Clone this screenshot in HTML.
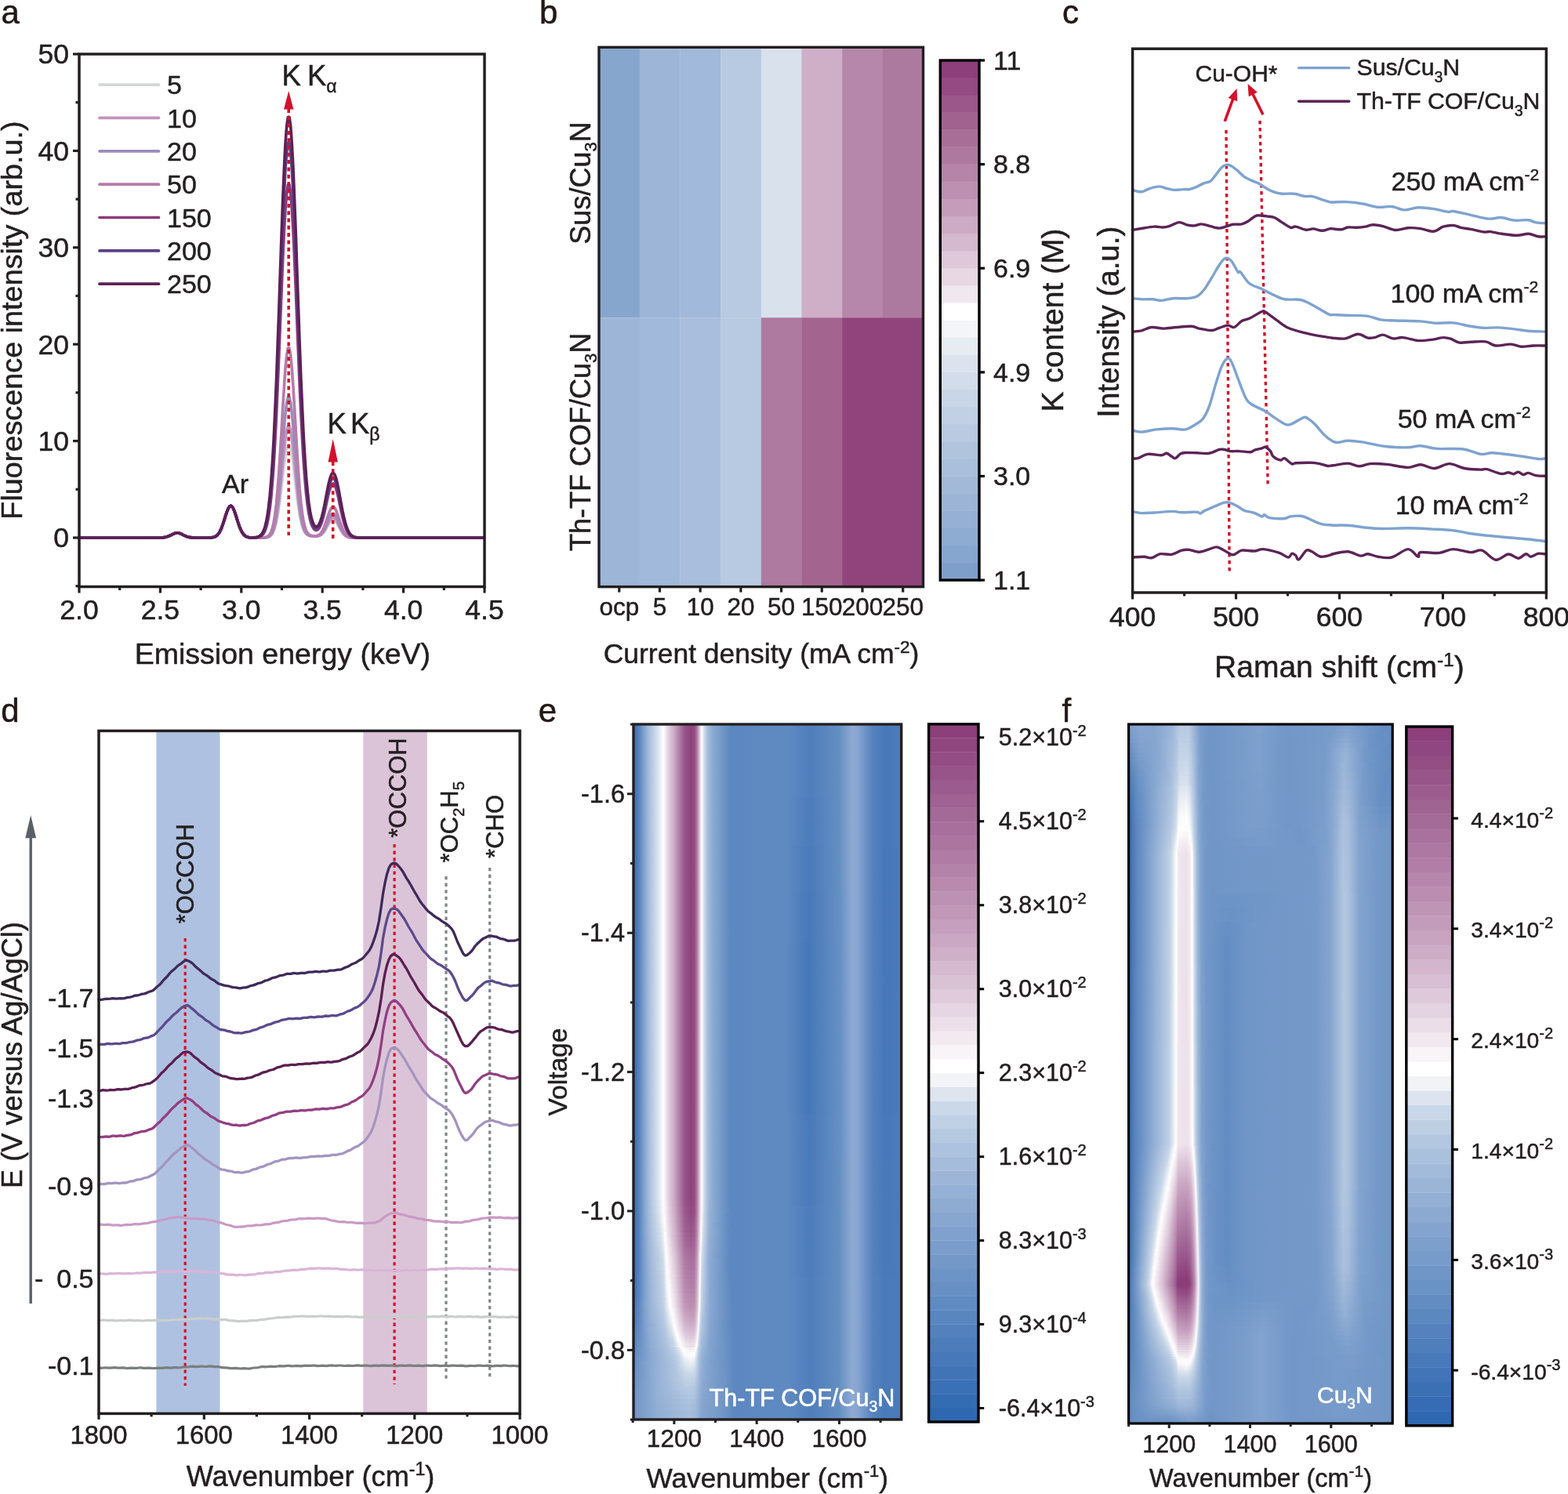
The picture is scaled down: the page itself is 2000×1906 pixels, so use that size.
<!DOCTYPE html>
<html><head><meta charset="utf-8"><title>Figure</title>
<style>html,body{margin:0;padding:0;background:#fff;}svg{display:block;}</style>
</head><body>
<svg width="2000" height="1906" viewBox="0 0 2000 1906" font-family="&apos;Liberation Sans&apos;, Arial, Helvetica, sans-serif">
<rect width="2000" height="1906" fill="#fff"/>
<text x="1.4" y="30.3" font-size="42" fill="#231815" stroke="#231815" stroke-width="0.5">a</text>
<path d="M101 686 102.7 686 104.3 686 106 686 107.6 686 109.3 686 110.9 686 112.6 686 114.2 686 115.9 686 117.5 686 119.2 686 120.9 686 122.5 686 124.2 686 125.8 686 127.5 686 129.1 686 130.8 686 132.4 686 134.1 686 135.7 686 137.4 686 139.1 686 140.7 686 142.4 686 144 686 145.7 686 147.3 686 149 686 150.6 686 152.3 686 153.9 686 155.6 686 157.2 686 158.9 686 160.6 686 162.2 686 163.9 686 165.5 686 167.2 686 168.8 686 170.5 686 172.1 686 173.8 686 175.4 686 177.1 686 178.8 686 180.4 686 182.1 686 183.7 686 185.4 686 187 686 188.7 686 190.3 686 192 686 193.6 686 195.3 686 197 686 198.6 686 200.3 686 201.9 686 203.6 686 205.2 685.9 206.9 685.8 208.5 685.7 210.2 685.5 211.8 685.1 213.5 684.6 215.2 684 216.8 683.3 218.5 682.5 220.1 681.6 221.8 680.8 223.4 680.2 225.1 679.9 226.7 679.9 228.4 680.1 230 680.7 231.7 681.4 233.4 682.3 235 683.1 236.7 683.9 238.3 684.5 240 685 241.6 685.4 243.3 685.6 244.9 685.8 246.6 685.9 248.2 685.9 249.9 686 251.6 686 253.2 686 254.9 686 256.5 686 258.2 686 259.8 686 261.5 686 263.1 686 264.8 686 266.4 685.9 268.1 685.9 269.7 685.8 271.4 685.5 273.1 685.2 274.7 684.5 276.4 683.4 278 681.8 279.7 679.5 281.3 676.4 283 672.5 284.6 667.8 286.3 662.6 287.9 657.3 289.6 652.4 291.3 648.5 292.9 646 294.6 645.3 296.2 646.5 297.9 649.4 299.5 653.6 301.2 658.6 302.8 664 304.5 669.1 306.1 673.6 307.8 677.3 309.5 680.2 311.1 682.3 312.8 683.7 314.4 684.7 316.1 685.3 317.7 685.6 319.4 685.8 321 685.9 322.7 686 324.3 686 326 686 327.7 686 329.3 686 331 686 332.6 686 334.3 686 335.9 685.9 337.6 685.9 339.2 685.7 340.9 685.5 342.5 685 344.2 684.2 345.9 682.9 347.5 680.8 349.2 677.6 350.8 672.9 352.5 666.5 354.1 658.1 355.8 647.5 357.4 635.1 359.1 621.3 360.7 607 362.4 593.3 364 581.4 365.7 572.7 367.4 568.1 369 568.1 370.7 572.7 372.3 581.3 374 593.1 375.6 606.8 377.3 621 378.9 634.7 380.6 647 382.2 657.4 383.9 665.7 385.6 671.9 387.2 676.4 388.9 679.4 390.5 681.4 392.2 682.6 393.8 683.2 395.5 683.6 397.1 683.9 398.8 684 400.4 684.1 402.1 684.1 403.8 684.1 405.4 684 407.1 683.6 408.7 682.9 410.4 681.9 412 680.3 413.7 678.3 415.3 675.8 417 673 418.6 670.1 420.3 667.4 422 665.3 423.6 664 425.3 663.8 426.9 664.6 428.6 666.4 430.2 668.9 431.9 671.8 433.5 674.7 435.2 677.5 436.8 679.9 438.5 681.9 440.2 683.3 441.8 684.3 443.5 685 445.1 685.5 446.8 685.7 448.4 685.9 450.1 685.9 451.7 686 453.4 686 455 686 456.7 686 458.4 686 460 686 461.7 686 463.3 686 465 686 466.6 686 468.3 686 469.9 686 471.6 686 473.2 686 474.9 686 476.5 686 478.2 686 479.9 686 481.5 686 483.2 686 484.8 686 486.5 686 488.1 686 489.8 686 491.4 686 493.1 686 494.7 686 496.4 686 498.1 686 499.7 686 501.4 686 503 686 504.7 686 506.3 686 508 686 509.6 686 511.3 686 512.9 686 514.6 686 516.3 686 517.9 686 519.6 686 521.2 686 522.9 686 524.5 686 526.2 686 527.8 686 529.5 686 531.1 686 532.8 686 534.5 686 536.1 686 537.8 686 539.4 686 541.1 686 542.7 686 544.4 686 546 686 547.7 686 549.3 686 551 686 552.7 686 554.3 686 556 686 557.6 686 559.3 686 560.9 686 562.6 686 564.2 686 565.9 686 567.5 686 569.2 686 570.8 686 572.5 686 574.2 686 575.8 686 577.5 686 579.1 686 580.8 686 582.4 686 584.1 686 585.7 686 587.4 686 589 686 590.7 686 592.4 686 594 686 595.7 686 597.3 686 599 686 600.6 686 602.3 686 603.9 686 605.6 686 607.2 686 608.9 686 610.6 686 612.2 686 613.9 686 615.5 686 617.2 686" fill="none" stroke="#d4d7d6" stroke-width="3.7" stroke-linejoin="round" stroke-linecap="round"/>
<path d="M101 686 102.7 686 104.3 686 106 686 107.6 686 109.3 686 110.9 686 112.6 686 114.2 686 115.9 686 117.5 686 119.2 686 120.9 686 122.5 686 124.2 686 125.8 686 127.5 686 129.1 686 130.8 686 132.4 686 134.1 686 135.7 686 137.4 686 139.1 686 140.7 686 142.4 686 144 686 145.7 686 147.3 686 149 686 150.6 686 152.3 686 153.9 686 155.6 686 157.2 686 158.9 686 160.6 686 162.2 686 163.9 686 165.5 686 167.2 686 168.8 686 170.5 686 172.1 686 173.8 686 175.4 686 177.1 686 178.8 686 180.4 686 182.1 686 183.7 686 185.4 686 187 686 188.7 686 190.3 686 192 686 193.6 686 195.3 686 197 686 198.6 686 200.3 686 201.9 686 203.6 686 205.2 685.9 206.9 685.8 208.5 685.7 210.2 685.5 211.8 685.1 213.5 684.6 215.2 684 216.8 683.3 218.5 682.5 220.1 681.6 221.8 680.8 223.4 680.2 225.1 679.9 226.7 679.9 228.4 680.1 230 680.7 231.7 681.4 233.4 682.3 235 683.1 236.7 683.9 238.3 684.5 240 685 241.6 685.4 243.3 685.6 244.9 685.8 246.6 685.9 248.2 685.9 249.9 686 251.6 686 253.2 686 254.9 686 256.5 686 258.2 686 259.8 686 261.5 686 263.1 686 264.8 686 266.4 685.9 268.1 685.9 269.7 685.8 271.4 685.5 273.1 685.2 274.7 684.5 276.4 683.4 278 681.8 279.7 679.5 281.3 676.4 283 672.5 284.6 667.8 286.3 662.6 287.9 657.3 289.6 652.4 291.3 648.5 292.9 646 294.6 645.3 296.2 646.5 297.9 649.4 299.5 653.6 301.2 658.6 302.8 664 304.5 669.1 306.1 673.6 307.8 677.3 309.5 680.2 311.1 682.3 312.8 683.7 314.4 684.7 316.1 685.3 317.7 685.6 319.4 685.8 321 685.9 322.7 686 324.3 686 326 686 327.7 686 329.3 686 331 686 332.6 686 334.3 686 335.9 685.9 337.6 685.8 339.2 685.7 340.9 685.4 342.5 684.8 344.2 683.9 345.9 682.3 347.5 679.7 349.2 675.8 350.8 670.2 352.5 662.5 354.1 652.3 355.8 639.5 357.4 624.5 359.1 607.8 360.7 590.5 362.4 574 364 559.7 365.7 549.1 367.4 543.5 369 543.5 370.7 549.1 372.3 559.6 374 573.8 375.6 590.3 377.3 607.5 378.9 624.1 380.6 639 382.2 651.6 383.9 661.6 385.6 669.2 387.2 674.6 388.9 678.3 390.5 680.7 392.2 682.2 393.8 683 395.5 683.5 397.1 683.8 398.8 684 400.4 684.1 402.1 684.1 403.8 684 405.4 683.8 407.1 683.4 408.7 682.6 410.4 681.3 412 679.5 413.7 677.1 415.3 674.2 417 670.9 418.6 667.5 420.3 664.4 422 661.9 423.6 660.4 425.3 660.1 426.9 661 428.6 663.1 430.2 666 431.9 669.4 433.5 672.9 435.2 676.1 436.8 678.9 438.5 681.2 440.2 682.9 441.8 684.1 443.5 684.9 445.1 685.4 446.8 685.7 448.4 685.8 450.1 685.9 451.7 686 453.4 686 455 686 456.7 686 458.4 686 460 686 461.7 686 463.3 686 465 686 466.6 686 468.3 686 469.9 686 471.6 686 473.2 686 474.9 686 476.5 686 478.2 686 479.9 686 481.5 686 483.2 686 484.8 686 486.5 686 488.1 686 489.8 686 491.4 686 493.1 686 494.7 686 496.4 686 498.1 686 499.7 686 501.4 686 503 686 504.7 686 506.3 686 508 686 509.6 686 511.3 686 512.9 686 514.6 686 516.3 686 517.9 686 519.6 686 521.2 686 522.9 686 524.5 686 526.2 686 527.8 686 529.5 686 531.1 686 532.8 686 534.5 686 536.1 686 537.8 686 539.4 686 541.1 686 542.7 686 544.4 686 546 686 547.7 686 549.3 686 551 686 552.7 686 554.3 686 556 686 557.6 686 559.3 686 560.9 686 562.6 686 564.2 686 565.9 686 567.5 686 569.2 686 570.8 686 572.5 686 574.2 686 575.8 686 577.5 686 579.1 686 580.8 686 582.4 686 584.1 686 585.7 686 587.4 686 589 686 590.7 686 592.4 686 594 686 595.7 686 597.3 686 599 686 600.6 686 602.3 686 603.9 686 605.6 686 607.2 686 608.9 686 610.6 686 612.2 686 613.9 686 615.5 686 617.2 686" fill="none" stroke="#c393bf" stroke-width="3.7" stroke-linejoin="round" stroke-linecap="round"/>
<path d="M101 686 102.7 686 104.3 686 106 686 107.6 686 109.3 686 110.9 686 112.6 686 114.2 686 115.9 686 117.5 686 119.2 686 120.9 686 122.5 686 124.2 686 125.8 686 127.5 686 129.1 686 130.8 686 132.4 686 134.1 686 135.7 686 137.4 686 139.1 686 140.7 686 142.4 686 144 686 145.7 686 147.3 686 149 686 150.6 686 152.3 686 153.9 686 155.6 686 157.2 686 158.9 686 160.6 686 162.2 686 163.9 686 165.5 686 167.2 686 168.8 686 170.5 686 172.1 686 173.8 686 175.4 686 177.1 686 178.8 686 180.4 686 182.1 686 183.7 686 185.4 686 187 686 188.7 686 190.3 686 192 686 193.6 686 195.3 686 197 686 198.6 686 200.3 686 201.9 686 203.6 686 205.2 685.9 206.9 685.8 208.5 685.7 210.2 685.5 211.8 685.1 213.5 684.6 215.2 684 216.8 683.3 218.5 682.5 220.1 681.6 221.8 680.8 223.4 680.2 225.1 679.9 226.7 679.9 228.4 680.1 230 680.7 231.7 681.4 233.4 682.3 235 683.1 236.7 683.9 238.3 684.5 240 685 241.6 685.4 243.3 685.6 244.9 685.8 246.6 685.9 248.2 685.9 249.9 686 251.6 686 253.2 686 254.9 686 256.5 686 258.2 686 259.8 686 261.5 686 263.1 686 264.8 686 266.4 685.9 268.1 685.9 269.7 685.8 271.4 685.5 273.1 685.2 274.7 684.5 276.4 683.4 278 681.8 279.7 679.5 281.3 676.4 283 672.5 284.6 667.8 286.3 662.6 287.9 657.3 289.6 652.4 291.3 648.5 292.9 646 294.6 645.3 296.2 646.5 297.9 649.4 299.5 653.6 301.2 658.6 302.8 664 304.5 669.1 306.1 673.6 307.8 677.3 309.5 680.2 311.1 682.3 312.8 683.7 314.4 684.7 316.1 685.3 317.7 685.6 319.4 685.8 321 685.9 322.7 686 324.3 686 326 686 327.7 686 329.3 686 331 686 332.6 686 334.3 686 335.9 685.9 337.6 685.8 339.2 685.6 340.9 685.2 342.5 684.5 344.2 683.3 345.9 681.3 347.5 678.1 349.2 673.2 350.8 666.1 352.5 656.4 354.1 643.5 355.8 627.5 357.4 608.6 359.1 587.6 360.7 565.8 362.4 545 364 527 365.7 513.7 367.4 506.7 369 506.7 370.7 513.7 372.3 526.9 374 544.8 375.6 565.6 377.3 587.3 378.9 608.2 380.6 627 382.2 642.8 383.9 655.5 385.6 665.1 387.2 672 388.9 676.7 390.5 679.7 392.2 681.6 393.8 682.7 395.5 683.4 397.1 683.7 398.8 683.9 400.4 684 402.1 684.1 403.8 684 405.4 683.7 407.1 683.1 408.7 682.1 410.4 680.6 412 678.4 413.7 675.5 415.3 672 417 668.1 418.6 664 420.3 660.3 422 657.3 423.6 655.5 425.3 655.2 426.9 656.3 428.6 658.8 430.2 662.2 431.9 666.2 433.5 670.4 435.2 674.2 436.8 677.6 438.5 680.3 440.2 682.3 441.8 683.7 443.5 684.6 445.1 685.2 446.8 685.6 448.4 685.8 450.1 685.9 451.7 686 453.4 686 455 686 456.7 686 458.4 686 460 686 461.7 686 463.3 686 465 686 466.6 686 468.3 686 469.9 686 471.6 686 473.2 686 474.9 686 476.5 686 478.2 686 479.9 686 481.5 686 483.2 686 484.8 686 486.5 686 488.1 686 489.8 686 491.4 686 493.1 686 494.7 686 496.4 686 498.1 686 499.7 686 501.4 686 503 686 504.7 686 506.3 686 508 686 509.6 686 511.3 686 512.9 686 514.6 686 516.3 686 517.9 686 519.6 686 521.2 686 522.9 686 524.5 686 526.2 686 527.8 686 529.5 686 531.1 686 532.8 686 534.5 686 536.1 686 537.8 686 539.4 686 541.1 686 542.7 686 544.4 686 546 686 547.7 686 549.3 686 551 686 552.7 686 554.3 686 556 686 557.6 686 559.3 686 560.9 686 562.6 686 564.2 686 565.9 686 567.5 686 569.2 686 570.8 686 572.5 686 574.2 686 575.8 686 577.5 686 579.1 686 580.8 686 582.4 686 584.1 686 585.7 686 587.4 686 589 686 590.7 686 592.4 686 594 686 595.7 686 597.3 686 599 686 600.6 686 602.3 686 603.9 686 605.6 686 607.2 686 608.9 686 610.6 686 612.2 686 613.9 686 615.5 686 617.2 686" fill="none" stroke="#9c8bba" stroke-width="3.7" stroke-linejoin="round" stroke-linecap="round"/>
<path d="M101 686 102.7 686 104.3 686 106 686 107.6 686 109.3 686 110.9 686 112.6 686 114.2 686 115.9 686 117.5 686 119.2 686 120.9 686 122.5 686 124.2 686 125.8 686 127.5 686 129.1 686 130.8 686 132.4 686 134.1 686 135.7 686 137.4 686 139.1 686 140.7 686 142.4 686 144 686 145.7 686 147.3 686 149 686 150.6 686 152.3 686 153.9 686 155.6 686 157.2 686 158.9 686 160.6 686 162.2 686 163.9 686 165.5 686 167.2 686 168.8 686 170.5 686 172.1 686 173.8 686 175.4 686 177.1 686 178.8 686 180.4 686 182.1 686 183.7 686 185.4 686 187 686 188.7 686 190.3 686 192 686 193.6 686 195.3 686 197 686 198.6 686 200.3 686 201.9 686 203.6 686 205.2 685.9 206.9 685.8 208.5 685.7 210.2 685.5 211.8 685.1 213.5 684.6 215.2 684 216.8 683.3 218.5 682.5 220.1 681.6 221.8 680.8 223.4 680.2 225.1 679.9 226.7 679.9 228.4 680.1 230 680.7 231.7 681.4 233.4 682.3 235 683.1 236.7 683.9 238.3 684.5 240 685 241.6 685.4 243.3 685.6 244.9 685.8 246.6 685.9 248.2 685.9 249.9 686 251.6 686 253.2 686 254.9 686 256.5 686 258.2 686 259.8 686 261.5 686 263.1 686 264.8 686 266.4 685.9 268.1 685.9 269.7 685.8 271.4 685.5 273.1 685.2 274.7 684.5 276.4 683.4 278 681.8 279.7 679.5 281.3 676.4 283 672.5 284.6 667.8 286.3 662.6 287.9 657.3 289.6 652.4 291.3 648.5 292.9 646 294.6 645.3 296.2 646.5 297.9 649.4 299.5 653.6 301.2 658.6 302.8 664 304.5 669.1 306.1 673.6 307.8 677.3 309.5 680.2 311.1 682.3 312.8 683.7 314.4 684.7 316.1 685.3 317.7 685.6 319.4 685.8 321 685.9 322.7 686 324.3 686 326 686 327.7 686 329.3 686 331 686 332.6 686 334.3 685.9 335.9 685.8 337.6 685.6 339.2 685.3 340.9 684.6 342.5 683.5 344.2 681.6 345.9 678.4 347.5 673.6 349.2 666.4 350.8 656.2 352.5 642.4 354.1 624.6 355.8 602.7 357.4 577.2 359.1 549.3 360.7 520.7 362.4 493.5 364 470.2 365.7 453.1 367.4 444 369 444 370.7 453 372.3 470.1 374 493.3 375.6 520.4 377.3 549 378.9 576.8 380.6 602.1 382.2 623.9 383.9 641.5 385.6 655.2 387.2 665.2 388.9 672.2 390.5 676.9 392.2 679.9 393.8 681.7 395.5 682.8 397.1 683.4 398.8 683.7 400.4 683.8 402.1 683.8 403.8 683.6 405.4 683.1 407.1 682.2 408.7 680.8 410.4 678.6 412 675.7 413.7 671.9 415.3 667.4 417 662.4 418.6 657.4 420.3 652.8 422 649.1 423.6 647 425.3 646.5 426.9 647.9 428.6 650.9 430.2 655.1 431.9 660.1 433.5 665.3 435.2 670.2 436.8 674.4 438.5 678 440.2 680.7 441.8 682.6 443.5 684 445.1 684.8 446.8 685.3 448.4 685.7 450.1 685.8 451.7 685.9 453.4 686 455 686 456.7 686 458.4 686 460 686 461.7 686 463.3 686 465 686 466.6 686 468.3 686 469.9 686 471.6 686 473.2 686 474.9 686 476.5 686 478.2 686 479.9 686 481.5 686 483.2 686 484.8 686 486.5 686 488.1 686 489.8 686 491.4 686 493.1 686 494.7 686 496.4 686 498.1 686 499.7 686 501.4 686 503 686 504.7 686 506.3 686 508 686 509.6 686 511.3 686 512.9 686 514.6 686 516.3 686 517.9 686 519.6 686 521.2 686 522.9 686 524.5 686 526.2 686 527.8 686 529.5 686 531.1 686 532.8 686 534.5 686 536.1 686 537.8 686 539.4 686 541.1 686 542.7 686 544.4 686 546 686 547.7 686 549.3 686 551 686 552.7 686 554.3 686 556 686 557.6 686 559.3 686 560.9 686 562.6 686 564.2 686 565.9 686 567.5 686 569.2 686 570.8 686 572.5 686 574.2 686 575.8 686 577.5 686 579.1 686 580.8 686 582.4 686 584.1 686 585.7 686 587.4 686 589 686 590.7 686 592.4 686 594 686 595.7 686 597.3 686 599 686 600.6 686 602.3 686 603.9 686 605.6 686 607.2 686 608.9 686 610.6 686 612.2 686 613.9 686 615.5 686 617.2 686" fill="none" stroke="#b77cab" stroke-width="3.7" stroke-linejoin="round" stroke-linecap="round"/>
<path d="M101 686 102.7 686 104.3 686 106 686 107.6 686 109.3 686 110.9 686 112.6 686 114.2 686 115.9 686 117.5 686 119.2 686 120.9 686 122.5 686 124.2 686 125.8 686 127.5 686 129.1 686 130.8 686 132.4 686 134.1 686 135.7 686 137.4 686 139.1 686 140.7 686 142.4 686 144 686 145.7 686 147.3 686 149 686 150.6 686 152.3 686 153.9 686 155.6 686 157.2 686 158.9 686 160.6 686 162.2 686 163.9 686 165.5 686 167.2 686 168.8 686 170.5 686 172.1 686 173.8 686 175.4 686 177.1 686 178.8 686 180.4 686 182.1 686 183.7 686 185.4 686 187 686 188.7 686 190.3 686 192 686 193.6 686 195.3 686 197 686 198.6 686 200.3 686 201.9 686 203.6 686 205.2 685.9 206.9 685.8 208.5 685.7 210.2 685.5 211.8 685.1 213.5 684.6 215.2 684 216.8 683.3 218.5 682.5 220.1 681.6 221.8 680.8 223.4 680.2 225.1 679.9 226.7 679.9 228.4 680.1 230 680.7 231.7 681.4 233.4 682.3 235 683.1 236.7 683.9 238.3 684.5 240 685 241.6 685.4 243.3 685.6 244.9 685.8 246.6 685.9 248.2 685.9 249.9 686 251.6 686 253.2 686 254.9 686 256.5 686 258.2 686 259.8 686 261.5 686 263.1 686 264.8 686 266.4 685.9 268.1 685.9 269.7 685.8 271.4 685.5 273.1 685.2 274.7 684.5 276.4 683.4 278 681.8 279.7 679.5 281.3 676.4 283 672.5 284.6 667.8 286.3 662.6 287.9 657.3 289.6 652.4 291.3 648.5 292.9 646 294.6 645.3 296.2 646.5 297.9 649.4 299.5 653.6 301.2 658.6 302.8 664 304.5 669.1 306.1 673.6 307.8 677.3 309.5 680.2 311.1 682.3 312.8 683.7 314.4 684.7 316.1 685.3 317.7 685.6 319.4 685.8 321 685.9 322.7 685.9 324.3 685.9 326 685.8 327.7 685.6 329.3 685.3 331 684.9 332.6 684.1 334.3 682.9 335.9 681 337.6 678.1 339.2 674 340.9 668 342.5 659.7 344.2 648.5 345.9 633.7 347.5 614.9 349.2 591.6 350.8 563.5 352.5 530.8 354.1 493.9 355.8 453.9 357.4 412.1 359.1 370.3 360.7 330.6 362.4 295.3 364 266.5 365.7 246.2 367.4 235.6 369 235.5 370.7 246 372.3 266.2 374 294.8 375.6 330 377.3 369.4 378.9 410.9 380.6 452.4 382.2 492 383.9 528.4 385.6 560.6 387.2 588.2 388.9 611 390.5 629.4 392.2 643.7 393.8 654.6 395.5 662.6 397.1 668.4 398.8 672.3 400.4 674.8 402.1 676.1 403.8 676.4 405.4 675.6 407.1 673.7 408.7 670.7 410.4 666.4 412 660.9 413.7 654.4 415.3 647 417 639.3 418.6 631.9 420.3 625.4 422 620.4 423.6 617.4 425.3 616.9 426.9 618.8 428.6 622.9 430.2 628.9 431.9 636.2 433.5 644.1 435.2 652 436.8 659.4 438.5 665.9 440.2 671.4 441.8 675.7 443.5 679 445.1 681.5 446.8 683.1 448.4 684.3 450.1 685 451.7 685.4 453.4 685.7 455 685.8 456.7 685.9 458.4 686 460 686 461.7 686 463.3 686 465 686 466.6 686 468.3 686 469.9 686 471.6 686 473.2 686 474.9 686 476.5 686 478.2 686 479.9 686 481.5 686 483.2 686 484.8 686 486.5 686 488.1 686 489.8 686 491.4 686 493.1 686 494.7 686 496.4 686 498.1 686 499.7 686 501.4 686 503 686 504.7 686 506.3 686 508 686 509.6 686 511.3 686 512.9 686 514.6 686 516.3 686 517.9 686 519.6 686 521.2 686 522.9 686 524.5 686 526.2 686 527.8 686 529.5 686 531.1 686 532.8 686 534.5 686 536.1 686 537.8 686 539.4 686 541.1 686 542.7 686 544.4 686 546 686 547.7 686 549.3 686 551 686 552.7 686 554.3 686 556 686 557.6 686 559.3 686 560.9 686 562.6 686 564.2 686 565.9 686 567.5 686 569.2 686 570.8 686 572.5 686 574.2 686 575.8 686 577.5 686 579.1 686 580.8 686 582.4 686 584.1 686 585.7 686 587.4 686 589 686 590.7 686 592.4 686 594 686 595.7 686 597.3 686 599 686 600.6 686 602.3 686 603.9 686 605.6 686 607.2 686 608.9 686 610.6 686 612.2 686 613.9 686 615.5 686 617.2 686" fill="none" stroke="#8c3a7c" stroke-width="3.7" stroke-linejoin="round" stroke-linecap="round"/>
<path d="M101 686 102.7 686 104.3 686 106 686 107.6 686 109.3 686 110.9 686 112.6 686 114.2 686 115.9 686 117.5 686 119.2 686 120.9 686 122.5 686 124.2 686 125.8 686 127.5 686 129.1 686 130.8 686 132.4 686 134.1 686 135.7 686 137.4 686 139.1 686 140.7 686 142.4 686 144 686 145.7 686 147.3 686 149 686 150.6 686 152.3 686 153.9 686 155.6 686 157.2 686 158.9 686 160.6 686 162.2 686 163.9 686 165.5 686 167.2 686 168.8 686 170.5 686 172.1 686 173.8 686 175.4 686 177.1 686 178.8 686 180.4 686 182.1 686 183.7 686 185.4 686 187 686 188.7 686 190.3 686 192 686 193.6 686 195.3 686 197 686 198.6 686 200.3 686 201.9 686 203.6 686 205.2 685.9 206.9 685.8 208.5 685.7 210.2 685.5 211.8 685.1 213.5 684.6 215.2 684 216.8 683.3 218.5 682.5 220.1 681.6 221.8 680.8 223.4 680.2 225.1 679.9 226.7 679.9 228.4 680.1 230 680.7 231.7 681.4 233.4 682.3 235 683.1 236.7 683.9 238.3 684.5 240 685 241.6 685.4 243.3 685.6 244.9 685.8 246.6 685.9 248.2 685.9 249.9 686 251.6 686 253.2 686 254.9 686 256.5 686 258.2 686 259.8 686 261.5 686 263.1 686 264.8 686 266.4 685.9 268.1 685.9 269.7 685.8 271.4 685.5 273.1 685.2 274.7 684.5 276.4 683.4 278 681.8 279.7 679.5 281.3 676.4 283 672.5 284.6 667.8 286.3 662.6 287.9 657.3 289.6 652.4 291.3 648.5 292.9 646 294.6 645.3 296.2 646.5 297.9 649.4 299.5 653.6 301.2 658.6 302.8 664 304.5 669.1 306.1 673.6 307.8 677.3 309.5 680.2 311.1 682.3 312.8 683.7 314.4 684.7 316.1 685.3 317.7 685.6 319.4 685.8 321 685.9 322.7 685.9 324.3 685.8 326 685.7 327.7 685.5 329.3 685.1 331 684.4 332.6 683.4 334.3 681.8 335.9 679.4 337.6 675.8 339.2 670.6 340.9 663.3 342.5 653.3 344.2 640 345.9 622.7 347.5 600.9 349.2 574.1 350.8 542.3 352.5 505.5 354.1 464.4 355.8 420.1 357.4 374.1 359.1 328.4 360.7 285.3 362.4 247 364 215.9 365.7 194 367.4 182.6 369 182.6 370.7 193.8 372.3 215.6 374 246.5 375.6 284.5 377.3 327.4 378.9 372.8 380.6 418.4 382.2 462.2 383.9 502.8 385.6 539 387.2 570.3 388.9 596.5 390.5 617.8 392.2 634.6 393.8 647.6 395.5 657.2 397.1 664.2 398.8 669.1 400.4 672.2 402.1 673.8 403.8 674.2 405.4 673.3 407.1 671.2 408.7 667.7 410.4 662.9 412 656.8 413.7 649.6 415.3 641.6 417 633.4 418.6 625.4 420.3 618.4 422 613.1 423.6 610 425.3 609.4 426.9 611.5 428.6 615.9 430.2 622.2 431.9 630 433.5 638.5 435.2 647.1 436.8 655.2 438.5 662.4 440.2 668.6 441.8 673.6 443.5 677.4 445.1 680.3 446.8 682.3 448.4 683.7 450.1 684.6 451.7 685.2 453.4 685.6 455 685.8 456.7 685.9 458.4 685.9 460 686 461.7 686 463.3 686 465 686 466.6 686 468.3 686 469.9 686 471.6 686 473.2 686 474.9 686 476.5 686 478.2 686 479.9 686 481.5 686 483.2 686 484.8 686 486.5 686 488.1 686 489.8 686 491.4 686 493.1 686 494.7 686 496.4 686 498.1 686 499.7 686 501.4 686 503 686 504.7 686 506.3 686 508 686 509.6 686 511.3 686 512.9 686 514.6 686 516.3 686 517.9 686 519.6 686 521.2 686 522.9 686 524.5 686 526.2 686 527.8 686 529.5 686 531.1 686 532.8 686 534.5 686 536.1 686 537.8 686 539.4 686 541.1 686 542.7 686 544.4 686 546 686 547.7 686 549.3 686 551 686 552.7 686 554.3 686 556 686 557.6 686 559.3 686 560.9 686 562.6 686 564.2 686 565.9 686 567.5 686 569.2 686 570.8 686 572.5 686 574.2 686 575.8 686 577.5 686 579.1 686 580.8 686 582.4 686 584.1 686 585.7 686 587.4 686 589 686 590.7 686 592.4 686 594 686 595.7 686 597.3 686 599 686 600.6 686 602.3 686 603.9 686 605.6 686 607.2 686 608.9 686 610.6 686 612.2 686 613.9 686 615.5 686 617.2 686" fill="none" stroke="#5a4185" stroke-width="3.7" stroke-linejoin="round" stroke-linecap="round"/>
<path d="M101 686 102.7 686 104.3 686 106 686 107.6 686 109.3 686 110.9 686 112.6 686 114.2 686 115.9 686 117.5 686 119.2 686 120.9 686 122.5 686 124.2 686 125.8 686 127.5 686 129.1 686 130.8 686 132.4 686 134.1 686 135.7 686 137.4 686 139.1 686 140.7 686 142.4 686 144 686 145.7 686 147.3 686 149 686 150.6 686 152.3 686 153.9 686 155.6 686 157.2 686 158.9 686 160.6 686 162.2 686 163.9 686 165.5 686 167.2 686 168.8 686 170.5 686 172.1 686 173.8 686 175.4 686 177.1 686 178.8 686 180.4 686 182.1 686 183.7 686 185.4 686 187 686 188.7 686 190.3 686 192 686 193.6 686 195.3 686 197 686 198.6 686 200.3 686 201.9 686 203.6 686 205.2 685.9 206.9 685.8 208.5 685.7 210.2 685.5 211.8 685.1 213.5 684.6 215.2 684 216.8 683.3 218.5 682.5 220.1 681.6 221.8 680.8 223.4 680.2 225.1 679.9 226.7 679.9 228.4 680.1 230 680.7 231.7 681.4 233.4 682.3 235 683.1 236.7 683.9 238.3 684.5 240 685 241.6 685.4 243.3 685.6 244.9 685.8 246.6 685.9 248.2 685.9 249.9 686 251.6 686 253.2 686 254.9 686 256.5 686 258.2 686 259.8 686 261.5 686 263.1 686 264.8 686 266.4 685.9 268.1 685.9 269.7 685.8 271.4 685.5 273.1 685.2 274.7 684.5 276.4 683.4 278 681.8 279.7 679.5 281.3 676.4 283 672.5 284.6 667.8 286.3 662.6 287.9 657.3 289.6 652.4 291.3 648.5 292.9 646 294.6 645.3 296.2 646.5 297.9 649.4 299.5 653.6 301.2 658.6 302.8 664 304.5 669.1 306.1 673.6 307.8 677.3 309.5 680.2 311.1 682.3 312.8 683.7 314.4 684.7 316.1 685.3 317.7 685.6 319.4 685.8 321 685.8 322.7 685.8 324.3 685.7 326 685.6 327.7 685.3 329.3 684.7 331 683.9 332.6 682.6 334.3 680.7 335.9 677.7 337.6 673.4 339.2 667.3 340.9 658.9 342.5 647.5 344.2 632.4 345.9 613.2 347.5 589.1 349.2 560 350.8 525.5 352.5 486.2 354.1 442.5 355.8 395.8 357.4 347.6 359.1 300 360.7 255.2 362.4 215.6 364 183.6 365.7 161 367.4 149.3 369 149.3 370.7 160.8 372.3 183.3 374 215.1 375.6 254.4 377.3 298.9 378.9 346.2 380.6 394 382.2 440.2 383.9 483.3 385.6 522.1 387.2 555.9 388.9 584.5 390.5 608 392.2 626.7 393.8 641.3 395.5 652.3 397.1 660.4 398.8 666 400.4 669.7 402.1 671.6 403.8 672.1 405.4 671.1 407.1 668.8 408.7 664.9 410.4 659.7 412 653.1 413.7 645.3 415.3 636.8 417 628.1 418.6 619.8 420.3 612.6 422 607.1 423.6 603.9 425.3 603.3 426.9 605.3 428.6 609.9 430.2 616.5 431.9 624.6 433.5 633.6 435.2 642.6 436.8 651.3 438.5 659.2 440.2 665.9 441.8 671.4 443.5 675.8 445.1 679.1 446.8 681.5 448.4 683.1 450.1 684.2 451.7 684.9 453.4 685.4 455 685.7 456.7 685.8 458.4 685.9 460 686 461.7 686 463.3 686 465 686 466.6 686 468.3 686 469.9 686 471.6 686 473.2 686 474.9 686 476.5 686 478.2 686 479.9 686 481.5 686 483.2 686 484.8 686 486.5 686 488.1 686 489.8 686 491.4 686 493.1 686 494.7 686 496.4 686 498.1 686 499.7 686 501.4 686 503 686 504.7 686 506.3 686 508 686 509.6 686 511.3 686 512.9 686 514.6 686 516.3 686 517.9 686 519.6 686 521.2 686 522.9 686 524.5 686 526.2 686 527.8 686 529.5 686 531.1 686 532.8 686 534.5 686 536.1 686 537.8 686 539.4 686 541.1 686 542.7 686 544.4 686 546 686 547.7 686 549.3 686 551 686 552.7 686 554.3 686 556 686 557.6 686 559.3 686 560.9 686 562.6 686 564.2 686 565.9 686 567.5 686 569.2 686 570.8 686 572.5 686 574.2 686 575.8 686 577.5 686 579.1 686 580.8 686 582.4 686 584.1 686 585.7 686 587.4 686 589 686 590.7 686 592.4 686 594 686 595.7 686 597.3 686 599 686 600.6 686 602.3 686 603.9 686 605.6 686 607.2 686 608.9 686 610.6 686 612.2 686 613.9 686 615.5 686 617.2 686" fill="none" stroke="#5d2157" stroke-width="3.7" stroke-linejoin="round" stroke-linecap="round"/>
<line x1="368.2" y1="139" x2="368.2" y2="683" stroke="#d2112a" stroke-width="3.6" stroke-dasharray="5 4.3"/>
<polygon points="368.2,116 362,139.5 374.4,139.5" fill="#d2112a"/>
<line x1="424.7" y1="589" x2="424.7" y2="690" stroke="#d2112a" stroke-width="3.6" stroke-dasharray="5 4.3"/>
<polygon points="424.7,560 418.5,589.5 430.9,589.5" fill="#d2112a"/>
<rect x="101" y="69" width="517" height="679.5" fill="none" stroke="#231f20" stroke-width="3.5"/>
<line x1="96.5" y1="747.7" x2="101" y2="747.7" stroke="#231f20" stroke-width="3.2"/>
<line x1="93" y1="686" x2="101" y2="686" stroke="#231f20" stroke-width="3.2"/>
<text x="88" y="698.3" font-size="35.5" text-anchor="end" fill="#231f20" stroke="#231f20" stroke-width="0.5">0</text>
<line x1="96.5" y1="624.3" x2="101" y2="624.3" stroke="#231f20" stroke-width="3.2"/>
<line x1="93" y1="562.6" x2="101" y2="562.6" stroke="#231f20" stroke-width="3.2"/>
<text x="88" y="574.9" font-size="35.5" text-anchor="end" fill="#231f20" stroke="#231f20" stroke-width="0.5">10</text>
<line x1="96.5" y1="500.9" x2="101" y2="500.9" stroke="#231f20" stroke-width="3.2"/>
<line x1="93" y1="439.2" x2="101" y2="439.2" stroke="#231f20" stroke-width="3.2"/>
<text x="88" y="451.5" font-size="35.5" text-anchor="end" fill="#231f20" stroke="#231f20" stroke-width="0.5">20</text>
<line x1="96.5" y1="377.5" x2="101" y2="377.5" stroke="#231f20" stroke-width="3.2"/>
<line x1="93" y1="315.8" x2="101" y2="315.8" stroke="#231f20" stroke-width="3.2"/>
<text x="88" y="328.1" font-size="35.5" text-anchor="end" fill="#231f20" stroke="#231f20" stroke-width="0.5">30</text>
<line x1="96.5" y1="254.1" x2="101" y2="254.1" stroke="#231f20" stroke-width="3.2"/>
<line x1="93" y1="192.4" x2="101" y2="192.4" stroke="#231f20" stroke-width="3.2"/>
<text x="88" y="204.7" font-size="35.5" text-anchor="end" fill="#231f20" stroke="#231f20" stroke-width="0.5">40</text>
<line x1="96.5" y1="130.7" x2="101" y2="130.7" stroke="#231f20" stroke-width="3.2"/>
<line x1="93" y1="69" x2="101" y2="69" stroke="#231f20" stroke-width="3.2"/>
<text x="88" y="81.3" font-size="35.5" text-anchor="end" fill="#231f20" stroke="#231f20" stroke-width="0.5">50</text>
<line x1="101" y1="748.5" x2="101" y2="756.5" stroke="#231f20" stroke-width="3.2"/>
<text x="101" y="790.4" font-size="35.5" text-anchor="middle" fill="#231f20" stroke="#231f20" stroke-width="0.5">2.0</text>
<line x1="152.7" y1="748.5" x2="152.7" y2="753" stroke="#231f20" stroke-width="3.2"/>
<line x1="204.4" y1="748.5" x2="204.4" y2="756.5" stroke="#231f20" stroke-width="3.2"/>
<text x="204.4" y="790.4" font-size="35.5" text-anchor="middle" fill="#231f20" stroke="#231f20" stroke-width="0.5">2.5</text>
<line x1="256.1" y1="748.5" x2="256.1" y2="753" stroke="#231f20" stroke-width="3.2"/>
<line x1="307.8" y1="748.5" x2="307.8" y2="756.5" stroke="#231f20" stroke-width="3.2"/>
<text x="307.8" y="790.4" font-size="35.5" text-anchor="middle" fill="#231f20" stroke="#231f20" stroke-width="0.5">3.0</text>
<line x1="359.5" y1="748.5" x2="359.5" y2="753" stroke="#231f20" stroke-width="3.2"/>
<line x1="411.2" y1="748.5" x2="411.2" y2="756.5" stroke="#231f20" stroke-width="3.2"/>
<text x="411.2" y="790.4" font-size="35.5" text-anchor="middle" fill="#231f20" stroke="#231f20" stroke-width="0.5">3.5</text>
<line x1="462.9" y1="748.5" x2="462.9" y2="753" stroke="#231f20" stroke-width="3.2"/>
<line x1="514.6" y1="748.5" x2="514.6" y2="756.5" stroke="#231f20" stroke-width="3.2"/>
<text x="514.6" y="790.4" font-size="35.5" text-anchor="middle" fill="#231f20" stroke="#231f20" stroke-width="0.5">4.0</text>
<line x1="566.3" y1="748.5" x2="566.3" y2="753" stroke="#231f20" stroke-width="3.2"/>
<line x1="618" y1="748.5" x2="618" y2="756.5" stroke="#231f20" stroke-width="3.2"/>
<text x="618" y="790.4" font-size="35.5" text-anchor="middle" fill="#231f20" stroke="#231f20" stroke-width="0.5">4.5</text>
<text x="360.4" y="847" font-size="37.5" text-anchor="middle" fill="#231f20" stroke="#231f20" stroke-width="0.5">Emission energy (keV)</text>
<text x="28" y="408.5" font-size="37.8" text-anchor="middle" fill="#231f20" stroke="#231f20" stroke-width="0.5" transform="rotate(-90 28 408.5)">Fluorescence intensity (arb.u.)</text>
<line x1="127" y1="108.1" x2="202.5" y2="108.1" stroke="#d4d7d6" stroke-width="3.7" stroke-linecap="round"/>
<text x="213" y="120.3" font-size="34" fill="#231f20" stroke="#231f20" stroke-width="0.5">5</text>
<line x1="127" y1="150.4" x2="202.5" y2="150.4" stroke="#c393bf" stroke-width="3.7" stroke-linecap="round"/>
<text x="213" y="162.6" font-size="34" fill="#231f20" stroke="#231f20" stroke-width="0.5">10</text>
<line x1="127" y1="192.8" x2="202.5" y2="192.8" stroke="#9c8bba" stroke-width="3.7" stroke-linecap="round"/>
<text x="213" y="205" font-size="34" fill="#231f20" stroke="#231f20" stroke-width="0.5">20</text>
<line x1="127" y1="235.2" x2="202.5" y2="235.2" stroke="#b77cab" stroke-width="3.7" stroke-linecap="round"/>
<text x="213" y="247.3" font-size="34" fill="#231f20" stroke="#231f20" stroke-width="0.5">50</text>
<line x1="127" y1="277.5" x2="202.5" y2="277.5" stroke="#8c3a7c" stroke-width="3.7" stroke-linecap="round"/>
<text x="213" y="289.7" font-size="34" fill="#231f20" stroke="#231f20" stroke-width="0.5">150</text>
<line x1="127" y1="319.9" x2="202.5" y2="319.9" stroke="#5a4185" stroke-width="3.7" stroke-linecap="round"/>
<text x="213" y="332.1" font-size="34" fill="#231f20" stroke="#231f20" stroke-width="0.5">200</text>
<line x1="127" y1="362.2" x2="202.5" y2="362.2" stroke="#5d2157" stroke-width="3.7" stroke-linecap="round"/>
<text x="213" y="374.4" font-size="34" fill="#231f20" stroke="#231f20" stroke-width="0.5">250</text>
<text x="283" y="628.7" font-size="34" fill="#231f20" stroke="#231f20" stroke-width="0.5">Ar</text>
<text x="359.5" y="108.8" font-size="36.5" fill="#231f20" stroke="#231f20" stroke-width="0.5">K</text>
<text x="392" y="108.8" font-size="36.5" fill="#231f20" stroke="#231f20" stroke-width="0.5">K<tspan dy="9" font-size="23">&#945;</tspan></text>
<text x="417.6" y="552.8" font-size="36.5" fill="#231f20" stroke="#231f20" stroke-width="0.5">K</text>
<text x="447" y="552.8" font-size="36.5" fill="#231f20" stroke="#231f20" stroke-width="0.5">K<tspan dy="9" font-size="23">&#946;</tspan></text>
<text x="688" y="30" font-size="42" fill="#231815" stroke="#231815" stroke-width="0.5">b</text>
<rect x="764" y="60.3" width="52" height="344.9" fill="#86a6cd"/>
<rect x="764" y="405.2" width="52" height="343.4" fill="#9db6d8"/>
<rect x="815.7" y="60.3" width="52" height="344.9" fill="#9db6d8"/>
<rect x="815.7" y="405.2" width="52" height="343.4" fill="#a1b9da"/>
<rect x="867.4" y="60.3" width="52" height="344.9" fill="#a1b9da"/>
<rect x="867.4" y="405.2" width="52" height="343.4" fill="#a9bedc"/>
<rect x="919.1" y="60.3" width="52" height="344.9" fill="#b8cae1"/>
<rect x="919.1" y="405.2" width="52" height="343.4" fill="#b8cae1"/>
<rect x="970.8" y="60.3" width="52" height="344.9" fill="#d8e1ec"/>
<rect x="970.8" y="405.2" width="52" height="343.4" fill="#ae7aa0"/>
<rect x="1022.4" y="60.3" width="52" height="344.9" fill="#cfaec8"/>
<rect x="1022.4" y="405.2" width="52" height="343.4" fill="#a3658f"/>
<rect x="1074.1" y="60.3" width="52" height="344.9" fill="#b687ab"/>
<rect x="1074.1" y="405.2" width="52" height="343.4" fill="#91437c"/>
<rect x="1125.8" y="60.3" width="52" height="344.9" fill="#ad7a9f"/>
<rect x="1125.8" y="405.2" width="52" height="343.4" fill="#91437c"/>
<rect x="764" y="60.3" width="413.5" height="688.3" fill="none" stroke="#231f20" stroke-width="3.4"/>
<line x1="789.8" y1="748.6" x2="789.8" y2="755.6" stroke="#231f20" stroke-width="3.2"/>
<text x="789.8" y="785.4" font-size="31.5" text-anchor="middle" fill="#231f20" stroke="#231f20" stroke-width="0.5">ocp</text>
<line x1="841.5" y1="748.6" x2="841.5" y2="755.6" stroke="#231f20" stroke-width="3.2"/>
<text x="841.5" y="785.4" font-size="31.5" text-anchor="middle" fill="#231f20" stroke="#231f20" stroke-width="0.5">5</text>
<line x1="893.2" y1="748.6" x2="893.2" y2="755.6" stroke="#231f20" stroke-width="3.2"/>
<text x="893.2" y="785.4" font-size="31.5" text-anchor="middle" fill="#231f20" stroke="#231f20" stroke-width="0.5">10</text>
<line x1="944.9" y1="748.6" x2="944.9" y2="755.6" stroke="#231f20" stroke-width="3.2"/>
<text x="944.9" y="785.4" font-size="31.5" text-anchor="middle" fill="#231f20" stroke="#231f20" stroke-width="0.5">20</text>
<line x1="996.6" y1="748.6" x2="996.6" y2="755.6" stroke="#231f20" stroke-width="3.2"/>
<text x="996.6" y="785.4" font-size="31.5" text-anchor="middle" fill="#231f20" stroke="#231f20" stroke-width="0.5">50</text>
<line x1="1048.3" y1="748.6" x2="1048.3" y2="755.6" stroke="#231f20" stroke-width="3.2"/>
<text x="1048.3" y="785.4" font-size="31.5" text-anchor="middle" fill="#231f20" stroke="#231f20" stroke-width="0.5">150</text>
<line x1="1100" y1="748.6" x2="1100" y2="755.6" stroke="#231f20" stroke-width="3.2"/>
<text x="1100" y="785.4" font-size="31.5" text-anchor="middle" fill="#231f20" stroke="#231f20" stroke-width="0.5">200</text>
<line x1="1151.7" y1="748.6" x2="1151.7" y2="755.6" stroke="#231f20" stroke-width="3.2"/>
<text x="1151.7" y="785.4" font-size="31.5" text-anchor="middle" fill="#231f20" stroke="#231f20" stroke-width="0.5">250</text>
<text x="971" y="845.6" font-size="35.5" text-anchor="middle" fill="#231f20" stroke="#231f20" stroke-width="0.5">Current density (mA cm<tspan dy="-13" font-size="22.5">-2</tspan><tspan dy="13">)</tspan></text>
<text x="753" y="233.5" font-size="36" text-anchor="middle" fill="#231f20" stroke="#231f20" stroke-width="0.5" transform="rotate(-90 753 233.5)">Sus/Cu<tspan dy="8" font-size="22">3</tspan><tspan dy="-8">N</tspan></text>
<text x="753" y="563.8" font-size="36" text-anchor="middle" fill="#231f20" stroke="#231f20" stroke-width="0.5" transform="rotate(-90 753 563.8)">Th-TF COF/Cu<tspan dy="8" font-size="22">3</tspan><tspan dy="-8">N</tspan></text>
<rect x="1199.3" y="717.8" width="49.7" height="22.5" fill="#7f9fcb"/>
<rect x="1199.3" y="695.7" width="49.7" height="22.5" fill="#87a6cf"/>
<rect x="1199.3" y="673.6" width="49.7" height="22.5" fill="#8eabd2"/>
<rect x="1199.3" y="651.5" width="49.7" height="22.5" fill="#95b0d4"/>
<rect x="1199.3" y="629.4" width="49.7" height="22.5" fill="#9cb5d6"/>
<rect x="1199.3" y="607.3" width="49.7" height="22.5" fill="#a3b9d8"/>
<rect x="1199.3" y="585.2" width="49.7" height="22.5" fill="#aabfdb"/>
<rect x="1199.3" y="563.1" width="49.7" height="22.5" fill="#b1c4dd"/>
<rect x="1199.3" y="541" width="49.7" height="22.5" fill="#b9cae1"/>
<rect x="1199.3" y="518.9" width="49.7" height="22.5" fill="#c1d0e4"/>
<rect x="1199.3" y="496.8" width="49.7" height="22.5" fill="#c9d6e7"/>
<rect x="1199.3" y="474.7" width="49.7" height="22.5" fill="#d2dcea"/>
<rect x="1199.3" y="452.6" width="49.7" height="22.5" fill="#dce3ee"/>
<rect x="1199.3" y="430.5" width="49.7" height="22.5" fill="#e7ebf2"/>
<rect x="1199.3" y="408.4" width="49.7" height="22.5" fill="#f4f5f8"/>
<rect x="1199.3" y="386.2" width="49.7" height="22.5" fill="#ffffff"/>
<rect x="1199.3" y="364.1" width="49.7" height="22.5" fill="#f0e8ee"/>
<rect x="1199.3" y="342" width="49.7" height="22.5" fill="#e7d8e3"/>
<rect x="1199.3" y="319.9" width="49.7" height="22.5" fill="#dec8da"/>
<rect x="1199.3" y="297.8" width="49.7" height="22.5" fill="#d5b9cf"/>
<rect x="1199.3" y="275.7" width="49.7" height="22.5" fill="#cdaac5"/>
<rect x="1199.3" y="253.6" width="49.7" height="22.5" fill="#c59dbb"/>
<rect x="1199.3" y="231.5" width="49.7" height="22.5" fill="#bd90b1"/>
<rect x="1199.3" y="209.4" width="49.7" height="22.5" fill="#b584a8"/>
<rect x="1199.3" y="187.3" width="49.7" height="22.5" fill="#ae799f"/>
<rect x="1199.3" y="165.2" width="49.7" height="22.5" fill="#a96e98"/>
<rect x="1199.3" y="143.1" width="49.7" height="22.5" fill="#a26290"/>
<rect x="1199.3" y="121" width="49.7" height="22.5" fill="#9b568a"/>
<rect x="1199.3" y="98.9" width="49.7" height="22.5" fill="#944a83"/>
<rect x="1199.3" y="76.8" width="49.7" height="22.5" fill="#8c3f7b"/>
<rect x="1199.3" y="77" width="49.7" height="663.1" fill="none" stroke="#000" stroke-width="3.4"/>
<line x1="1249" y1="77" x2="1256" y2="77" stroke="#000" stroke-width="3.2"/>
<text x="1267" y="88.8" font-size="34" fill="#231f20" stroke="#231f20" stroke-width="0.5">11</text>
<line x1="1249" y1="209.6" x2="1256" y2="209.6" stroke="#000" stroke-width="3.2"/>
<text x="1267" y="221.4" font-size="34" fill="#231f20" stroke="#231f20" stroke-width="0.5">8.8</text>
<line x1="1249" y1="342.2" x2="1256" y2="342.2" stroke="#000" stroke-width="3.2"/>
<text x="1267" y="354" font-size="34" fill="#231f20" stroke="#231f20" stroke-width="0.5">6.9</text>
<line x1="1249" y1="474.9" x2="1256" y2="474.9" stroke="#000" stroke-width="3.2"/>
<text x="1267" y="486.7" font-size="34" fill="#231f20" stroke="#231f20" stroke-width="0.5">4.9</text>
<line x1="1249" y1="607.5" x2="1256" y2="607.5" stroke="#000" stroke-width="3.2"/>
<text x="1267" y="619.3" font-size="34" fill="#231f20" stroke="#231f20" stroke-width="0.5">3.0</text>
<line x1="1249" y1="740.1" x2="1256" y2="740.1" stroke="#000" stroke-width="3.2"/>
<text x="1267" y="751.9" font-size="34" fill="#231f20" stroke="#231f20" stroke-width="0.5">1.1</text>
<text x="1355.7" y="408.5" font-size="39" text-anchor="middle" fill="#231f20" stroke="#231f20" stroke-width="0.5" transform="rotate(-90 1355.7 408.5)">K content (M)</text>
<text x="1355" y="30.3" font-size="42" fill="#231815" stroke="#231815" stroke-width="0.5">c</text>
<line x1="1564" y1="166" x2="1568.2" y2="730" stroke="#d2112a" stroke-width="3.4" stroke-dasharray="4.5 4.5"/>
<line x1="1607" y1="154" x2="1617.2" y2="621" stroke="#d2112a" stroke-width="3.4" stroke-dasharray="4.5 4.5"/>
<line x1="1562.2" y1="154.9" x2="1573.5" y2="124" stroke="#d2112a" stroke-width="3.6"/>
<polygon points="1577.6,113 1578.2,129.2 1566.6,124.9" fill="#d2112a"/>
<line x1="1611" y1="146.3" x2="1596.5" y2="117" stroke="#d2112a" stroke-width="3.6"/>
<polygon points="1591.6,107 1603.8,117.7 1592.7,123.2" fill="#d2112a"/>
<path d="M1444.6 242.4C1446.5 242.8 1452.5 245 1456 244.8C1459.5 244.5 1461.9 241.9 1465.6 240.8C1469.3 239.6 1474.6 237.9 1478.4 237.9C1482.1 237.8 1484.8 239.7 1488 240.4C1491.2 241.2 1494.1 242.2 1497.6 242.4C1501 242.6 1505.6 241.7 1508.8 241.6C1512 241.4 1513.8 242.1 1516.8 241.6C1519.7 241 1523.2 239.7 1526.4 238.4C1529.5 237 1533 234.8 1535.9 233.6C1538.9 232.4 1541.3 233.2 1543.9 231.2C1546.6 229.2 1549.5 224.5 1551.9 221.6C1554.3 218.6 1556.3 215.4 1558.3 213.6C1560.3 211.7 1562.1 210.8 1563.9 210.4C1565.8 210 1567.3 210.1 1569.5 211.2C1571.8 212.2 1574.6 214.4 1577.5 216.8C1580.5 219.2 1583.9 223.3 1587.1 225.6C1590.3 227.8 1593.5 228.9 1596.7 230.4C1599.9 231.8 1603.1 232.6 1606.3 234.4C1609.5 236.1 1612.7 239 1615.9 240.8C1619.1 242.6 1622.3 244.2 1625.5 245.2C1628.7 246.3 1630.8 246.8 1635.1 247.2C1639.4 247.5 1646.3 246.6 1651.1 247.2C1655.9 247.7 1660.1 249.8 1663.9 250.4C1667.6 250.9 1670.3 249.8 1673.5 250.4C1676.7 250.9 1679.3 252.4 1683.1 253.6C1686.8 254.8 1693 256.8 1695.9 257.6C1698.7 258.3 1696.4 258 1700 258C1703.6 258 1711.2 257.2 1717.6 257.6C1724 257.9 1731.7 258.8 1738.4 260C1745 261.1 1751.4 263.7 1757.6 264.3C1763.7 264.9 1769.6 262.9 1775.2 263.5C1780.8 264.1 1785.6 267.7 1791.1 267.9C1796.7 268.2 1802.6 265 1808.7 264.8C1814.9 264.5 1821.5 265.4 1827.9 266.4C1834.3 267.3 1842.9 269.8 1847.1 270.3C1851.4 270.9 1848.7 268.9 1853.5 269.5C1858.3 270.2 1868.4 272.7 1875.9 274.3C1883.4 275.9 1891.9 278.6 1898.3 279.1C1904.7 279.7 1908.7 277.2 1914.3 277.5C1919.9 277.9 1926 280.5 1931.9 281.1C1937.7 281.6 1944.9 280.3 1949.5 280.7C1954 281.2 1955.2 283.3 1959.1 283.9C1962.9 284.6 1970.1 284.6 1972.3 284.7" fill="none" stroke="#7ea3d0" stroke-width="3.4" stroke-linejoin="round" stroke-linecap="round"/>
<path d="M1444.6 293.5C1446.5 293.2 1451.4 292.2 1456 291.5C1460.6 290.7 1467.5 289.3 1472 289.1C1476.5 288.8 1480 290.1 1483.2 290C1486.4 290 1487.7 289.8 1491.2 288.7C1494.6 287.7 1500.2 283.9 1504 283.6C1507.7 283.3 1510.4 286.1 1513.6 286.8C1516.8 287.5 1520 288.1 1523.2 287.9C1526.4 287.8 1529.3 285.7 1532.7 285.9C1536.2 286 1540.2 287.9 1543.9 288.7C1547.7 289.6 1551.7 291.1 1555.1 291.1C1558.6 291.1 1561.8 289.5 1564.7 288.7C1567.7 287.9 1569.5 286.8 1572.7 286.3C1575.9 285.9 1580.7 286.5 1583.9 285.9C1587.1 285.2 1589 284.1 1591.9 282.3C1594.8 280.6 1598.8 276.7 1601.5 275.5C1604.2 274.2 1605.5 274.9 1607.9 275C1610.3 275.1 1613 275.5 1615.9 275.9C1618.8 276.4 1622.3 276.3 1625.5 277.5C1628.7 278.8 1631.6 281.5 1635.1 283.6C1638.6 285.8 1643.3 289.4 1646.3 290.3C1649.2 291.2 1649.5 288.6 1652.7 289.1C1655.9 289.5 1661.7 292.7 1665.5 293.2C1669.2 293.7 1671.6 291.7 1675.1 291.9C1678.5 292.1 1682.8 294.3 1686.3 294.3C1689.7 294.3 1693.6 292.3 1695.9 291.9C1698.1 291.5 1697.4 291.8 1700 291.9C1702.6 292.1 1708 293.1 1711.2 292.7C1714.4 292.4 1715.7 290.4 1719.2 290C1722.7 289.6 1728.3 290.5 1732 290.3C1735.7 290.2 1738.4 289.8 1741.6 289.2C1744.8 288.6 1747.4 286.9 1751.2 286.8C1754.9 286.7 1759.2 287.6 1764 288.7C1768.8 289.9 1774.6 293.2 1780 293.5C1785.3 293.9 1790.6 291 1795.9 290.7C1801.3 290.3 1806.9 290.9 1811.9 291.6C1817 292.4 1822.9 294.8 1826.3 295.1C1829.8 295.5 1830.3 294.8 1832.7 293.9C1835.1 292.9 1837.3 290.3 1840.7 289.2C1844.2 288.2 1849.8 287.3 1853.5 287.5C1857.2 287.6 1859.4 289.5 1863.1 290.3C1866.8 291.2 1871.1 291.5 1875.9 292.4C1880.7 293.3 1887.6 295.4 1891.9 295.9C1896.2 296.5 1897.5 295.2 1901.5 295.6C1905.5 296 1910.3 297.6 1915.9 298.3C1921.5 299.1 1929.5 300.3 1935.1 300.3C1940.7 300.3 1944.9 298.1 1949.5 298.3C1954 298.6 1958.4 301.3 1962.2 301.8C1966.1 302.4 1970.6 301.8 1972.3 301.8" fill="none" stroke="#5c2457" stroke-width="3.4" stroke-linejoin="round" stroke-linecap="round"/>
<path d="M1444.6 380.7C1446.5 380.9 1451.7 381.6 1456 381.8C1460.3 382 1466.1 381.5 1470.4 381.8C1474.6 382.1 1477.3 383.6 1481.6 383.4C1485.8 383.2 1490.6 381.1 1496 380.7C1501.3 380.2 1508.5 381.1 1513.6 380.7C1518.6 380.3 1522.6 380.2 1526.4 378.3C1530.1 376.4 1532.7 373.5 1535.9 369.5C1539.1 365.5 1542.3 359.5 1545.5 354.3C1548.7 349.1 1552.5 342.3 1555.1 338.3C1557.8 334.3 1559.7 331.8 1561.5 330.3C1563.4 328.8 1564.7 329 1566.3 329.5C1567.9 330 1569 330.6 1571.1 333.5C1573.3 336.4 1577.3 344.8 1579.1 347.1C1581 349.4 1579.9 344.7 1582.3 347.1C1584.7 349.5 1589 357.9 1593.5 361.5C1598 365.1 1604.2 366.2 1609.5 368.7C1614.8 371.2 1620.7 374.5 1625.5 376.7C1630.3 378.9 1633 380.9 1638.3 381.8C1643.6 382.7 1652.4 381.5 1657.5 382.3C1662.5 383 1664.4 384.3 1668.7 386.3C1672.9 388.3 1678.5 391.7 1683.1 394.3C1687.6 396.8 1693 400.3 1695.9 401.5C1698.7 402.7 1696.6 401.3 1700 401.5C1703.4 401.6 1708.8 402 1716 402.3C1723.2 402.5 1735.7 402.1 1743.2 403.1C1750.6 404 1754.6 406.9 1760.8 407.9C1766.9 408.9 1771.4 408.6 1780 409C1788.5 409.3 1803.4 409.4 1811.9 409.9C1820.5 410.5 1824.2 411.9 1831.1 412.2C1838.1 412.5 1846 411.2 1853.5 411.9C1861 412.6 1869.5 415.3 1875.9 416.3C1882.3 417.4 1886 418 1891.9 418.3C1897.8 418.5 1904.4 417.7 1911.1 417.9C1917.7 418.2 1925.5 419.1 1931.9 419.9C1938.3 420.6 1942.7 421.7 1949.5 422.3C1956.2 422.8 1968.5 422.9 1972.3 423.1" fill="none" stroke="#7ea3d0" stroke-width="3.4" stroke-linejoin="round" stroke-linecap="round"/>
<path d="M1444.6 423.1C1446.5 422.8 1452 422.7 1456 421.8C1460 420.8 1464 417.9 1468.8 417.5C1473.6 417 1479.4 419.1 1484.8 419.1C1490.1 419.1 1494.9 417.9 1500.8 417.5C1506.6 417 1515.2 416.1 1520 416.3C1524.8 416.6 1525.3 418.2 1529.5 419.1C1533.8 419.9 1541.3 421.6 1545.5 421.5C1549.8 421.3 1551.7 419.3 1555.1 418.3C1558.6 417.2 1563.1 415.2 1566.3 415.1C1569.5 414.9 1571.4 418.4 1574.3 417.5C1577.3 416.5 1580.7 411.3 1583.9 409.5C1587.1 407.6 1589.2 408.3 1593.5 406.3C1597.8 404.3 1606 398.8 1609.5 397.5C1613 396.1 1611.1 396.4 1614.3 398.3C1617.5 400.1 1623.9 405.3 1628.7 408.7C1633.5 412 1637.2 415.6 1643.1 418.3C1648.9 420.9 1657.2 422.9 1663.9 424.7C1670.5 426.4 1677.2 427.6 1683.1 428.7C1688.9 429.7 1696.2 430.7 1699.1 431.1C1701.9 431.5 1697.2 430.9 1700 431.1C1702.8 431.2 1710.7 432.7 1716 431.9C1721.3 431.1 1727.2 426.4 1732 426.3C1736.8 426.1 1741 430.4 1744.8 431.1C1748.5 431.7 1751.2 430.9 1754.4 430.3C1757.6 429.6 1760.2 426.8 1764 427.1C1767.7 427.3 1772.5 431.3 1776.8 431.9C1781 432.4 1784.2 430.1 1789.5 430.6C1794.9 431 1802.3 434.1 1808.7 434.6C1815.1 435 1822.6 433.8 1827.9 433.1C1833.3 432.5 1837 430.7 1840.7 430.6C1844.5 430.4 1846.8 431.1 1850.3 432.2C1853.8 433.3 1857.2 436.5 1861.5 437.1C1865.8 437.8 1870.3 436.4 1875.9 436.2C1881.5 436 1889.8 435.1 1895.1 435.9C1900.4 436.7 1902.5 440.4 1907.9 441C1913.2 441.5 1921.7 438.8 1927.1 439.1C1932.4 439.3 1935.1 441.9 1939.9 442.2C1944.7 442.6 1950.4 441.2 1955.9 441C1961.3 440.8 1969.6 441 1972.3 441" fill="none" stroke="#5c2457" stroke-width="3.4" stroke-linejoin="round" stroke-linecap="round"/>
<path d="M1444.6 549.1C1446.5 549.4 1450.9 551.3 1456 551.1C1461.1 550.9 1468.5 548.7 1475.2 547.9C1481.8 547.2 1489.8 546.8 1496 546.8C1502.1 546.8 1507.2 548.8 1512 547.9C1516.8 547.1 1521 543.8 1524.8 541.5C1528.5 539.3 1531.4 538.2 1534.3 534.3C1537.3 530.5 1539.7 525.6 1542.3 518.4C1545 511.2 1547.7 499.7 1550.3 491.2C1553 482.6 1555.8 472.8 1558.3 467.2C1560.9 461.5 1563.4 458.1 1565.5 457.3C1567.7 456.5 1568.9 458.1 1571.1 462.4C1573.4 466.7 1576.2 475.7 1579.1 483.2C1582.1 490.6 1585.8 501.7 1588.7 507.2C1591.6 512.6 1592.4 513 1596.7 516C1601 518.9 1609.5 522 1614.3 524.8C1619.1 527.5 1621.2 529.9 1625.5 532.7C1629.8 535.5 1636.2 540.2 1639.9 541.5C1643.6 542.9 1644.1 542.2 1647.9 540.7C1651.6 539.3 1659.1 534 1662.3 532.7C1665.5 531.5 1664.7 531.9 1667.1 533.2C1669.5 534.6 1672.9 537.1 1676.7 540.7C1680.4 544.4 1685.6 551.4 1689.5 555.1C1693.3 558.9 1697.2 561.6 1700 563.1C1702.8 564.7 1703.2 564.5 1706.4 564.4C1709.6 564.3 1714.1 562.4 1719.2 562.3C1724.3 562.2 1728.8 562.7 1736.8 563.9C1744.8 565.1 1757.3 568.4 1767.2 569.5C1777 570.7 1788.5 570.9 1795.9 570.8C1803.4 570.7 1805.8 568.5 1811.9 568.7C1818.1 569 1823.7 571.7 1832.7 572.4C1841.8 573.1 1857 571.9 1866.3 573C1875.6 574.2 1882.3 578.6 1888.7 579.4C1895.1 580.2 1896.2 577.4 1904.7 577.8C1913.2 578.3 1930.3 580.7 1939.9 582C1949.5 583.3 1956.8 585.1 1962.2 585.5C1967.7 586 1970.6 584.8 1972.3 584.7" fill="none" stroke="#7ea3d0" stroke-width="3.4" stroke-linejoin="round" stroke-linecap="round"/>
<path d="M1444.6 584.7C1445.7 584.7 1448 585.6 1451.2 584.7C1454.4 583.8 1458.9 580.1 1464 579.4C1469 578.8 1477.6 580.9 1481.6 580.7C1485.6 580.5 1485.8 578.1 1488 578.3C1490.1 578.6 1492.5 581.3 1494.4 582.3C1496.2 583.4 1497.3 585.2 1499.2 584.7C1501 584.2 1503.4 580.3 1505.6 579.1C1507.7 577.9 1508.5 577.7 1512 577.5C1515.4 577.3 1521.3 577.7 1526.4 577.8C1531.4 578 1537.5 579 1542.3 578.3C1547.1 577.6 1551.9 574.3 1555.1 573.5C1558.3 572.7 1559.1 573.2 1561.5 573.5C1563.9 573.9 1566.3 575.3 1569.5 575.6C1572.7 575.9 1576.5 575.4 1580.7 575.6C1585 575.8 1591.9 576.9 1595.1 576.7C1598.3 576.5 1597.5 575.1 1599.9 574.3C1602.3 573.5 1607.1 572.6 1609.5 571.9C1611.9 571.3 1612.4 569.7 1614.3 570.3C1616.2 571 1619.1 573.9 1620.7 575.9C1622.3 577.9 1621.8 580.5 1623.9 582.3C1626 584.2 1631.1 586.7 1633.5 587.1C1635.9 587.5 1635.9 583.9 1638.3 584.7C1640.7 585.5 1645.5 590.9 1647.9 591.9C1650.3 592.9 1648.7 591.1 1652.7 590.8C1656.7 590.5 1666.8 590.2 1671.9 590.3C1676.9 590.4 1679.6 590.9 1683.1 591.6C1686.5 592.3 1689.8 593.9 1692.7 594.3C1695.5 594.7 1695.6 594.4 1700 593.8C1704.4 593.3 1713.6 591 1719.2 591.1C1724.8 591.3 1728.8 594.7 1733.6 594.8C1738.4 594.9 1742.1 592 1748 591.6C1753.8 591.2 1760.8 591.6 1768.8 592.4C1776.8 593.2 1788.7 596.3 1795.9 596.4C1803.1 596.4 1806.3 592.5 1811.9 592.7C1817.5 592.9 1823.4 597.7 1829.5 597.5C1835.7 597.3 1842.3 591.6 1848.7 591.6C1855.1 591.6 1861.2 596.3 1867.9 597.5C1874.6 598.8 1883.9 598.9 1888.7 599.1C1893.5 599.3 1892.4 597.7 1896.7 598.6C1901 599.5 1909.7 603.7 1914.3 604.4C1918.8 605.1 1921.2 602.7 1923.9 602.8C1926.5 602.8 1928.1 604.8 1930.3 604.7C1932.4 604.6 1934.5 602.2 1936.7 602.3C1938.8 602.4 1940.9 605.3 1943.1 605.5C1945.2 605.7 1946.8 603.2 1949.5 603.4C1952.1 603.6 1955.2 606 1959.1 606.6C1962.9 607.3 1970.1 607.2 1972.3 607.3" fill="none" stroke="#5c2457" stroke-width="3.4" stroke-linejoin="round" stroke-linecap="round"/>
<path d="M1444.6 652.7C1446.5 653 1451.4 654.4 1456 654.6C1460.6 654.8 1465.3 654.3 1472 654C1478.6 653.6 1490.1 652.4 1496 652.4C1501.8 652.3 1502.1 653.7 1507.2 653.8C1512.2 653.9 1522.4 652.9 1526.4 653.2C1530.3 653.4 1529.5 655.3 1531.1 655.1C1532.7 654.9 1533 653.3 1535.9 651.9C1538.9 650.4 1544.5 648.1 1548.7 646.3C1553 644.5 1558.3 642 1561.5 641.2C1564.7 640.3 1565 640.3 1567.9 641.2C1570.9 642 1575.9 644.6 1579.1 646.3C1582.3 648 1583.7 650.1 1587.1 651.4C1590.6 652.7 1596.2 653 1599.9 654.3C1603.6 655.6 1607.4 658.7 1609.5 659.1C1611.6 659.5 1611.1 656.4 1612.7 656.7C1614.3 656.9 1614.8 659.9 1619.1 660.7C1623.4 661.5 1633.8 661.8 1638.3 661.5C1642.8 661.2 1642.8 659.3 1646.3 658.8C1649.7 658.2 1655.6 658 1659.1 658.3C1662.5 658.6 1662.8 659 1667.1 660.7C1671.3 662.4 1679.3 666.8 1684.7 668.3C1690 669.9 1696.5 669.6 1699.1 669.9C1701.6 670.3 1696.6 670.2 1700 670.3C1703.4 670.3 1709.9 669.6 1719.2 670.3C1728.5 670.9 1743.2 673.7 1756 674.3C1768.8 674.9 1784 673.7 1795.9 673.8C1807.9 673.9 1818.3 674.6 1827.9 675.1C1837.5 675.5 1845.5 675.7 1853.5 676.7C1861.5 677.6 1866.8 679.4 1875.9 680.7C1885 681.9 1897.2 683.3 1907.9 684.3C1918.5 685.4 1931.9 686.3 1939.9 687.1C1947.9 687.8 1950.4 688 1955.9 688.7C1961.3 689.3 1969.6 690.4 1972.3 690.7" fill="none" stroke="#7ea3d0" stroke-width="3.4" stroke-linejoin="round" stroke-linecap="round"/>
<path d="M1444.6 711C1447 710.9 1455.2 710.1 1459.2 710.2C1463.2 710.4 1465.3 712.4 1468.8 711.8C1472.2 711.3 1475.7 707.5 1480 706.7C1484.2 706 1489.8 708.1 1494.4 707.4C1498.9 706.6 1503.4 703.2 1507.2 702.2C1510.9 701.3 1513 701.1 1516.8 701.4C1520.5 701.8 1525.3 704.3 1529.5 704.2C1533.8 704 1538.6 701.7 1542.3 700.6C1546.1 699.6 1548.7 697.7 1551.9 697.9C1555.1 698.2 1558.1 700.6 1561.5 702.2C1565 703.9 1569 707.8 1572.7 707.8C1576.5 707.8 1579.4 703 1583.9 702.2C1588.4 701.4 1595.4 703.3 1599.9 703C1604.4 702.8 1605.8 700.3 1611.1 700.6C1616.4 701 1626.6 703.7 1631.9 705.4C1637.2 707.2 1640.4 710.9 1643.1 711C1645.7 711.2 1646.3 706.6 1647.9 706.2C1649.5 705.8 1651.2 707.4 1652.7 708.6C1654.1 709.9 1654.4 714.8 1656.7 713.8C1658.9 712.7 1663.5 703.9 1666.3 702.2C1669.1 700.6 1670.4 702.5 1673.5 703.8C1676.5 705.2 1680.4 709.7 1684.7 710.2C1688.9 710.8 1696.5 708 1699.1 707.4C1701.6 706.8 1696.6 707.3 1700 706.7C1703.4 706.1 1713.3 703.4 1719.2 703.8C1725.1 704.2 1730.9 708.6 1735.2 709.1C1739.4 709.6 1741 706.5 1744.8 706.7C1748.5 706.9 1752.5 709.5 1757.6 710.2C1762.6 711 1768.8 712.6 1775.2 711C1781.6 709.4 1790.3 700.8 1795.9 700.6C1801.5 700.5 1806.1 709.6 1808.7 710.2C1811.4 710.9 1807.4 705.4 1811.9 704.6C1816.5 703.8 1829 706.1 1835.9 705.4C1842.9 704.8 1846.8 700.8 1853.5 700.6C1860.2 700.5 1869.8 704.4 1875.9 704.6C1882 704.9 1885 700.6 1890.3 702.2C1895.6 703.8 1902.3 713.4 1907.9 714.2C1913.5 715 1919.1 707.4 1923.9 707C1928.7 706.7 1932.9 712.2 1936.7 712.2C1940.4 712.1 1943.6 707 1946.3 706.7C1948.9 706.4 1950 710.3 1952.7 710.2C1955.3 710.2 1959 706.8 1962.2 706.2C1965.5 705.7 1970.6 706.9 1972.3 707" fill="none" stroke="#5c2457" stroke-width="3.4" stroke-linejoin="round" stroke-linecap="round"/>
<rect x="1444.6" y="62.2" width="527.7" height="693.8" fill="none" stroke="#231f20" stroke-width="3.5"/>
<line x1="1444.6" y1="756" x2="1444.6" y2="764.5" stroke="#231f20" stroke-width="3.2"/>
<text x="1444.6" y="799.1" font-size="35.5" text-anchor="middle" fill="#231f20" stroke="#231f20" stroke-width="0.5">400</text>
<line x1="1510.6" y1="756" x2="1510.6" y2="760.5" stroke="#231f20" stroke-width="3.2"/>
<line x1="1576.5" y1="756" x2="1576.5" y2="764.5" stroke="#231f20" stroke-width="3.2"/>
<text x="1576.5" y="799.1" font-size="35.5" text-anchor="middle" fill="#231f20" stroke="#231f20" stroke-width="0.5">500</text>
<line x1="1642.5" y1="756" x2="1642.5" y2="760.5" stroke="#231f20" stroke-width="3.2"/>
<line x1="1708.4" y1="756" x2="1708.4" y2="764.5" stroke="#231f20" stroke-width="3.2"/>
<text x="1708.4" y="799.1" font-size="35.5" text-anchor="middle" fill="#231f20" stroke="#231f20" stroke-width="0.5">600</text>
<line x1="1774.4" y1="756" x2="1774.4" y2="760.5" stroke="#231f20" stroke-width="3.2"/>
<line x1="1840.4" y1="756" x2="1840.4" y2="764.5" stroke="#231f20" stroke-width="3.2"/>
<text x="1840.4" y="799.1" font-size="35.5" text-anchor="middle" fill="#231f20" stroke="#231f20" stroke-width="0.5">700</text>
<line x1="1906.3" y1="756" x2="1906.3" y2="760.5" stroke="#231f20" stroke-width="3.2"/>
<line x1="1972.3" y1="756" x2="1972.3" y2="764.5" stroke="#231f20" stroke-width="3.2"/>
<text x="1972.3" y="799.1" font-size="35.5" text-anchor="middle" fill="#231f20" stroke="#231f20" stroke-width="0.5">800</text>
<text x="1708.4" y="864" font-size="39" text-anchor="middle" fill="#231f20" stroke="#231f20" stroke-width="0.5">Raman shift (cm<tspan dy="-14.5" font-size="24.5">-1</tspan><tspan dy="14.5">)</tspan></text>
<text x="1427" y="410.7" font-size="38.5" text-anchor="middle" fill="#231f20" stroke="#231f20" stroke-width="0.5" transform="rotate(-90 1427 410.7)">Intensity (a.u.)</text>
<line x1="1656.6" y1="86.6" x2="1720.7" y2="86.6" stroke="#7ea3d0" stroke-width="3.4" stroke-linecap="round"/>
<line x1="1656.6" y1="129.3" x2="1720.7" y2="129.3" stroke="#5c2457" stroke-width="3.4" stroke-linecap="round"/>
<text x="1730.5" y="96.3" font-size="30.2" fill="#231f20" stroke="#231f20" stroke-width="0.5">Sus/Cu<tspan dy="8.5" font-size="19.5">3</tspan><tspan dy="-8.5">N</tspan></text>
<text x="1730.5" y="139" font-size="30.2" fill="#231f20" stroke="#231f20" stroke-width="0.5">Th-TF COF/Cu<tspan dy="8.5" font-size="19.5">3</tspan><tspan dy="-8.5">N</tspan></text>
<text x="1524.5" y="103.6" font-size="30" fill="#231f20" stroke="#231f20" stroke-width="0.5">Cu-OH*</text>
<text x="1963.3" y="242.8" font-size="34" text-anchor="end" fill="#231f20" stroke="#231f20" stroke-width="0.5">250 mA cm<tspan dy="-13" font-size="21">-2</tspan></text>
<text x="1962.3" y="385.5" font-size="34" text-anchor="end" fill="#231f20" stroke="#231f20" stroke-width="0.5">100 mA cm<tspan dy="-13" font-size="21">-2</tspan></text>
<text x="1952.5" y="545.5" font-size="34" text-anchor="end" fill="#231f20" stroke="#231f20" stroke-width="0.5">50 mA cm<tspan dy="-13" font-size="21">-2</tspan></text>
<text x="1949.5" y="655.9" font-size="34" text-anchor="end" fill="#231f20" stroke="#231f20" stroke-width="0.5">10 mA cm<tspan dy="-13" font-size="21">-2</tspan></text>
<text x="1.2" y="921" font-size="42" fill="#231815" stroke="#231815" stroke-width="0.5">d</text>
<rect x="199.4" y="932.4" width="81.1" height="871" fill="#afc1e1"/>
<rect x="463.3" y="932.4" width="81.5" height="871" fill="#dcc4d8"/>
<line x1="236.2" y1="1197" x2="236.2" y2="1768" stroke="#d2112a" stroke-width="3.2" stroke-dasharray="4.3 4.3"/>
<line x1="503.1" y1="1077" x2="503.1" y2="1766" stroke="#d2112a" stroke-width="3.2" stroke-dasharray="4.3 4.3"/>
<line x1="569" y1="1118" x2="569" y2="1763" stroke="#7d878c" stroke-width="3.2" stroke-dasharray="4.3 4.3"/>
<line x1="624.7" y1="1107" x2="624.7" y2="1760" stroke="#7d878c" stroke-width="3.2" stroke-dasharray="4.3 4.3"/>
<path d="M126 1744.9 129 1745.3 132 1745 135 1744.9 138 1745.2 141 1745.2 144 1744.8 147 1744.7 150 1745.1 153 1745.1 156 1744.8 159 1745.2 162 1745.6 165 1745.3 168 1745.1 171 1745.4 174 1745.4 177 1745 180 1744.9 183 1745.4 186 1745.4 189 1745.1 192 1745.4 195 1745.7 198 1745.5 201 1745.1 204 1745.3 207 1745.4 210 1744.9 213 1744.7 216 1745.1 219 1745.1 222 1744.7 225 1744.7 228 1745 231 1744.5 234 1743.9 237 1744 240 1744 243 1743.4 246 1743.2 249 1743.6 252 1743.6 255 1743.2 258 1743.2 261 1743.5 264 1743.3 267 1742.9 270 1743.2 273 1743.6 276 1743.6 279 1743.7 282 1744.4 285 1744.9 288 1744.8 291 1745.1 294 1745.6 297 1745.6 300 1745.3 303 1745.6 306 1746 309 1745.8 312 1745.7 315 1746 318 1746.1 321 1745.5 324 1745 327 1745 330 1744.5 333 1743.7 336 1743.6 339 1743.8 342 1743.5 345 1743.2 348 1743.4 351 1743.5 354 1743 357 1742.7 360 1742.9 363 1742.8 366 1742.3 369 1742.4 372 1742.8 375 1742.7 378 1742.4 381 1742.6 384 1742.9 387 1742.4 390 1742.1 393 1742.4 396 1742.4 399 1742 402 1742.1 405 1742.6 408 1742.5 411 1742.2 414 1742.4 417 1742.6 420 1742.2 423 1741.9 426 1742.2 429 1742.3 432 1742 435 1742 438 1742.5 441 1742.5 444 1742.2 447 1742.3 450 1742.5 453 1742.1 456 1741.8 459 1742.1 462 1742.3 465 1742.1 468 1742.1 471 1742.5 474 1742.6 477 1742.1 480 1742.1 483 1742.4 486 1742.1 489 1741.8 492 1742.1 495 1742.4 498 1742.2 501 1742.1 504 1742.6 507 1742.6 510 1742.1 513 1742.1 516 1742.4 519 1742.2 522 1741.8 525 1742.1 528 1742.5 531 1742.3 534 1742.2 537 1742.5 540 1742.6 543 1742.1 546 1742 549 1742.3 552 1742.2 555 1741.9 558 1742.2 561 1742.7 564 1742.5 567 1742.2 570 1742.5 573 1742.6 576 1742.1 579 1742 582 1742.4 585 1742.4 588 1742.1 591 1742.3 594 1742.8 597 1742.6 600 1742.3 603 1742.5 606 1742.6 609 1742.2 612 1742 615 1742.4 618 1742.5 621 1742.2 624 1742.4 627 1742.8 630 1742.7 633 1742.3 636 1742.4 639 1742.6 642 1742.2 645 1742 648 1742.5 651 1742.7 654 1742.4 657 1742.5 660 1742.9 663 1742.7" fill="none" stroke="#7b7e7e" stroke-width="3.2" stroke-linejoin="round" stroke-linecap="round"/>
<path d="M126 1684.7 129 1684.4 132 1684 135 1684.3 138 1684.6 141 1684.4 144 1684.3 147 1684.8 150 1684.9 153 1684.5 156 1684.5 159 1684.8 162 1684.5 165 1684.2 168 1684.4 171 1684.8 174 1684.6 177 1684.5 180 1684.9 183 1685 186 1684.5 189 1684.4 192 1684.7 195 1684.5 198 1684.1 201 1684.4 204 1684.8 207 1684.5 210 1684.3 213 1684.6 216 1684.5 219 1683.9 222 1683.6 225 1683.8 228 1683.6 231 1683 234 1683.1 237 1683.4 240 1683 243 1682.6 246 1682.7 249 1682.6 252 1682 255 1681.7 258 1682 261 1682.1 264 1681.8 267 1682.1 270 1682.7 273 1682.8 276 1682.7 279 1683.2 282 1683.6 285 1683.5 288 1683.6 291 1684.4 294 1684.8 297 1684.8 300 1685.1 303 1685.7 306 1685.7 309 1685.3 312 1685.4 315 1685.5 318 1684.9 321 1684.5 324 1684.6 327 1684.6 330 1684 333 1683.7 336 1683.7 339 1683.2 342 1682.3 345 1682 348 1681.9 351 1681.3 354 1680.7 357 1680.8 360 1680.8 363 1680.3 366 1680.1 369 1680.3 372 1680 375 1679.3 378 1679.3 381 1679.5 384 1679.2 387 1679 390 1679.3 393 1679.7 396 1679.4 399 1679.2 402 1679.5 405 1679.5 408 1679 411 1679 414 1679.4 417 1679.3 420 1679.1 423 1679.5 426 1679.9 429 1679.7 432 1679.5 435 1679.8 438 1679.8 441 1679.4 444 1679.4 447 1679.9 450 1680 453 1679.8 456 1680.1 459 1680.5 462 1680.2 465 1679.9 468 1680.2 471 1680.3 474 1679.9 477 1679.9 480 1680.4 483 1680.5 486 1680.2 489 1680.4 492 1680.7 495 1680.4 498 1680 501 1680.1 504 1680.3 507 1679.8 510 1679.8 513 1680.2 516 1680.3 519 1679.9 522 1679.9 525 1680.2 528 1679.9 531 1679.4 534 1679.6 537 1679.8 540 1679.5 543 1679.4 546 1679.8 549 1680 552 1679.6 555 1679.6 558 1679.9 561 1679.7 564 1679.2 567 1679.4 570 1679.8 573 1679.6 576 1679.5 579 1679.9 582 1680.1 585 1679.7 588 1679.6 591 1680 594 1679.8 597 1679.4 600 1679.6 603 1680 606 1679.9 609 1679.7 612 1680.2 615 1680.4 618 1679.9 621 1679.8 624 1680.1 627 1680 630 1679.6 633 1679.8 636 1680.3 639 1680.3 642 1680 645 1680.4 648 1680.6 651 1680.2 654 1679.9 657 1680.3 660 1680.3 663 1680" fill="none" stroke="#c9cecd" stroke-width="3.2" stroke-linejoin="round" stroke-linecap="round"/>
<path d="M126 1625.1 129 1624.8 132 1625 135 1625.4 138 1625.1 141 1624.7 144 1624.9 147 1624.9 150 1624.5 153 1624.4 156 1624.8 159 1624.9 162 1624.5 165 1624.6 168 1624.9 171 1624.5 174 1624 177 1624.1 180 1624.1 183 1623.6 186 1623.4 189 1623.7 192 1623.7 195 1623.1 198 1623 201 1623.2 204 1622.8 207 1622.2 210 1622.2 213 1622.4 216 1622.1 219 1621.9 222 1622.3 225 1622.4 228 1622 231 1621.9 234 1622.2 237 1622 240 1621.5 243 1621.6 246 1622 249 1621.8 252 1621.7 255 1622.2 258 1622.5 261 1622.2 264 1622.3 267 1622.8 270 1622.9 273 1622.8 276 1623.4 279 1624.2 282 1624.5 285 1624.8 288 1625.6 291 1626.2 294 1626.1 297 1626.2 300 1626.7 303 1626.8 306 1626.4 309 1626.5 312 1626.8 315 1626.6 318 1626.1 321 1626.1 324 1626 327 1625.2 330 1624.6 333 1624.6 336 1624.3 339 1623.6 342 1623.4 345 1623.6 348 1623.3 351 1622.7 354 1622.6 357 1622.6 360 1621.8 363 1621.2 366 1621.2 369 1621 372 1620.4 375 1620.2 378 1620.4 381 1620.1 384 1619.4 387 1619.3 390 1619.3 393 1618.7 396 1618.1 399 1618.3 402 1618.4 405 1618 408 1617.9 411 1618.4 414 1618.4 417 1618.1 420 1618.2 423 1618.6 426 1618.5 429 1618.4 432 1618.9 435 1619.4 438 1619.4 441 1619.5 444 1620 447 1620.2 450 1619.8 453 1619.8 456 1620.2 459 1620 462 1619.8 465 1620.2 468 1620.6 471 1620.5 474 1620.4 477 1620.8 480 1621 483 1620.5 486 1620.4 489 1620.8 492 1620.8 495 1620.5 498 1620.8 501 1621.3 504 1621.1 507 1620.9 510 1621.2 513 1621.2 516 1620.7 519 1620.5 522 1620.8 525 1620.8 528 1620.4 531 1620.5 534 1620.8 537 1620.5 540 1620 543 1620.1 546 1620 549 1619.4 552 1619.1 555 1619.3 558 1619.3 561 1618.8 564 1618.8 567 1619.1 570 1618.8 573 1618.3 576 1618.4 579 1618.4 582 1618 585 1617.8 588 1618.2 591 1618.4 594 1618.1 597 1618.2 600 1618.6 603 1618.5 606 1618 609 1618.2 612 1618.5 615 1618.3 618 1618.1 621 1618.7 624 1619 627 1618.8 630 1618.8 633 1619.3 636 1619.2 639 1618.8 642 1619 645 1619.4 648 1619.3 651 1619.2 654 1619.7 657 1620.1 660 1619.8 663 1619.8" fill="none" stroke="#dbb4d8" stroke-width="3.2" stroke-linejoin="round" stroke-linecap="round"/>
<path d="M126 1562.1 129 1562.1 132 1562.5 135 1562.5 138 1562.2 141 1562.6 144 1563.2 147 1563 150 1562.9 153 1563.3 156 1563.3 159 1562.7 162 1562.4 165 1562.6 168 1562.3 171 1561.7 174 1561.7 177 1561.9 180 1561.4 183 1560.8 186 1560.7 189 1560.4 192 1559.5 195 1558.8 198 1558.6 201 1557.9 204 1556.8 207 1556.3 210 1555.9 213 1555 216 1553.9 219 1553.6 222 1553.4 225 1552.7 228 1552.5 231 1553.1 234 1553.6 237 1553.6 240 1554.1 243 1554.7 246 1554.8 249 1554.5 252 1554.8 255 1555.2 258 1555 261 1555.1 264 1555.8 267 1556.5 270 1556.7 273 1557.5 276 1558.7 279 1559.4 282 1559.9 285 1561 288 1562.2 291 1562.8 294 1563.5 297 1564.6 300 1565.4 303 1565.3 306 1565 309 1565.1 312 1564.7 315 1564 318 1563.8 321 1563.9 324 1563.4 327 1562.9 330 1563 333 1563 336 1562.4 339 1561.9 342 1561.8 345 1561.4 348 1560.4 351 1559.9 354 1559.7 357 1558.9 360 1558 363 1557.7 366 1557.5 369 1556.6 372 1556 375 1555.9 378 1555.6 381 1554.8 384 1554.6 387 1554.8 390 1554.6 393 1554.2 396 1554.4 399 1554.6 402 1554.3 405 1554 408 1554.3 411 1554.6 414 1554.6 417 1555.1 420 1556.2 423 1557 426 1557.3 429 1558.1 432 1558.8 435 1558.8 438 1558.7 441 1559.1 444 1559.5 447 1559.4 450 1559.5 453 1560.2 456 1560.4 459 1560.2 462 1560.4 465 1560.8 468 1560.5 471 1560.1 474 1560.2 477 1560.1 480 1559.3 483 1558.1 486 1556.5 489 1553.8 492 1551.6 495 1549.5 498 1548.2 501 1547.4 504 1547.1 507 1547.9 510 1548.9 513 1549.5 516 1550.1 519 1551.3 522 1552.1 525 1552.4 528 1553.1 531 1554.1 534 1554.6 537 1554.8 540 1555.6 543 1556.5 546 1556.7 549 1556.9 552 1557.7 555 1558.2 558 1558 561 1558.1 564 1558.7 567 1558.9 570 1558.7 573 1559 576 1559.6 579 1559.6 582 1559.4 585 1559.7 588 1559.8 591 1559.1 594 1558.4 597 1558.2 600 1557.6 603 1556.6 606 1556.1 609 1555.9 612 1555.1 615 1554.3 618 1554 621 1553.9 624 1553.3 627 1553 630 1553.2 633 1553.4 636 1553.1 639 1553.2 642 1553.8 645 1553.9 648 1553.6 651 1553.8 654 1554.2 657 1553.9 660 1553.7 663 1554.2" fill="none" stroke="#c99ac6" stroke-width="3.2" stroke-linejoin="round" stroke-linecap="round"/>
<path d="M126 1510.9 128.5 1510.4 131 1510.6 133.5 1510.6 136 1509.9 138.5 1509.5 141 1509.7 143.5 1509.6 146 1509.1 148.5 1509.2 151 1509.6 153.5 1509.5 156 1509 158.5 1509 161 1509 163.5 1508 166 1507.2 168.5 1507 171 1506.4 173.5 1505.3 176 1504.8 178.5 1504.7 181 1504 183.5 1503 186 1502.5 188.5 1502 191 1500.8 193.5 1499.4 196 1498.4 198.5 1496.5 201 1493.7 203.5 1491.3 206 1489.2 208.5 1486.5 211 1483.3 213.5 1480.7 216 1478.3 218.5 1475.3 221 1472.6 223.5 1470.6 226 1468.8 228.5 1466.4 231 1464.3 233.5 1462.8 236 1461.6 238.5 1460.6 241 1461.4 243.5 1463.4 246 1465.3 248.5 1467.3 251 1469.8 253.5 1472.4 256 1474.2 258.5 1476.2 261 1478.5 263.5 1480.3 266 1481.6 268.5 1483.2 271 1485.3 273.5 1486.8 276 1488.1 278.5 1489.9 281 1491.6 283.5 1492.1 286 1492.3 288.5 1493.2 291 1493.9 293.5 1494 296 1494.5 298.5 1495.4 301 1495.6 303.5 1495.5 306 1495.9 308.5 1496.2 311 1495.7 313.5 1495 316 1494.7 318.5 1494.1 321 1492.8 323.5 1491.8 326 1491.4 328.5 1490.6 331 1489.3 333.5 1488.6 336 1488.1 338.5 1487 341 1485.7 343.5 1485 346 1484.2 348.5 1482.9 351 1481.8 353.5 1481.5 356 1480.8 358.5 1479.7 361 1479.2 363.5 1479.1 366 1478.4 368.5 1477.6 371 1477.5 373.5 1477.6 376 1477.1 378.5 1476.9 381 1477.3 383.5 1477.4 386 1476.8 388.5 1476.6 391 1476.7 393.5 1476.2 396 1475.5 398.5 1475.4 401 1475.5 403.5 1475.1 406 1474.8 408.5 1475.1 411 1475.2 413.5 1474.6 416 1474.4 418.5 1474.5 421 1474.1 423.5 1473.4 426 1473.3 428.5 1473.5 431 1472.9 433.5 1472.1 436 1471.8 438.5 1471.2 441 1469.7 443.5 1468.4 446 1467.6 448.5 1466.3 451 1464.5 453.5 1463.3 456 1462.4 458.5 1460.8 461 1458.8 463.5 1457 466 1454.7 468.5 1451.5 471 1447.8 473.5 1443.7 476 1437.8 478.5 1429.9 481 1420.9 483.5 1410.2 486 1394.1 488.5 1375.4 491 1361.9 493.5 1351.5 496 1343.2 498.5 1338.2 501 1336.9 503.5 1337 506 1337.8 508.5 1340.1 511 1343.6 513.5 1347.3 516 1351.1 518.5 1355.6 521 1360.2 523.5 1364.1 526 1368 528.5 1372.7 531 1377.3 533.5 1381.1 536 1384.9 538.5 1389 541 1392.4 543.5 1395 546 1397.7 548.5 1400.4 551 1402.1 553.5 1403.5 556 1405.5 558.5 1407.4 561 1408.6 563.5 1410.1 566 1412.2 568.5 1414 571 1415.4 573.5 1417.4 576 1420.7 578.5 1424.8 581 1430.2 583.5 1436.7 586 1442.6 588.5 1447.6 591 1451.9 593.5 1454.6 596 1454.4 598.5 1451.7 601 1449.1 603.5 1446.5 606 1442.9 608.5 1439.4 611 1437.1 613.5 1435.4 616 1433.3 618.5 1431.5 621 1430.7 623.5 1430.1 626 1429.3 628.5 1429.5 631 1430.4 633.5 1431.2 636 1431.6 638.5 1432.6 641 1433.8 643.5 1434.3 646 1434.8 648.5 1435.7 651 1436.2 653.5 1435.7 656 1435.2 658.5 1435.1 661 1434.5" fill="none" stroke="#a494c0" stroke-width="3.3" stroke-linejoin="round" stroke-linecap="round"/>
<path d="M126 1450.3 128.5 1450.6 131 1450.7 133.5 1450.1 136 1450 138.5 1450.3 141 1449.9 143.5 1449.2 146 1449.2 148.5 1449.5 151 1449.1 153.5 1448.8 156 1449.2 158.5 1449.3 161 1448.6 163.5 1448.1 166 1448 168.5 1447.1 171 1445.9 173.5 1445.3 176 1445 178.5 1444.2 181 1443.4 183.5 1443.3 186 1442.9 188.5 1441.8 191 1440.8 193.5 1440.1 196 1438.5 198.5 1435.9 201 1433.5 203.5 1431.6 206 1428.8 208.5 1425.9 211 1423.7 213.5 1421.3 216 1418.2 218.5 1415.3 221 1413.1 223.5 1410.8 226 1408.1 228.5 1406.1 231 1404.5 233.5 1402.6 236 1401.1 238.5 1401 241 1402.1 243.5 1403.4 246 1405.2 248.5 1407.7 251 1409.9 253.5 1411.6 256 1413.9 258.5 1416.5 261 1418.5 263.5 1419.9 266 1421.9 268.5 1424 271 1425.3 273.5 1426.5 276 1428.4 278.5 1430 281 1430.9 283.5 1431.7 286 1432.7 288.5 1433.3 291 1433.6 293.5 1434.3 296 1435.2 298.5 1435.3 301 1435.1 303.5 1435.6 306 1436 308.5 1435.6 311 1435.3 313.5 1435.5 316 1435 318.5 1433.8 321 1433 323.5 1432.5 326 1431.3 328.5 1429.9 331 1429.3 333.5 1428.8 336 1427.6 338.5 1426.6 341 1426.2 343.5 1425.4 346 1424 348.5 1423 351 1422.4 353.5 1421.3 356 1420.1 358.5 1419.6 361 1419.4 363.5 1418.7 366 1418.1 368.5 1418.2 371 1418.1 373.5 1417.4 376 1417.1 378.5 1417.3 381 1417.1 383.5 1416.6 386 1416.7 388.5 1416.9 391 1416.5 393.5 1416 396 1416.1 398.5 1416 401 1415.2 403.5 1414.8 406 1415.1 408.5 1415 411 1414.4 413.5 1414.5 416 1414.9 418.5 1414.5 421 1413.9 423.5 1413.9 426 1413.9 428.5 1413.2 431 1412.5 433.5 1412.3 436 1411.7 438.5 1410.4 441 1409.6 443.5 1409 446 1407.7 448.5 1406 451 1404.9 453.5 1403.8 456 1402 458.5 1400.2 461 1398.9 463.5 1397 466 1394.2 468.5 1391.4 471 1388.5 473.5 1384 476 1377.6 478.5 1370.2 481 1361.3 483.5 1349.7 486 1333.5 488.5 1315.5 491 1302 493.5 1291 496 1283.2 498.5 1279 501 1277.2 503.5 1276.6 506 1277.8 508.5 1280.4 511 1283.2 513.5 1286.6 516 1291.2 518.5 1295.9 521 1300 523.5 1304.1 526 1308.7 528.5 1313 531 1316.8 533.5 1321 536 1325.2 538.5 1328.7 541 1331.7 543.5 1335.1 546 1338.2 548.5 1340.2 551 1342 553.5 1344.1 556 1345.8 558.5 1346.8 561 1348.3 563.5 1350.3 566 1351.9 568.5 1353.4 571 1355.6 573.5 1358 576 1360.7 578.5 1364.7 581 1370.7 583.5 1376.9 586 1382 588.5 1387.1 591 1392.1 593.5 1394.5 596 1393.8 598.5 1392 601 1389.9 603.5 1386.5 606 1382.7 608.5 1379.7 611 1377.3 613.5 1374.8 616 1372.8 618.5 1371.8 621 1370.7 623.5 1369.6 626 1369.6 628.5 1370.2 631 1370.5 633.5 1370.8 636 1371.8 638.5 1372.8 641 1373.1 643.5 1373.8 646 1375.1 648.5 1375.9 651 1375.9 653.5 1375.9 656 1375.9 658.5 1375.1 661 1374" fill="none" stroke="#923f84" stroke-width="3.3" stroke-linejoin="round" stroke-linecap="round"/>
<path d="M126 1391.6 128.5 1391.3 131 1390.7 133.5 1390.8 136 1391.1 138.5 1390.8 141 1390.4 143.5 1390.6 146 1390.6 148.5 1390 151 1389.7 153.5 1390 156 1389.9 158.5 1389.3 161 1389.3 163.5 1389.4 166 1388.7 168.5 1387.7 171 1387.3 173.5 1386.7 176 1385.5 178.5 1384.6 181 1384.5 183.5 1384 186 1383 188.5 1382.5 191 1382.2 193.5 1380.9 196 1379.1 198.5 1377.2 201 1374.9 203.5 1372 206 1369.1 208.5 1366.9 211 1364.4 213.5 1361.4 216 1358.8 218.5 1356.8 221 1354.2 223.5 1351.3 226 1349.2 228.5 1347.4 231 1344.9 233.5 1342.8 236 1342 238.5 1341.9 241 1342.4 243.5 1344.1 246 1346.7 248.5 1348.8 251 1350.4 253.5 1352.6 256 1355.1 258.5 1356.9 261 1358.6 263.5 1360.9 266 1363 268.5 1364.4 271 1366 273.5 1368.1 276 1369.5 278.5 1370.4 281 1371.6 283.5 1372.8 286 1373.1 288.5 1373.4 291 1374.5 293.5 1375.5 296 1375.8 298.5 1376 301 1376.6 303.5 1376.7 306 1376.3 308.5 1376.2 311 1376.4 313.5 1375.9 316 1375.1 318.5 1374.8 321 1374.4 323.5 1373.2 326 1372 328.5 1371.4 331 1370.5 333.5 1369 336 1368 338.5 1367.7 341 1366.8 343.5 1365.6 346 1365 348.5 1364.5 351 1363.2 353.5 1361.9 356 1361.3 358.5 1360.7 361 1359.6 363.5 1359 366 1359.2 368.5 1359 371 1358.4 373.5 1358.4 376 1358.6 378.5 1358.2 381 1357.6 383.5 1357.7 386 1357.7 388.5 1357.1 391 1356.8 393.5 1357.1 396 1357 398.5 1356.4 401 1356.2 403.5 1356.4 406 1356 408.5 1355.3 411 1355.4 413.5 1355.5 416 1355.1 418.5 1354.7 421 1355.1 423.5 1355.1 426 1354.4 428.5 1354.1 431 1354 433.5 1353.2 436 1351.9 438.5 1351.2 441 1350.6 443.5 1349.3 446 1348 448.5 1347.2 451 1346.2 453.5 1344.4 456 1342.8 458.5 1341.7 461 1339.8 463.5 1337.1 466 1334.8 468.5 1332.5 471 1328.9 473.5 1324.3 476 1318.8 478.5 1311.6 481 1302 483.5 1290.4 486 1274.8 488.5 1256.3 491 1242.1 493.5 1231.6 496 1224.3 498.5 1219.6 501 1217.6 503.5 1217.9 506 1219.3 508.5 1221.1 511 1223.8 513.5 1227.8 516 1232 518.5 1235.9 521 1240.5 523.5 1245.3 526 1249.5 528.5 1253.5 531 1258.1 533.5 1262.5 536 1265.9 538.5 1269 541 1272.7 543.5 1275.9 546 1278.3 548.5 1280.7 551 1283.4 553.5 1285.1 556 1286.3 558.5 1288 561 1289.8 563.5 1290.9 566 1292.2 568.5 1294.3 571 1296.5 573.5 1298.2 576 1301.2 578.5 1306.1 581 1311.8 583.5 1317.5 586 1323 588.5 1328.5 591 1332.7 593.5 1334.6 596 1334.7 598.5 1332.9 601 1330.2 603.5 1327.1 606 1324.2 608.5 1321 611 1317.8 613.5 1315.6 616 1314.1 618.5 1312.3 621 1310.8 623.5 1310.4 626 1310.7 628.5 1310.7 631 1311.1 633.5 1312.3 636 1313.1 638.5 1313.3 641 1313.8 643.5 1314.9 646 1315.6 648.5 1316 651 1316.7 653.5 1317.2 656 1316.6 658.5 1315.8 661 1315.4" fill="none" stroke="#5a1f52" stroke-width="3.3" stroke-linejoin="round" stroke-linecap="round"/>
<path d="M126 1332.9 128.5 1332.2 131 1332.3 133.5 1332.3 136 1331.7 138.5 1331.5 141 1331.9 143.5 1331.9 146 1331.4 148.5 1331.4 151 1331.7 153.5 1331.3 156 1330.7 158.5 1330.7 161 1330.7 163.5 1330 166 1329.3 168.5 1329.2 171 1328.7 173.5 1327.6 176 1326.9 178.5 1326.6 181 1325.8 183.5 1324.6 186 1324.2 188.5 1323.9 191 1322.8 193.5 1321.6 196 1320.7 198.5 1318.8 201 1315.9 203.5 1313.3 206 1311 208.5 1308.2 211 1305 213.5 1302.5 216 1300.3 218.5 1297.5 221 1294.9 223.5 1293 226 1291 228.5 1288.4 231 1286.1 233.5 1284.5 236 1283.2 238.5 1282.4 241 1283.4 243.5 1285.6 246 1287.6 248.5 1289.6 251 1292.1 253.5 1294.5 256 1296.1 258.5 1297.9 261 1300.2 263.5 1302.1 266 1303.4 268.5 1305.3 271 1307.6 273.5 1309.2 276 1310.4 278.5 1312.1 281 1313.5 283.5 1313.9 286 1314 288.5 1314.9 291 1315.7 293.5 1316 296 1316.7 298.5 1317.7 301 1317.9 303.5 1317.7 306 1317.9 308.5 1318.1 311 1317.4 313.5 1316.6 316 1316.5 318.5 1316 321 1314.9 323.5 1314.1 326 1313.7 328.5 1312.8 331 1311.4 333.5 1310.5 336 1309.9 338.5 1308.6 341 1307.4 343.5 1306.9 346 1306.3 348.5 1305.1 351 1304.1 353.5 1303.7 356 1302.9 358.5 1301.6 361 1301 363.5 1300.7 366 1300.1 368.5 1299.4 371 1299.6 373.5 1299.8 376 1299.4 378.5 1299.2 381 1299.5 383.5 1299.4 386 1298.6 388.5 1298.3 391 1298.4 393.5 1298 396 1297.4 398.5 1297.6 401 1297.8 403.5 1297.4 406 1297 408.5 1297.2 411 1297.1 413.5 1296.4 416 1296 418.5 1296.3 421 1296 423.5 1295.5 426 1295.6 428.5 1295.8 431 1295.2 433.5 1294.2 436 1293.7 438.5 1292.9 441 1291.4 443.5 1290.1 446 1289.4 448.5 1288.3 451 1286.7 453.5 1285.6 456 1284.7 458.5 1283 461 1280.7 463.5 1278.8 466 1276.4 468.5 1273.2 471 1269.6 473.5 1265.7 476 1260 478.5 1252.3 481 1243.2 483.5 1232.4 486 1216.2 488.5 1197.2 491 1183.6 493.5 1173.1 496 1165 498.5 1160.2 501 1159 503.5 1159.3 506 1160.1 508.5 1162.3 511 1165.7 513.5 1169.2 516 1172.8 518.5 1177.2 521 1182 523.5 1186 526 1190.1 528.5 1194.9 531 1199.6 533.5 1203.4 536 1207.1 538.5 1211 541 1214.2 543.5 1216.7 546 1219.4 548.5 1222.2 551 1224.1 553.5 1225.7 556 1227.8 558.5 1229.7 561 1230.8 563.5 1232.1 566 1234 568.5 1235.7 571 1237.1 573.5 1239.2 576 1242.7 578.5 1247 581 1252.5 583.5 1259 586 1264.8 588.5 1269.6 591 1273.8 593.5 1276.4 596 1276 598.5 1273.5 601 1271 603.5 1268.6 606 1265.2 608.5 1261.7 611 1259.3 613.5 1257.5 616 1255.2 618.5 1253.3 621 1252.4 623.5 1251.8 626 1251.2 628.5 1251.5 631 1252.7 633.5 1253.5 636 1253.9 638.5 1254.8 641 1255.8 643.5 1256.1 646 1256.5 648.5 1257.4 651 1258 653.5 1257.7 656 1257.3 658.5 1257.4 661 1256.8" fill="none" stroke="#5c4a8c" stroke-width="3.3" stroke-linejoin="round" stroke-linecap="round"/>
<path d="M126 1275.1 128.5 1275.4 131 1275.2 133.5 1274.5 136 1274.3 138.5 1274.4 141 1274.1 143.5 1273.6 146 1273.8 148.5 1274.2 151 1273.9 153.5 1273.6 156 1273.9 158.5 1273.7 161 1272.9 163.5 1272.3 166 1272.2 168.5 1271.5 171 1270.4 173.5 1270 176 1269.8 178.5 1269 181 1268.1 183.5 1267.8 186 1267.2 188.5 1266 191 1265 193.5 1264.4 196 1263 198.5 1260.6 201 1258.3 203.5 1256.4 206 1253.6 208.5 1250.5 211 1248 213.5 1245.5 216 1242.3 218.5 1239.5 221 1237.6 223.5 1235.4 226 1232.8 228.5 1230.9 231 1229.3 233.5 1227.2 236 1225.5 238.5 1225.2 241 1226.3 243.5 1227.6 246 1229.5 248.5 1232.3 251 1234.6 253.5 1236.5 256 1238.7 258.5 1241.2 261 1242.9 263.5 1244.2 266 1246.1 268.5 1248.2 271 1249.6 273.5 1251 276 1253.1 278.5 1254.8 281 1255.7 283.5 1256.4 286 1257.2 288.5 1257.7 291 1257.8 293.5 1258.5 296 1259.5 298.5 1259.7 301 1259.8 303.5 1260.4 306 1260.8 308.5 1260.3 311 1259.9 313.5 1259.9 316 1259.2 318.5 1258 321 1257.3 323.5 1256.9 326 1255.9 328.5 1254.7 331 1254.2 333.5 1253.6 336 1252.3 338.5 1251.1 341 1250.5 343.5 1249.6 346 1248.2 348.5 1247.3 351 1246.9 353.5 1246 356 1244.9 358.5 1244.4 361 1244.1 363.5 1243.2 366 1242.4 368.5 1242.4 371 1242.3 373.5 1241.6 376 1241.5 378.5 1242 381 1241.9 383.5 1241.4 386 1241.4 388.5 1241.5 391 1240.9 393.5 1240.2 396 1240.2 398.5 1240.2 401 1239.6 403.5 1239.4 406 1239.8 408.5 1239.8 411 1239.2 413.5 1239.1 416 1239.3 418.5 1238.8 421 1238.1 423.5 1238.1 426 1238.2 428.5 1237.7 431 1237.2 433.5 1237.2 436 1236.5 438.5 1235.1 441 1234.1 443.5 1233.3 446 1231.9 448.5 1230.2 451 1229.2 453.5 1228.3 456 1226.6 458.5 1225 461 1223.7 463.5 1221.7 466 1218.7 468.5 1215.8 471 1212.7 473.5 1208.1 476 1201.8 478.5 1194.6 481 1186 483.5 1174.5 486 1158.3 488.5 1140.3 491 1126.6 493.5 1115.4 496 1107.4 498.5 1103.2 501 1101.4 503.5 1101 506 1102.4 508.5 1105.2 511 1108 513.5 1111.4 516 1115.9 518.5 1120.4 521 1124.2 523.5 1128.3 526 1132.9 528.5 1137.3 531 1141.3 533.5 1145.7 536 1150.1 538.5 1153.5 541 1156.4 543.5 1159.7 546 1162.5 548.5 1164.4 551 1166.2 553.5 1168.4 556 1170.2 558.5 1171.4 561 1173.1 563.5 1175.2 566 1176.7 568.5 1178 571 1180 573.5 1182.3 576 1184.9 578.5 1188.9 581 1195.1 583.5 1201.5 586 1206.7 588.5 1212 591 1216.9 593.5 1219.1 596 1218.3 598.5 1216.2 601 1214 603.5 1210.7 606 1207 608.5 1204.3 611 1202 613.5 1199.6 616 1197.6 618.5 1196.5 621 1195.2 623.5 1193.9 626 1193.8 628.5 1194.4 631 1194.8 633.5 1195.2 636 1196.5 638.5 1197.6 641 1197.9 643.5 1198.5 646 1199.7 648.5 1200.3 651 1200.1 653.5 1200.1 656 1200.2 658.5 1199.5 661 1198.6" fill="none" stroke="#3f2a5b" stroke-width="3.3" stroke-linejoin="round" stroke-linecap="round"/>
<rect x="126" y="932.4" width="537.1" height="871" fill="none" stroke="#231f20" stroke-width="3.5"/>
<line x1="126" y1="1803.4" x2="126" y2="1810.9" stroke="#231f20" stroke-width="3.2"/>
<text x="126" y="1842.1" font-size="32.8" text-anchor="middle" fill="#231f20" stroke="#231f20" stroke-width="0.5">1800</text>
<line x1="193.1" y1="1803.4" x2="193.1" y2="1807.4" stroke="#231f20" stroke-width="3.2"/>
<line x1="260.3" y1="1803.4" x2="260.3" y2="1810.9" stroke="#231f20" stroke-width="3.2"/>
<text x="260.3" y="1842.1" font-size="32.8" text-anchor="middle" fill="#231f20" stroke="#231f20" stroke-width="0.5">1600</text>
<line x1="327.4" y1="1803.4" x2="327.4" y2="1807.4" stroke="#231f20" stroke-width="3.2"/>
<line x1="394.6" y1="1803.4" x2="394.6" y2="1810.9" stroke="#231f20" stroke-width="3.2"/>
<text x="394.6" y="1842.1" font-size="32.8" text-anchor="middle" fill="#231f20" stroke="#231f20" stroke-width="0.5">1400</text>
<line x1="461.7" y1="1803.4" x2="461.7" y2="1807.4" stroke="#231f20" stroke-width="3.2"/>
<line x1="528.8" y1="1803.4" x2="528.8" y2="1810.9" stroke="#231f20" stroke-width="3.2"/>
<text x="528.8" y="1842.1" font-size="32.8" text-anchor="middle" fill="#231f20" stroke="#231f20" stroke-width="0.5">1200</text>
<line x1="596" y1="1803.4" x2="596" y2="1807.4" stroke="#231f20" stroke-width="3.2"/>
<line x1="663.1" y1="1803.4" x2="663.1" y2="1810.9" stroke="#231f20" stroke-width="3.2"/>
<text x="663.1" y="1842.1" font-size="32.8" text-anchor="middle" fill="#231f20" stroke="#231f20" stroke-width="0.5">1000</text>
<text x="396" y="1896.3" font-size="36.2" text-anchor="middle" fill="#231f20" stroke="#231f20" stroke-width="0.5">Wavenumber (cm<tspan dy="-14" font-size="23">-1</tspan><tspan dy="14">)</tspan></text>
<text x="28" y="1346" font-size="36.2" text-anchor="middle" fill="#231f20" stroke="#231f20" stroke-width="0.5" transform="rotate(-90 28 1346)">E (V versus Ag/AgCl)</text>
<line x1="39.2" y1="1663" x2="39.2" y2="1066" stroke="#5a6068" stroke-width="3.4"/>
<polygon points="39.2,1040 32.3,1069.2 46.1,1069.2" fill="#5a6068"/>
<text x="119.5" y="1284.7" font-size="34" text-anchor="end" fill="#231f20" stroke="#231f20" stroke-width="0.5">-1.7</text>
<text x="119.5" y="1348.7" font-size="34" text-anchor="end" fill="#231f20" stroke="#231f20" stroke-width="0.5">-1.5</text>
<text x="119.5" y="1413.2" font-size="34" text-anchor="end" fill="#231f20" stroke="#231f20" stroke-width="0.5">-1.3</text>
<text x="119.5" y="1525.3" font-size="34" text-anchor="end" fill="#231f20" stroke="#231f20" stroke-width="0.5">-0.9</text>
<text x="119.5" y="1753.9" font-size="34" text-anchor="end" fill="#231f20" stroke="#231f20" stroke-width="0.5">-0.1</text>
<text x="44" y="1642.9" font-size="34" fill="#231f20" stroke="#231f20" stroke-width="0.5">-</text>
<text x="119.5" y="1642.9" font-size="34" text-anchor="end" fill="#231f20" stroke="#231f20" stroke-width="0.5">0.5</text>
<text x="247.4" y="1114.5" font-size="31" text-anchor="middle" fill="#231f20" stroke="#231f20" stroke-width="0.5" transform="rotate(-90 247.4 1114.5)">*OCCOH</text>
<text x="518" y="1005" font-size="31" text-anchor="middle" fill="#231f20" stroke="#231f20" stroke-width="0.5" transform="rotate(-90 518 1005)">*OCCOH</text>
<text x="584" y="1100.4" font-size="31" fill="#231f20" stroke="#231f20" stroke-width="0.5" transform="rotate(-90 584 1100.4)">*OC<tspan dy="8" font-size="20">2</tspan><tspan dy="-8">H</tspan><tspan dy="8" font-size="20.5">5</tspan></text>
<text x="642.3" y="1094.9" font-size="31" fill="#231f20" stroke="#231f20" stroke-width="0.5" transform="rotate(-90 642.3 1094.9)">*CHO</text>
<text x="686.8" y="921" font-size="42" fill="#231815" stroke="#231815" stroke-width="0.5">e</text>
<defs><linearGradient id="ge0"><stop offset="0" stop-color="#3e72b6"/><stop offset=".0391" stop-color="#4979ba"/><stop offset=".1016" stop-color="#7ea0cd"/><stop offset=".1562" stop-color="#a7bedc"/><stop offset=".2422" stop-color="#d8e2ed"/><stop offset=".2969" stop-color="#ffffff"/><stop offset=".3438" stop-color="#e3d2e0"/><stop offset=".4062" stop-color="#caa7c3"/><stop offset=".5078" stop-color="#975388"/><stop offset=".5703" stop-color="#8e437e"/><stop offset=".6016" stop-color="#924a82"/><stop offset=".6172" stop-color="#9f6192"/><stop offset=".6328" stop-color="#b27ea7"/><stop offset=".6641" stop-color="#ebdde8"/><stop offset=".6719" stop-color="#f8f4f7"/><stop offset=".6797" stop-color="#fcfcfd"/><stop offset=".7031" stop-color="#ccd9ea"/><stop offset=".7422" stop-color="#a0b9d9"/><stop offset=".7812" stop-color="#8dabd2"/><stop offset=".9609" stop-color="#5d88c0"/><stop offset="1" stop-color="#5c87c0"/></linearGradient><linearGradient id="ge1"><stop offset="0" stop-color="#3e72b6"/><stop offset=".0391" stop-color="#4979ba"/><stop offset=".1016" stop-color="#7ea0cc"/><stop offset=".1562" stop-color="#a6bedb"/><stop offset=".25" stop-color="#dce4ee"/><stop offset=".2969" stop-color="#fefefe"/><stop offset=".3516" stop-color="#e1cede"/><stop offset=".4062" stop-color="#cba9c4"/><stop offset=".5078" stop-color="#98558a"/><stop offset=".5703" stop-color="#90467f"/><stop offset=".6016" stop-color="#934c83"/><stop offset=".6172" stop-color="#a06393"/><stop offset=".6328" stop-color="#b380a8"/><stop offset=".6641" stop-color="#ecdfe9"/><stop offset=".6719" stop-color="#f9f6f8"/><stop offset=".6797" stop-color="#fafafb"/><stop offset=".7031" stop-color="#cad8e9"/><stop offset=".75" stop-color="#99b3d6"/><stop offset=".875" stop-color="#7398c8"/><stop offset=".9609" stop-color="#5d88c0"/><stop offset="1" stop-color="#5c87c0"/></linearGradient><linearGradient id="ge2"><stop offset="0" stop-color="#3e72b6"/><stop offset=".0391" stop-color="#4979ba"/><stop offset=".1016" stop-color="#7ea0cc"/><stop offset=".1562" stop-color="#a6bddb"/><stop offset=".25" stop-color="#d9e2ed"/><stop offset=".2969" stop-color="#fdfdfd"/><stop offset=".3125" stop-color="#f8f2f6"/><stop offset=".3516" stop-color="#e3d0df"/><stop offset=".4062" stop-color="#cdabc5"/><stop offset=".5078" stop-color="#99588b"/><stop offset=".5703" stop-color="#914981"/><stop offset=".6016" stop-color="#944f85"/><stop offset=".6172" stop-color="#a16695"/><stop offset=".6328" stop-color="#b483a9"/><stop offset=".6641" stop-color="#ede1ea"/><stop offset=".6719" stop-color="#fbf8f9"/><stop offset=".6797" stop-color="#f7f8fa"/><stop offset=".7031" stop-color="#c8d7e8"/><stop offset=".75" stop-color="#98b3d6"/><stop offset=".875" stop-color="#7398c8"/><stop offset=".9688" stop-color="#5c88c0"/><stop offset="1" stop-color="#5c87c0"/></linearGradient><linearGradient id="ge3"><stop offset="0" stop-color="#3e72b6"/><stop offset=".0391" stop-color="#4979ba"/><stop offset=".0938" stop-color="#789cca"/><stop offset=".1562" stop-color="#a5bcdb"/><stop offset=".25" stop-color="#d5dfec"/><stop offset=".3047" stop-color="#fefdfd"/><stop offset=".3438" stop-color="#e8d8e4"/><stop offset=".4062" stop-color="#ceaec7"/><stop offset=".5078" stop-color="#9b5b8e"/><stop offset=".5703" stop-color="#934c83"/><stop offset=".6016" stop-color="#965287"/><stop offset=".6172" stop-color="#a36897"/><stop offset=".6328" stop-color="#b685ab"/><stop offset=".6641" stop-color="#efe3ec"/><stop offset=".6719" stop-color="#fcfafb"/><stop offset=".6875" stop-color="#e3e9f1"/><stop offset=".7031" stop-color="#c6d5e8"/><stop offset=".75" stop-color="#97b2d6"/><stop offset=".9375" stop-color="#608bc2"/><stop offset="1" stop-color="#5c87c0"/></linearGradient><linearGradient id="ge4"><stop offset="0" stop-color="#3e72b6"/><stop offset=".0391" stop-color="#4879ba"/><stop offset=".0938" stop-color="#789bca"/><stop offset=".1562" stop-color="#a4bcdb"/><stop offset=".2578" stop-color="#d8e1ed"/><stop offset=".3047" stop-color="#fffeff"/><stop offset=".3438" stop-color="#e9dae5"/><stop offset=".4062" stop-color="#cfb0c9"/><stop offset=".5078" stop-color="#9c5e8f"/><stop offset=".5703" stop-color="#944f85"/><stop offset=".6016" stop-color="#985589"/><stop offset=".625" stop-color="#ad78a2"/><stop offset=".6328" stop-color="#b787ad"/><stop offset=".6641" stop-color="#f0e5ed"/><stop offset=".6719" stop-color="#fdfcfc"/><stop offset=".7031" stop-color="#c5d4e7"/><stop offset=".75" stop-color="#97b2d6"/><stop offset=".9453" stop-color="#5f8ac1"/><stop offset="1" stop-color="#5c87c0"/></linearGradient><linearGradient id="ge5"><stop offset="0" stop-color="#3e72b6"/><stop offset=".0391" stop-color="#4879ba"/><stop offset=".0938" stop-color="#779bca"/><stop offset=".1562" stop-color="#a3bbda"/><stop offset=".2578" stop-color="#d4dfec"/><stop offset=".2969" stop-color="#f4f6f8"/><stop offset=".3047" stop-color="#fefefe"/><stop offset=".3516" stop-color="#e7d7e4"/><stop offset=".4062" stop-color="#d1b2ca"/><stop offset=".5078" stop-color="#9e6091"/><stop offset=".5703" stop-color="#965287"/><stop offset=".6016" stop-color="#99588b"/><stop offset=".625" stop-color="#af7aa3"/><stop offset=".6328" stop-color="#b88aae"/><stop offset=".6641" stop-color="#f1e8ef"/><stop offset=".6719" stop-color="#fefdfe"/><stop offset=".6953" stop-color="#cddaea"/><stop offset=".7422" stop-color="#9db6d8"/><stop offset=".7891" stop-color="#88a7d0"/><stop offset=".9609" stop-color="#5d88c0"/><stop offset="1" stop-color="#5c87c0"/></linearGradient><linearGradient id="ge6"><stop offset="0" stop-color="#3e72b6"/><stop offset=".0391" stop-color="#4879ba"/><stop offset=".0938" stop-color="#779bca"/><stop offset=".1562" stop-color="#a2bada"/><stop offset=".2656" stop-color="#d6e0ed"/><stop offset=".2969" stop-color="#f1f3f7"/><stop offset=".3047" stop-color="#fcfcfd"/><stop offset=".3203" stop-color="#f8f3f6"/><stop offset=".3594" stop-color="#e5d5e2"/><stop offset=".4141" stop-color="#ceadc7"/><stop offset=".5078" stop-color="#a06393"/><stop offset=".5703" stop-color="#985589"/><stop offset=".6016" stop-color="#9b5b8d"/><stop offset=".6172" stop-color="#a86f9c"/><stop offset=".6328" stop-color="#ba8cb0"/><stop offset=".6641" stop-color="#f3eaf0"/><stop offset=".6719" stop-color="#ffffff"/><stop offset=".6797" stop-color="#e9edf3"/><stop offset=".6953" stop-color="#cad8e9"/><stop offset=".75" stop-color="#95b0d5"/><stop offset=".9453" stop-color="#5f8ac1"/><stop offset="1" stop-color="#5c87c0"/></linearGradient><linearGradient id="ge7"><stop offset="0" stop-color="#3e72b6"/><stop offset=".0391" stop-color="#4879ba"/><stop offset=".0938" stop-color="#779bca"/><stop offset=".1562" stop-color="#a1bada"/><stop offset=".2656" stop-color="#d2deec"/><stop offset=".2969" stop-color="#edf0f5"/><stop offset=".3047" stop-color="#fafafc"/><stop offset=".3125" stop-color="#fefdfe"/><stop offset=".3516" stop-color="#eadce7"/><stop offset=".4141" stop-color="#d0b0c9"/><stop offset=".5078" stop-color="#a26695"/><stop offset=".5703" stop-color="#99588b"/><stop offset=".6016" stop-color="#9c5e8f"/><stop offset=".6172" stop-color="#a9729e"/><stop offset=".6328" stop-color="#bc8fb2"/><stop offset=".6641" stop-color="#f4edf2"/><stop offset=".6719" stop-color="#fdfdfd"/><stop offset=".6797" stop-color="#e5eaf1"/><stop offset=".6953" stop-color="#c8d7e8"/><stop offset=".75" stop-color="#94b0d5"/><stop offset=".9531" stop-color="#5e89c1"/><stop offset="1" stop-color="#5c87c0"/></linearGradient><linearGradient id="ge8"><stop offset="0" stop-color="#3e72b6"/><stop offset=".0391" stop-color="#4879ba"/><stop offset=".0938" stop-color="#769aca"/><stop offset=".1562" stop-color="#a0b9d9"/><stop offset=".2734" stop-color="#d4deec"/><stop offset=".2969" stop-color="#e9edf2"/><stop offset=".3125" stop-color="#fefeff"/><stop offset=".3594" stop-color="#e9dae6"/><stop offset=".4141" stop-color="#d1b3cb"/><stop offset=".5078" stop-color="#a46997"/><stop offset=".5703" stop-color="#9b5c8e"/><stop offset=".6016" stop-color="#9f6192"/><stop offset=".6172" stop-color="#ab75a0"/><stop offset=".6328" stop-color="#bd92b4"/><stop offset=".6641" stop-color="#f6f0f4"/><stop offset=".6719" stop-color="#fbfbfc"/><stop offset=".6797" stop-color="#e1e7f0"/><stop offset=".6953" stop-color="#c6d5e7"/><stop offset=".75" stop-color="#93afd4"/><stop offset=".9531" stop-color="#5e89c1"/><stop offset="1" stop-color="#5c87c0"/></linearGradient><linearGradient id="ge9"><stop offset="0" stop-color="#3e72b6"/><stop offset=".0391" stop-color="#4879ba"/><stop offset=".0938" stop-color="#769ac9"/><stop offset=".1562" stop-color="#9fb8d9"/><stop offset=".2734" stop-color="#cfdbeb"/><stop offset=".2969" stop-color="#e4e9f1"/><stop offset=".3125" stop-color="#fcfcfd"/><stop offset=".3281" stop-color="#f8f4f7"/><stop offset=".4141" stop-color="#d3b6cd"/><stop offset=".5078" stop-color="#a66c9a"/><stop offset=".5703" stop-color="#9d6090"/><stop offset=".6016" stop-color="#a16594"/><stop offset=".6172" stop-color="#ad78a2"/><stop offset=".6328" stop-color="#bf95b6"/><stop offset=".6641" stop-color="#f8f3f6"/><stop offset=".6719" stop-color="#f6f7fa"/><stop offset=".6797" stop-color="#dde4ef"/><stop offset=".6953" stop-color="#c4d4e7"/><stop offset=".75" stop-color="#92aed4"/><stop offset=".9531" stop-color="#5e89c1"/><stop offset="1" stop-color="#5c87c0"/></linearGradient><linearGradient id="ge10"><stop offset="0" stop-color="#3e72b6"/><stop offset=".0391" stop-color="#4879ba"/><stop offset=".0938" stop-color="#769ac9"/><stop offset=".1562" stop-color="#9eb7d8"/><stop offset=".2734" stop-color="#cbd8e9"/><stop offset=".2969" stop-color="#dfe6ef"/><stop offset=".3125" stop-color="#f9fafb"/><stop offset=".3203" stop-color="#fefefe"/><stop offset=".375" stop-color="#e7d7e3"/><stop offset=".5078" stop-color="#a8709c"/><stop offset=".5703" stop-color="#a06393"/><stop offset=".6016" stop-color="#a36897"/><stop offset=".6172" stop-color="#b07ba4"/><stop offset=".6328" stop-color="#c198b8"/><stop offset=".6641" stop-color="#faf6f8"/><stop offset=".6719" stop-color="#f1f3f7"/><stop offset=".6797" stop-color="#d8e1ed"/><stop offset=".6953" stop-color="#c2d2e6"/><stop offset=".75" stop-color="#92aed4"/><stop offset=".9609" stop-color="#5d88c0"/><stop offset="1" stop-color="#5c87c0"/></linearGradient><linearGradient id="ge11"><stop offset="0" stop-color="#3e72b6"/><stop offset=".0391" stop-color="#4879ba"/><stop offset=".0938" stop-color="#759ac9"/><stop offset=".1562" stop-color="#9db7d8"/><stop offset=".2812" stop-color="#cfdbeb"/><stop offset=".2969" stop-color="#dde4ef"/><stop offset=".3203" stop-color="#ffffff"/><stop offset=".4141" stop-color="#d6bbd1"/><stop offset=".5078" stop-color="#a9719d"/><stop offset=".5781" stop-color="#a26695"/><stop offset=".6016" stop-color="#a46a98"/><stop offset=".6172" stop-color="#b17da6"/><stop offset=".6328" stop-color="#c29ab9"/><stop offset=".6641" stop-color="#fbf7f9"/><stop offset=".6719" stop-color="#eff1f6"/><stop offset=".6797" stop-color="#d5dfec"/><stop offset=".6953" stop-color="#c1d1e5"/><stop offset=".75" stop-color="#91add4"/><stop offset=".9609" stop-color="#5d88c0"/><stop offset="1" stop-color="#5c87c0"/></linearGradient><linearGradient id="ge12"><stop offset="0" stop-color="#3e72b6"/><stop offset=".0391" stop-color="#4879ba"/><stop offset=".0938" stop-color="#759ac9"/><stop offset=".1562" stop-color="#9db6d8"/><stop offset=".2812" stop-color="#cddaea"/><stop offset=".2969" stop-color="#dae3ee"/><stop offset=".3203" stop-color="#fdfdfe"/><stop offset=".4062" stop-color="#dbc4d7"/><stop offset=".5078" stop-color="#aa739f"/><stop offset=".5781" stop-color="#a36897"/><stop offset=".6016" stop-color="#a66c99"/><stop offset=".6172" stop-color="#b27fa7"/><stop offset=".6328" stop-color="#c39bbb"/><stop offset=".6562" stop-color="#efe5ed"/><stop offset=".6641" stop-color="#fcf9fa"/><stop offset=".6719" stop-color="#eceff4"/><stop offset=".6797" stop-color="#d3deec"/><stop offset=".7109" stop-color="#b0c5df"/><stop offset=".7578" stop-color="#8eabd2"/><stop offset=".9609" stop-color="#5d88c0"/><stop offset="1" stop-color="#5c87c0"/></linearGradient><linearGradient id="ge13"><stop offset="0" stop-color="#3e72b6"/><stop offset=".0391" stop-color="#4879ba"/><stop offset=".0938" stop-color="#7599c9"/><stop offset=".1562" stop-color="#9cb6d8"/><stop offset=".2812" stop-color="#cad8e9"/><stop offset=".2969" stop-color="#d7e1ed"/><stop offset=".3203" stop-color="#fcfcfd"/><stop offset=".3359" stop-color="#f9f5f7"/><stop offset=".4062" stop-color="#dcc6d8"/><stop offset=".5078" stop-color="#ac75a0"/><stop offset=".5781" stop-color="#a46a98"/><stop offset=".6016" stop-color="#a76e9b"/><stop offset=".6172" stop-color="#b381a8"/><stop offset=".6328" stop-color="#c49dbc"/><stop offset=".6562" stop-color="#f1e7ee"/><stop offset=".6641" stop-color="#fcfbfc"/><stop offset=".6797" stop-color="#d0dceb"/><stop offset=".7344" stop-color="#9cb6d8"/><stop offset=".7578" stop-color="#8dabd2"/><stop offset=".9609" stop-color="#5d88c0"/><stop offset="1" stop-color="#5c87c0"/></linearGradient><linearGradient id="ge14"><stop offset="0" stop-color="#3e72b6"/><stop offset=".0391" stop-color="#4979ba"/><stop offset=".0938" stop-color="#7599c9"/><stop offset=".1562" stop-color="#9bb5d7"/><stop offset=".2891" stop-color="#cedbea"/><stop offset=".3047" stop-color="#e2e8f0"/><stop offset=".3203" stop-color="#fbfbfc"/><stop offset=".3281" stop-color="#fefdfe"/><stop offset=".4062" stop-color="#ddc8d9"/><stop offset=".5078" stop-color="#ad77a1"/><stop offset=".5781" stop-color="#a66c99"/><stop offset=".6016" stop-color="#a8709c"/><stop offset=".6172" stop-color="#b483aa"/><stop offset=".6328" stop-color="#c59fbd"/><stop offset=".6562" stop-color="#f2e9ef"/><stop offset=".6641" stop-color="#fdfcfd"/><stop offset=".6797" stop-color="#cedaea"/><stop offset=".7422" stop-color="#96b1d5"/><stop offset=".8125" stop-color="#7d9fcc"/><stop offset=".9688" stop-color="#5c88c0"/><stop offset="1" stop-color="#5c87c0"/></linearGradient><linearGradient id="ge15"><stop offset="0" stop-color="#3e72b6"/><stop offset=".0391" stop-color="#4979ba"/><stop offset=".0938" stop-color="#7499c9"/><stop offset=".1562" stop-color="#9bb5d7"/><stop offset=".2891" stop-color="#ccd9e9"/><stop offset=".3047" stop-color="#dfe6ef"/><stop offset=".3203" stop-color="#f8f9fa"/><stop offset=".3281" stop-color="#ffffff"/><stop offset=".4062" stop-color="#decada"/><stop offset=".5078" stop-color="#ae79a3"/><stop offset=".5781" stop-color="#a76e9b"/><stop offset=".6016" stop-color="#a9729d"/><stop offset=".6172" stop-color="#b585ab"/><stop offset=".6328" stop-color="#c6a1be"/><stop offset=".6562" stop-color="#f3eaf0"/><stop offset=".6641" stop-color="#fefefe"/><stop offset=".6797" stop-color="#cbd9e9"/><stop offset=".75" stop-color="#8facd3"/><stop offset=".9609" stop-color="#5d88c0"/><stop offset="1" stop-color="#5c87c0"/></linearGradient><linearGradient id="ge16"><stop offset="0" stop-color="#3e72b6"/><stop offset=".0391" stop-color="#4979ba"/><stop offset=".0938" stop-color="#7499c9"/><stop offset=".1641" stop-color="#9db7d8"/><stop offset=".2891" stop-color="#cad8e9"/><stop offset=".3047" stop-color="#dde4ef"/><stop offset=".3281" stop-color="#fefefe"/><stop offset=".4062" stop-color="#dfccdc"/><stop offset=".5078" stop-color="#af7ba4"/><stop offset=".5781" stop-color="#a8709c"/><stop offset=".6016" stop-color="#ab749f"/><stop offset=".6172" stop-color="#b787ac"/><stop offset=".6328" stop-color="#c7a2bf"/><stop offset=".6562" stop-color="#f4ecf2"/><stop offset=".6641" stop-color="#ffffff"/><stop offset=".6719" stop-color="#e2e8f0"/><stop offset=".6797" stop-color="#c9d7e9"/><stop offset=".75" stop-color="#8fabd3"/><stop offset=".9609" stop-color="#5d88c0"/><stop offset="1" stop-color="#5c87c0"/></linearGradient><linearGradient id="ge17"><stop offset="0" stop-color="#3e72b6"/><stop offset=".0391" stop-color="#4979ba"/><stop offset=".0938" stop-color="#7499c9"/><stop offset=".1641" stop-color="#9cb6d8"/><stop offset=".2969" stop-color="#ccdaea"/><stop offset=".3281" stop-color="#fcfcfd"/><stop offset=".3516" stop-color="#f8f3f6"/><stop offset=".4062" stop-color="#e1cedd"/><stop offset=".5078" stop-color="#b17da6"/><stop offset=".5781" stop-color="#aa739e"/><stop offset=".6016" stop-color="#ac76a1"/><stop offset=".6172" stop-color="#b889ae"/><stop offset=".6328" stop-color="#c9a5c1"/><stop offset=".6562" stop-color="#f5eff3"/><stop offset=".6641" stop-color="#fdfdfe"/><stop offset=".6719" stop-color="#dee5ef"/><stop offset=".6797" stop-color="#c8d6e8"/><stop offset=".75" stop-color="#8eabd2"/><stop offset=".9609" stop-color="#5d88c0"/><stop offset="1" stop-color="#5c87c0"/></linearGradient><linearGradient id="ge18"><stop offset="0" stop-color="#3f73b6"/><stop offset=".0391" stop-color="#4a7aba"/><stop offset=".0938" stop-color="#7499c9"/><stop offset=".1641" stop-color="#9cb5d8"/><stop offset=".2969" stop-color="#cad8e9"/><stop offset=".3281" stop-color="#fafafc"/><stop offset=".3359" stop-color="#fffefe"/><stop offset=".4062" stop-color="#e3d1df"/><stop offset=".5078" stop-color="#b380a8"/><stop offset=".5781" stop-color="#ac76a0"/><stop offset=".6016" stop-color="#ae79a3"/><stop offset=".6172" stop-color="#ba8cb0"/><stop offset=".6328" stop-color="#cba8c3"/><stop offset=".6562" stop-color="#f7f1f5"/><stop offset=".6641" stop-color="#fbfbfc"/><stop offset=".6719" stop-color="#dae3ee"/><stop offset=".6797" stop-color="#c6d5e7"/><stop offset=".75" stop-color="#8eabd2"/><stop offset=".9609" stop-color="#5d88c0"/><stop offset="1" stop-color="#5c87c0"/></linearGradient><linearGradient id="ge19"><stop offset="0" stop-color="#4073b7"/><stop offset=".0391" stop-color="#4a7aba"/><stop offset=".0938" stop-color="#7499c9"/><stop offset=".1641" stop-color="#9bb5d7"/><stop offset=".2969" stop-color="#c8d6e8"/><stop offset=".3359" stop-color="#fefefe"/><stop offset=".4062" stop-color="#e5d4e1"/><stop offset=".5078" stop-color="#b583aa"/><stop offset=".5781" stop-color="#ae78a2"/><stop offset=".6016" stop-color="#b07ca5"/><stop offset=".6172" stop-color="#bc8fb2"/><stop offset=".6328" stop-color="#ccabc5"/><stop offset=".6562" stop-color="#f8f4f7"/><stop offset=".6641" stop-color="#f8f9fb"/><stop offset=".6719" stop-color="#d7e1ed"/><stop offset=".6797" stop-color="#c4d4e7"/><stop offset=".75" stop-color="#8daad2"/><stop offset=".9688" stop-color="#5c88c0"/><stop offset="1" stop-color="#5c87c0"/></linearGradient><linearGradient id="ge20"><stop offset="0" stop-color="#4174b7"/><stop offset=".0391" stop-color="#4b7bba"/><stop offset=".0938" stop-color="#7499c9"/><stop offset=".1641" stop-color="#9bb5d7"/><stop offset=".2969" stop-color="#c6d5e8"/><stop offset=".3359" stop-color="#fcfcfd"/><stop offset=".3516" stop-color="#fcfafb"/><stop offset=".4062" stop-color="#e6d6e3"/><stop offset=".5078" stop-color="#b686ac"/><stop offset=".5781" stop-color="#b07ba4"/><stop offset=".6016" stop-color="#b27fa7"/><stop offset=".6172" stop-color="#bd92b4"/><stop offset=".6328" stop-color="#ceaec7"/><stop offset=".6562" stop-color="#faf6f8"/><stop offset=".6641" stop-color="#f5f6f9"/><stop offset=".6719" stop-color="#d4deec"/><stop offset=".6797" stop-color="#c3d3e6"/><stop offset=".7578" stop-color="#8aa8d1"/><stop offset=".9688" stop-color="#5c88c0"/><stop offset="1" stop-color="#5c87c0"/></linearGradient><linearGradient id="ge21"><stop offset="0" stop-color="#4275b7"/><stop offset=".0391" stop-color="#4c7cbb"/><stop offset=".0938" stop-color="#7599c9"/><stop offset=".1641" stop-color="#9ab4d7"/><stop offset=".2969" stop-color="#c5d4e7"/><stop offset=".3203" stop-color="#e4e9f1"/><stop offset=".3359" stop-color="#fafbfc"/><stop offset=".3516" stop-color="#fdfcfd"/><stop offset=".4062" stop-color="#e8d9e5"/><stop offset=".5078" stop-color="#b889ae"/><stop offset=".5781" stop-color="#b27ea6"/><stop offset=".6016" stop-color="#b482a9"/><stop offset=".6172" stop-color="#bf95b6"/><stop offset=".6328" stop-color="#d0b1c9"/><stop offset=".6562" stop-color="#fbf9fa"/><stop offset=".6641" stop-color="#f1f3f7"/><stop offset=".6719" stop-color="#d0dceb"/><stop offset=".6797" stop-color="#c1d2e6"/><stop offset=".7578" stop-color="#8aa8d1"/><stop offset=".9688" stop-color="#5c88c0"/><stop offset="1" stop-color="#5c87c0"/></linearGradient><linearGradient id="ge22"><stop offset="0" stop-color="#4376b8"/><stop offset=".0391" stop-color="#4d7dbb"/><stop offset=".1016" stop-color="#799ccb"/><stop offset=".1641" stop-color="#9ab4d7"/><stop offset=".2969" stop-color="#c3d3e6"/><stop offset=".3125" stop-color="#d4dfec"/><stop offset=".3359" stop-color="#f7f8fa"/><stop offset=".3516" stop-color="#fffefe"/><stop offset=".4062" stop-color="#eadce7"/><stop offset=".5078" stop-color="#ba8cb0"/><stop offset=".5781" stop-color="#b482a9"/><stop offset=".6016" stop-color="#b685ab"/><stop offset=".6172" stop-color="#c198b8"/><stop offset=".6328" stop-color="#d2b4cc"/><stop offset=".6562" stop-color="#fdfbfc"/><stop offset=".6641" stop-color="#edf0f5"/><stop offset=".6719" stop-color="#cddaea"/><stop offset=".6875" stop-color="#b9cce3"/><stop offset=".7578" stop-color="#8aa8d1"/><stop offset=".9766" stop-color="#5c88c0"/><stop offset="1" stop-color="#5c87c0"/></linearGradient><linearGradient id="ge23"><stop offset="0" stop-color="#4577b8"/><stop offset=".0391" stop-color="#4f7dbc"/><stop offset=".1016" stop-color="#799ccb"/><stop offset=".1641" stop-color="#99b4d7"/><stop offset=".2969" stop-color="#c2d2e6"/><stop offset=".3203" stop-color="#dce4ef"/><stop offset=".3438" stop-color="#fafafc"/><stop offset=".3594" stop-color="#fdfcfd"/><stop offset=".4062" stop-color="#ecdfe8"/><stop offset=".5078" stop-color="#bc90b3"/><stop offset=".5781" stop-color="#b685ab"/><stop offset=".6016" stop-color="#b889ae"/><stop offset=".6172" stop-color="#c39bba"/><stop offset=".6328" stop-color="#d3b7ce"/><stop offset=".6562" stop-color="#fefdfe"/><stop offset=".6641" stop-color="#eaedf3"/><stop offset=".6719" stop-color="#cad8e9"/><stop offset=".6953" stop-color="#b1c6df"/><stop offset=".7578" stop-color="#8aa8d1"/><stop offset=".9766" stop-color="#5c88c0"/><stop offset="1" stop-color="#5c87c0"/></linearGradient><linearGradient id="ge24"><stop offset="0" stop-color="#4678b9"/><stop offset=".0391" stop-color="#507ebc"/><stop offset=".1016" stop-color="#799dcb"/><stop offset=".1641" stop-color="#99b3d6"/><stop offset=".2969" stop-color="#c0d1e5"/><stop offset=".3203" stop-color="#d9e2ed"/><stop offset=".3438" stop-color="#f6f7f9"/><stop offset=".3594" stop-color="#ffffff"/><stop offset=".4062" stop-color="#ede1ea"/><stop offset=".5078" stop-color="#be93b5"/><stop offset=".5781" stop-color="#b889ae"/><stop offset=".6016" stop-color="#ba8cb0"/><stop offset=".6172" stop-color="#c59ebc"/><stop offset=".6328" stop-color="#d5bad0"/><stop offset=".6562" stop-color="#ffffff"/><stop offset=".6719" stop-color="#c8d7e8"/><stop offset=".6953" stop-color="#b0c5df"/><stop offset=".7578" stop-color="#8aa8d1"/><stop offset=".9766" stop-color="#5c88c0"/><stop offset="1" stop-color="#5c87c0"/></linearGradient><linearGradient id="ge25"><stop offset="0" stop-color="#4879b9"/><stop offset=".0391" stop-color="#5180bd"/><stop offset=".1016" stop-color="#7a9dcb"/><stop offset=".1641" stop-color="#98b3d6"/><stop offset=".2969" stop-color="#bed0e5"/><stop offset=".3203" stop-color="#d5dfec"/><stop offset=".3438" stop-color="#f2f4f7"/><stop offset=".3672" stop-color="#fefdfe"/><stop offset=".4141" stop-color="#ebdee8"/><stop offset=".5078" stop-color="#c097b7"/><stop offset=".5781" stop-color="#ba8cb0"/><stop offset=".6016" stop-color="#bc90b3"/><stop offset=".6172" stop-color="#c7a1bf"/><stop offset=".6328" stop-color="#d7bed2"/><stop offset=".6484" stop-color="#f5eef3"/><stop offset=".6562" stop-color="#fdfdfd"/><stop offset=".6719" stop-color="#c6d5e8"/><stop offset=".6953" stop-color="#afc4df"/><stop offset=".7578" stop-color="#8aa8d1"/><stop offset=".9766" stop-color="#5c88c0"/><stop offset="1" stop-color="#5c87c0"/></linearGradient><linearGradient id="ge26"><stop offset="0" stop-color="#4a7aba"/><stop offset=".0391" stop-color="#5381bd"/><stop offset=".1094" stop-color="#7ea0cc"/><stop offset=".1641" stop-color="#97b2d6"/><stop offset=".2969" stop-color="#bccee4"/><stop offset=".3203" stop-color="#cfdbeb"/><stop offset=".3438" stop-color="#eceff4"/><stop offset=".3672" stop-color="#fefefe"/><stop offset=".3984" stop-color="#f6f0f4"/><stop offset=".5078" stop-color="#c39bbb"/><stop offset=".5781" stop-color="#bd91b4"/><stop offset=".6016" stop-color="#bf95b6"/><stop offset=".6172" stop-color="#caa6c2"/><stop offset=".6328" stop-color="#dac2d5"/><stop offset=".6484" stop-color="#f7f2f6"/><stop offset=".6562" stop-color="#f9f9fb"/><stop offset=".6719" stop-color="#c4d3e7"/><stop offset=".6953" stop-color="#aec3de"/><stop offset=".7578" stop-color="#89a8d1"/><stop offset=".9844" stop-color="#5c87c0"/><stop offset="1" stop-color="#5c87c0"/></linearGradient><linearGradient id="ge27"><stop offset="0" stop-color="#4b7aba"/><stop offset=".0391" stop-color="#5481bd"/><stop offset=".1094" stop-color="#7e9fcc"/><stop offset=".1719" stop-color="#99b3d7"/><stop offset=".2969" stop-color="#bacce3"/><stop offset=".3203" stop-color="#cbd9e9"/><stop offset=".3516" stop-color="#eef1f5"/><stop offset=".375" stop-color="#fefeff"/><stop offset=".4062" stop-color="#f4ecf2"/><stop offset=".5078" stop-color="#c59fbd"/><stop offset=".5781" stop-color="#bf95b6"/><stop offset=".6016" stop-color="#c198b9"/><stop offset=".6172" stop-color="#ccaac5"/><stop offset=".6328" stop-color="#dcc6d8"/><stop offset=".6484" stop-color="#f9f5f8"/><stop offset=".6562" stop-color="#f4f5f8"/><stop offset=".6719" stop-color="#c2d2e6"/><stop offset=".6953" stop-color="#adc2de"/><stop offset=".7578" stop-color="#89a7d1"/><stop offset=".9844" stop-color="#5c87c0"/><stop offset="1" stop-color="#5c87c0"/></linearGradient><linearGradient id="ge28"><stop offset="0" stop-color="#4c7bbb"/><stop offset=".0391" stop-color="#5482be"/><stop offset=".1094" stop-color="#7e9fcc"/><stop offset=".1719" stop-color="#98b3d6"/><stop offset=".2969" stop-color="#b8cbe2"/><stop offset=".3281" stop-color="#d1ddeb"/><stop offset=".375" stop-color="#fcfcfd"/><stop offset=".3906" stop-color="#fdfbfc"/><stop offset=".5078" stop-color="#c7a2bf"/><stop offset=".5781" stop-color="#c298b9"/><stop offset=".6016" stop-color="#c49cbb"/><stop offset=".6172" stop-color="#ceaec7"/><stop offset=".6328" stop-color="#dec9da"/><stop offset=".6484" stop-color="#fbf8fa"/><stop offset=".6562" stop-color="#eff2f6"/><stop offset=".6641" stop-color="#d3deec"/><stop offset=".6719" stop-color="#c0d1e5"/><stop offset=".6875" stop-color="#b0c5df"/><stop offset=".7578" stop-color="#89a7d0"/><stop offset=".9844" stop-color="#5c87c0"/><stop offset="1" stop-color="#5c87c0"/></linearGradient><linearGradient id="ge29"><stop offset="0" stop-color="#4c7cbb"/><stop offset=".0391" stop-color="#5582be"/><stop offset=".1172" stop-color="#81a2ce"/><stop offset=".1719" stop-color="#98b2d6"/><stop offset=".2969" stop-color="#b7cae2"/><stop offset=".3281" stop-color="#cddaea"/><stop offset=".3828" stop-color="#fdfdfd"/><stop offset=".3984" stop-color="#fcf9fb"/><stop offset=".5078" stop-color="#caa6c2"/><stop offset=".5781" stop-color="#c49cbb"/><stop offset=".6016" stop-color="#c69fbd"/><stop offset=".6172" stop-color="#d0b2ca"/><stop offset=".6328" stop-color="#e0cddd"/><stop offset=".6484" stop-color="#fdfbfc"/><stop offset=".6562" stop-color="#ebeef3"/><stop offset=".6641" stop-color="#cfdbea"/><stop offset=".6797" stop-color="#b4c8e0"/><stop offset=".7578" stop-color="#88a7d0"/><stop offset=".9844" stop-color="#5c87c0"/><stop offset="1" stop-color="#5c87c0"/></linearGradient><linearGradient id="ge30"><stop offset="0" stop-color="#4d7dbb"/><stop offset=".0391" stop-color="#5683be"/><stop offset=".1172" stop-color="#81a2ce"/><stop offset=".1797" stop-color="#99b3d7"/><stop offset=".2969" stop-color="#b5c8e1"/><stop offset=".3359" stop-color="#d2deec"/><stop offset=".3906" stop-color="#fefefe"/><stop offset=".4141" stop-color="#f6f0f4"/><stop offset=".5078" stop-color="#ccaac5"/><stop offset=".5781" stop-color="#c6a0be"/><stop offset=".6016" stop-color="#c8a3c0"/><stop offset=".6172" stop-color="#d3b6cd"/><stop offset=".6328" stop-color="#e3d1df"/><stop offset=".6484" stop-color="#fffefe"/><stop offset=".6641" stop-color="#cad8e9"/><stop offset=".6797" stop-color="#b2c6e0"/><stop offset=".7578" stop-color="#88a7d0"/><stop offset=".9844" stop-color="#5c87c0"/><stop offset="1" stop-color="#5c87c0"/></linearGradient><linearGradient id="ge31"><stop offset="0" stop-color="#4e7dbc"/><stop offset=".0391" stop-color="#5784be"/><stop offset=".125" stop-color="#84a4cf"/><stop offset=".1875" stop-color="#9ab4d7"/><stop offset=".2969" stop-color="#b3c7e0"/><stop offset=".3594" stop-color="#e2e8f0"/><stop offset=".3984" stop-color="#ffffff"/><stop offset=".5078" stop-color="#ceaec8"/><stop offset=".5781" stop-color="#c8a3c0"/><stop offset=".6016" stop-color="#caa7c3"/><stop offset=".6172" stop-color="#d5bacf"/><stop offset=".6328" stop-color="#e5d5e2"/><stop offset=".6484" stop-color="#fdfdfe"/><stop offset=".6641" stop-color="#c8d6e8"/><stop offset=".6797" stop-color="#b0c5df"/><stop offset=".7578" stop-color="#88a6d0"/><stop offset=".9844" stop-color="#5c87c0"/><stop offset="1" stop-color="#5c87c0"/></linearGradient><linearGradient id="ge32"><stop offset="0" stop-color="#4f7ebc"/><stop offset=".0391" stop-color="#5884bf"/><stop offset=".125" stop-color="#84a4cf"/><stop offset=".1953" stop-color="#9bb5d7"/><stop offset=".3047" stop-color="#b6c9e1"/><stop offset=".375" stop-color="#eaedf3"/><stop offset=".3984" stop-color="#fcfcfd"/><stop offset=".4141" stop-color="#faf7f9"/><stop offset=".5078" stop-color="#d1b2cb"/><stop offset=".5781" stop-color="#cba8c3"/><stop offset=".6016" stop-color="#cdabc6"/><stop offset=".6172" stop-color="#d7bdd2"/><stop offset=".6328" stop-color="#e8d8e4"/><stop offset=".6406" stop-color="#f5eef3"/><stop offset=".6484" stop-color="#fbfbfc"/><stop offset=".6562" stop-color="#dce4ee"/><stop offset=".6641" stop-color="#c5d5e7"/><stop offset=".6797" stop-color="#afc4df"/><stop offset=".7578" stop-color="#87a6d0"/><stop offset=".9375" stop-color="#638dc3"/><stop offset="1" stop-color="#5c87c0"/></linearGradient><linearGradient id="ge33"><stop offset="0" stop-color="#507fbc"/><stop offset=".0391" stop-color="#5985bf"/><stop offset=".1328" stop-color="#87a6d0"/><stop offset=".2578" stop-color="#a7bedc"/><stop offset=".3047" stop-color="#b4c8e0"/><stop offset=".3672" stop-color="#dee5ef"/><stop offset=".4062" stop-color="#fefefe"/><stop offset=".5078" stop-color="#d3b7ce"/><stop offset=".5781" stop-color="#cdacc6"/><stop offset=".6016" stop-color="#cfb0c9"/><stop offset=".6172" stop-color="#d9c2d5"/><stop offset=".6328" stop-color="#eadce7"/><stop offset=".6406" stop-color="#f7f2f6"/><stop offset=".6484" stop-color="#f5f6f9"/><stop offset=".6562" stop-color="#d6e0ed"/><stop offset=".6719" stop-color="#b6c9e1"/><stop offset=".7031" stop-color="#a2bada"/><stop offset=".7578" stop-color="#87a6d0"/><stop offset=".9297" stop-color="#658ec3"/><stop offset="1" stop-color="#5c87c0"/></linearGradient><linearGradient id="ge34"><stop offset="0" stop-color="#5180bd"/><stop offset=".0469" stop-color="#5e89c1"/><stop offset=".1562" stop-color="#90add3"/><stop offset=".3047" stop-color="#b2c6e0"/><stop offset=".3672" stop-color="#d9e2ed"/><stop offset=".4062" stop-color="#fcfcfd"/><stop offset=".4141" stop-color="#fefefe"/><stop offset=".5078" stop-color="#d6bbd1"/><stop offset=".5781" stop-color="#d0b1ca"/><stop offset=".6016" stop-color="#d2b4cc"/><stop offset=".6172" stop-color="#dcc6d8"/><stop offset=".6328" stop-color="#ede0ea"/><stop offset=".6406" stop-color="#faf6f8"/><stop offset=".6484" stop-color="#f0f2f6"/><stop offset=".6562" stop-color="#d1ddeb"/><stop offset=".6719" stop-color="#b4c8e0"/><stop offset=".75" stop-color="#88a7d0"/><stop offset=".9297" stop-color="#658ec3"/><stop offset="1" stop-color="#5c87c0"/></linearGradient><linearGradient id="ge35"><stop offset="0" stop-color="#5280bd"/><stop offset=".0469" stop-color="#5f8ac1"/><stop offset=".1562" stop-color="#8facd3"/><stop offset=".3047" stop-color="#b0c5df"/><stop offset=".375" stop-color="#d9e2ee"/><stop offset=".4141" stop-color="#fdfdfe"/><stop offset=".4531" stop-color="#f0e6ed"/><stop offset=".5078" stop-color="#d8bfd4"/><stop offset=".5781" stop-color="#d3b6cd"/><stop offset=".6016" stop-color="#d5b9cf"/><stop offset=".6172" stop-color="#dfcadb"/><stop offset=".6328" stop-color="#efe5ec"/><stop offset=".6406" stop-color="#fcfafb"/><stop offset=".6484" stop-color="#eaedf3"/><stop offset=".6562" stop-color="#ccd9e9"/><stop offset=".6719" stop-color="#b1c6e0"/><stop offset=".7578" stop-color="#86a5d0"/><stop offset=".9219" stop-color="#6790c4"/><stop offset="1" stop-color="#5c87c0"/></linearGradient><linearGradient id="ge36"><stop offset="0" stop-color="#5481bd"/><stop offset=".0469" stop-color="#608ac1"/><stop offset=".1562" stop-color="#8facd3"/><stop offset=".3047" stop-color="#aec4de"/><stop offset=".375" stop-color="#d4deec"/><stop offset=".4062" stop-color="#f0f3f6"/><stop offset=".4219" stop-color="#fefeff"/><stop offset=".5156" stop-color="#dac3d6"/><stop offset=".5781" stop-color="#d6bbd0"/><stop offset=".6016" stop-color="#d7bed3"/><stop offset=".6172" stop-color="#e2d0de"/><stop offset=".6328" stop-color="#f2eaf0"/><stop offset=".6406" stop-color="#fefefe"/><stop offset=".6562" stop-color="#c8d6e8"/><stop offset=".6719" stop-color="#afc4df"/><stop offset=".7578" stop-color="#86a5cf"/><stop offset=".9219" stop-color="#6890c4"/><stop offset="1" stop-color="#5c87c0"/></linearGradient><linearGradient id="ge37"><stop offset="0" stop-color="#5582be"/><stop offset=".0469" stop-color="#608bc2"/><stop offset=".1641" stop-color="#90acd3"/><stop offset=".3125" stop-color="#b0c5df"/><stop offset=".3828" stop-color="#d3deec"/><stop offset=".4219" stop-color="#fbfbfc"/><stop offset=".4297" stop-color="#ffffff"/><stop offset=".5156" stop-color="#ddc8da"/><stop offset=".5781" stop-color="#d9c0d4"/><stop offset=".6016" stop-color="#dbc3d6"/><stop offset=".6172" stop-color="#e6d5e2"/><stop offset=".6406" stop-color="#fdfdfd"/><stop offset=".6484" stop-color="#dbe4ee"/><stop offset=".6562" stop-color="#c4d4e7"/><stop offset=".6719" stop-color="#adc3de"/><stop offset=".7578" stop-color="#85a5cf"/><stop offset=".9219" stop-color="#6890c4"/><stop offset="1" stop-color="#5c87c0"/></linearGradient><linearGradient id="ge38"><stop offset="0" stop-color="#5683be"/><stop offset=".0469" stop-color="#618bc2"/><stop offset=".1641" stop-color="#8facd3"/><stop offset=".3125" stop-color="#aec4de"/><stop offset=".3906" stop-color="#d2ddeb"/><stop offset=".4297" stop-color="#fcfcfc"/><stop offset=".4375" stop-color="#ffffff"/><stop offset=".5156" stop-color="#e1cede"/><stop offset=".5781" stop-color="#dcc6d8"/><stop offset=".6016" stop-color="#decada"/><stop offset=".625" stop-color="#f1e7ee"/><stop offset=".6328" stop-color="#f9f4f7"/><stop offset=".6406" stop-color="#f6f7f9"/><stop offset=".6484" stop-color="#d4deec"/><stop offset=".6562" stop-color="#c1d1e5"/><stop offset=".6797" stop-color="#a6bddb"/><stop offset=".7578" stop-color="#85a4cf"/><stop offset=".9219" stop-color="#6890c4"/><stop offset="1" stop-color="#5c87c0"/></linearGradient><linearGradient id="ge39"><stop offset="0" stop-color="#5784be"/><stop offset=".0469" stop-color="#628cc2"/><stop offset=".1641" stop-color="#8eabd3"/><stop offset=".3125" stop-color="#adc2de"/><stop offset=".3906" stop-color="#cbd8e9"/><stop offset=".4375" stop-color="#fcfcfc"/><stop offset=".4453" stop-color="#ffffff"/><stop offset=".5156" stop-color="#e5d5e2"/><stop offset=".5781" stop-color="#e0cddd"/><stop offset=".6016" stop-color="#e3d0df"/><stop offset=".6172" stop-color="#ede1ea"/><stop offset=".6328" stop-color="#fcfafb"/><stop offset=".6406" stop-color="#edf0f5"/><stop offset=".6484" stop-color="#ccd9e9"/><stop offset=".6719" stop-color="#a9c0dd"/><stop offset=".7578" stop-color="#84a4cf"/><stop offset=".9219" stop-color="#6891c4"/><stop offset="1" stop-color="#5c87c0"/></linearGradient><linearGradient id="ge40"><stop offset="0" stop-color="#5884bf"/><stop offset=".0469" stop-color="#638dc3"/><stop offset=".1719" stop-color="#8facd3"/><stop offset=".3125" stop-color="#abc1dd"/><stop offset=".3984" stop-color="#cad8e9"/><stop offset=".4453" stop-color="#fbfbfc"/><stop offset=".4609" stop-color="#fdfbfc"/><stop offset=".5156" stop-color="#eadce7"/><stop offset=".5781" stop-color="#e5d4e2"/><stop offset=".6016" stop-color="#e7d8e4"/><stop offset=".6172" stop-color="#f2e8ef"/><stop offset=".6328" stop-color="#fefefe"/><stop offset=".6484" stop-color="#c6d5e8"/><stop offset=".6719" stop-color="#a7bedc"/><stop offset=".7578" stop-color="#83a3cf"/><stop offset=".9141" stop-color="#6a92c5"/><stop offset="1" stop-color="#5c87c0"/></linearGradient><linearGradient id="ge41"><stop offset="0" stop-color="#5985bf"/><stop offset=".0469" stop-color="#648dc3"/><stop offset=".1719" stop-color="#8fabd3"/><stop offset=".3203" stop-color="#acc2dd"/><stop offset=".4062" stop-color="#cbd9e9"/><stop offset=".4609" stop-color="#fefefe"/><stop offset=".5156" stop-color="#eee2eb"/><stop offset=".5781" stop-color="#e9dbe6"/><stop offset=".6094" stop-color="#efe4ec"/><stop offset=".625" stop-color="#fcfafb"/><stop offset=".6328" stop-color="#f9f9fb"/><stop offset=".6484" stop-color="#c2d2e6"/><stop offset=".6719" stop-color="#a5bddb"/><stop offset=".7578" stop-color="#83a3ce"/><stop offset=".9141" stop-color="#6b92c5"/><stop offset="1" stop-color="#5c87c0"/></linearGradient><linearGradient id="ge42"><stop offset="0" stop-color="#5a86c0"/><stop offset=".0547" stop-color="#6891c4"/><stop offset=".1719" stop-color="#8facd3"/><stop offset=".3203" stop-color="#abc1dd"/><stop offset=".4062" stop-color="#c9d7e9"/><stop offset=".4609" stop-color="#fcfcfd"/><stop offset=".4766" stop-color="#fcfafb"/><stop offset=".5156" stop-color="#f0e5ed"/><stop offset=".5781" stop-color="#ebdee8"/><stop offset=".6016" stop-color="#ede2ea"/><stop offset=".625" stop-color="#fefdfd"/><stop offset=".6328" stop-color="#f4f5f8"/><stop offset=".6406" stop-color="#d6e0ed"/><stop offset=".6484" stop-color="#c0d1e5"/><stop offset=".6719" stop-color="#a4bcdb"/><stop offset=".7578" stop-color="#83a3ce"/><stop offset=".9141" stop-color="#6b93c5"/><stop offset="1" stop-color="#5c87c0"/></linearGradient><linearGradient id="ge43"><stop offset="0" stop-color="#5b87c0"/><stop offset=".0547" stop-color="#6991c5"/><stop offset=".1719" stop-color="#8daad2"/><stop offset=".3203" stop-color="#a7bedc"/><stop offset=".4141" stop-color="#c4d4e7"/><stop offset=".4531" stop-color="#e3e9f0"/><stop offset=".4844" stop-color="#fefefe"/><stop offset=".5469" stop-color="#f5eef3"/><stop offset=".6016" stop-color="#f6f0f4"/><stop offset=".6172" stop-color="#ffffff"/><stop offset=".625" stop-color="#f3f5f8"/><stop offset=".6406" stop-color="#c6d5e8"/><stop offset=".6562" stop-color="#adc3de"/><stop offset=".6875" stop-color="#98b3d6"/><stop offset=".7656" stop-color="#80a1cd"/><stop offset=".9141" stop-color="#6b93c5"/><stop offset="1" stop-color="#5c87c0"/></linearGradient><linearGradient id="ge44"><stop offset="0" stop-color="#5c88c0"/><stop offset=".0547" stop-color="#6a92c5"/><stop offset=".1719" stop-color="#8caad2"/><stop offset=".3203" stop-color="#a6bddb"/><stop offset=".4141" stop-color="#c1d1e6"/><stop offset=".4531" stop-color="#dbe3ee"/><stop offset=".4922" stop-color="#fdfdfd"/><stop offset=".5781" stop-color="#f8f3f6"/><stop offset=".6172" stop-color="#fafafc"/><stop offset=".6484" stop-color="#b4c8e1"/><stop offset=".6797" stop-color="#99b4d7"/><stop offset=".7656" stop-color="#80a1cd"/><stop offset=".9141" stop-color="#6b93c5"/><stop offset="1" stop-color="#5c87c0"/></linearGradient><linearGradient id="ge45"><stop offset="0" stop-color="#5d89c1"/><stop offset=".0547" stop-color="#6a92c5"/><stop offset=".1797" stop-color="#8daad2"/><stop offset=".3281" stop-color="#a7bedc"/><stop offset=".4141" stop-color="#becfe4"/><stop offset=".4531" stop-color="#d2ddeb"/><stop offset=".5078" stop-color="#fefefe"/><stop offset=".5859" stop-color="#fdfbfc"/><stop offset=".6094" stop-color="#fdfdfd"/><stop offset=".6484" stop-color="#b0c5df"/><stop offset=".6797" stop-color="#97b2d6"/><stop offset=".7734" stop-color="#7ea0cd"/><stop offset=".9141" stop-color="#6b93c5"/><stop offset="1" stop-color="#5c87c0"/></linearGradient><linearGradient id="ge46"><stop offset="0" stop-color="#5f89c1"/><stop offset=".0625" stop-color="#6e95c7"/><stop offset=".1875" stop-color="#8eabd3"/><stop offset=".3281" stop-color="#a5bddb"/><stop offset=".4141" stop-color="#bacce3"/><stop offset=".4609" stop-color="#d1dceb"/><stop offset=".5078" stop-color="#f8f9fa"/><stop offset=".5859" stop-color="#fdfdfe"/><stop offset=".6016" stop-color="#fcfcfd"/><stop offset=".6094" stop-color="#f5f6f9"/><stop offset=".6484" stop-color="#adc3de"/><stop offset=".6797" stop-color="#96b1d5"/><stop offset=".7734" stop-color="#7ea0cc"/><stop offset=".9141" stop-color="#6b93c5"/><stop offset="1" stop-color="#5c87c0"/></linearGradient><linearGradient id="ge47"><stop offset="0" stop-color="#608ac1"/><stop offset=".0703" stop-color="#7197c8"/><stop offset=".1875" stop-color="#8eabd2"/><stop offset=".3281" stop-color="#a4bcdb"/><stop offset=".4141" stop-color="#b7cae2"/><stop offset=".4688" stop-color="#cedbea"/><stop offset=".5078" stop-color="#eef0f5"/><stop offset=".5703" stop-color="#f9f9fb"/><stop offset=".6016" stop-color="#f2f4f7"/><stop offset=".6094" stop-color="#eaedf3"/><stop offset=".625" stop-color="#cbd8e9"/><stop offset=".6562" stop-color="#a4bcda"/><stop offset=".6953" stop-color="#90acd3"/><stop offset=".7812" stop-color="#7c9fcc"/><stop offset=".9141" stop-color="#6b93c5"/><stop offset="1" stop-color="#5c87c0"/></linearGradient><linearGradient id="ge48"><stop offset="0" stop-color="#618bc2"/><stop offset=".0781" stop-color="#7599c9"/><stop offset=".2031" stop-color="#90add3"/><stop offset=".3984" stop-color="#b0c5df"/><stop offset=".4766" stop-color="#cfdceb"/><stop offset=".5078" stop-color="#e8ecf2"/><stop offset=".5703" stop-color="#f2f4f7"/><stop offset=".6016" stop-color="#ebeef3"/><stop offset=".6172" stop-color="#d4deec"/><stop offset=".6562" stop-color="#a2bada"/><stop offset=".6953" stop-color="#8facd3"/><stop offset=".7812" stop-color="#7c9fcc"/><stop offset=".9141" stop-color="#6c93c6"/><stop offset="1" stop-color="#5c87c0"/></linearGradient><linearGradient id="ge49"><stop offset="0" stop-color="#628cc2"/><stop offset=".1172" stop-color="#80a1cd"/><stop offset=".4141" stop-color="#b4c8e0"/><stop offset=".4844" stop-color="#d1dceb"/><stop offset=".5156" stop-color="#e3e9f1"/><stop offset=".5703" stop-color="#eceff4"/><stop offset=".6016" stop-color="#e5eaf1"/><stop offset=".6484" stop-color="#a8bfdc"/><stop offset=".6875" stop-color="#90add3"/><stop offset=".7812" stop-color="#7c9ecc"/><stop offset=".9141" stop-color="#6c93c6"/><stop offset="1" stop-color="#5c87c0"/></linearGradient><linearGradient id="ge50"><stop offset="0" stop-color="#638dc3"/><stop offset=".1953" stop-color="#8facd3"/><stop offset=".4062" stop-color="#b0c5df"/><stop offset=".4922" stop-color="#d1ddeb"/><stop offset=".5156" stop-color="#dee5ef"/><stop offset=".5703" stop-color="#e6ebf1"/><stop offset=".6016" stop-color="#dee6ef"/><stop offset=".6562" stop-color="#a0b9d9"/><stop offset=".6953" stop-color="#8dabd2"/><stop offset=".7891" stop-color="#7b9ecb"/><stop offset=".9141" stop-color="#6c93c6"/><stop offset="1" stop-color="#5c87c0"/></linearGradient><linearGradient id="ge51"><stop offset="0" stop-color="#648dc3"/><stop offset=".1953" stop-color="#90acd3"/><stop offset=".4141" stop-color="#b1c6df"/><stop offset=".5" stop-color="#d2ddeb"/><stop offset=".5547" stop-color="#dee6ef"/><stop offset=".6016" stop-color="#d8e1ed"/><stop offset=".6562" stop-color="#9fb8d9"/><stop offset=".6953" stop-color="#8daad2"/><stop offset=".7891" stop-color="#7b9ecb"/><stop offset=".9141" stop-color="#6c93c6"/><stop offset="1" stop-color="#5c87c0"/></linearGradient><linearGradient id="ge52"><stop offset="0" stop-color="#658ec3"/><stop offset=".2031" stop-color="#91add4"/><stop offset=".4219" stop-color="#b2c7e0"/><stop offset=".5234" stop-color="#d3deec"/><stop offset=".5781" stop-color="#d7e1ed"/><stop offset=".6016" stop-color="#d1ddeb"/><stop offset=".6641" stop-color="#98b3d6"/><stop offset=".7266" stop-color="#85a4cf"/><stop offset=".9141" stop-color="#6c94c6"/><stop offset="1" stop-color="#5c87c0"/></linearGradient><linearGradient id="ge53"><stop offset="0" stop-color="#668fc4"/><stop offset=".2031" stop-color="#91add4"/><stop offset=".4297" stop-color="#b3c7e0"/><stop offset=".5312" stop-color="#cedbea"/><stop offset=".5781" stop-color="#d0dceb"/><stop offset=".6094" stop-color="#c7d6e8"/><stop offset=".6641" stop-color="#97b2d6"/><stop offset=".7266" stop-color="#84a4cf"/><stop offset=".9141" stop-color="#6c94c6"/><stop offset="1" stop-color="#5c87c0"/></linearGradient><linearGradient id="ge54"><stop offset="0" stop-color="#678fc4"/><stop offset=".2109" stop-color="#92aed4"/><stop offset=".4375" stop-color="#b3c7e0"/><stop offset=".5234" stop-color="#c9d7e8"/><stop offset=".5859" stop-color="#c9d7e9"/><stop offset=".6094" stop-color="#c3d3e6"/><stop offset=".6641" stop-color="#96b1d6"/><stop offset=".7344" stop-color="#82a3ce"/><stop offset=".9141" stop-color="#6d94c6"/><stop offset="1" stop-color="#5c87c0"/></linearGradient><linearGradient id="ge55"><stop offset="0" stop-color="#6790c4"/><stop offset=".2188" stop-color="#94afd5"/><stop offset=".4453" stop-color="#b3c7e0"/><stop offset=".5234" stop-color="#c6d5e7"/><stop offset=".6016" stop-color="#c4d4e7"/><stop offset=".6719" stop-color="#91add3"/><stop offset=".7812" stop-color="#7b9ecc"/><stop offset=".9141" stop-color="#6d94c6"/><stop offset="1" stop-color="#5c87c0"/></linearGradient><linearGradient id="ge56"><stop offset="0" stop-color="#6891c4"/><stop offset=".2188" stop-color="#94afd5"/><stop offset=".4531" stop-color="#b4c8e0"/><stop offset=".5234" stop-color="#c3d3e6"/><stop offset=".6016" stop-color="#c1d1e5"/><stop offset=".6719" stop-color="#90acd3"/><stop offset=".7812" stop-color="#7b9ecc"/><stop offset=".9141" stop-color="#6d94c6"/><stop offset="1" stop-color="#5c87c0"/></linearGradient><linearGradient id="ge57"><stop offset="0" stop-color="#6991c5"/><stop offset=".2188" stop-color="#94afd5"/><stop offset=".4609" stop-color="#b4c8e0"/><stop offset=".5312" stop-color="#c1d1e5"/><stop offset=".6016" stop-color="#becfe4"/><stop offset=".6797" stop-color="#8caad2"/><stop offset=".7969" stop-color="#7a9dcb"/><stop offset=".9141" stop-color="#6d94c6"/><stop offset="1" stop-color="#5c87c0"/></linearGradient><linearGradient id="ge58"><stop offset="0" stop-color="#6a92c5"/><stop offset=".2266" stop-color="#95b0d5"/><stop offset=".4688" stop-color="#b3c8e0"/><stop offset=".5312" stop-color="#becfe4"/><stop offset=".6016" stop-color="#bbcde3"/><stop offset=".6797" stop-color="#8ba9d1"/><stop offset=".8047" stop-color="#799ccb"/><stop offset=".9141" stop-color="#6d94c6"/><stop offset="1" stop-color="#5c87c0"/></linearGradient><linearGradient id="ge59"><stop offset="0" stop-color="#6a92c5"/><stop offset=".2266" stop-color="#94b0d5"/><stop offset=".4766" stop-color="#b3c7e0"/><stop offset=".5391" stop-color="#bbcde3"/><stop offset=".6094" stop-color="#b4c8e1"/><stop offset=".6797" stop-color="#8aa8d1"/><stop offset=".8125" stop-color="#789cca"/><stop offset=".9141" stop-color="#6d94c6"/><stop offset="1" stop-color="#5c87c0"/></linearGradient><linearGradient id="ge60"><stop offset="0" stop-color="#6b93c5"/><stop offset=".2266" stop-color="#94b0d5"/><stop offset=".4922" stop-color="#b4c8e0"/><stop offset=".5859" stop-color="#b6c9e1"/><stop offset=".625" stop-color="#a9c0dc"/><stop offset=".6797" stop-color="#8aa8d1"/><stop offset=".8125" stop-color="#789cca"/><stop offset=".9141" stop-color="#6d94c6"/><stop offset="1" stop-color="#5c87c0"/></linearGradient><linearGradient id="ge61"><stop offset="0" stop-color="#6c93c6"/><stop offset=".2344" stop-color="#95b0d5"/><stop offset=".5469" stop-color="#b5c9e1"/><stop offset=".6094" stop-color="#afc4de"/><stop offset=".6797" stop-color="#89a7d1"/><stop offset=".8203" stop-color="#789bca"/><stop offset=".9141" stop-color="#6d94c6"/><stop offset="1" stop-color="#5c87c0"/></linearGradient><linearGradient id="ge62"><stop offset="0" stop-color="#6d94c6"/><stop offset=".2344" stop-color="#94b0d5"/><stop offset=".5469" stop-color="#b1c6df"/><stop offset=".6094" stop-color="#acc2dd"/><stop offset=".6797" stop-color="#88a7d0"/><stop offset=".8281" stop-color="#779bca"/><stop offset=".9141" stop-color="#6d94c6"/><stop offset="1" stop-color="#5c87c0"/></linearGradient><linearGradient id="ge63"><stop offset="0" stop-color="#6d94c6"/><stop offset=".2344" stop-color="#94afd5"/><stop offset=".5469" stop-color="#adc3de"/><stop offset=".6094" stop-color="#a8bfdc"/><stop offset=".6797" stop-color="#87a6d0"/><stop offset=".8281" stop-color="#779bca"/><stop offset=".9141" stop-color="#6e94c6"/><stop offset="1" stop-color="#5c87c0"/></linearGradient><linearGradient id="ge64"><stop offset="0" stop-color="#6e95c6"/><stop offset=".2422" stop-color="#93afd4"/><stop offset=".5469" stop-color="#aac0dd"/><stop offset=".6172" stop-color="#a2bada"/><stop offset=".6797" stop-color="#86a5cf"/><stop offset=".8438" stop-color="#769aca"/><stop offset=".9219" stop-color="#6b93c6"/><stop offset="1" stop-color="#5c87c0"/></linearGradient><linearGradient id="ge65"><stop offset="0" stop-color="#6e95c6"/><stop offset=".2422" stop-color="#92aed4"/><stop offset=".5547" stop-color="#a7bedc"/><stop offset=".6172" stop-color="#9fb8d9"/><stop offset=".6797" stop-color="#85a4cf"/><stop offset=".8516" stop-color="#759ac9"/><stop offset=".9219" stop-color="#6b93c5"/><stop offset="1" stop-color="#5c87c0"/></linearGradient><linearGradient id="ge66"><stop offset="0" stop-color="#6e95c6"/><stop offset=".2344" stop-color="#90add3"/><stop offset=".5547" stop-color="#a4bcda"/><stop offset=".6172" stop-color="#9cb6d8"/><stop offset=".6797" stop-color="#84a4cf"/><stop offset=".8594" stop-color="#759ac9"/><stop offset=".9375" stop-color="#6790c4"/><stop offset="1" stop-color="#5c87c0"/></linearGradient><linearGradient id="ge67"><stop offset="0" stop-color="#5c87c0"/><stop offset=".3182" stop-color="#5f8ac1"/><stop offset=".4586" stop-color="#507ebc"/><stop offset=".627" stop-color="#648ec3"/><stop offset=".7066" stop-color="#8daad2"/><stop offset=".7394" stop-color="#86a5d0"/><stop offset=".8283" stop-color="#5582be"/><stop offset=".9031" stop-color="#4878b9"/><stop offset="1" stop-color="#4b7bba"/></linearGradient><linearGradient id="ge68"><stop offset="0" stop-color="#5c87c0"/><stop offset=".3135" stop-color="#5f8ac1"/><stop offset=".4539" stop-color="#4d7cbb"/><stop offset=".627" stop-color="#648ec3"/><stop offset=".7066" stop-color="#8daad2"/><stop offset=".7394" stop-color="#86a5d0"/><stop offset=".8283" stop-color="#5582be"/><stop offset=".9031" stop-color="#4778b9"/><stop offset="1" stop-color="#4b7bba"/></linearGradient><linearGradient id="ge69"><stop offset="0" stop-color="#5c87c0"/><stop offset=".3135" stop-color="#5f8ac1"/><stop offset=".4492" stop-color="#4a7aba"/><stop offset=".627" stop-color="#648ec3"/><stop offset=".7066" stop-color="#8daad2"/><stop offset=".7394" stop-color="#86a5d0"/><stop offset=".8283" stop-color="#5582be"/><stop offset=".9031" stop-color="#4677b9"/><stop offset="1" stop-color="#4b7bba"/></linearGradient><linearGradient id="ge70"><stop offset="0" stop-color="#5c87c0"/><stop offset=".3135" stop-color="#5f8ac1"/><stop offset=".4492" stop-color="#4878b9"/><stop offset=".6317" stop-color="#668fc4"/><stop offset=".7066" stop-color="#8daad2"/><stop offset=".7394" stop-color="#86a5d0"/><stop offset=".8283" stop-color="#5582be"/><stop offset=".9031" stop-color="#4677b9"/><stop offset="1" stop-color="#4b7bba"/></linearGradient><linearGradient id="ge71"><stop offset="0" stop-color="#5c87c0"/><stop offset=".3135" stop-color="#5f8ac1"/><stop offset=".4445" stop-color="#4577b8"/><stop offset=".6317" stop-color="#668fc4"/><stop offset=".7066" stop-color="#8daad2"/><stop offset=".7394" stop-color="#86a5d0"/><stop offset=".8283" stop-color="#5582be"/><stop offset=".9031" stop-color="#4677b9"/><stop offset="1" stop-color="#4b7bba"/></linearGradient><linearGradient id="ge72"><stop offset="0" stop-color="#5c87c0"/><stop offset=".3135" stop-color="#5f8ac1"/><stop offset=".4492" stop-color="#4879b9"/><stop offset=".6317" stop-color="#668fc4"/><stop offset=".7066" stop-color="#8daad2"/><stop offset=".7394" stop-color="#86a5d0"/><stop offset=".8283" stop-color="#5582be"/><stop offset=".9031" stop-color="#4778b9"/><stop offset="1" stop-color="#4b7bba"/></linearGradient><linearGradient id="ge73"><stop offset="0" stop-color="#5c87c0"/><stop offset=".3135" stop-color="#5f8ac1"/><stop offset=".4492" stop-color="#4a7aba"/><stop offset=".627" stop-color="#648ec3"/><stop offset=".7066" stop-color="#8daad2"/><stop offset=".7394" stop-color="#86a5d0"/><stop offset=".8283" stop-color="#5582be"/><stop offset=".9031" stop-color="#4879b9"/><stop offset="1" stop-color="#4b7bba"/></linearGradient><linearGradient id="ge74"><stop offset="0" stop-color="#5c87c0"/><stop offset=".3135" stop-color="#5f8ac1"/><stop offset=".4539" stop-color="#4d7cbb"/><stop offset=".627" stop-color="#648ec3"/><stop offset=".7066" stop-color="#8daad2"/><stop offset=".7394" stop-color="#86a5d0"/><stop offset=".8283" stop-color="#5582be"/><stop offset=".9031" stop-color="#4879b9"/><stop offset="1" stop-color="#4b7bba"/></linearGradient><linearGradient id="ge75"><stop offset="0" stop-color="#5c87c0"/><stop offset=".3182" stop-color="#5f8ac1"/><stop offset=".4586" stop-color="#507ebc"/><stop offset=".627" stop-color="#648ec3"/><stop offset=".7066" stop-color="#8daad2"/><stop offset=".7394" stop-color="#86a5d0"/><stop offset=".8283" stop-color="#5583be"/><stop offset=".8985" stop-color="#4a7aba"/><stop offset="1" stop-color="#4b7bba"/></linearGradient></defs>
<rect x="808" y="924.0" width="128.6" height="606.6" fill="url(#ge0)"/><rect x="808" y="1530.0" width="128.6" height="9.6" fill="url(#ge1)"/><rect x="808" y="1539.0" width="128.6" height="9.6" fill="url(#ge2)"/><rect x="808" y="1548.0" width="128.6" height="6.6" fill="url(#ge3)"/><rect x="808" y="1554.0" width="128.6" height="6.6" fill="url(#ge4)"/><rect x="808" y="1560.0" width="128.6" height="6.6" fill="url(#ge5)"/><rect x="808" y="1566.0" width="128.6" height="6.6" fill="url(#ge6)"/><rect x="808" y="1572.0" width="128.6" height="6.6" fill="url(#ge7)"/><rect x="808" y="1578.0" width="128.6" height="6.6" fill="url(#ge8)"/><rect x="808" y="1584.0" width="128.6" height="6.6" fill="url(#ge9)"/><rect x="808" y="1590.0" width="128.6" height="3.6" fill="url(#ge10)"/><rect x="808" y="1593.0" width="128.6" height="3.6" fill="url(#ge11)"/><rect x="808" y="1596.0" width="128.6" height="3.6" fill="url(#ge12)"/><rect x="808" y="1599.0" width="128.6" height="3.6" fill="url(#ge13)"/><rect x="808" y="1602.0" width="128.6" height="3.6" fill="url(#ge14)"/><rect x="808" y="1605.0" width="128.6" height="3.6" fill="url(#ge15)"/><rect x="808" y="1608.0" width="128.6" height="6.6" fill="url(#ge16)"/><rect x="808" y="1614.0" width="128.6" height="6.6" fill="url(#ge17)"/><rect x="808" y="1620.0" width="128.6" height="6.6" fill="url(#ge18)"/><rect x="808" y="1626.0" width="128.6" height="6.6" fill="url(#ge19)"/><rect x="808" y="1632.0" width="128.6" height="6.6" fill="url(#ge20)"/><rect x="808" y="1638.0" width="128.6" height="6.6" fill="url(#ge21)"/><rect x="808" y="1644.0" width="128.6" height="6.6" fill="url(#ge22)"/><rect x="808" y="1650.0" width="128.6" height="6.6" fill="url(#ge23)"/><rect x="808" y="1656.0" width="128.6" height="6.6" fill="url(#ge24)"/><rect x="808" y="1662.0" width="128.6" height="6.6" fill="url(#ge25)"/><rect x="808" y="1668.0" width="128.6" height="3.6" fill="url(#ge26)"/><rect x="808" y="1671.0" width="128.6" height="3.6" fill="url(#ge27)"/><rect x="808" y="1674.0" width="128.6" height="3.6" fill="url(#ge28)"/><rect x="808" y="1677.0" width="128.6" height="3.6" fill="url(#ge29)"/><rect x="808" y="1680.0" width="128.6" height="3.6" fill="url(#ge30)"/><rect x="808" y="1683.0" width="128.6" height="3.6" fill="url(#ge31)"/><rect x="808" y="1686.0" width="128.6" height="3.6" fill="url(#ge32)"/><rect x="808" y="1689.0" width="128.6" height="3.6" fill="url(#ge33)"/><rect x="808" y="1692.0" width="128.6" height="3.6" fill="url(#ge34)"/><rect x="808" y="1695.0" width="128.6" height="3.6" fill="url(#ge35)"/><rect x="808" y="1698.0" width="128.6" height="3.6" fill="url(#ge36)"/><rect x="808" y="1701.0" width="128.6" height="3.6" fill="url(#ge37)"/><rect x="808" y="1704.0" width="128.6" height="3.6" fill="url(#ge38)"/><rect x="808" y="1707.0" width="128.6" height="3.6" fill="url(#ge39)"/><rect x="808" y="1710.0" width="128.6" height="3.6" fill="url(#ge40)"/><rect x="808" y="1713.0" width="128.6" height="3.6" fill="url(#ge41)"/><rect x="808" y="1716.0" width="128.6" height="3.6" fill="url(#ge42)"/><rect x="808" y="1719.0" width="128.6" height="3.6" fill="url(#ge43)"/><rect x="808" y="1722.0" width="128.6" height="3.6" fill="url(#ge44)"/><rect x="808" y="1725.0" width="128.6" height="3.6" fill="url(#ge45)"/><rect x="808" y="1728.0" width="128.6" height="3.6" fill="url(#ge46)"/><rect x="808" y="1731.0" width="128.6" height="3.6" fill="url(#ge47)"/><rect x="808" y="1734.0" width="128.6" height="3.6" fill="url(#ge48)"/><rect x="808" y="1737.0" width="128.6" height="3.6" fill="url(#ge49)"/><rect x="808" y="1740.0" width="128.6" height="3.6" fill="url(#ge50)"/><rect x="808" y="1743.0" width="128.6" height="3.6" fill="url(#ge51)"/><rect x="808" y="1746.0" width="128.6" height="3.6" fill="url(#ge52)"/><rect x="808" y="1749.0" width="128.6" height="3.6" fill="url(#ge53)"/><rect x="808" y="1752.0" width="128.6" height="3.6" fill="url(#ge54)"/><rect x="808" y="1755.0" width="128.6" height="3.6" fill="url(#ge55)"/><rect x="808" y="1758.0" width="128.6" height="3.6" fill="url(#ge56)"/><rect x="808" y="1761.0" width="128.6" height="3.6" fill="url(#ge57)"/><rect x="808" y="1764.0" width="128.6" height="3.6" fill="url(#ge58)"/><rect x="808" y="1767.0" width="128.6" height="3.6" fill="url(#ge59)"/><rect x="808" y="1770.0" width="128.6" height="3.6" fill="url(#ge60)"/><rect x="808" y="1773.0" width="128.6" height="6.6" fill="url(#ge61)"/><rect x="808" y="1779.0" width="128.6" height="6.6" fill="url(#ge62)"/><rect x="808" y="1785.0" width="128.6" height="6.6" fill="url(#ge63)"/><rect x="808" y="1791.0" width="128.6" height="9.6" fill="url(#ge64)"/><rect x="808" y="1800.0" width="128.6" height="9.6" fill="url(#ge65)"/><rect x="808" y="1809.0" width="128.6" height="2.0" fill="url(#ge66)"/><rect x="936" y="924.0" width="213.7" height="93.6" fill="url(#ge67)"/><rect x="936" y="1017.0" width="213.7" height="63.6" fill="url(#ge68)"/><rect x="936" y="1080.0" width="213.7" height="57.6" fill="url(#ge69)"/><rect x="936" y="1137.0" width="213.7" height="66.6" fill="url(#ge70)"/><rect x="936" y="1203.0" width="213.7" height="219.6" fill="url(#ge71)"/><rect x="936" y="1422.0" width="213.7" height="57.6" fill="url(#ge72)"/><rect x="936" y="1479.0" width="213.7" height="60.6" fill="url(#ge73)"/><rect x="936" y="1539.0" width="213.7" height="90.6" fill="url(#ge74)"/><rect x="936" y="1629.0" width="213.7" height="182.0" fill="url(#ge75)"/>
<text x="904.5" y="1794.4" font-size="30.6" fill="#ffffff" stroke="#ffffff" stroke-width="0.5">Th-TF COF/Cu<tspan dy="7" font-size="19.5">3</tspan><tspan dy="-7">N</tspan></text>
<rect x="808" y="924" width="341.7" height="887" fill="none" stroke="#231f20" stroke-width="3.4"/>
<line x1="804" y1="924.1" x2="808" y2="924.1" stroke="#231f20" stroke-width="3"/>
<line x1="800" y1="1012.8" x2="808" y2="1012.8" stroke="#231f20" stroke-width="3"/>
<text x="797" y="1024" font-size="32.5" text-anchor="end" fill="#231f20" stroke="#231f20" stroke-width="0.5">-1.6</text>
<line x1="804" y1="1101.5" x2="808" y2="1101.5" stroke="#231f20" stroke-width="3"/>
<line x1="800" y1="1190.2" x2="808" y2="1190.2" stroke="#231f20" stroke-width="3"/>
<text x="797" y="1201.4" font-size="32.5" text-anchor="end" fill="#231f20" stroke="#231f20" stroke-width="0.5">-1.4</text>
<line x1="804" y1="1278.9" x2="808" y2="1278.9" stroke="#231f20" stroke-width="3"/>
<line x1="800" y1="1367.6" x2="808" y2="1367.6" stroke="#231f20" stroke-width="3"/>
<text x="797" y="1378.8" font-size="32.5" text-anchor="end" fill="#231f20" stroke="#231f20" stroke-width="0.5">-1.2</text>
<line x1="804" y1="1456.3" x2="808" y2="1456.3" stroke="#231f20" stroke-width="3"/>
<line x1="800" y1="1545" x2="808" y2="1545" stroke="#231f20" stroke-width="3"/>
<text x="797" y="1556.2" font-size="32.5" text-anchor="end" fill="#231f20" stroke="#231f20" stroke-width="0.5">-1.0</text>
<line x1="804" y1="1633.7" x2="808" y2="1633.7" stroke="#231f20" stroke-width="3"/>
<line x1="800" y1="1722.4" x2="808" y2="1722.4" stroke="#231f20" stroke-width="3"/>
<text x="797" y="1733.6" font-size="32.5" text-anchor="end" fill="#231f20" stroke="#231f20" stroke-width="0.5">-0.8</text>
<line x1="804" y1="1811.1" x2="808" y2="1811.1" stroke="#231f20" stroke-width="3"/>
<line x1="807.2" y1="1811" x2="807.2" y2="1815" stroke="#231f20" stroke-width="3"/>
<line x1="859.9" y1="1811" x2="859.9" y2="1817" stroke="#231f20" stroke-width="3"/>
<text x="859.9" y="1845.7" font-size="31.5" text-anchor="middle" fill="#231f20" stroke="#231f20" stroke-width="0.5">1200</text>
<line x1="912.5" y1="1811" x2="912.5" y2="1815" stroke="#231f20" stroke-width="3"/>
<line x1="965.2" y1="1811" x2="965.2" y2="1817" stroke="#231f20" stroke-width="3"/>
<text x="965.2" y="1845.7" font-size="31.5" text-anchor="middle" fill="#231f20" stroke="#231f20" stroke-width="0.5">1400</text>
<line x1="1017.8" y1="1811" x2="1017.8" y2="1815" stroke="#231f20" stroke-width="3"/>
<line x1="1070.5" y1="1811" x2="1070.5" y2="1817" stroke="#231f20" stroke-width="3"/>
<text x="1070.5" y="1845.7" font-size="31.5" text-anchor="middle" fill="#231f20" stroke="#231f20" stroke-width="0.5">1600</text>
<line x1="1123.1" y1="1811" x2="1123.1" y2="1815" stroke="#231f20" stroke-width="3"/>
<text x="978.7" y="1898.1" font-size="35.3" text-anchor="middle" fill="#231f20" stroke="#231f20" stroke-width="0.5">Wavenumber (cm<tspan dy="-14" font-size="22">-1</tspan><tspan dy="14">)</tspan></text>
<text x="723" y="1367.5" font-size="33.5" text-anchor="middle" fill="#231f20" stroke="#231f20" stroke-width="0.5" transform="rotate(-90 723 1367.5)">Voltage</text>
<rect x="1184.6" y="1796" width="63.4" height="18.1" fill="#2e68b1"/>
<rect x="1184.6" y="1778.2" width="63.4" height="18.1" fill="#346cb3"/>
<rect x="1184.6" y="1760.4" width="63.4" height="18.1" fill="#3a70b5"/>
<rect x="1184.6" y="1742.6" width="63.4" height="18.1" fill="#4174b7"/>
<rect x="1184.6" y="1724.8" width="63.4" height="18.1" fill="#4778b9"/>
<rect x="1184.6" y="1707" width="63.4" height="18.1" fill="#4d7cbb"/>
<rect x="1184.6" y="1689.2" width="63.4" height="18.1" fill="#5481bd"/>
<rect x="1184.6" y="1671.4" width="63.4" height="18.1" fill="#5a86c0"/>
<rect x="1184.6" y="1653.6" width="63.4" height="18.1" fill="#608bc2"/>
<rect x="1184.6" y="1635.8" width="63.4" height="18.1" fill="#6790c4"/>
<rect x="1184.6" y="1618" width="63.4" height="18.1" fill="#6d94c6"/>
<rect x="1184.6" y="1600.2" width="63.4" height="18.1" fill="#7499c9"/>
<rect x="1184.6" y="1582.4" width="63.4" height="18.1" fill="#7a9dcb"/>
<rect x="1184.6" y="1564.6" width="63.4" height="18.1" fill="#80a1cd"/>
<rect x="1184.6" y="1546.8" width="63.4" height="18.1" fill="#87a6d0"/>
<rect x="1184.6" y="1529" width="63.4" height="18.1" fill="#8eabd2"/>
<rect x="1184.6" y="1511.2" width="63.4" height="18.1" fill="#95b1d5"/>
<rect x="1184.6" y="1493.4" width="63.4" height="18.1" fill="#9db6d8"/>
<rect x="1184.6" y="1475.6" width="63.4" height="18.1" fill="#a5bcdb"/>
<rect x="1184.6" y="1457.8" width="63.4" height="18.1" fill="#acc2de"/>
<rect x="1184.6" y="1440" width="63.4" height="18.1" fill="#b5c9e1"/>
<rect x="1184.6" y="1422.2" width="63.4" height="18.1" fill="#c0d0e5"/>
<rect x="1184.6" y="1404.4" width="63.4" height="18.1" fill="#cad8e9"/>
<rect x="1184.6" y="1386.6" width="63.4" height="18.1" fill="#dee5ef"/>
<rect x="1184.6" y="1368.8" width="63.4" height="18.1" fill="#f2f4f7"/>
<rect x="1184.6" y="1350.9" width="63.4" height="18.1" fill="#ffffff"/>
<rect x="1184.6" y="1333.1" width="63.4" height="18.1" fill="#f9f4f7"/>
<rect x="1184.6" y="1315.3" width="63.4" height="18.1" fill="#f2eaf0"/>
<rect x="1184.6" y="1297.5" width="63.4" height="18.1" fill="#ecdfe9"/>
<rect x="1184.6" y="1279.7" width="63.4" height="18.1" fill="#e6d5e2"/>
<rect x="1184.6" y="1261.9" width="63.4" height="18.1" fill="#dfcbdb"/>
<rect x="1184.6" y="1244.1" width="63.4" height="18.1" fill="#dac2d5"/>
<rect x="1184.6" y="1226.3" width="63.4" height="18.1" fill="#d4b9cf"/>
<rect x="1184.6" y="1208.5" width="63.4" height="18.1" fill="#cfb0c9"/>
<rect x="1184.6" y="1190.7" width="63.4" height="18.1" fill="#caa7c3"/>
<rect x="1184.6" y="1172.9" width="63.4" height="18.1" fill="#c69fbe"/>
<rect x="1184.6" y="1155.1" width="63.4" height="18.1" fill="#c198b8"/>
<rect x="1184.6" y="1137.3" width="63.4" height="18.1" fill="#bd91b4"/>
<rect x="1184.6" y="1119.5" width="63.4" height="18.1" fill="#b98aae"/>
<rect x="1184.6" y="1101.7" width="63.4" height="18.1" fill="#b483aa"/>
<rect x="1184.6" y="1083.9" width="63.4" height="18.1" fill="#b07ca5"/>
<rect x="1184.6" y="1066.1" width="63.4" height="18.1" fill="#ac75a0"/>
<rect x="1184.6" y="1048.3" width="63.4" height="18.1" fill="#a86f9c"/>
<rect x="1184.6" y="1030.5" width="63.4" height="18.1" fill="#a36997"/>
<rect x="1184.6" y="1012.7" width="63.4" height="18.1" fill="#9f6292"/>
<rect x="1184.6" y="994.9" width="63.4" height="18.1" fill="#9b5b8e"/>
<rect x="1184.6" y="977.1" width="63.4" height="18.1" fill="#975489"/>
<rect x="1184.6" y="959.3" width="63.4" height="18.1" fill="#944d84"/>
<rect x="1184.6" y="941.5" width="63.4" height="18.1" fill="#90467f"/>
<rect x="1184.6" y="923.6" width="63.4" height="18.1" fill="#8c3f7a"/>
<rect x="1184.6" y="923.8" width="63.4" height="890.2" fill="none" stroke="#000" stroke-width="3.4"/>
<line x1="1248" y1="940.9" x2="1255.2" y2="940.9" stroke="#000" stroke-width="3"/>
<text x="1273.8" y="951.4" font-size="30.5" fill="#231f20" stroke="#231f20" stroke-width="0.5">5.2&#215;10<tspan dy="-12" font-size="20">-2</tspan></text>
<line x1="1248" y1="1047.8" x2="1255.2" y2="1047.8" stroke="#000" stroke-width="3"/>
<text x="1273.8" y="1058.3" font-size="30.5" fill="#231f20" stroke="#231f20" stroke-width="0.5">4.5&#215;10<tspan dy="-12" font-size="20">-2</tspan></text>
<line x1="1248" y1="1154.8" x2="1255.2" y2="1154.8" stroke="#000" stroke-width="3"/>
<text x="1273.8" y="1165.3" font-size="30.5" fill="#231f20" stroke="#231f20" stroke-width="0.5">3.8&#215;10<tspan dy="-12" font-size="20">-2</tspan></text>
<line x1="1248" y1="1261.8" x2="1255.2" y2="1261.8" stroke="#000" stroke-width="3"/>
<text x="1273.8" y="1272.2" font-size="30.5" fill="#231f20" stroke="#231f20" stroke-width="0.5">3.0&#215;10<tspan dy="-12" font-size="20">-2</tspan></text>
<line x1="1248" y1="1368.7" x2="1255.2" y2="1368.7" stroke="#000" stroke-width="3"/>
<text x="1273.8" y="1379.2" font-size="30.5" fill="#231f20" stroke="#231f20" stroke-width="0.5">2.3&#215;10<tspan dy="-12" font-size="20">-2</tspan></text>
<line x1="1248" y1="1475.7" x2="1255.2" y2="1475.7" stroke="#000" stroke-width="3"/>
<text x="1273.8" y="1486.2" font-size="30.5" fill="#231f20" stroke="#231f20" stroke-width="0.5">1.6&#215;10<tspan dy="-12" font-size="20">-2</tspan></text>
<line x1="1248" y1="1582.6" x2="1255.2" y2="1582.6" stroke="#000" stroke-width="3"/>
<text x="1273.8" y="1593.1" font-size="30.5" fill="#231f20" stroke="#231f20" stroke-width="0.5">8.3&#215;10<tspan dy="-12" font-size="20">-3</tspan></text>
<line x1="1248" y1="1689.5" x2="1255.2" y2="1689.5" stroke="#000" stroke-width="3"/>
<text x="1273.8" y="1700" font-size="30.5" fill="#231f20" stroke="#231f20" stroke-width="0.5">9.3&#215;10<tspan dy="-12" font-size="20">-4</tspan></text>
<line x1="1248" y1="1796.5" x2="1255.2" y2="1796.5" stroke="#000" stroke-width="3"/>
<text x="1273.8" y="1807" font-size="30.5" fill="#231f20" stroke="#231f20" stroke-width="0.5">-6.4&#215;10<tspan dy="-12" font-size="20">-3</tspan></text>
<text x="1354.6" y="920.6" font-size="42" fill="#231815" stroke="#231815" stroke-width="0.5">f</text>
<defs><linearGradient id="gf0"><stop offset="0" stop-color="#7d9fcc"/><stop offset=".1476" stop-color="#87a6d0"/><stop offset=".3044" stop-color="#84a4cf"/><stop offset=".5074" stop-color="#9cb6d8"/><stop offset=".5812" stop-color="#b1c5df"/><stop offset=".5996" stop-color="#b8cbe2"/><stop offset=".7011" stop-color="#b8cae2"/><stop offset=".7657" stop-color="#9db6d8"/><stop offset=".8303" stop-color="#7c9ecc"/><stop offset=".9133" stop-color="#7197c7"/><stop offset="1" stop-color="#7096c7"/></linearGradient><linearGradient id="gf1"><stop offset="0" stop-color="#799ccb"/><stop offset=".1384" stop-color="#86a6d0"/><stop offset=".3044" stop-color="#85a4cf"/><stop offset=".5074" stop-color="#9db7d8"/><stop offset=".5812" stop-color="#b3c7e0"/><stop offset=".5996" stop-color="#bacce3"/><stop offset=".7011" stop-color="#bacce3"/><stop offset=".7749" stop-color="#98b3d6"/><stop offset=".8395" stop-color="#799ccb"/><stop offset=".9317" stop-color="#7096c7"/><stop offset="1" stop-color="#7096c7"/></linearGradient><linearGradient id="gf2"><stop offset="0" stop-color="#759ac9"/><stop offset=".1384" stop-color="#85a5cf"/><stop offset=".3137" stop-color="#85a5cf"/><stop offset=".5166" stop-color="#a0b9d9"/><stop offset=".5812" stop-color="#b5c9e1"/><stop offset=".5996" stop-color="#bccee4"/><stop offset=".7011" stop-color="#bbcde3"/><stop offset=".7749" stop-color="#99b3d7"/><stop offset=".8395" stop-color="#799dcb"/><stop offset=".9317" stop-color="#7096c7"/><stop offset="1" stop-color="#7096c7"/></linearGradient><linearGradient id="gf3"><stop offset="0" stop-color="#7197c8"/><stop offset=".1292" stop-color="#83a3ce"/><stop offset=".3229" stop-color="#86a6d0"/><stop offset=".5258" stop-color="#a4bcdb"/><stop offset=".572" stop-color="#b0c5df"/><stop offset=".5904" stop-color="#becfe4"/><stop offset=".7011" stop-color="#bdcfe4"/><stop offset=".7749" stop-color="#9ab4d7"/><stop offset=".8395" stop-color="#7a9dcb"/><stop offset=".9317" stop-color="#7096c7"/><stop offset="1" stop-color="#7096c7"/></linearGradient><linearGradient id="gf4"><stop offset="0" stop-color="#6c94c6"/><stop offset=".1199" stop-color="#80a1cd"/><stop offset=".3321" stop-color="#87a6d0"/><stop offset=".5258" stop-color="#a5bddb"/><stop offset=".572" stop-color="#b2c7e0"/><stop offset=".5904" stop-color="#c0d0e5"/><stop offset=".6919" stop-color="#c1d2e6"/><stop offset=".7472" stop-color="#acc2dd"/><stop offset=".8303" stop-color="#7d9fcc"/><stop offset=".9041" stop-color="#7197c8"/><stop offset="1" stop-color="#7096c7"/></linearGradient><linearGradient id="gf5"><stop offset="0" stop-color="#6790c4"/><stop offset=".1199" stop-color="#7d9fcc"/><stop offset=".3413" stop-color="#89a7d0"/><stop offset=".5258" stop-color="#a6bedb"/><stop offset=".572" stop-color="#b4c8e1"/><stop offset=".5904" stop-color="#c2d2e6"/><stop offset=".6919" stop-color="#c3d3e6"/><stop offset=".738" stop-color="#b2c6e0"/><stop offset=".8303" stop-color="#7d9fcc"/><stop offset=".9041" stop-color="#7197c8"/><stop offset="1" stop-color="#7096c7"/></linearGradient><linearGradient id="gf6"><stop offset="0" stop-color="#628cc2"/><stop offset=".1199" stop-color="#7a9dcb"/><stop offset=".3506" stop-color="#8aa8d1"/><stop offset=".5258" stop-color="#a8bfdc"/><stop offset=".572" stop-color="#b6cae1"/><stop offset=".5904" stop-color="#c4d3e7"/><stop offset=".6919" stop-color="#c5d5e7"/><stop offset=".738" stop-color="#b4c8e0"/><stop offset=".8303" stop-color="#7e9fcc"/><stop offset=".9041" stop-color="#7197c8"/><stop offset="1" stop-color="#7096c7"/></linearGradient><linearGradient id="gf7"><stop offset="0" stop-color="#5d89c1"/><stop offset=".1107" stop-color="#769aca"/><stop offset=".369" stop-color="#8daad2"/><stop offset=".5351" stop-color="#abc1dd"/><stop offset=".572" stop-color="#b8cbe2"/><stop offset=".5904" stop-color="#c6d5e7"/><stop offset=".6919" stop-color="#c7d6e8"/><stop offset=".738" stop-color="#b5c9e1"/><stop offset=".8303" stop-color="#7ea0cc"/><stop offset=".9041" stop-color="#7197c8"/><stop offset="1" stop-color="#7096c7"/></linearGradient><linearGradient id="gf8"><stop offset="0" stop-color="#5885bf"/><stop offset=".1107" stop-color="#7398c8"/><stop offset=".3782" stop-color="#8facd3"/><stop offset=".5351" stop-color="#acc2de"/><stop offset=".572" stop-color="#bbcde3"/><stop offset=".5904" stop-color="#c8d6e8"/><stop offset=".6827" stop-color="#cbd9e9"/><stop offset=".7288" stop-color="#bdcee4"/><stop offset=".8303" stop-color="#7ea0cd"/><stop offset=".9041" stop-color="#7197c8"/><stop offset="1" stop-color="#7096c7"/></linearGradient><linearGradient id="gf9"><stop offset="0" stop-color="#5481bd"/><stop offset=".1107" stop-color="#7096c7"/><stop offset=".4059" stop-color="#94afd5"/><stop offset=".5443" stop-color="#b0c5df"/><stop offset=".5904" stop-color="#cad8e9"/><stop offset=".6827" stop-color="#cfdbea"/><stop offset=".738" stop-color="#b9cce2"/><stop offset=".821" stop-color="#82a3ce"/><stop offset=".8856" stop-color="#7298c8"/><stop offset="1" stop-color="#7096c7"/></linearGradient><linearGradient id="gf10"><stop offset="0" stop-color="#4f7ebc"/><stop offset=".1015" stop-color="#6b93c6"/><stop offset=".4797" stop-color="#a1b9d9"/><stop offset=".5627" stop-color="#b9cbe2"/><stop offset=".5904" stop-color="#cddaea"/><stop offset=".6827" stop-color="#d3deec"/><stop offset=".738" stop-color="#bbcde3"/><stop offset=".821" stop-color="#83a3ce"/><stop offset=".8856" stop-color="#7298c8"/><stop offset="1" stop-color="#7096c7"/></linearGradient><linearGradient id="gf11"><stop offset="0" stop-color="#4b7aba"/><stop offset=".1015" stop-color="#6991c5"/><stop offset=".4889" stop-color="#a4bbda"/><stop offset=".5627" stop-color="#bbcde3"/><stop offset=".5904" stop-color="#d1ddeb"/><stop offset=".6827" stop-color="#d7e0ed"/><stop offset=".738" stop-color="#bccee4"/><stop offset=".821" stop-color="#83a3ce"/><stop offset=".8856" stop-color="#7298c8"/><stop offset="1" stop-color="#7096c7"/></linearGradient><linearGradient id="gf12"><stop offset="0" stop-color="#4878b9"/><stop offset=".1015" stop-color="#6790c4"/><stop offset=".4982" stop-color="#a7bedc"/><stop offset=".572" stop-color="#c3d3e6"/><stop offset=".5904" stop-color="#d5dfec"/><stop offset=".6827" stop-color="#dbe3ee"/><stop offset=".738" stop-color="#becfe4"/><stop offset=".821" stop-color="#84a4cf"/><stop offset=".8856" stop-color="#7298c8"/><stop offset="1" stop-color="#7096c7"/></linearGradient><linearGradient id="gf13"><stop offset="0" stop-color="#4577b8"/><stop offset=".1015" stop-color="#658ec3"/><stop offset=".5074" stop-color="#abc1dd"/><stop offset=".572" stop-color="#c6d5e7"/><stop offset=".5904" stop-color="#dae2ee"/><stop offset=".6827" stop-color="#dfe6ef"/><stop offset=".7196" stop-color="#ccdaea"/><stop offset=".821" stop-color="#84a4cf"/><stop offset=".8856" stop-color="#7298c8"/><stop offset="1" stop-color="#7096c7"/></linearGradient><linearGradient id="gf14"><stop offset="0" stop-color="#4376b8"/><stop offset=".0923" stop-color="#628cc2"/><stop offset=".5166" stop-color="#afc4de"/><stop offset=".572" stop-color="#c7d6e8"/><stop offset=".5904" stop-color="#dce4ee"/><stop offset=".6827" stop-color="#e2e8f0"/><stop offset=".7196" stop-color="#cfdbea"/><stop offset=".821" stop-color="#84a4cf"/><stop offset=".8856" stop-color="#7298c8"/><stop offset="1" stop-color="#7096c7"/></linearGradient><linearGradient id="gf15"><stop offset="0" stop-color="#4275b7"/><stop offset=".0923" stop-color="#628cc2"/><stop offset=".5166" stop-color="#afc4df"/><stop offset=".572" stop-color="#c8d7e8"/><stop offset=".5904" stop-color="#dfe6ef"/><stop offset=".6827" stop-color="#e4eaf1"/><stop offset=".7196" stop-color="#d1ddeb"/><stop offset=".821" stop-color="#85a4cf"/><stop offset=".8764" stop-color="#7398c9"/><stop offset="1" stop-color="#7096c7"/></linearGradient><linearGradient id="gf16"><stop offset="0" stop-color="#4174b7"/><stop offset=".0923" stop-color="#618bc2"/><stop offset=".5166" stop-color="#b0c5df"/><stop offset=".572" stop-color="#cad8e9"/><stop offset=".5904" stop-color="#e1e8f0"/><stop offset=".6827" stop-color="#e7ebf2"/><stop offset=".7196" stop-color="#d4deec"/><stop offset=".821" stop-color="#85a5cf"/><stop offset=".8764" stop-color="#7398c9"/><stop offset="1" stop-color="#7096c7"/></linearGradient><linearGradient id="gf17"><stop offset="0" stop-color="#4073b7"/><stop offset=".0923" stop-color="#618bc2"/><stop offset=".5074" stop-color="#aec4de"/><stop offset=".5627" stop-color="#c4d3e7"/><stop offset=".5904" stop-color="#e4e9f1"/><stop offset=".6827" stop-color="#eaedf3"/><stop offset=".7103" stop-color="#dee5ef"/><stop offset=".8118" stop-color="#8aa8d1"/><stop offset=".8672" stop-color="#759ac9"/><stop offset="1" stop-color="#7096c7"/></linearGradient><linearGradient id="gf18"><stop offset="0" stop-color="#3e72b6"/><stop offset=".0923" stop-color="#608ac2"/><stop offset=".5074" stop-color="#afc4df"/><stop offset=".5627" stop-color="#c5d4e7"/><stop offset=".5904" stop-color="#e7ebf2"/><stop offset=".6827" stop-color="#eceff4"/><stop offset=".7103" stop-color="#e0e7f0"/><stop offset=".8118" stop-color="#8ba9d1"/><stop offset=".8672" stop-color="#759ac9"/><stop offset="1" stop-color="#7096c7"/></linearGradient><linearGradient id="gf19"><stop offset="0" stop-color="#3d72b6"/><stop offset=".0923" stop-color="#5f8ac1"/><stop offset=".5074" stop-color="#b0c5df"/><stop offset=".5627" stop-color="#c6d5e7"/><stop offset=".5812" stop-color="#e1e7f0"/><stop offset=".5996" stop-color="#eaeef3"/><stop offset=".6827" stop-color="#eff1f5"/><stop offset=".7103" stop-color="#e3e9f0"/><stop offset=".8026" stop-color="#92aed4"/><stop offset=".8579" stop-color="#779bca"/><stop offset=".9779" stop-color="#7096c7"/><stop offset="1" stop-color="#7096c7"/></linearGradient><linearGradient id="gf20"><stop offset="0" stop-color="#3c71b5"/><stop offset=".0923" stop-color="#5f8ac1"/><stop offset=".5074" stop-color="#b1c6df"/><stop offset=".5627" stop-color="#c7d6e8"/><stop offset=".5812" stop-color="#e4e9f1"/><stop offset=".5996" stop-color="#edf0f4"/><stop offset=".6827" stop-color="#f1f3f7"/><stop offset=".7103" stop-color="#e5eaf1"/><stop offset=".7934" stop-color="#9ab4d7"/><stop offset=".8395" stop-color="#7d9fcc"/><stop offset=".9133" stop-color="#7197c8"/><stop offset="1" stop-color="#7096c7"/></linearGradient><linearGradient id="gf21"><stop offset="0" stop-color="#3b70b5"/><stop offset=".0923" stop-color="#5e89c1"/><stop offset=".5074" stop-color="#b2c6e0"/><stop offset=".5627" stop-color="#c8d7e8"/><stop offset=".5812" stop-color="#e7ebf2"/><stop offset=".5996" stop-color="#eff2f6"/><stop offset=".6827" stop-color="#f4f5f8"/><stop offset=".7103" stop-color="#e8ecf2"/><stop offset=".7749" stop-color="#a9c0dc"/><stop offset=".8303" stop-color="#82a2ce"/><stop offset=".8948" stop-color="#7297c8"/><stop offset="1" stop-color="#7096c7"/></linearGradient><linearGradient id="gf22"><stop offset="0" stop-color="#396fb5"/><stop offset=".0923" stop-color="#5e89c1"/><stop offset=".5074" stop-color="#b3c7e0"/><stop offset=".5627" stop-color="#cad8e9"/><stop offset=".5812" stop-color="#e9edf3"/><stop offset=".5996" stop-color="#f1f3f7"/><stop offset=".6827" stop-color="#f6f7f9"/><stop offset=".7103" stop-color="#eaeef3"/><stop offset=".7841" stop-color="#a2bada"/><stop offset=".8303" stop-color="#82a2ce"/><stop offset=".8948" stop-color="#7297c8"/><stop offset="1" stop-color="#7096c7"/></linearGradient><linearGradient id="gf23"><stop offset="0" stop-color="#386fb4"/><stop offset=".0923" stop-color="#5e89c1"/><stop offset=".4982" stop-color="#b0c5df"/><stop offset=".5627" stop-color="#ccd9ea"/><stop offset=".5812" stop-color="#eceff4"/><stop offset=".5996" stop-color="#f4f5f8"/><stop offset=".6827" stop-color="#f8f9fb"/><stop offset=".7103" stop-color="#edf0f4"/><stop offset=".7841" stop-color="#a3bbda"/><stop offset=".8303" stop-color="#82a2ce"/><stop offset=".8948" stop-color="#7297c8"/><stop offset="1" stop-color="#7096c7"/></linearGradient><linearGradient id="gf24"><stop offset="0" stop-color="#376eb4"/><stop offset=".0923" stop-color="#5d88c1"/><stop offset=".4982" stop-color="#b1c6df"/><stop offset=".5627" stop-color="#cfdbea"/><stop offset=".5812" stop-color="#eff1f5"/><stop offset=".5996" stop-color="#f6f7fa"/><stop offset=".6827" stop-color="#fbfbfc"/><stop offset=".7103" stop-color="#eff2f6"/><stop offset=".7841" stop-color="#a3bbda"/><stop offset=".8303" stop-color="#82a3ce"/><stop offset=".8948" stop-color="#7297c8"/><stop offset="1" stop-color="#7096c7"/></linearGradient><linearGradient id="gf25"><stop offset="0" stop-color="#366db4"/><stop offset=".0923" stop-color="#5d88c0"/><stop offset=".4982" stop-color="#b2c7e0"/><stop offset=".5627" stop-color="#d1ddeb"/><stop offset=".5812" stop-color="#f1f3f7"/><stop offset=".5996" stop-color="#f9f9fb"/><stop offset=".6919" stop-color="#fbfbfc"/><stop offset=".7196" stop-color="#eaedf3"/><stop offset=".7657" stop-color="#b4c8e1"/><stop offset=".8303" stop-color="#82a3ce"/><stop offset=".8856" stop-color="#7398c8"/><stop offset="1" stop-color="#7096c7"/></linearGradient><linearGradient id="gf26"><stop offset="0" stop-color="#356cb3"/><stop offset=".0923" stop-color="#5c88c0"/><stop offset=".4982" stop-color="#b3c7e0"/><stop offset=".5535" stop-color="#cbd9e9"/><stop offset=".5627" stop-color="#d4dfec"/><stop offset=".5812" stop-color="#f4f5f8"/><stop offset=".5996" stop-color="#fbfbfc"/><stop offset=".6919" stop-color="#fcfcfd"/><stop offset=".7196" stop-color="#eceff4"/><stop offset=".7657" stop-color="#b5c9e1"/><stop offset=".8303" stop-color="#83a3ce"/><stop offset=".8856" stop-color="#7398c8"/><stop offset="1" stop-color="#7096c7"/></linearGradient><linearGradient id="gf27"><stop offset="0" stop-color="#346cb3"/><stop offset=".083" stop-color="#5985bf"/><stop offset=".4982" stop-color="#b4c8e1"/><stop offset=".5535" stop-color="#cedaea"/><stop offset=".5627" stop-color="#d6e0ed"/><stop offset=".5812" stop-color="#f7f8fa"/><stop offset=".6181" stop-color="#fdfdfe"/><stop offset=".7011" stop-color="#fbfbfc"/><stop offset=".7288" stop-color="#e4e9f1"/><stop offset=".7565" stop-color="#c0d1e5"/><stop offset=".821" stop-color="#88a7d0"/><stop offset=".8764" stop-color="#7499c9"/><stop offset="1" stop-color="#7096c7"/></linearGradient><linearGradient id="gf28"><stop offset="0" stop-color="#336bb2"/><stop offset=".083" stop-color="#5985bf"/><stop offset=".4982" stop-color="#b5c9e1"/><stop offset=".5535" stop-color="#d0dceb"/><stop offset=".5627" stop-color="#d9e2ed"/><stop offset=".5812" stop-color="#f9fafb"/><stop offset=".6919" stop-color="#fefefe"/><stop offset=".7196" stop-color="#f1f3f7"/><stop offset=".7565" stop-color="#c1d2e6"/><stop offset=".821" stop-color="#88a7d0"/><stop offset=".8764" stop-color="#7499c9"/><stop offset="1" stop-color="#7096c7"/></linearGradient><linearGradient id="gf29"><stop offset="0" stop-color="#326ab2"/><stop offset=".083" stop-color="#5985bf"/><stop offset=".4889" stop-color="#b3c7e0"/><stop offset=".5443" stop-color="#cddaea"/><stop offset=".5627" stop-color="#dee5ef"/><stop offset=".5812" stop-color="#fcfcfd"/><stop offset=".7103" stop-color="#fcfcfd"/><stop offset=".738" stop-color="#dee5ef"/><stop offset=".7657" stop-color="#b9cce3"/><stop offset=".821" stop-color="#89a7d0"/><stop offset=".8764" stop-color="#7499c9"/><stop offset="1" stop-color="#7096c7"/></linearGradient><linearGradient id="gf30"><stop offset="0" stop-color="#326ab2"/><stop offset=".083" stop-color="#5985bf"/><stop offset=".4889" stop-color="#b4c8e1"/><stop offset=".5443" stop-color="#cfdbeb"/><stop offset=".5627" stop-color="#e0e7f0"/><stop offset=".5812" stop-color="#fefefe"/><stop offset=".6919" stop-color="#fdfcfd"/><stop offset=".7196" stop-color="#f8f9fa"/><stop offset=".7749" stop-color="#b0c5df"/><stop offset=".8303" stop-color="#84a4cf"/><stop offset=".8856" stop-color="#7398c8"/><stop offset="1" stop-color="#7096c7"/></linearGradient><linearGradient id="gf31"><stop offset="0" stop-color="#326ab2"/><stop offset=".083" stop-color="#5985bf"/><stop offset=".4889" stop-color="#b6c9e1"/><stop offset=".5443" stop-color="#d3deec"/><stop offset=".5627" stop-color="#e4e9f1"/><stop offset=".5812" stop-color="#ffffff"/><stop offset=".6827" stop-color="#fbf8fa"/><stop offset=".7103" stop-color="#ffffff"/><stop offset=".7288" stop-color="#f2f4f7"/><stop offset=".7657" stop-color="#bccee4"/><stop offset=".821" stop-color="#89a8d1"/><stop offset=".8764" stop-color="#7499c9"/><stop offset="1" stop-color="#7096c7"/></linearGradient><linearGradient id="gf32"><stop offset="0" stop-color="#326ab2"/><stop offset=".083" stop-color="#5985bf"/><stop offset=".4889" stop-color="#b7cae2"/><stop offset=".5351" stop-color="#cedbea"/><stop offset=".5627" stop-color="#e8ecf2"/><stop offset=".572" stop-color="#f9f9fb"/><stop offset=".5904" stop-color="#fcf9fb"/><stop offset=".6919" stop-color="#faf7f9"/><stop offset=".7196" stop-color="#fdfdfe"/><stop offset=".738" stop-color="#e9ecf2"/><stop offset=".7565" stop-color="#c8d7e8"/><stop offset=".8118" stop-color="#91add4"/><stop offset=".8579" stop-color="#799ccb"/><stop offset=".9502" stop-color="#7096c7"/><stop offset="1" stop-color="#7096c7"/></linearGradient><linearGradient id="gf33"><stop offset="0" stop-color="#326ab2"/><stop offset=".083" stop-color="#5985bf"/><stop offset=".4889" stop-color="#b9cbe2"/><stop offset=".5351" stop-color="#d2ddeb"/><stop offset=".5627" stop-color="#eceff4"/><stop offset=".572" stop-color="#fcfcfd"/><stop offset=".6827" stop-color="#f8f3f6"/><stop offset=".7196" stop-color="#ffffff"/><stop offset=".7288" stop-color="#f9fafb"/><stop offset=".7565" stop-color="#cad8e9"/><stop offset=".8118" stop-color="#92aed4"/><stop offset=".8579" stop-color="#799ccb"/><stop offset=".9502" stop-color="#7096c7"/><stop offset="1" stop-color="#7096c7"/></linearGradient><linearGradient id="gf34"><stop offset="0" stop-color="#326ab2"/><stop offset=".083" stop-color="#5985bf"/><stop offset=".4889" stop-color="#bacde3"/><stop offset=".5351" stop-color="#d5dfec"/><stop offset=".5627" stop-color="#eff2f6"/><stop offset=".572" stop-color="#fdfdfe"/><stop offset=".5996" stop-color="#f8f4f7"/><stop offset=".6919" stop-color="#f8f2f6"/><stop offset=".7196" stop-color="#fefdfd"/><stop offset=".7288" stop-color="#fcfcfd"/><stop offset=".7472" stop-color="#e0e7f0"/><stop offset=".7657" stop-color="#c1d1e6"/><stop offset=".8118" stop-color="#92aed4"/><stop offset=".8579" stop-color="#799ccb"/><stop offset=".9502" stop-color="#7096c7"/><stop offset="1" stop-color="#7096c7"/></linearGradient><linearGradient id="gf35"><stop offset="0" stop-color="#326ab2"/><stop offset=".083" stop-color="#5985bf"/><stop offset=".4797" stop-color="#b7cae2"/><stop offset=".5258" stop-color="#d0dceb"/><stop offset=".5627" stop-color="#f3f5f8"/><stop offset=".572" stop-color="#ffffff"/><stop offset=".5904" stop-color="#f7f2f6"/><stop offset=".6827" stop-color="#f5eef3"/><stop offset=".7288" stop-color="#fefefe"/><stop offset=".7472" stop-color="#e4e9f1"/><stop offset=".7657" stop-color="#c3d3e6"/><stop offset=".8118" stop-color="#93afd4"/><stop offset=".8579" stop-color="#799ccb"/><stop offset=".941" stop-color="#7196c7"/><stop offset="1" stop-color="#7096c7"/></linearGradient><linearGradient id="gf36"><stop offset="0" stop-color="#326ab2"/><stop offset=".083" stop-color="#5985bf"/><stop offset=".4797" stop-color="#b9cbe2"/><stop offset=".5258" stop-color="#d4deec"/><stop offset=".572" stop-color="#fefdfd"/><stop offset=".5904" stop-color="#f6f0f4"/><stop offset=".6827" stop-color="#f4ecf1"/><stop offset=".7288" stop-color="#ffffff"/><stop offset=".738" stop-color="#f7f8fa"/><stop offset=".7657" stop-color="#c4d4e7"/><stop offset=".8118" stop-color="#93afd4"/><stop offset=".8579" stop-color="#799dcb"/><stop offset=".941" stop-color="#7196c7"/><stop offset="1" stop-color="#7096c7"/></linearGradient><linearGradient id="gf37"><stop offset="0" stop-color="#326ab2"/><stop offset=".083" stop-color="#5985bf"/><stop offset=".4797" stop-color="#bacde3"/><stop offset=".5166" stop-color="#cedbea"/><stop offset=".5627" stop-color="#fbfbfc"/><stop offset=".572" stop-color="#fdfbfc"/><stop offset=".5904" stop-color="#f4edf2"/><stop offset=".6827" stop-color="#f2e9f0"/><stop offset=".7196" stop-color="#faf6f9"/><stop offset=".7288" stop-color="#fefdfd"/><stop offset=".738" stop-color="#fbfbfc"/><stop offset=".7657" stop-color="#c6d5e7"/><stop offset=".8026" stop-color="#9db6d8"/><stop offset=".8487" stop-color="#7d9fcc"/><stop offset=".9133" stop-color="#7197c8"/><stop offset="1" stop-color="#7096c7"/></linearGradient><linearGradient id="gf38"><stop offset="0" stop-color="#326ab2"/><stop offset=".083" stop-color="#5985bf"/><stop offset=".4797" stop-color="#bccee4"/><stop offset=".5166" stop-color="#d2ddeb"/><stop offset=".5627" stop-color="#fcfcfd"/><stop offset=".5904" stop-color="#f3ebf1"/><stop offset=".6827" stop-color="#f1e7ee"/><stop offset=".7196" stop-color="#f9f4f7"/><stop offset=".738" stop-color="#fdfdfd"/><stop offset=".7657" stop-color="#c8d6e8"/><stop offset=".8026" stop-color="#9db7d8"/><stop offset=".8487" stop-color="#7d9fcc"/><stop offset=".9133" stop-color="#7197c8"/><stop offset="1" stop-color="#7096c7"/></linearGradient><linearGradient id="gf39"><stop offset="0" stop-color="#326ab2"/><stop offset=".083" stop-color="#5985bf"/><stop offset=".4797" stop-color="#bdcfe4"/><stop offset=".5166" stop-color="#d5dfec"/><stop offset=".5627" stop-color="#fefefe"/><stop offset=".5812" stop-color="#f4ecf1"/><stop offset=".6827" stop-color="#efe4ec"/><stop offset=".7196" stop-color="#f7f2f5"/><stop offset=".738" stop-color="#fefefe"/><stop offset=".7472" stop-color="#f2f4f7"/><stop offset=".7657" stop-color="#c9d7e9"/><stop offset=".8026" stop-color="#9eb7d8"/><stop offset=".8395" stop-color="#82a2ce"/><stop offset=".8948" stop-color="#7298c8"/><stop offset="1" stop-color="#7096c7"/></linearGradient><linearGradient id="gf40"><stop offset="0" stop-color="#326ab2"/><stop offset=".083" stop-color="#5985bf"/><stop offset=".4797" stop-color="#bfd0e5"/><stop offset=".5166" stop-color="#d8e1ed"/><stop offset=".5535" stop-color="#fbfbfc"/><stop offset=".5627" stop-color="#fffeff"/><stop offset=".5812" stop-color="#f2e9f0"/><stop offset=".6827" stop-color="#eee2eb"/><stop offset=".7196" stop-color="#f6eff4"/><stop offset=".738" stop-color="#fefefe"/><stop offset=".7472" stop-color="#f5f7f9"/><stop offset=".7657" stop-color="#ccd9ea"/><stop offset=".8026" stop-color="#9fb8d9"/><stop offset=".8395" stop-color="#82a3ce"/><stop offset=".8948" stop-color="#7298c8"/><stop offset="1" stop-color="#7096c7"/></linearGradient><linearGradient id="gf41"><stop offset="0" stop-color="#326ab2"/><stop offset=".083" stop-color="#5985bf"/><stop offset=".4797" stop-color="#c0d1e5"/><stop offset=".5074" stop-color="#d2ddeb"/><stop offset=".5535" stop-color="#fcfcfd"/><stop offset=".5627" stop-color="#fefdfd"/><stop offset=".5812" stop-color="#f1e7ee"/><stop offset=".6827" stop-color="#ede0e9"/><stop offset=".7196" stop-color="#f5edf2"/><stop offset=".738" stop-color="#fdfcfd"/><stop offset=".7472" stop-color="#f8f9fb"/><stop offset=".7657" stop-color="#cfdbea"/><stop offset=".7934" stop-color="#a9bfdc"/><stop offset=".8395" stop-color="#82a3ce"/><stop offset=".8948" stop-color="#7298c8"/><stop offset="1" stop-color="#7096c7"/></linearGradient><linearGradient id="gf42"><stop offset="0" stop-color="#326ab2"/><stop offset=".083" stop-color="#5985bf"/><stop offset=".4797" stop-color="#c0d1e5"/><stop offset=".5074" stop-color="#d3deec"/><stop offset=".5535" stop-color="#fcfcfd"/><stop offset=".5627" stop-color="#fdfcfd"/><stop offset=".5812" stop-color="#f1e7ee"/><stop offset=".6827" stop-color="#ede0e9"/><stop offset=".7196" stop-color="#f4edf2"/><stop offset=".738" stop-color="#fdfcfc"/><stop offset=".7472" stop-color="#fafafc"/><stop offset=".7749" stop-color="#c1d2e6"/><stop offset=".8118" stop-color="#98b3d6"/><stop offset=".8487" stop-color="#7fa0cd"/><stop offset=".9133" stop-color="#7197c8"/><stop offset="1" stop-color="#6f95c7"/></linearGradient><linearGradient id="gf43"><stop offset="0" stop-color="#326ab2"/><stop offset=".083" stop-color="#5985bf"/><stop offset=".4797" stop-color="#c1d1e6"/><stop offset=".5074" stop-color="#d4deec"/><stop offset=".5535" stop-color="#fdfdfd"/><stop offset=".5627" stop-color="#fdfcfc"/><stop offset=".5812" stop-color="#f0e6ee"/><stop offset=".6827" stop-color="#ede0e9"/><stop offset=".7196" stop-color="#f4edf2"/><stop offset=".738" stop-color="#fdfbfc"/><stop offset=".7472" stop-color="#fbfbfc"/><stop offset=".7749" stop-color="#c3d3e6"/><stop offset=".8118" stop-color="#99b4d7"/><stop offset=".8487" stop-color="#7fa1cd"/><stop offset=".9133" stop-color="#7197c8"/><stop offset="1" stop-color="#6d94c6"/></linearGradient><linearGradient id="gf44"><stop offset="0" stop-color="#326ab2"/><stop offset=".083" stop-color="#5a86bf"/><stop offset=".4705" stop-color="#becfe4"/><stop offset=".5074" stop-color="#d4dfec"/><stop offset=".5535" stop-color="#fdfdfd"/><stop offset=".5627" stop-color="#fdfbfc"/><stop offset=".5812" stop-color="#f0e6ed"/><stop offset=".6827" stop-color="#ede0e9"/><stop offset=".7196" stop-color="#f4ecf2"/><stop offset=".738" stop-color="#fcfafb"/><stop offset=".7472" stop-color="#fcfcfd"/><stop offset=".7749" stop-color="#c4d4e7"/><stop offset=".8118" stop-color="#9bb5d7"/><stop offset=".8487" stop-color="#80a1cd"/><stop offset=".9133" stop-color="#7197c8"/><stop offset="1" stop-color="#6c93c6"/></linearGradient><linearGradient id="gf45"><stop offset="0" stop-color="#326ab2"/><stop offset=".083" stop-color="#5a86bf"/><stop offset=".4705" stop-color="#becfe4"/><stop offset=".5074" stop-color="#d5e0ec"/><stop offset=".5535" stop-color="#fdfdfe"/><stop offset=".5627" stop-color="#fcfafb"/><stop offset=".5812" stop-color="#f0e5ed"/><stop offset=".6827" stop-color="#ede0e9"/><stop offset=".7196" stop-color="#f4ecf1"/><stop offset=".7472" stop-color="#fdfdfd"/><stop offset=".7749" stop-color="#c6d5e7"/><stop offset=".8118" stop-color="#9cb6d8"/><stop offset=".8579" stop-color="#7d9fcc"/><stop offset=".9317" stop-color="#7096c7"/><stop offset="1" stop-color="#6c93c6"/></linearGradient><linearGradient id="gf46"><stop offset="0" stop-color="#326ab2"/><stop offset=".083" stop-color="#5a86bf"/><stop offset=".4705" stop-color="#bed0e5"/><stop offset=".5074" stop-color="#d6e0ed"/><stop offset=".5535" stop-color="#fdfdfe"/><stop offset=".572" stop-color="#f6eff4"/><stop offset=".5812" stop-color="#efe5ec"/><stop offset=".6919" stop-color="#ede1ea"/><stop offset=".7288" stop-color="#f7f2f5"/><stop offset=".7472" stop-color="#fdfdfe"/><stop offset=".7657" stop-color="#dbe4ee"/><stop offset=".7749" stop-color="#c8d6e8"/><stop offset=".8118" stop-color="#9eb7d8"/><stop offset=".8579" stop-color="#7ea0cc"/><stop offset=".9317" stop-color="#7096c7"/><stop offset="1" stop-color="#6c93c6"/></linearGradient><linearGradient id="gf47"><stop offset="0" stop-color="#326ab2"/><stop offset=".083" stop-color="#5a86c0"/><stop offset=".4705" stop-color="#bfd0e5"/><stop offset=".5074" stop-color="#d7e1ed"/><stop offset=".5535" stop-color="#fefefe"/><stop offset=".572" stop-color="#f5eff3"/><stop offset=".5812" stop-color="#efe4ec"/><stop offset=".6919" stop-color="#ede1ea"/><stop offset=".7288" stop-color="#f7f1f5"/><stop offset=".7472" stop-color="#fefefe"/><stop offset=".7657" stop-color="#dee5ef"/><stop offset=".7749" stop-color="#c9d7e9"/><stop offset=".8118" stop-color="#9fb8d9"/><stop offset=".8579" stop-color="#7fa0cd"/><stop offset=".9225" stop-color="#7197c8"/><stop offset="1" stop-color="#6c93c6"/></linearGradient><linearGradient id="gf48"><stop offset="0" stop-color="#326ab2"/><stop offset=".0738" stop-color="#5784be"/><stop offset=".4705" stop-color="#bfd0e5"/><stop offset=".5074" stop-color="#d8e1ed"/><stop offset=".5535" stop-color="#fefefe"/><stop offset=".5812" stop-color="#efe4ec"/><stop offset=".6919" stop-color="#ede1ea"/><stop offset=".7288" stop-color="#f6f0f5"/><stop offset=".7472" stop-color="#ffffff"/><stop offset=".7565" stop-color="#f3f5f8"/><stop offset=".7749" stop-color="#cbd9e9"/><stop offset=".8118" stop-color="#a1b9d9"/><stop offset=".8579" stop-color="#80a1cd"/><stop offset=".9225" stop-color="#7197c8"/><stop offset="1" stop-color="#6c93c6"/></linearGradient><linearGradient id="gf49"><stop offset="0" stop-color="#326ab2"/><stop offset=".0738" stop-color="#5784bf"/><stop offset=".4705" stop-color="#c2d2e6"/><stop offset=".4982" stop-color="#d4dfec"/><stop offset=".5443" stop-color="#fdfdfd"/><stop offset=".5535" stop-color="#fefefe"/><stop offset=".5812" stop-color="#ede1ea"/><stop offset=".6919" stop-color="#ebdee8"/><stop offset=".7288" stop-color="#f4edf2"/><stop offset=".7472" stop-color="#fdfcfd"/><stop offset=".7565" stop-color="#f9f9fb"/><stop offset=".7841" stop-color="#c2d2e6"/><stop offset=".8303" stop-color="#92aed4"/><stop offset=".8764" stop-color="#799ccb"/><stop offset="1" stop-color="#6c93c6"/></linearGradient><linearGradient id="gf50"><stop offset="0" stop-color="#326ab2"/><stop offset=".0738" stop-color="#5784bf"/><stop offset=".4705" stop-color="#c4d4e7"/><stop offset=".5351" stop-color="#fcfcfc"/><stop offset=".5443" stop-color="#ffffff"/><stop offset=".5627" stop-color="#f7f1f5"/><stop offset=".5812" stop-color="#ebdee8"/><stop offset=".6919" stop-color="#e9dae6"/><stop offset=".7288" stop-color="#f2e9f0"/><stop offset=".7565" stop-color="#fcfcfd"/><stop offset=".7841" stop-color="#c4d4e7"/><stop offset=".821" stop-color="#9bb5d7"/><stop offset=".8579" stop-color="#81a2cd"/><stop offset=".9225" stop-color="#7197c8"/><stop offset="1" stop-color="#6c93c6"/></linearGradient><linearGradient id="gf51"><stop offset="0" stop-color="#326ab2"/><stop offset=".0738" stop-color="#5884bf"/><stop offset=".4705" stop-color="#c7d6e8"/><stop offset=".5351" stop-color="#fefefe"/><stop offset=".5535" stop-color="#faf7f9"/><stop offset=".5812" stop-color="#e9dae5"/><stop offset=".6919" stop-color="#e7d7e3"/><stop offset=".7288" stop-color="#f0e6ed"/><stop offset=".7565" stop-color="#ffffff"/><stop offset=".7657" stop-color="#f1f3f6"/><stop offset=".7841" stop-color="#c6d5e8"/><stop offset=".821" stop-color="#9bb5d7"/><stop offset=".8579" stop-color="#81a2ce"/><stop offset=".9225" stop-color="#7197c8"/><stop offset="1" stop-color="#6c93c6"/></linearGradient><linearGradient id="gf52"><stop offset="0" stop-color="#326ab2"/><stop offset=".0738" stop-color="#5884bf"/><stop offset=".4613" stop-color="#c6d5e7"/><stop offset=".4797" stop-color="#d2ddeb"/><stop offset=".5258" stop-color="#fdfdfd"/><stop offset=".5535" stop-color="#f8f3f6"/><stop offset=".5812" stop-color="#e6d6e3"/><stop offset=".6919" stop-color="#e4d3e1"/><stop offset=".7288" stop-color="#eee2eb"/><stop offset=".7565" stop-color="#fdfcfd"/><stop offset=".7657" stop-color="#f6f7f9"/><stop offset=".7841" stop-color="#c9d7e8"/><stop offset=".8118" stop-color="#a5bddb"/><stop offset=".8579" stop-color="#81a2ce"/><stop offset=".9225" stop-color="#7197c8"/><stop offset="1" stop-color="#6c93c6"/></linearGradient><linearGradient id="gf53"><stop offset="0" stop-color="#326ab2"/><stop offset=".0738" stop-color="#5884bf"/><stop offset=".4613" stop-color="#c8d7e8"/><stop offset=".5166" stop-color="#fbfbfc"/><stop offset=".5258" stop-color="#ffffff"/><stop offset=".5535" stop-color="#f6f0f4"/><stop offset=".5812" stop-color="#e4d3e0"/><stop offset=".6827" stop-color="#e1cedd"/><stop offset=".7288" stop-color="#ecdfe8"/><stop offset=".7565" stop-color="#fcf9fb"/><stop offset=".7657" stop-color="#fbfbfc"/><stop offset=".7841" stop-color="#ccd9ea"/><stop offset=".8118" stop-color="#a7bedc"/><stop offset=".8579" stop-color="#82a2ce"/><stop offset=".9225" stop-color="#7197c8"/><stop offset="1" stop-color="#6c93c6"/></linearGradient><linearGradient id="gf54"><stop offset="0" stop-color="#326ab2"/><stop offset=".0738" stop-color="#5885bf"/><stop offset=".452" stop-color="#c8d6e8"/><stop offset=".4797" stop-color="#dde4ef"/><stop offset=".5166" stop-color="#fefefe"/><stop offset=".5535" stop-color="#f4ecf1"/><stop offset=".5812" stop-color="#e2cfde"/><stop offset=".6827" stop-color="#dfcadb"/><stop offset=".7288" stop-color="#e9dbe6"/><stop offset=".7657" stop-color="#fdfdfe"/><stop offset=".7841" stop-color="#d1dceb"/><stop offset=".8118" stop-color="#a8bfdc"/><stop offset=".8579" stop-color="#82a2ce"/><stop offset=".9225" stop-color="#7197c8"/><stop offset="1" stop-color="#6c93c6"/></linearGradient><linearGradient id="gf55"><stop offset="0" stop-color="#326bb2"/><stop offset=".0738" stop-color="#5885bf"/><stop offset=".452" stop-color="#cad8e9"/><stop offset=".5074" stop-color="#fcfcfd"/><stop offset=".5258" stop-color="#fbf8fa"/><stop offset=".5535" stop-color="#f2e8ef"/><stop offset=".5812" stop-color="#dfcbdb"/><stop offset=".6827" stop-color="#dcc6d8"/><stop offset=".7288" stop-color="#e7d8e4"/><stop offset=".7657" stop-color="#ffffff"/><stop offset=".7749" stop-color="#eef1f5"/><stop offset=".7934" stop-color="#c2d2e6"/><stop offset=".8303" stop-color="#96b2d6"/><stop offset=".8672" stop-color="#7ea0cc"/><stop offset=".941" stop-color="#7096c7"/><stop offset="1" stop-color="#6c93c6"/></linearGradient><linearGradient id="gf56"><stop offset="0" stop-color="#326bb2"/><stop offset=".0738" stop-color="#5885bf"/><stop offset=".4428" stop-color="#c9d8e9"/><stop offset=".4797" stop-color="#e7ecf2"/><stop offset=".5074" stop-color="#ffffff"/><stop offset=".5535" stop-color="#f0e5ed"/><stop offset=".5812" stop-color="#ddc7d9"/><stop offset=".6919" stop-color="#dbc4d7"/><stop offset=".7288" stop-color="#e5d4e1"/><stop offset=".7565" stop-color="#f6f0f4"/><stop offset=".7657" stop-color="#fdfcfc"/><stop offset=".7749" stop-color="#f3f5f8"/><stop offset=".7934" stop-color="#c4d4e7"/><stop offset=".821" stop-color="#a0b9d9"/><stop offset=".8579" stop-color="#83a3ce"/><stop offset=".9133" stop-color="#7298c8"/><stop offset="1" stop-color="#6c93c6"/></linearGradient><linearGradient id="gf57"><stop offset="0" stop-color="#326bb2"/><stop offset=".0738" stop-color="#5885bf"/><stop offset=".4336" stop-color="#c9d7e8"/><stop offset=".4705" stop-color="#e2e8f0"/><stop offset=".4982" stop-color="#fdfdfd"/><stop offset=".5258" stop-color="#f7f2f5"/><stop offset=".5535" stop-color="#ede2ea"/><stop offset=".5812" stop-color="#dbc4d7"/><stop offset=".6919" stop-color="#d9c1d4"/><stop offset=".7288" stop-color="#e3d1df"/><stop offset=".7565" stop-color="#f4ecf2"/><stop offset=".7657" stop-color="#fbf9fa"/><stop offset=".7749" stop-color="#f8f9fa"/><stop offset=".7934" stop-color="#c6d5e8"/><stop offset=".821" stop-color="#a1bada"/><stop offset=".8579" stop-color="#83a3ce"/><stop offset=".9133" stop-color="#7298c8"/><stop offset="1" stop-color="#6c93c6"/></linearGradient><linearGradient id="gf58"><stop offset="0" stop-color="#326bb2"/><stop offset=".0738" stop-color="#5985bf"/><stop offset=".4244" stop-color="#c8d6e8"/><stop offset=".4705" stop-color="#e8ecf2"/><stop offset=".4889" stop-color="#fbfbfc"/><stop offset=".4982" stop-color="#ffffff"/><stop offset=".5535" stop-color="#ebdee8"/><stop offset=".5812" stop-color="#d9c1d4"/><stop offset=".6919" stop-color="#d7bed2"/><stop offset=".7288" stop-color="#e1cddd"/><stop offset=".7565" stop-color="#f2e9ef"/><stop offset=".7657" stop-color="#faf6f8"/><stop offset=".7749" stop-color="#fcfcfd"/><stop offset=".7934" stop-color="#c8d7e8"/><stop offset=".821" stop-color="#a2bbda"/><stop offset=".8579" stop-color="#83a3ce"/><stop offset=".9133" stop-color="#7298c8"/><stop offset="1" stop-color="#6c93c6"/></linearGradient><linearGradient id="gf59"><stop offset="0" stop-color="#326bb2"/><stop offset=".0738" stop-color="#5985bf"/><stop offset=".4244" stop-color="#cad8e9"/><stop offset=".4705" stop-color="#edf0f4"/><stop offset=".4889" stop-color="#fdfdfe"/><stop offset=".5258" stop-color="#f3ebf1"/><stop offset=".5535" stop-color="#e9dbe6"/><stop offset=".5812" stop-color="#d7bed2"/><stop offset=".6919" stop-color="#d5bad0"/><stop offset=".7288" stop-color="#decadb"/><stop offset=".7657" stop-color="#f8f3f6"/><stop offset=".7749" stop-color="#fefefe"/><stop offset=".7934" stop-color="#cbd8e9"/><stop offset=".821" stop-color="#a3bbda"/><stop offset=".8579" stop-color="#84a4cf"/><stop offset=".9133" stop-color="#7298c8"/><stop offset="1" stop-color="#6c93c6"/></linearGradient><linearGradient id="gf60"><stop offset="0" stop-color="#336bb2"/><stop offset=".0738" stop-color="#5985bf"/><stop offset=".4151" stop-color="#c9d7e9"/><stop offset=".4705" stop-color="#f1f3f7"/><stop offset=".4889" stop-color="#fffeff"/><stop offset=".5535" stop-color="#e7d8e4"/><stop offset=".5812" stop-color="#d5bad0"/><stop offset=".6919" stop-color="#d3b7ce"/><stop offset=".7288" stop-color="#dcc6d8"/><stop offset=".7657" stop-color="#f6f0f4"/><stop offset=".7749" stop-color="#fefefe"/><stop offset=".7841" stop-color="#eceff4"/><stop offset=".7934" stop-color="#cfdbea"/><stop offset=".8118" stop-color="#afc4df"/><stop offset=".8487" stop-color="#8aa8d1"/><stop offset=".8948" stop-color="#769ac9"/><stop offset="1" stop-color="#6c93c6"/></linearGradient><linearGradient id="gf61"><stop offset="0" stop-color="#336bb2"/><stop offset=".0738" stop-color="#5985bf"/><stop offset=".4059" stop-color="#c8d6e8"/><stop offset=".4705" stop-color="#f6f7fa"/><stop offset=".4797" stop-color="#fdfdfe"/><stop offset=".5443" stop-color="#e8dae5"/><stop offset=".5627" stop-color="#dec8da"/><stop offset=".5812" stop-color="#d3b7ce"/><stop offset=".6827" stop-color="#d1b2cb"/><stop offset=".7288" stop-color="#dbc3d6"/><stop offset=".7657" stop-color="#f4edf2"/><stop offset=".7749" stop-color="#fdfcfc"/><stop offset=".7841" stop-color="#f0f2f6"/><stop offset=".7934" stop-color="#d3deec"/><stop offset=".8118" stop-color="#b0c5df"/><stop offset=".8487" stop-color="#8aa8d1"/><stop offset=".8948" stop-color="#769ac9"/><stop offset="1" stop-color="#6c93c6"/></linearGradient><linearGradient id="gf62"><stop offset="0" stop-color="#336bb2"/><stop offset=".0738" stop-color="#5986bf"/><stop offset=".4059" stop-color="#cad8e9"/><stop offset=".4797" stop-color="#fffeff"/><stop offset=".5535" stop-color="#e3d1df"/><stop offset=".5812" stop-color="#d2b4cc"/><stop offset=".6827" stop-color="#cfafc8"/><stop offset=".7288" stop-color="#d9c0d4"/><stop offset=".7565" stop-color="#eadde7"/><stop offset=".7749" stop-color="#fbf9fa"/><stop offset=".7841" stop-color="#f4f6f8"/><stop offset=".7934" stop-color="#d7e1ed"/><stop offset=".8118" stop-color="#b1c6e0"/><stop offset=".8487" stop-color="#8ba9d1"/><stop offset=".8948" stop-color="#769ac9"/><stop offset="1" stop-color="#6c93c6"/></linearGradient><linearGradient id="gf63"><stop offset="0" stop-color="#336bb3"/><stop offset=".0738" stop-color="#5a86bf"/><stop offset=".3967" stop-color="#c8d7e8"/><stop offset=".4705" stop-color="#fdfdfe"/><stop offset=".5074" stop-color="#f2eaf0"/><stop offset=".5535" stop-color="#e1cddd"/><stop offset=".5812" stop-color="#d0b1c9"/><stop offset=".6827" stop-color="#cdacc6"/><stop offset=".7288" stop-color="#d7bdd2"/><stop offset=".7565" stop-color="#e9dae5"/><stop offset=".7749" stop-color="#faf6f8"/><stop offset=".7841" stop-color="#f9f9fb"/><stop offset=".8026" stop-color="#c3d3e6"/><stop offset=".8303" stop-color="#9db6d8"/><stop offset=".8672" stop-color="#80a1cd"/><stop offset=".9317" stop-color="#7197c7"/><stop offset="1" stop-color="#6c93c6"/></linearGradient><linearGradient id="gf64"><stop offset="0" stop-color="#336bb3"/><stop offset=".0738" stop-color="#5a86bf"/><stop offset=".3875" stop-color="#c7d6e8"/><stop offset=".4705" stop-color="#ffffff"/><stop offset=".5535" stop-color="#decada"/><stop offset=".5812" stop-color="#ceadc7"/><stop offset=".6827" stop-color="#cba9c4"/><stop offset=".7196" stop-color="#d2b4cc"/><stop offset=".7472" stop-color="#dfcbdb"/><stop offset=".7749" stop-color="#f8f3f6"/><stop offset=".7841" stop-color="#fcfcfd"/><stop offset=".8026" stop-color="#c5d4e7"/><stop offset=".8303" stop-color="#9eb7d8"/><stop offset=".8672" stop-color="#80a1cd"/><stop offset=".9317" stop-color="#7197c7"/><stop offset="1" stop-color="#6c93c6"/></linearGradient><linearGradient id="gf65"><stop offset="0" stop-color="#336bb3"/><stop offset=".0738" stop-color="#5a86bf"/><stop offset=".3875" stop-color="#c9d7e9"/><stop offset=".4613" stop-color="#fdfdfd"/><stop offset=".4889" stop-color="#f6f0f4"/><stop offset=".5535" stop-color="#dcc6d8"/><stop offset=".5812" stop-color="#ccaac5"/><stop offset=".6827" stop-color="#c9a5c2"/><stop offset=".7196" stop-color="#d0b1ca"/><stop offset=".7472" stop-color="#ddc8d9"/><stop offset=".7841" stop-color="#fefefe"/><stop offset=".8026" stop-color="#c6d5e8"/><stop offset=".8303" stop-color="#9fb8d9"/><stop offset=".8672" stop-color="#80a1cd"/><stop offset=".9225" stop-color="#7197c8"/><stop offset="1" stop-color="#6c93c6"/></linearGradient><linearGradient id="gf66"><stop offset="0" stop-color="#336bb3"/><stop offset=".0738" stop-color="#5a86c0"/><stop offset=".3782" stop-color="#c8d6e8"/><stop offset=".452" stop-color="#fcfcfd"/><stop offset=".4613" stop-color="#ffffff"/><stop offset=".5535" stop-color="#dac3d6"/><stop offset=".5812" stop-color="#caa7c3"/><stop offset=".6919" stop-color="#c8a3c0"/><stop offset=".7288" stop-color="#d2b4cc"/><stop offset=".7565" stop-color="#e3d1df"/><stop offset=".7841" stop-color="#fffeff"/><stop offset=".7934" stop-color="#e7ebf2"/><stop offset=".8026" stop-color="#c8d7e8"/><stop offset=".8303" stop-color="#9fb8d9"/><stop offset=".8672" stop-color="#81a2ce"/><stop offset=".9225" stop-color="#7197c8"/><stop offset="1" stop-color="#6c93c6"/></linearGradient><linearGradient id="gf67"><stop offset="0" stop-color="#336bb3"/><stop offset=".0738" stop-color="#5a86c0"/><stop offset=".3782" stop-color="#cad8e9"/><stop offset=".4428" stop-color="#fbfbfc"/><stop offset=".4613" stop-color="#fefdfd"/><stop offset=".5535" stop-color="#d9c0d4"/><stop offset=".5812" stop-color="#c8a4c0"/><stop offset=".6919" stop-color="#c7a1be"/><stop offset=".7288" stop-color="#d0b1ca"/><stop offset=".7565" stop-color="#e1cedd"/><stop offset=".7841" stop-color="#fdfcfd"/><stop offset=".7934" stop-color="#ebeef4"/><stop offset=".8026" stop-color="#cad8e9"/><stop offset=".8303" stop-color="#a0b9d9"/><stop offset=".8672" stop-color="#81a2ce"/><stop offset=".9225" stop-color="#7297c8"/><stop offset="1" stop-color="#6c93c6"/></linearGradient><linearGradient id="gf68"><stop offset="0" stop-color="#336bb3"/><stop offset=".0738" stop-color="#5a86c0"/><stop offset=".369" stop-color="#c8d6e8"/><stop offset=".4428" stop-color="#fdfdfe"/><stop offset=".4613" stop-color="#fcfafb"/><stop offset=".5535" stop-color="#d7bdd2"/><stop offset=".572" stop-color="#caa6c2"/><stop offset=".5996" stop-color="#c6a0be"/><stop offset=".6919" stop-color="#c59ebc"/><stop offset=".7288" stop-color="#ceaec8"/><stop offset=".7565" stop-color="#dfcbdb"/><stop offset=".7841" stop-color="#fcfafb"/><stop offset=".7934" stop-color="#eff1f6"/><stop offset=".8026" stop-color="#cedbea"/><stop offset=".821" stop-color="#acc2de"/><stop offset=".8579" stop-color="#87a6d0"/><stop offset=".9041" stop-color="#7499c9"/><stop offset="1" stop-color="#6c93c6"/></linearGradient><linearGradient id="gf69"><stop offset="0" stop-color="#346cb3"/><stop offset=".0738" stop-color="#5b86c0"/><stop offset=".369" stop-color="#cad8e9"/><stop offset=".4336" stop-color="#fcfcfd"/><stop offset=".452" stop-color="#fdfbfc"/><stop offset=".5535" stop-color="#d5bad0"/><stop offset=".572" stop-color="#c8a3c0"/><stop offset=".6273" stop-color="#c39bba"/><stop offset=".7011" stop-color="#c59dbc"/><stop offset=".738" stop-color="#d1b3cb"/><stop offset=".7657" stop-color="#e6d6e3"/><stop offset=".7841" stop-color="#faf7f9"/><stop offset=".7934" stop-color="#f3f4f8"/><stop offset=".8026" stop-color="#d1ddeb"/><stop offset=".821" stop-color="#adc3de"/><stop offset=".8579" stop-color="#87a6d0"/><stop offset=".9041" stop-color="#7499c9"/><stop offset="1" stop-color="#6c93c6"/></linearGradient><linearGradient id="gf70"><stop offset="0" stop-color="#346cb3"/><stop offset=".0738" stop-color="#5b87c0"/><stop offset=".3598" stop-color="#c8d7e8"/><stop offset=".4336" stop-color="#fefefe"/><stop offset=".4705" stop-color="#f5eef3"/><stop offset=".5535" stop-color="#d3b7ce"/><stop offset=".572" stop-color="#c6a0be"/><stop offset=".6365" stop-color="#c198b8"/><stop offset=".7011" stop-color="#c39bba"/><stop offset=".7288" stop-color="#cba8c4"/><stop offset=".7565" stop-color="#dcc5d7"/><stop offset=".7841" stop-color="#f9f5f8"/><stop offset=".7934" stop-color="#f7f7fa"/><stop offset=".8026" stop-color="#d5dfec"/><stop offset=".821" stop-color="#aec4de"/><stop offset=".8579" stop-color="#87a6d0"/><stop offset=".9041" stop-color="#7499c9"/><stop offset="1" stop-color="#6c93c6"/></linearGradient><linearGradient id="gf71"><stop offset="0" stop-color="#346cb3"/><stop offset=".0738" stop-color="#5b87c0"/><stop offset=".3598" stop-color="#cad8e9"/><stop offset=".4244" stop-color="#fdfdfd"/><stop offset=".4428" stop-color="#fcfafb"/><stop offset=".5535" stop-color="#d1b4cb"/><stop offset=".572" stop-color="#c59dbc"/><stop offset=".655" stop-color="#bf94b5"/><stop offset=".7103" stop-color="#c39bbb"/><stop offset=".738" stop-color="#ceaec7"/><stop offset=".7657" stop-color="#e3d1df"/><stop offset=".7841" stop-color="#f7f2f6"/><stop offset=".7934" stop-color="#fafafc"/><stop offset=".8026" stop-color="#d9e2ed"/><stop offset=".8118" stop-color="#c0d1e5"/><stop offset=".8303" stop-color="#a3bbda"/><stop offset=".8672" stop-color="#82a3ce"/><stop offset=".9225" stop-color="#7297c8"/><stop offset="1" stop-color="#6c93c6"/></linearGradient><linearGradient id="gf72"><stop offset="0" stop-color="#346cb3"/><stop offset=".0738" stop-color="#5b87c0"/><stop offset=".3506" stop-color="#c8d7e8"/><stop offset=".4151" stop-color="#fbfbfc"/><stop offset=".4336" stop-color="#fdfcfc"/><stop offset=".4982" stop-color="#e5d5e2"/><stop offset=".5535" stop-color="#d0b0c9"/><stop offset=".572" stop-color="#c39bba"/><stop offset=".6642" stop-color="#bd91b3"/><stop offset=".7103" stop-color="#c299b9"/><stop offset=".738" stop-color="#ccabc5"/><stop offset=".7657" stop-color="#e1cedd"/><stop offset=".7934" stop-color="#fcfcfd"/><stop offset=".8118" stop-color="#c1d2e6"/><stop offset=".8303" stop-color="#a4bcdb"/><stop offset=".8672" stop-color="#82a3ce"/><stop offset=".9225" stop-color="#7297c8"/><stop offset="1" stop-color="#6c93c6"/></linearGradient><linearGradient id="gf73"><stop offset="0" stop-color="#346cb3"/><stop offset=".0738" stop-color="#5b87c0"/><stop offset=".3413" stop-color="#c6d5e7"/><stop offset=".4151" stop-color="#fdfdfe"/><stop offset=".452" stop-color="#f7f1f5"/><stop offset=".5535" stop-color="#ceadc7"/><stop offset=".572" stop-color="#c198b8"/><stop offset=".6734" stop-color="#bb8eb2"/><stop offset=".7196" stop-color="#c39aba"/><stop offset=".7472" stop-color="#d0b2ca"/><stop offset=".7749" stop-color="#eadbe6"/><stop offset=".7934" stop-color="#fefefe"/><stop offset=".8118" stop-color="#c3d3e6"/><stop offset=".8303" stop-color="#a5bddb"/><stop offset=".8672" stop-color="#83a3ce"/><stop offset=".9225" stop-color="#7297c8"/><stop offset="1" stop-color="#6c93c6"/></linearGradient><linearGradient id="gf74"><stop offset="0" stop-color="#346cb3"/><stop offset=".0738" stop-color="#5c87c0"/><stop offset=".3413" stop-color="#c8d6e8"/><stop offset=".4059" stop-color="#fcfcfd"/><stop offset=".4151" stop-color="#ffffff"/><stop offset=".4797" stop-color="#eadce6"/><stop offset=".5535" stop-color="#ccaac5"/><stop offset=".572" stop-color="#bf95b6"/><stop offset=".6827" stop-color="#ba8cb0"/><stop offset=".7288" stop-color="#c59dbc"/><stop offset=".7565" stop-color="#d6bbd0"/><stop offset=".7841" stop-color="#f3ebf1"/><stop offset=".7934" stop-color="#fffefe"/><stop offset=".8118" stop-color="#c5d4e7"/><stop offset=".8303" stop-color="#a6bddb"/><stop offset=".8672" stop-color="#83a3ce"/><stop offset=".9225" stop-color="#7297c8"/><stop offset="1" stop-color="#6c93c6"/></linearGradient><linearGradient id="gf75"><stop offset="0" stop-color="#346cb3"/><stop offset=".0738" stop-color="#5c87c0"/><stop offset=".3413" stop-color="#cad8e9"/><stop offset=".4059" stop-color="#fefefe"/><stop offset=".4613" stop-color="#f0e6ed"/><stop offset=".5535" stop-color="#caa7c3"/><stop offset=".572" stop-color="#be92b4"/><stop offset=".6827" stop-color="#b98aae"/><stop offset=".7288" stop-color="#c39bba"/><stop offset=".7565" stop-color="#d4b8cf"/><stop offset=".7841" stop-color="#f2e8ef"/><stop offset=".7934" stop-color="#fdfcfd"/><stop offset=".8026" stop-color="#e7ebf2"/><stop offset=".8118" stop-color="#c6d5e7"/><stop offset=".8303" stop-color="#a7bedc"/><stop offset=".8672" stop-color="#83a3ce"/><stop offset=".9225" stop-color="#7297c8"/><stop offset="1" stop-color="#6c93c6"/></linearGradient><linearGradient id="gf76"><stop offset="0" stop-color="#356cb3"/><stop offset=".0738" stop-color="#5c88c0"/><stop offset=".3321" stop-color="#c7d6e8"/><stop offset=".3967" stop-color="#fcfcfd"/><stop offset=".4151" stop-color="#fcfafb"/><stop offset=".4797" stop-color="#e6d6e3"/><stop offset=".5535" stop-color="#c9a4c1"/><stop offset=".572" stop-color="#bc8fb2"/><stop offset=".6827" stop-color="#b787ad"/><stop offset=".7288" stop-color="#c298b9"/><stop offset=".7565" stop-color="#d3b6cd"/><stop offset=".7841" stop-color="#f0e6ed"/><stop offset=".7934" stop-color="#fcfafb"/><stop offset=".8026" stop-color="#eaeef3"/><stop offset=".8118" stop-color="#c8d6e8"/><stop offset=".8303" stop-color="#a7bedc"/><stop offset=".8672" stop-color="#83a3ce"/><stop offset=".9225" stop-color="#7297c8"/><stop offset="1" stop-color="#6c93c6"/></linearGradient><linearGradient id="gf77"><stop offset="0" stop-color="#356cb3"/><stop offset=".0738" stop-color="#5c88c0"/><stop offset=".3321" stop-color="#c9d8e9"/><stop offset=".3875" stop-color="#fafafc"/><stop offset=".4059" stop-color="#fdfcfd"/><stop offset=".4797" stop-color="#e4d3e1"/><stop offset=".5535" stop-color="#c7a1bf"/><stop offset=".572" stop-color="#ba8db0"/><stop offset=".6827" stop-color="#b584ab"/><stop offset=".7288" stop-color="#c096b7"/><stop offset=".7565" stop-color="#d1b3cb"/><stop offset=".7841" stop-color="#efe3ec"/><stop offset=".7934" stop-color="#fbf8fa"/><stop offset=".8026" stop-color="#edf0f5"/><stop offset=".8118" stop-color="#c9d7e9"/><stop offset=".8303" stop-color="#a8bfdc"/><stop offset=".8672" stop-color="#84a4cf"/><stop offset=".9225" stop-color="#7297c8"/><stop offset="1" stop-color="#6c93c6"/></linearGradient><linearGradient id="gf78"><stop offset="0" stop-color="#356cb3"/><stop offset=".0738" stop-color="#5c88c0"/><stop offset=".3229" stop-color="#c7d6e8"/><stop offset=".3875" stop-color="#fcfcfd"/><stop offset=".4059" stop-color="#fcfafb"/><stop offset=".4797" stop-color="#e3d1df"/><stop offset=".5535" stop-color="#c59fbd"/><stop offset=".572" stop-color="#b98aae"/><stop offset=".6827" stop-color="#b482a9"/><stop offset=".7196" stop-color="#bb8db1"/><stop offset=".7472" stop-color="#c9a4c1"/><stop offset=".7749" stop-color="#e2cfde"/><stop offset=".7934" stop-color="#faf6f8"/><stop offset=".8026" stop-color="#f1f3f7"/><stop offset=".8118" stop-color="#ccd9e9"/><stop offset=".8303" stop-color="#a9c0dc"/><stop offset=".8672" stop-color="#84a4cf"/><stop offset=".9225" stop-color="#7297c8"/><stop offset="1" stop-color="#6c93c6"/></linearGradient><linearGradient id="gf79"><stop offset="0" stop-color="#356cb3"/><stop offset=".0738" stop-color="#5d88c0"/><stop offset=".3229" stop-color="#c9d7e9"/><stop offset=".3782" stop-color="#fafafc"/><stop offset=".3967" stop-color="#fdfcfd"/><stop offset=".4705" stop-color="#e5d4e2"/><stop offset=".5535" stop-color="#c49cbb"/><stop offset=".572" stop-color="#b787ad"/><stop offset=".6827" stop-color="#b27fa7"/><stop offset=".7196" stop-color="#b98baf"/><stop offset=".7472" stop-color="#c7a2bf"/><stop offset=".7749" stop-color="#e0ccdc"/><stop offset=".7934" stop-color="#f8f4f7"/><stop offset=".8026" stop-color="#f4f6f8"/><stop offset=".8118" stop-color="#cfdbea"/><stop offset=".8303" stop-color="#aac0dd"/><stop offset=".8672" stop-color="#84a4cf"/><stop offset=".9133" stop-color="#7398c8"/><stop offset="1" stop-color="#6c93c6"/></linearGradient><linearGradient id="gf80"><stop offset="0" stop-color="#356db3"/><stop offset=".0738" stop-color="#5d88c0"/><stop offset=".3137" stop-color="#c6d5e8"/><stop offset=".3782" stop-color="#fcfcfd"/><stop offset=".3967" stop-color="#fcfafb"/><stop offset=".4705" stop-color="#e3d2e0"/><stop offset=".5535" stop-color="#c299b9"/><stop offset=".572" stop-color="#b584ab"/><stop offset=".6827" stop-color="#b07ca5"/><stop offset=".7196" stop-color="#b888ad"/><stop offset=".7472" stop-color="#c69fbd"/><stop offset=".7749" stop-color="#decada"/><stop offset=".7934" stop-color="#f7f1f5"/><stop offset=".8026" stop-color="#f8f8fa"/><stop offset=".8118" stop-color="#d2ddeb"/><stop offset=".8303" stop-color="#abc1dd"/><stop offset=".8672" stop-color="#84a4cf"/><stop offset=".9133" stop-color="#7398c8"/><stop offset="1" stop-color="#6c93c6"/></linearGradient><linearGradient id="gf81"><stop offset="0" stop-color="#356db3"/><stop offset=".0738" stop-color="#5d88c1"/><stop offset=".3137" stop-color="#c8d7e8"/><stop offset=".369" stop-color="#fafafc"/><stop offset=".3875" stop-color="#fdfcfc"/><stop offset=".4705" stop-color="#e2cfde"/><stop offset=".5535" stop-color="#c197b8"/><stop offset=".572" stop-color="#b381a9"/><stop offset=".6827" stop-color="#af7aa3"/><stop offset=".7196" stop-color="#b686ac"/><stop offset=".7565" stop-color="#cba9c4"/><stop offset=".7841" stop-color="#e9dae6"/><stop offset=".7934" stop-color="#f6eff4"/><stop offset=".8026" stop-color="#fbfbfc"/><stop offset=".8118" stop-color="#d5dfec"/><stop offset=".821" stop-color="#bccee4"/><stop offset=".8487" stop-color="#95b0d5"/><stop offset=".8856" stop-color="#7b9ecb"/><stop offset=".9686" stop-color="#6e95c7"/><stop offset="1" stop-color="#6c93c6"/></linearGradient><linearGradient id="gf82"><stop offset="0" stop-color="#356db3"/><stop offset=".0738" stop-color="#5d88c1"/><stop offset=".3137" stop-color="#cad8e9"/><stop offset=".369" stop-color="#fcfcfd"/><stop offset=".3875" stop-color="#fcfafb"/><stop offset=".4705" stop-color="#e0ccdc"/><stop offset=".5535" stop-color="#bf94b6"/><stop offset=".572" stop-color="#b27fa7"/><stop offset=".6827" stop-color="#ad78a2"/><stop offset=".7196" stop-color="#b583aa"/><stop offset=".7565" stop-color="#caa6c2"/><stop offset=".7841" stop-color="#e7d8e4"/><stop offset=".8026" stop-color="#fcfcfd"/><stop offset=".8118" stop-color="#d8e1ed"/><stop offset=".821" stop-color="#bdcfe4"/><stop offset=".8395" stop-color="#a0b9d9"/><stop offset=".8672" stop-color="#85a4cf"/><stop offset=".9133" stop-color="#7398c8"/><stop offset="1" stop-color="#6c93c6"/></linearGradient><linearGradient id="gf83"><stop offset="0" stop-color="#366db3"/><stop offset=".0738" stop-color="#5e89c1"/><stop offset=".3044" stop-color="#c7d6e8"/><stop offset=".3598" stop-color="#fafafb"/><stop offset=".3782" stop-color="#fdfcfc"/><stop offset=".4613" stop-color="#e3d0df"/><stop offset=".5535" stop-color="#bd92b4"/><stop offset=".572" stop-color="#b07ca5"/><stop offset=".6827" stop-color="#ac75a0"/><stop offset=".7196" stop-color="#b381a8"/><stop offset=".7565" stop-color="#c8a4c0"/><stop offset=".7841" stop-color="#e6d6e3"/><stop offset=".8026" stop-color="#fefefe"/><stop offset=".8118" stop-color="#dbe3ee"/><stop offset=".821" stop-color="#bfd0e5"/><stop offset=".8395" stop-color="#a1b9d9"/><stop offset=".8672" stop-color="#85a5cf"/><stop offset=".9133" stop-color="#7398c9"/><stop offset="1" stop-color="#6c93c6"/></linearGradient><linearGradient id="gf84"><stop offset="0" stop-color="#366db3"/><stop offset=".0738" stop-color="#5e89c1"/><stop offset=".3044" stop-color="#c9d7e9"/><stop offset=".3598" stop-color="#fcfcfd"/><stop offset=".3782" stop-color="#fcfafb"/><stop offset=".4613" stop-color="#e1cedd"/><stop offset=".5535" stop-color="#bc8fb2"/><stop offset=".572" stop-color="#ae79a3"/><stop offset=".6827" stop-color="#aa739e"/><stop offset=".7196" stop-color="#b17ea6"/><stop offset=".7565" stop-color="#c7a1bf"/><stop offset=".7841" stop-color="#e5d3e1"/><stop offset=".8026" stop-color="#ffffff"/><stop offset=".821" stop-color="#c0d1e5"/><stop offset=".8395" stop-color="#a1bada"/><stop offset=".8672" stop-color="#85a5cf"/><stop offset=".9133" stop-color="#7398c9"/><stop offset="1" stop-color="#6c93c6"/></linearGradient><linearGradient id="gf85"><stop offset="0" stop-color="#366db4"/><stop offset=".0738" stop-color="#5e89c1"/><stop offset=".2952" stop-color="#c6d5e7"/><stop offset=".3598" stop-color="#fefefe"/><stop offset=".4613" stop-color="#dfcbdb"/><stop offset=".5535" stop-color="#ba8cb0"/><stop offset=".572" stop-color="#ad77a1"/><stop offset=".6827" stop-color="#a8709c"/><stop offset=".7196" stop-color="#b07ca5"/><stop offset=".7565" stop-color="#c69fbd"/><stop offset=".7841" stop-color="#e3d1df"/><stop offset=".8026" stop-color="#fefdfd"/><stop offset=".821" stop-color="#c1d2e6"/><stop offset=".8395" stop-color="#a2bada"/><stop offset=".8672" stop-color="#86a5cf"/><stop offset=".9133" stop-color="#7398c9"/><stop offset="1" stop-color="#6c93c6"/></linearGradient><linearGradient id="gf86"><stop offset="0" stop-color="#366db4"/><stop offset=".0738" stop-color="#5e89c1"/><stop offset=".2952" stop-color="#c8d6e8"/><stop offset=".3506" stop-color="#fcfcfd"/><stop offset=".3598" stop-color="#fffeff"/><stop offset=".4613" stop-color="#dec8da"/><stop offset=".5535" stop-color="#b88aae"/><stop offset=".572" stop-color="#ab749f"/><stop offset=".6827" stop-color="#a76e9b"/><stop offset=".7196" stop-color="#af7aa3"/><stop offset=".7565" stop-color="#c49dbc"/><stop offset=".7841" stop-color="#e2cfde"/><stop offset=".8026" stop-color="#fdfbfc"/><stop offset=".8118" stop-color="#e4e9f1"/><stop offset=".821" stop-color="#c3d3e6"/><stop offset=".8395" stop-color="#a3bbda"/><stop offset=".8672" stop-color="#86a5cf"/><stop offset=".9133" stop-color="#7399c9"/><stop offset="1" stop-color="#6c93c6"/></linearGradient><linearGradient id="gf87"><stop offset="0" stop-color="#366db4"/><stop offset=".0738" stop-color="#5e89c1"/><stop offset=".2952" stop-color="#cad8e9"/><stop offset=".3506" stop-color="#fdfdfe"/><stop offset=".452" stop-color="#e0cddd"/><stop offset=".5535" stop-color="#b787ad"/><stop offset=".572" stop-color="#a9729e"/><stop offset=".6827" stop-color="#a56c99"/><stop offset=".7196" stop-color="#ad77a2"/><stop offset=".7472" stop-color="#bc90b2"/><stop offset=".7749" stop-color="#d5bad0"/><stop offset=".8026" stop-color="#fcf9fb"/><stop offset=".8118" stop-color="#e7ebf2"/><stop offset=".821" stop-color="#c4d4e7"/><stop offset=".8395" stop-color="#a3bbda"/><stop offset=".8672" stop-color="#86a5d0"/><stop offset=".9133" stop-color="#7499c9"/><stop offset="1" stop-color="#6c93c6"/></linearGradient><linearGradient id="gf88"><stop offset="0" stop-color="#366db4"/><stop offset=".0738" stop-color="#5f8ac1"/><stop offset=".286" stop-color="#c7d5e8"/><stop offset=".3413" stop-color="#fbfbfc"/><stop offset=".3506" stop-color="#ffffff"/><stop offset=".4705" stop-color="#d7bdd2"/><stop offset=".5443" stop-color="#bb8eb2"/><stop offset=".572" stop-color="#a86f9c"/><stop offset=".6827" stop-color="#a46997"/><stop offset=".7196" stop-color="#ac75a0"/><stop offset=".7472" stop-color="#bb8db1"/><stop offset=".7749" stop-color="#d4b8ce"/><stop offset=".8026" stop-color="#faf7f9"/><stop offset=".8118" stop-color="#eaeef3"/><stop offset=".821" stop-color="#c5d5e7"/><stop offset=".8395" stop-color="#a4bcdb"/><stop offset=".8672" stop-color="#86a6d0"/><stop offset=".9133" stop-color="#7499c9"/><stop offset="1" stop-color="#6c93c6"/></linearGradient><linearGradient id="gf89"><stop offset="0" stop-color="#376db4"/><stop offset=".0738" stop-color="#5f8ac1"/><stop offset=".286" stop-color="#c8d7e8"/><stop offset=".3413" stop-color="#fdfdfd"/><stop offset=".369" stop-color="#f8f3f6"/><stop offset=".4705" stop-color="#d5bbd0"/><stop offset=".5443" stop-color="#ba8cb0"/><stop offset=".572" stop-color="#a66d9a"/><stop offset=".6827" stop-color="#a26796"/><stop offset=".7196" stop-color="#aa739e"/><stop offset=".7472" stop-color="#b98baf"/><stop offset=".7749" stop-color="#d3b5cd"/><stop offset=".8026" stop-color="#f9f5f8"/><stop offset=".8118" stop-color="#edf0f5"/><stop offset=".821" stop-color="#c7d6e8"/><stop offset=".8395" stop-color="#a5bcdb"/><stop offset=".8672" stop-color="#87a6d0"/><stop offset=".9133" stop-color="#7499c9"/><stop offset="1" stop-color="#6c93c6"/></linearGradient><linearGradient id="gf90"><stop offset="0" stop-color="#376eb4"/><stop offset=".0738" stop-color="#5f8ac1"/><stop offset=".2768" stop-color="#c5d4e7"/><stop offset=".3321" stop-color="#fafafc"/><stop offset=".3413" stop-color="#ffffff"/><stop offset=".4705" stop-color="#d4b8ce"/><stop offset=".5443" stop-color="#b88aae"/><stop offset=".572" stop-color="#a46a98"/><stop offset=".6827" stop-color="#a06494"/><stop offset=".7196" stop-color="#a9719d"/><stop offset=".7472" stop-color="#b889ae"/><stop offset=".7749" stop-color="#d1b3cb"/><stop offset=".8026" stop-color="#f8f3f7"/><stop offset=".8118" stop-color="#f0f2f6"/><stop offset=".821" stop-color="#c8d7e8"/><stop offset=".8395" stop-color="#a5bddb"/><stop offset=".8672" stop-color="#87a6d0"/><stop offset=".9133" stop-color="#7499c9"/><stop offset="1" stop-color="#6c93c6"/></linearGradient><linearGradient id="gf91"><stop offset="0" stop-color="#376eb4"/><stop offset=".0738" stop-color="#5f8ac1"/><stop offset=".2768" stop-color="#c7d6e8"/><stop offset=".3321" stop-color="#fcfcfd"/><stop offset=".3506" stop-color="#fbf9fa"/><stop offset=".4705" stop-color="#d3b6cd"/><stop offset=".5443" stop-color="#b787ad"/><stop offset=".572" stop-color="#a36896"/><stop offset=".6827" stop-color="#9f6292"/><stop offset=".7196" stop-color="#a76e9b"/><stop offset=".7472" stop-color="#b786ac"/><stop offset=".7749" stop-color="#d0b1ca"/><stop offset=".8026" stop-color="#f7f2f5"/><stop offset=".8118" stop-color="#f3f4f8"/><stop offset=".821" stop-color="#c9d8e9"/><stop offset=".8395" stop-color="#a6bddb"/><stop offset=".8672" stop-color="#87a6d0"/><stop offset=".9133" stop-color="#7499c9"/><stop offset="1" stop-color="#6c93c6"/></linearGradient><linearGradient id="gf92"><stop offset="0" stop-color="#376eb4"/><stop offset=".0738" stop-color="#608ac1"/><stop offset=".2768" stop-color="#c9d7e8"/><stop offset=".3229" stop-color="#f9f9fb"/><stop offset=".3321" stop-color="#fefefe"/><stop offset=".4705" stop-color="#d1b3cb"/><stop offset=".5443" stop-color="#b685ab"/><stop offset=".572" stop-color="#a16594"/><stop offset=".6827" stop-color="#9d5f90"/><stop offset=".7196" stop-color="#a66c99"/><stop offset=".7472" stop-color="#b584ab"/><stop offset=".7749" stop-color="#cfafc8"/><stop offset=".8026" stop-color="#f6f0f4"/><stop offset=".8118" stop-color="#f6f7f9"/><stop offset=".821" stop-color="#ccd9e9"/><stop offset=".8395" stop-color="#a7bedc"/><stop offset=".8672" stop-color="#87a6d0"/><stop offset=".9133" stop-color="#7499c9"/><stop offset="1" stop-color="#6c93c6"/></linearGradient><linearGradient id="gf93"><stop offset="0" stop-color="#376eb4"/><stop offset=".0738" stop-color="#608ac2"/><stop offset=".2675" stop-color="#c5d4e7"/><stop offset=".3229" stop-color="#fcfcfc"/><stop offset=".3321" stop-color="#fffeff"/><stop offset=".4705" stop-color="#d0b1c9"/><stop offset=".5443" stop-color="#b482a9"/><stop offset=".572" stop-color="#9f6393"/><stop offset=".6827" stop-color="#9c5d8f"/><stop offset=".7196" stop-color="#a46a98"/><stop offset=".7472" stop-color="#b482a9"/><stop offset=".7749" stop-color="#cdadc7"/><stop offset=".8026" stop-color="#f5eef3"/><stop offset=".8118" stop-color="#f9f9fb"/><stop offset=".821" stop-color="#cedbea"/><stop offset=".8303" stop-color="#b7cae2"/><stop offset=".8579" stop-color="#90add3"/><stop offset=".8948" stop-color="#799ccb"/><stop offset="1" stop-color="#6c93c6"/></linearGradient><linearGradient id="gf94"><stop offset="0" stop-color="#376eb4"/><stop offset=".0738" stop-color="#608bc2"/><stop offset=".2675" stop-color="#c7d6e8"/><stop offset=".3229" stop-color="#fdfdfe"/><stop offset=".3598" stop-color="#f4ecf2"/><stop offset=".4705" stop-color="#ceaec8"/><stop offset=".5443" stop-color="#b380a8"/><stop offset=".572" stop-color="#9e6091"/><stop offset=".6827" stop-color="#9a5a8d"/><stop offset=".7196" stop-color="#a36796"/><stop offset=".7472" stop-color="#b280a7"/><stop offset=".7749" stop-color="#ccaac5"/><stop offset=".8026" stop-color="#f4ecf1"/><stop offset=".8118" stop-color="#fbfbfc"/><stop offset=".821" stop-color="#d1dceb"/><stop offset=".8303" stop-color="#b8cbe2"/><stop offset=".8579" stop-color="#91add3"/><stop offset=".8948" stop-color="#799ccb"/><stop offset="1" stop-color="#6c93c6"/></linearGradient><linearGradient id="gf95"><stop offset="0" stop-color="#386eb4"/><stop offset=".0738" stop-color="#608bc2"/><stop offset=".2675" stop-color="#c9d7e9"/><stop offset=".3137" stop-color="#fafafc"/><stop offset=".3229" stop-color="#ffffff"/><stop offset=".4705" stop-color="#cdacc6"/><stop offset=".5443" stop-color="#b17ea6"/><stop offset=".572" stop-color="#9c5e8f"/><stop offset=".6827" stop-color="#99578b"/><stop offset=".7196" stop-color="#a16594"/><stop offset=".7472" stop-color="#b17ea6"/><stop offset=".7749" stop-color="#cba8c4"/><stop offset=".8118" stop-color="#fcfcfd"/><stop offset=".821" stop-color="#d3deec"/><stop offset=".8303" stop-color="#b9cce3"/><stop offset=".8579" stop-color="#91add4"/><stop offset=".8948" stop-color="#799ccb"/><stop offset="1" stop-color="#6c93c6"/></linearGradient><linearGradient id="gf96"><stop offset="0" stop-color="#396fb4"/><stop offset=".0738" stop-color="#618bc2"/><stop offset=".2583" stop-color="#c5d4e7"/><stop offset=".3137" stop-color="#fcfcfd"/><stop offset=".3321" stop-color="#fbf8fa"/><stop offset=".4613" stop-color="#d0b0c9"/><stop offset=".5443" stop-color="#b07ca5"/><stop offset=".572" stop-color="#9b5b8d"/><stop offset=".6827" stop-color="#985589"/><stop offset=".7196" stop-color="#a06393"/><stop offset=".7472" stop-color="#b07ca5"/><stop offset=".7749" stop-color="#caa6c2"/><stop offset=".8118" stop-color="#fefefe"/><stop offset=".821" stop-color="#d6e0ed"/><stop offset=".8303" stop-color="#bacde3"/><stop offset=".8487" stop-color="#9cb6d8"/><stop offset=".8764" stop-color="#82a3ce"/><stop offset=".9317" stop-color="#7197c8"/><stop offset="1" stop-color="#6c94c6"/></linearGradient><linearGradient id="gf97"><stop offset="0" stop-color="#3a6fb5"/><stop offset=".0738" stop-color="#628cc2"/><stop offset=".2583" stop-color="#c7d6e8"/><stop offset=".3137" stop-color="#fefefe"/><stop offset=".4613" stop-color="#ceaec7"/><stop offset=".5443" stop-color="#ae79a3"/><stop offset=".572" stop-color="#99588c"/><stop offset=".6827" stop-color="#965287"/><stop offset=".7196" stop-color="#9e6191"/><stop offset=".7565" stop-color="#b686ac"/><stop offset=".7841" stop-color="#d4b8ce"/><stop offset=".8118" stop-color="#ffffff"/><stop offset=".821" stop-color="#d8e2ed"/><stop offset=".8303" stop-color="#bccde3"/><stop offset=".8487" stop-color="#9db6d8"/><stop offset=".8764" stop-color="#82a3ce"/><stop offset=".9225" stop-color="#7298c8"/><stop offset="1" stop-color="#6c94c6"/></linearGradient><linearGradient id="gf98"><stop offset="0" stop-color="#3a70b5"/><stop offset=".0738" stop-color="#628cc2"/><stop offset=".2583" stop-color="#c9d7e9"/><stop offset=".3044" stop-color="#fbfbfc"/><stop offset=".3137" stop-color="#ffffff"/><stop offset=".4613" stop-color="#cdabc6"/><stop offset=".5443" stop-color="#ad77a1"/><stop offset=".572" stop-color="#98568a"/><stop offset=".6827" stop-color="#954f85"/><stop offset=".7196" stop-color="#9d5e90"/><stop offset=".7565" stop-color="#b584aa"/><stop offset=".7841" stop-color="#d3b6cd"/><stop offset=".8118" stop-color="#fefefe"/><stop offset=".8303" stop-color="#bdcee4"/><stop offset=".8487" stop-color="#9db7d8"/><stop offset=".8764" stop-color="#82a3ce"/><stop offset=".9225" stop-color="#7298c8"/><stop offset="1" stop-color="#6d94c6"/></linearGradient><linearGradient id="gf99"><stop offset="0" stop-color="#3b70b5"/><stop offset=".0738" stop-color="#638dc2"/><stop offset=".2491" stop-color="#c5d4e7"/><stop offset=".3044" stop-color="#fdfdfd"/><stop offset=".3229" stop-color="#faf7f9"/><stop offset=".4613" stop-color="#cba9c4"/><stop offset=".5443" stop-color="#ab75a0"/><stop offset=".572" stop-color="#975388"/><stop offset=".6827" stop-color="#934c84"/><stop offset=".7196" stop-color="#9b5c8e"/><stop offset=".7565" stop-color="#b381a9"/><stop offset=".7841" stop-color="#d2b4cc"/><stop offset=".8118" stop-color="#fdfcfd"/><stop offset=".8303" stop-color="#becfe4"/><stop offset=".8487" stop-color="#9eb7d8"/><stop offset=".8764" stop-color="#83a3ce"/><stop offset=".9225" stop-color="#7298c8"/><stop offset="1" stop-color="#6d94c6"/></linearGradient><linearGradient id="gf100"><stop offset="0" stop-color="#3c71b6"/><stop offset=".2399" stop-color="#c1d1e5"/><stop offset=".2675" stop-color="#dae2ee"/><stop offset=".2952" stop-color="#f9f9fb"/><stop offset=".3044" stop-color="#fefeff"/><stop offset=".4613" stop-color="#caa6c2"/><stop offset=".5443" stop-color="#aa729e"/><stop offset=".572" stop-color="#955086"/><stop offset=".6827" stop-color="#924a82"/><stop offset=".7196" stop-color="#9a598c"/><stop offset=".7565" stop-color="#b27fa7"/><stop offset=".7841" stop-color="#d1b2ca"/><stop offset=".8118" stop-color="#fcfbfc"/><stop offset=".8303" stop-color="#bfd0e5"/><stop offset=".8487" stop-color="#9fb8d9"/><stop offset=".8764" stop-color="#83a3ce"/><stop offset=".9225" stop-color="#7398c8"/><stop offset="1" stop-color="#6d94c6"/></linearGradient><linearGradient id="gf101"><stop offset="0" stop-color="#3d72b6"/><stop offset=".2399" stop-color="#c3d3e6"/><stop offset=".2675" stop-color="#dde5ef"/><stop offset=".2952" stop-color="#fcfcfd"/><stop offset=".3044" stop-color="#fefefe"/><stop offset=".4613" stop-color="#c9a4c1"/><stop offset=".5443" stop-color="#a8709c"/><stop offset=".572" stop-color="#944e84"/><stop offset=".6827" stop-color="#904780"/><stop offset=".7196" stop-color="#99578a"/><stop offset=".7565" stop-color="#b17da6"/><stop offset=".7841" stop-color="#cfb0c9"/><stop offset=".8118" stop-color="#fbf9fa"/><stop offset=".821" stop-color="#e3e8f0"/><stop offset=".8303" stop-color="#c0d1e5"/><stop offset=".8487" stop-color="#9fb8d9"/><stop offset=".8764" stop-color="#83a3ce"/><stop offset=".9225" stop-color="#7398c8"/><stop offset="1" stop-color="#6d94c6"/></linearGradient><linearGradient id="gf102"><stop offset="0" stop-color="#3e72b6"/><stop offset=".2306" stop-color="#bed0e5"/><stop offset=".2583" stop-color="#d6e0ed"/><stop offset=".2952" stop-color="#fdfdfe"/><stop offset=".3321" stop-color="#f3ebf0"/><stop offset=".4613" stop-color="#c7a2bf"/><stop offset=".5443" stop-color="#a76e9b"/><stop offset=".572" stop-color="#924b83"/><stop offset=".6827" stop-color="#8f447e"/><stop offset=".7196" stop-color="#975489"/><stop offset=".7565" stop-color="#b07ba4"/><stop offset=".7841" stop-color="#ceaec8"/><stop offset=".8118" stop-color="#faf7f9"/><stop offset=".821" stop-color="#e5eaf1"/><stop offset=".8303" stop-color="#c1d2e6"/><stop offset=".8487" stop-color="#a0b8d9"/><stop offset=".8764" stop-color="#83a3ce"/><stop offset=".9225" stop-color="#7398c8"/><stop offset="1" stop-color="#6d94c6"/></linearGradient><linearGradient id="gf103"><stop offset="0" stop-color="#3f73b6"/><stop offset=".2214" stop-color="#bacce3"/><stop offset=".2583" stop-color="#dae2ee"/><stop offset=".286" stop-color="#fafafb"/><stop offset=".2952" stop-color="#ffffff"/><stop offset=".4705" stop-color="#c29aba"/><stop offset=".5443" stop-color="#a56b99"/><stop offset=".572" stop-color="#914881"/><stop offset=".6827" stop-color="#8d427c"/><stop offset=".7196" stop-color="#965287"/><stop offset=".7565" stop-color="#ae7aa3"/><stop offset=".7841" stop-color="#cdacc6"/><stop offset=".8118" stop-color="#f9f6f8"/><stop offset=".821" stop-color="#e8ecf2"/><stop offset=".8303" stop-color="#c2d2e6"/><stop offset=".8487" stop-color="#a0b9d9"/><stop offset=".8764" stop-color="#83a3cf"/><stop offset=".9225" stop-color="#7398c8"/><stop offset="1" stop-color="#6d94c6"/></linearGradient><linearGradient id="gf104"><stop offset="0" stop-color="#4073b7"/><stop offset=".2214" stop-color="#bccde3"/><stop offset=".2491" stop-color="#d2ddeb"/><stop offset=".286" stop-color="#fcfcfd"/><stop offset=".3044" stop-color="#fbf8f9"/><stop offset=".4705" stop-color="#c198b8"/><stop offset=".5443" stop-color="#a46997"/><stop offset=".572" stop-color="#90467f"/><stop offset=".6827" stop-color="#8c3f7b"/><stop offset=".7196" stop-color="#954f85"/><stop offset=".7565" stop-color="#ad78a2"/><stop offset=".7841" stop-color="#ccaac5"/><stop offset=".8118" stop-color="#f8f4f7"/><stop offset=".821" stop-color="#eaeef3"/><stop offset=".8303" stop-color="#c3d3e6"/><stop offset=".8487" stop-color="#a1b9d9"/><stop offset=".8764" stop-color="#84a4cf"/><stop offset=".9225" stop-color="#7398c8"/><stop offset="1" stop-color="#6d94c6"/></linearGradient><linearGradient id="gf105"><stop offset="0" stop-color="#4174b7"/><stop offset=".203" stop-color="#b0c5df"/><stop offset=".2399" stop-color="#cad8e9"/><stop offset=".286" stop-color="#fefefe"/><stop offset=".4613" stop-color="#c49cbb"/><stop offset=".5443" stop-color="#a26796"/><stop offset=".572" stop-color="#8e437d"/><stop offset=".6827" stop-color="#8b3c79"/><stop offset=".7196" stop-color="#934c84"/><stop offset=".7565" stop-color="#ac76a0"/><stop offset=".7841" stop-color="#cba8c3"/><stop offset=".8118" stop-color="#f7f2f6"/><stop offset=".821" stop-color="#edf0f5"/><stop offset=".8303" stop-color="#c4d4e7"/><stop offset=".8395" stop-color="#afc4df"/><stop offset=".8672" stop-color="#8ba9d1"/><stop offset=".9041" stop-color="#779bca"/><stop offset="1" stop-color="#6d94c6"/></linearGradient><linearGradient id="gf106"><stop offset="0" stop-color="#4174b7"/><stop offset=".203" stop-color="#b2c6e0"/><stop offset=".2399" stop-color="#cddaea"/><stop offset=".2768" stop-color="#fafafc"/><stop offset=".286" stop-color="#ffffff"/><stop offset=".4244" stop-color="#cfb0c9"/><stop offset=".5443" stop-color="#a06494"/><stop offset=".572" stop-color="#8d407c"/><stop offset=".6919" stop-color="#8a3b78"/><stop offset=".7288" stop-color="#965287"/><stop offset=".7657" stop-color="#b482a9"/><stop offset=".7934" stop-color="#d7bdd2"/><stop offset=".8118" stop-color="#f6f1f5"/><stop offset=".821" stop-color="#eff2f6"/><stop offset=".8303" stop-color="#c6d5e7"/><stop offset=".8395" stop-color="#b0c5df"/><stop offset=".8672" stop-color="#8ba9d1"/><stop offset=".9041" stop-color="#779bca"/><stop offset="1" stop-color="#6e94c6"/></linearGradient><linearGradient id="gf107"><stop offset="0" stop-color="#4275b8"/><stop offset=".203" stop-color="#b4c8e0"/><stop offset=".2399" stop-color="#d1ddeb"/><stop offset=".2768" stop-color="#fcfcfd"/><stop offset=".2952" stop-color="#faf7f9"/><stop offset=".4244" stop-color="#ceaec7"/><stop offset=".5443" stop-color="#9f6292"/><stop offset=".572" stop-color="#8b3e7a"/><stop offset=".7011" stop-color="#8b3c79"/><stop offset=".7288" stop-color="#955086"/><stop offset=".7657" stop-color="#b380a8"/><stop offset=".7934" stop-color="#d6bbd0"/><stop offset=".8118" stop-color="#f5eff3"/><stop offset=".821" stop-color="#f2f4f7"/><stop offset=".8303" stop-color="#c7d6e8"/><stop offset=".8395" stop-color="#b1c5df"/><stop offset=".8672" stop-color="#8ca9d2"/><stop offset=".9041" stop-color="#779bca"/><stop offset="1" stop-color="#6e95c6"/></linearGradient><linearGradient id="gf108"><stop offset="0" stop-color="#4376b8"/><stop offset=".203" stop-color="#b0c5df"/><stop offset=".2399" stop-color="#cad8e9"/><stop offset=".286" stop-color="#fdfdfd"/><stop offset=".3137" stop-color="#f6f0f4"/><stop offset=".4705" stop-color="#c097b7"/><stop offset=".5443" stop-color="#a36896"/><stop offset=".572" stop-color="#8f447e"/><stop offset=".6827" stop-color="#8b3e7a"/><stop offset=".7196" stop-color="#944d84"/><stop offset=".7565" stop-color="#ac76a1"/><stop offset=".7841" stop-color="#cba7c3"/><stop offset=".8118" stop-color="#f7f1f5"/><stop offset=".821" stop-color="#f0f2f6"/><stop offset=".8303" stop-color="#c6d5e7"/><stop offset=".8395" stop-color="#b0c5df"/><stop offset=".8672" stop-color="#8ca9d2"/><stop offset=".9041" stop-color="#779bca"/><stop offset="1" stop-color="#6e95c6"/></linearGradient><linearGradient id="gf109"><stop offset="0" stop-color="#4376b8"/><stop offset=".2122" stop-color="#b4c8e0"/><stop offset=".2491" stop-color="#cedbea"/><stop offset=".286" stop-color="#f9f9fb"/><stop offset=".2952" stop-color="#fefeff"/><stop offset=".4613" stop-color="#c7a1be"/><stop offset=".5443" stop-color="#a66c9a"/><stop offset=".572" stop-color="#924a82"/><stop offset=".6827" stop-color="#8e437d"/><stop offset=".7196" stop-color="#965288"/><stop offset=".7565" stop-color="#ae79a3"/><stop offset=".7841" stop-color="#ccaac5"/><stop offset=".8118" stop-color="#f8f3f6"/><stop offset=".821" stop-color="#edf0f5"/><stop offset=".8303" stop-color="#c5d5e7"/><stop offset=".8395" stop-color="#b0c5df"/><stop offset=".8672" stop-color="#8ca9d2"/><stop offset=".9041" stop-color="#779bca"/><stop offset="1" stop-color="#6e95c7"/></linearGradient><linearGradient id="gf110"><stop offset="0" stop-color="#4476b8"/><stop offset=".2122" stop-color="#b0c5df"/><stop offset=".2583" stop-color="#d2deeb"/><stop offset=".2952" stop-color="#fbfbfc"/><stop offset=".3044" stop-color="#fffefe"/><stop offset=".4613" stop-color="#c9a5c1"/><stop offset=".5443" stop-color="#a9719d"/><stop offset=".572" stop-color="#954f85"/><stop offset=".6827" stop-color="#914981"/><stop offset=".7196" stop-color="#99588b"/><stop offset=".7565" stop-color="#b17da5"/><stop offset=".7841" stop-color="#ceaec7"/><stop offset=".8118" stop-color="#f9f5f7"/><stop offset=".821" stop-color="#ebeef3"/><stop offset=".8303" stop-color="#c4d4e7"/><stop offset=".8395" stop-color="#b0c5df"/><stop offset=".8672" stop-color="#8caad2"/><stop offset=".9041" stop-color="#779bca"/><stop offset="1" stop-color="#6e95c7"/></linearGradient><linearGradient id="gf111"><stop offset="0" stop-color="#4476b8"/><stop offset=".2122" stop-color="#aec4de"/><stop offset=".2583" stop-color="#ccd9ea"/><stop offset=".3044" stop-color="#fdfdfd"/><stop offset=".3229" stop-color="#fbf7f9"/><stop offset=".4613" stop-color="#ccaac5"/><stop offset=".5443" stop-color="#ac76a0"/><stop offset=".572" stop-color="#975489"/><stop offset=".6827" stop-color="#944e85"/><stop offset=".7196" stop-color="#9c5d8e"/><stop offset=".7565" stop-color="#b380a8"/><stop offset=".7841" stop-color="#d0b1c9"/><stop offset=".8118" stop-color="#faf7f9"/><stop offset=".821" stop-color="#e8ecf2"/><stop offset=".8303" stop-color="#c3d3e6"/><stop offset=".8487" stop-color="#a2bada"/><stop offset=".8764" stop-color="#85a4cf"/><stop offset=".9225" stop-color="#7398c8"/><stop offset="1" stop-color="#6e95c7"/></linearGradient><linearGradient id="gf112"><stop offset="0" stop-color="#4476b8"/><stop offset=".2214" stop-color="#b0c5df"/><stop offset=".2675" stop-color="#d0dceb"/><stop offset=".3137" stop-color="#fefefe"/><stop offset=".4613" stop-color="#cfafc8"/><stop offset=".5443" stop-color="#af7aa4"/><stop offset=".572" stop-color="#9a5a8d"/><stop offset=".6827" stop-color="#975388"/><stop offset=".7196" stop-color="#9e6192"/><stop offset=".7565" stop-color="#b584ab"/><stop offset=".7841" stop-color="#d2b4cc"/><stop offset=".8118" stop-color="#fbf9fa"/><stop offset=".821" stop-color="#e5eaf1"/><stop offset=".8303" stop-color="#c2d2e6"/><stop offset=".8487" stop-color="#a1bada"/><stop offset=".8764" stop-color="#85a4cf"/><stop offset=".9225" stop-color="#7398c9"/><stop offset="1" stop-color="#6e95c7"/></linearGradient><linearGradient id="gf113"><stop offset="0" stop-color="#4577b8"/><stop offset=".2306" stop-color="#b3c7e0"/><stop offset=".2768" stop-color="#d3deec"/><stop offset=".3137" stop-color="#fafafc"/><stop offset=".3229" stop-color="#ffffff"/><stop offset=".4613" stop-color="#d1b4cb"/><stop offset=".5443" stop-color="#b27fa7"/><stop offset=".572" stop-color="#9d5f90"/><stop offset=".6827" stop-color="#9a598c"/><stop offset=".7288" stop-color="#a56c99"/><stop offset=".7565" stop-color="#b888ad"/><stop offset=".7841" stop-color="#d3b7ce"/><stop offset=".8118" stop-color="#fdfbfc"/><stop offset=".821" stop-color="#e2e8f0"/><stop offset=".8303" stop-color="#c1d2e6"/><stop offset=".8487" stop-color="#a1bada"/><stop offset=".8764" stop-color="#85a4cf"/><stop offset=".9225" stop-color="#7399c9"/><stop offset="1" stop-color="#6f95c7"/></linearGradient><linearGradient id="gf114"><stop offset="0" stop-color="#4577b8"/><stop offset=".2306" stop-color="#b0c5df"/><stop offset=".2768" stop-color="#ccd9ea"/><stop offset=".3229" stop-color="#fcfcfc"/><stop offset=".3321" stop-color="#ffffff"/><stop offset=".4705" stop-color="#d0b2ca"/><stop offset=".5443" stop-color="#b584aa"/><stop offset=".572" stop-color="#a06494"/><stop offset=".6827" stop-color="#9d5e90"/><stop offset=".7288" stop-color="#a8709c"/><stop offset=".7565" stop-color="#ba8cb0"/><stop offset=".7841" stop-color="#d5bad0"/><stop offset=".8118" stop-color="#fefdfd"/><stop offset=".8303" stop-color="#c0d1e5"/><stop offset=".8487" stop-color="#a1b9d9"/><stop offset=".8764" stop-color="#85a5cf"/><stop offset=".9225" stop-color="#7499c9"/><stop offset="1" stop-color="#6f95c7"/></linearGradient><linearGradient id="gf115"><stop offset="0" stop-color="#4577b9"/><stop offset=".2399" stop-color="#b3c7e0"/><stop offset=".286" stop-color="#cfdbeb"/><stop offset=".3321" stop-color="#fcfcfd"/><stop offset=".3506" stop-color="#fbf9fa"/><stop offset=".4705" stop-color="#d3b7cd"/><stop offset=".5443" stop-color="#b888ae"/><stop offset=".572" stop-color="#a36997"/><stop offset=".6827" stop-color="#a06393"/><stop offset=".7288" stop-color="#ab749f"/><stop offset=".7565" stop-color="#bc90b3"/><stop offset=".7841" stop-color="#d7bed2"/><stop offset=".8118" stop-color="#ffffff"/><stop offset=".8303" stop-color="#bfd0e5"/><stop offset=".8487" stop-color="#a0b9d9"/><stop offset=".8764" stop-color="#85a5cf"/><stop offset=".9225" stop-color="#7499c9"/><stop offset="1" stop-color="#6f95c7"/></linearGradient><linearGradient id="gf116"><stop offset="0" stop-color="#4677b9"/><stop offset=".083" stop-color="#6991c5"/><stop offset=".2768" stop-color="#c4d4e7"/><stop offset=".3413" stop-color="#fdfdfd"/><stop offset=".369" stop-color="#f8f3f6"/><stop offset=".4705" stop-color="#d6bbd1"/><stop offset=".5443" stop-color="#bb8db1"/><stop offset=".572" stop-color="#a76e9b"/><stop offset=".6827" stop-color="#a36897"/><stop offset=".7288" stop-color="#ae79a3"/><stop offset=".7657" stop-color="#c6a0be"/><stop offset=".7934" stop-color="#e6d5e2"/><stop offset=".8118" stop-color="#fdfdfe"/><stop offset=".821" stop-color="#d9e2ed"/><stop offset=".8303" stop-color="#becfe4"/><stop offset=".8487" stop-color="#a0b9d9"/><stop offset=".8764" stop-color="#85a5cf"/><stop offset=".9225" stop-color="#7499c9"/><stop offset="1" stop-color="#6f95c7"/></linearGradient><linearGradient id="gf117"><stop offset="0" stop-color="#4677b9"/><stop offset=".083" stop-color="#6991c5"/><stop offset=".286" stop-color="#c6d5e7"/><stop offset=".3506" stop-color="#fdfdfe"/><stop offset=".3967" stop-color="#f2e9f0"/><stop offset=".4705" stop-color="#d9c0d4"/><stop offset=".5443" stop-color="#be92b4"/><stop offset=".572" stop-color="#aa739e"/><stop offset=".6827" stop-color="#a66d9a"/><stop offset=".7288" stop-color="#b17da6"/><stop offset=".7657" stop-color="#c9a4c1"/><stop offset=".7934" stop-color="#e8d8e4"/><stop offset=".8026" stop-color="#f5eef3"/><stop offset=".8118" stop-color="#fcfcfc"/><stop offset=".821" stop-color="#d5e0ec"/><stop offset=".8303" stop-color="#bccee4"/><stop offset=".8487" stop-color="#a0b8d9"/><stop offset=".8764" stop-color="#85a4cf"/><stop offset=".9225" stop-color="#7499c9"/><stop offset="1" stop-color="#6f96c7"/></linearGradient><linearGradient id="gf118"><stop offset="0" stop-color="#4678b9"/><stop offset=".083" stop-color="#6891c4"/><stop offset=".2952" stop-color="#c7d6e8"/><stop offset=".3598" stop-color="#fefefe"/><stop offset=".4613" stop-color="#e0ccdc"/><stop offset=".5535" stop-color="#bb8db1"/><stop offset=".572" stop-color="#ae78a2"/><stop offset=".6827" stop-color="#a9729e"/><stop offset=".7288" stop-color="#b482a9"/><stop offset=".7657" stop-color="#cba8c4"/><stop offset=".7934" stop-color="#eadce7"/><stop offset=".8026" stop-color="#f7f1f5"/><stop offset=".8118" stop-color="#f8f9fa"/><stop offset=".821" stop-color="#d2ddeb"/><stop offset=".8303" stop-color="#bbcde3"/><stop offset=".8579" stop-color="#95b0d5"/><stop offset=".8948" stop-color="#7b9ecc"/><stop offset=".9686" stop-color="#7096c7"/><stop offset="1" stop-color="#6f96c7"/></linearGradient><linearGradient id="gf119"><stop offset="0" stop-color="#4778b9"/><stop offset=".0923" stop-color="#6b92c5"/><stop offset=".3044" stop-color="#c8d6e8"/><stop offset=".369" stop-color="#fefefe"/><stop offset=".4613" stop-color="#e3d1e0"/><stop offset=".5535" stop-color="#be93b5"/><stop offset=".572" stop-color="#b17da6"/><stop offset=".6827" stop-color="#ad77a1"/><stop offset=".7288" stop-color="#b787ac"/><stop offset=".7565" stop-color="#c6a0be"/><stop offset=".7841" stop-color="#e0ccdc"/><stop offset=".8026" stop-color="#f8f4f7"/><stop offset=".8118" stop-color="#f3f5f8"/><stop offset=".821" stop-color="#cedbea"/><stop offset=".8395" stop-color="#aac1dd"/><stop offset=".8764" stop-color="#85a4cf"/><stop offset=".9317" stop-color="#7398c8"/><stop offset="1" stop-color="#6f96c7"/></linearGradient><linearGradient id="gf120"><stop offset="0" stop-color="#4778b9"/><stop offset=".0923" stop-color="#6b92c5"/><stop offset=".3137" stop-color="#c9d7e8"/><stop offset=".3782" stop-color="#fefefe"/><stop offset=".4613" stop-color="#e7d7e3"/><stop offset=".5535" stop-color="#c198b8"/><stop offset=".572" stop-color="#b483aa"/><stop offset=".6827" stop-color="#b07ca5"/><stop offset=".7288" stop-color="#ba8cb0"/><stop offset=".7565" stop-color="#c9a4c1"/><stop offset=".7841" stop-color="#e3d0df"/><stop offset=".8026" stop-color="#faf7f9"/><stop offset=".8118" stop-color="#eff1f6"/><stop offset=".821" stop-color="#cad8e9"/><stop offset=".8395" stop-color="#a9c0dd"/><stop offset=".8764" stop-color="#85a4cf"/><stop offset=".9317" stop-color="#7398c8"/><stop offset="1" stop-color="#7096c7"/></linearGradient><linearGradient id="gf121"><stop offset="0" stop-color="#4878b9"/><stop offset=".0923" stop-color="#6a92c5"/><stop offset=".3137" stop-color="#c5d4e7"/><stop offset=".3875" stop-color="#fefefe"/><stop offset=".4613" stop-color="#eadce7"/><stop offset=".5535" stop-color="#c49dbc"/><stop offset=".572" stop-color="#b888ae"/><stop offset=".6827" stop-color="#b381a8"/><stop offset=".7288" stop-color="#bd90b3"/><stop offset=".7565" stop-color="#cca9c4"/><stop offset=".7841" stop-color="#e5d4e2"/><stop offset=".8026" stop-color="#fcfafb"/><stop offset=".8118" stop-color="#eaeef3"/><stop offset=".821" stop-color="#c8d7e8"/><stop offset=".8395" stop-color="#a9bfdc"/><stop offset=".8764" stop-color="#85a4cf"/><stop offset=".9317" stop-color="#7398c8"/><stop offset="1" stop-color="#7096c7"/></linearGradient><linearGradient id="gf122"><stop offset="0" stop-color="#4879b9"/><stop offset=".0923" stop-color="#6a92c5"/><stop offset=".3229" stop-color="#c6d5e7"/><stop offset=".3967" stop-color="#fefefe"/><stop offset=".4613" stop-color="#ede1ea"/><stop offset=".5535" stop-color="#c8a2c0"/><stop offset=".572" stop-color="#bb8eb1"/><stop offset=".6827" stop-color="#b686ac"/><stop offset=".7288" stop-color="#c095b7"/><stop offset=".7565" stop-color="#ceaec8"/><stop offset=".7841" stop-color="#e8d9e4"/><stop offset=".8026" stop-color="#fefefe"/><stop offset=".821" stop-color="#c6d5e8"/><stop offset=".8395" stop-color="#a8bfdc"/><stop offset=".8764" stop-color="#85a4cf"/><stop offset=".9317" stop-color="#7398c8"/><stop offset="1" stop-color="#7096c7"/></linearGradient><linearGradient id="gf123"><stop offset="0" stop-color="#4879b9"/><stop offset=".0923" stop-color="#6a92c5"/><stop offset=".3321" stop-color="#c6d5e7"/><stop offset=".4059" stop-color="#fdfdfe"/><stop offset=".4428" stop-color="#f7f1f5"/><stop offset=".5535" stop-color="#cba9c4"/><stop offset=".572" stop-color="#bf94b5"/><stop offset=".6827" stop-color="#ba8cb0"/><stop offset=".7288" stop-color="#c39aba"/><stop offset=".7565" stop-color="#d1b3cb"/><stop offset=".7841" stop-color="#eadde7"/><stop offset=".8026" stop-color="#fefefe"/><stop offset=".821" stop-color="#c4d4e7"/><stop offset=".8395" stop-color="#a7bedc"/><stop offset=".8764" stop-color="#84a4cf"/><stop offset=".9317" stop-color="#7398c8"/><stop offset="1" stop-color="#7096c7"/></linearGradient><linearGradient id="gf124"><stop offset="0" stop-color="#4979ba"/><stop offset=".0923" stop-color="#6a92c5"/><stop offset=".3413" stop-color="#c6d5e8"/><stop offset=".4151" stop-color="#fdfdfd"/><stop offset=".4336" stop-color="#fcfafb"/><stop offset=".5443" stop-color="#d3b7ce"/><stop offset=".572" stop-color="#c299b9"/><stop offset=".6827" stop-color="#bd91b4"/><stop offset=".7288" stop-color="#c69fbd"/><stop offset=".7657" stop-color="#dbc4d6"/><stop offset=".7934" stop-color="#f8f2f6"/><stop offset=".8026" stop-color="#fbfbfc"/><stop offset=".821" stop-color="#c2d2e6"/><stop offset=".8395" stop-color="#a6bddb"/><stop offset=".8764" stop-color="#84a4cf"/><stop offset=".9317" stop-color="#7398c8"/><stop offset="1" stop-color="#7096c7"/></linearGradient><linearGradient id="gf125"><stop offset="0" stop-color="#4979ba"/><stop offset=".0923" stop-color="#6a92c5"/><stop offset=".3413" stop-color="#c2d2e6"/><stop offset=".369" stop-color="#d2ddeb"/><stop offset=".4244" stop-color="#fcfcfd"/><stop offset=".4428" stop-color="#fdfbfc"/><stop offset=".5535" stop-color="#d2b5cc"/><stop offset=".572" stop-color="#c69fbd"/><stop offset=".6827" stop-color="#c097b7"/><stop offset=".7288" stop-color="#c9a4c1"/><stop offset=".7657" stop-color="#dec9da"/><stop offset=".7934" stop-color="#faf7f9"/><stop offset=".8026" stop-color="#f5f7f9"/><stop offset=".8118" stop-color="#d6e0ed"/><stop offset=".8303" stop-color="#b0c5df"/><stop offset=".8672" stop-color="#8aa8d1"/><stop offset=".9133" stop-color="#769aca"/><stop offset="1" stop-color="#7096c7"/></linearGradient><linearGradient id="gf126"><stop offset="0" stop-color="#4a7aba"/><stop offset=".0923" stop-color="#6992c5"/><stop offset=".3506" stop-color="#c2d2e6"/><stop offset=".3875" stop-color="#d8e2ed"/><stop offset=".4428" stop-color="#fefefe"/><stop offset=".4797" stop-color="#f3ebf1"/><stop offset=".5535" stop-color="#d6bbd1"/><stop offset=".572" stop-color="#c9a5c1"/><stop offset=".655" stop-color="#c39bbb"/><stop offset=".7103" stop-color="#c7a1bf"/><stop offset=".7472" stop-color="#d5b9cf"/><stop offset=".7749" stop-color="#e9dbe6"/><stop offset=".7934" stop-color="#fcfbfc"/><stop offset=".8026" stop-color="#eff2f6"/><stop offset=".8118" stop-color="#d0dceb"/><stop offset=".8303" stop-color="#aec4de"/><stop offset=".8672" stop-color="#89a8d1"/><stop offset=".9225" stop-color="#7499c9"/><stop offset="1" stop-color="#7096c7"/></linearGradient><linearGradient id="gf127"><stop offset="0" stop-color="#4a7aba"/><stop offset=".0923" stop-color="#6991c5"/><stop offset=".3598" stop-color="#c2d2e6"/><stop offset=".3967" stop-color="#d7e1ed"/><stop offset=".452" stop-color="#fdfdfe"/><stop offset=".4705" stop-color="#faf7f9"/><stop offset=".5535" stop-color="#d9c1d5"/><stop offset=".572" stop-color="#cdacc6"/><stop offset=".6089" stop-color="#c9a4c1"/><stop offset=".7011" stop-color="#c9a4c1"/><stop offset=".738" stop-color="#d3b7ce"/><stop offset=".7657" stop-color="#e4d3e1"/><stop offset=".7934" stop-color="#ffffff"/><stop offset=".8026" stop-color="#e9edf2"/><stop offset=".8118" stop-color="#cbd8e9"/><stop offset=".8395" stop-color="#a3bbda"/><stop offset=".8764" stop-color="#84a4cf"/><stop offset=".9317" stop-color="#7398c8"/><stop offset="1" stop-color="#7096c7"/></linearGradient><linearGradient id="gf128"><stop offset="0" stop-color="#4b7aba"/><stop offset=".0923" stop-color="#6991c5"/><stop offset=".3598" stop-color="#becfe4"/><stop offset=".4059" stop-color="#d6e0ec"/><stop offset=".4613" stop-color="#fcfcfd"/><stop offset=".4797" stop-color="#faf7f9"/><stop offset=".5535" stop-color="#ddc8d9"/><stop offset=".5812" stop-color="#ceadc7"/><stop offset=".6919" stop-color="#cba9c4"/><stop offset=".738" stop-color="#d7bdd2"/><stop offset=".7749" stop-color="#f0e5ed"/><stop offset=".7934" stop-color="#fcfcfd"/><stop offset=".8118" stop-color="#c7d6e8"/><stop offset=".8395" stop-color="#a2bada"/><stop offset=".8764" stop-color="#83a4cf"/><stop offset=".9317" stop-color="#7398c8"/><stop offset="1" stop-color="#7096c7"/></linearGradient><linearGradient id="gf129"><stop offset="0" stop-color="#4b7bba"/><stop offset=".1015" stop-color="#6b93c5"/><stop offset=".3782" stop-color="#c1d1e6"/><stop offset=".4244" stop-color="#dae3ee"/><stop offset=".4705" stop-color="#fcfcfd"/><stop offset=".4889" stop-color="#faf7f9"/><stop offset=".5535" stop-color="#e2cfde"/><stop offset=".5812" stop-color="#d1b3cb"/><stop offset=".6919" stop-color="#cfb0c9"/><stop offset=".738" stop-color="#dac2d6"/><stop offset=".7749" stop-color="#f3ebf1"/><stop offset=".7841" stop-color="#fbf9fa"/><stop offset=".7934" stop-color="#f7f7fa"/><stop offset=".8118" stop-color="#c4d4e7"/><stop offset=".8395" stop-color="#a0b9d9"/><stop offset=".8764" stop-color="#83a3ce"/><stop offset=".9317" stop-color="#7398c8"/><stop offset="1" stop-color="#7096c7"/></linearGradient><linearGradient id="gf130"><stop offset="0" stop-color="#4c7bbb"/><stop offset=".1015" stop-color="#6b93c5"/><stop offset=".3875" stop-color="#c0d1e5"/><stop offset=".4244" stop-color="#d1ddeb"/><stop offset=".4705" stop-color="#f5f6f9"/><stop offset=".4889" stop-color="#fefdfd"/><stop offset=".5535" stop-color="#e6d6e3"/><stop offset=".5812" stop-color="#d5bad0"/><stop offset=".6919" stop-color="#d3b6cd"/><stop offset=".738" stop-color="#dec9da"/><stop offset=".7749" stop-color="#f6f0f4"/><stop offset=".7841" stop-color="#fefdfe"/><stop offset=".7934" stop-color="#eff1f6"/><stop offset=".8026" stop-color="#d4dfec"/><stop offset=".821" stop-color="#b3c7e0"/><stop offset=".8672" stop-color="#88a7d0"/><stop offset=".9225" stop-color="#7499c9"/><stop offset="1" stop-color="#7196c7"/></linearGradient><linearGradient id="gf131"><stop offset="0" stop-color="#4c7cbb"/><stop offset=".1015" stop-color="#6b93c5"/><stop offset=".4059" stop-color="#c3d3e6"/><stop offset=".452" stop-color="#dbe3ee"/><stop offset=".4889" stop-color="#fcfcfd"/><stop offset=".5074" stop-color="#fbf8fa"/><stop offset=".5535" stop-color="#eadde7"/><stop offset=".5812" stop-color="#d9c0d4"/><stop offset=".6919" stop-color="#d7bdd2"/><stop offset=".7288" stop-color="#dec9da"/><stop offset=".7657" stop-color="#f2eaf0"/><stop offset=".7841" stop-color="#fdfdfd"/><stop offset=".8026" stop-color="#cddaea"/><stop offset=".8303" stop-color="#a7bedc"/><stop offset=".8764" stop-color="#83a3ce"/><stop offset=".941" stop-color="#7298c8"/><stop offset="1" stop-color="#7196c7"/></linearGradient><linearGradient id="gf132"><stop offset="0" stop-color="#4d7cbb"/><stop offset=".1015" stop-color="#6b92c5"/><stop offset=".4151" stop-color="#c1d2e6"/><stop offset=".4613" stop-color="#d8e1ed"/><stop offset=".4982" stop-color="#fcfcfd"/><stop offset=".5074" stop-color="#fffefe"/><stop offset=".5535" stop-color="#efe4ec"/><stop offset=".5812" stop-color="#ddc7d9"/><stop offset=".6919" stop-color="#dbc4d6"/><stop offset=".738" stop-color="#e6d6e3"/><stop offset=".7749" stop-color="#fdfbfc"/><stop offset=".7841" stop-color="#f6f7f9"/><stop offset=".8026" stop-color="#c8d7e8"/><stop offset=".8303" stop-color="#a5bddb"/><stop offset=".8764" stop-color="#82a3ce"/><stop offset=".941" stop-color="#7298c8"/><stop offset="1" stop-color="#7196c7"/></linearGradient><linearGradient id="gf133"><stop offset="0" stop-color="#4d7dbb"/><stop offset=".1015" stop-color="#6b92c5"/><stop offset=".4244" stop-color="#c0d1e5"/><stop offset=".4613" stop-color="#cedbea"/><stop offset=".5074" stop-color="#fbfbfc"/><stop offset=".5166" stop-color="#ffffff"/><stop offset=".5535" stop-color="#f3ebf1"/><stop offset=".5812" stop-color="#e1cfde"/><stop offset=".6919" stop-color="#dfcbdb"/><stop offset=".738" stop-color="#eadde7"/><stop offset=".7749" stop-color="#fefefe"/><stop offset=".8026" stop-color="#c4d4e7"/><stop offset=".8395" stop-color="#9bb5d7"/><stop offset=".8856" stop-color="#7ea0cc"/><stop offset=".9594" stop-color="#7197c8"/><stop offset="1" stop-color="#7196c7"/></linearGradient><linearGradient id="gf134"><stop offset="0" stop-color="#4e7dbb"/><stop offset=".1015" stop-color="#6a92c5"/><stop offset=".4336" stop-color="#becfe4"/><stop offset=".4705" stop-color="#ccd9ea"/><stop offset=".5258" stop-color="#fefefe"/><stop offset=".5535" stop-color="#f7f2f6"/><stop offset=".5812" stop-color="#e6d6e3"/><stop offset=".6919" stop-color="#e4d2e0"/><stop offset=".738" stop-color="#efe3ec"/><stop offset=".7657" stop-color="#fdfcfd"/><stop offset=".7749" stop-color="#f8f9fa"/><stop offset=".7934" stop-color="#cedbea"/><stop offset=".821" stop-color="#abc1dd"/><stop offset=".8672" stop-color="#86a5d0"/><stop offset=".9317" stop-color="#7398c8"/><stop offset="1" stop-color="#7196c7"/></linearGradient><linearGradient id="gf135"><stop offset="0" stop-color="#4f7ebc"/><stop offset=".1107" stop-color="#6c93c6"/><stop offset=".452" stop-color="#bfd0e5"/><stop offset=".4797" stop-color="#cbd8e9"/><stop offset=".5351" stop-color="#fcfcfd"/><stop offset=".5535" stop-color="#fcfafb"/><stop offset=".5812" stop-color="#ebdde8"/><stop offset=".6919" stop-color="#e9dae5"/><stop offset=".738" stop-color="#f3ebf1"/><stop offset=".7657" stop-color="#fdfdfd"/><stop offset=".7934" stop-color="#c8d6e8"/><stop offset=".8303" stop-color="#a0b9d9"/><stop offset=".8764" stop-color="#81a2ce"/><stop offset=".941" stop-color="#7298c8"/><stop offset="1" stop-color="#7196c7"/></linearGradient><linearGradient id="gf136"><stop offset="0" stop-color="#4f7ebc"/><stop offset=".1107" stop-color="#6c93c6"/><stop offset=".4613" stop-color="#bdcfe4"/><stop offset=".4982" stop-color="#d1ddeb"/><stop offset=".5443" stop-color="#fafafc"/><stop offset=".5535" stop-color="#fefefe"/><stop offset=".5812" stop-color="#f0e5ed"/><stop offset=".6919" stop-color="#ede1ea"/><stop offset=".738" stop-color="#f7f2f6"/><stop offset=".7565" stop-color="#ffffff"/><stop offset=".7749" stop-color="#e4e9f1"/><stop offset=".7934" stop-color="#c3d3e6"/><stop offset=".8395" stop-color="#97b2d6"/><stop offset=".8856" stop-color="#7d9fcc"/><stop offset=".9594" stop-color="#7197c8"/><stop offset="1" stop-color="#7196c7"/></linearGradient><linearGradient id="gf137"><stop offset="0" stop-color="#507fbc"/><stop offset=".1107" stop-color="#6c93c6"/><stop offset=".4705" stop-color="#bbcde3"/><stop offset=".5074" stop-color="#cedbea"/><stop offset=".5627" stop-color="#ffffff"/><stop offset=".5812" stop-color="#f4edf2"/><stop offset=".6919" stop-color="#f2e9f0"/><stop offset=".738" stop-color="#fcfafb"/><stop offset=".7472" stop-color="#ffffff"/><stop offset=".7657" stop-color="#eaedf3"/><stop offset=".7841" stop-color="#c9d7e9"/><stop offset=".8395" stop-color="#96b1d5"/><stop offset=".8948" stop-color="#7a9dcb"/><stop offset=".9963" stop-color="#7196c7"/><stop offset="1" stop-color="#7196c7"/></linearGradient><linearGradient id="gf138"><stop offset="0" stop-color="#517fbc"/><stop offset=".1107" stop-color="#6c93c6"/><stop offset=".4705" stop-color="#b6c9e1"/><stop offset=".5258" stop-color="#d2deec"/><stop offset=".5535" stop-color="#eaedf3"/><stop offset=".5627" stop-color="#f8f8fa"/><stop offset=".572" stop-color="#fefdfe"/><stop offset=".5812" stop-color="#f9f5f8"/><stop offset=".6919" stop-color="#f7f2f5"/><stop offset=".738" stop-color="#fefefe"/><stop offset=".7565" stop-color="#eceff4"/><stop offset=".7841" stop-color="#c4d3e7"/><stop offset=".8395" stop-color="#94b0d5"/><stop offset=".8948" stop-color="#7a9dcb"/><stop offset="1" stop-color="#7196c7"/></linearGradient><linearGradient id="gf139"><stop offset="0" stop-color="#5280bd"/><stop offset=".1199" stop-color="#6d94c6"/><stop offset=".4797" stop-color="#b5c9e1"/><stop offset=".5351" stop-color="#cedbea"/><stop offset=".5535" stop-color="#dde4ef"/><stop offset=".572" stop-color="#fafafb"/><stop offset=".6089" stop-color="#fdfcfc"/><stop offset=".7011" stop-color="#fdfbfc"/><stop offset=".7288" stop-color="#fcfcfd"/><stop offset=".7565" stop-color="#e0e7f0"/><stop offset=".7841" stop-color="#bfd0e5"/><stop offset=".8579" stop-color="#87a6d0"/><stop offset=".9225" stop-color="#7499c9"/><stop offset="1" stop-color="#7196c7"/></linearGradient><linearGradient id="gf140"><stop offset="0" stop-color="#5280bd"/><stop offset=".1199" stop-color="#6d94c6"/><stop offset=".4889" stop-color="#b5c9e1"/><stop offset=".5535" stop-color="#d4deec"/><stop offset=".5812" stop-color="#fcfcfd"/><stop offset=".7103" stop-color="#fcfcfd"/><stop offset=".738" stop-color="#ebeff4"/><stop offset=".7749" stop-color="#c3d3e6"/><stop offset=".8487" stop-color="#8ca9d2"/><stop offset=".9133" stop-color="#759ac9"/><stop offset="1" stop-color="#7196c7"/></linearGradient><linearGradient id="gf141"><stop offset="0" stop-color="#5381bd"/><stop offset=".1199" stop-color="#6d94c6"/><stop offset=".4889" stop-color="#b2c6e0"/><stop offset=".5535" stop-color="#cbd9e9"/><stop offset=".5812" stop-color="#f3f5f8"/><stop offset=".6827" stop-color="#fafafc"/><stop offset=".7288" stop-color="#e9edf3"/><stop offset=".8026" stop-color="#a9c0dd"/><stop offset=".8672" stop-color="#82a3ce"/><stop offset=".941" stop-color="#7298c8"/><stop offset="1" stop-color="#7196c7"/></linearGradient><linearGradient id="gf142"><stop offset="0" stop-color="#5482bd"/><stop offset=".1199" stop-color="#6d94c6"/><stop offset=".4982" stop-color="#b2c7e0"/><stop offset=".5535" stop-color="#c6d5e8"/><stop offset=".5812" stop-color="#eaedf3"/><stop offset=".6827" stop-color="#f0f2f6"/><stop offset=".7288" stop-color="#e0e6ef"/><stop offset=".821" stop-color="#9bb5d7"/><stop offset=".8764" stop-color="#7ea0cd"/><stop offset=".9594" stop-color="#7197c8"/><stop offset="1" stop-color="#7196c7"/></linearGradient><linearGradient id="gf143"><stop offset="0" stop-color="#5582be"/><stop offset=".1199" stop-color="#6d94c6"/><stop offset=".4982" stop-color="#afc4df"/><stop offset=".5627" stop-color="#c9d7e9"/><stop offset=".5812" stop-color="#dfe6ef"/><stop offset=".6827" stop-color="#e6ebf1"/><stop offset=".7288" stop-color="#d6e0ed"/><stop offset=".8579" stop-color="#85a5cf"/><stop offset=".9317" stop-color="#7398c8"/><stop offset="1" stop-color="#7196c7"/></linearGradient><linearGradient id="gf144"><stop offset="0" stop-color="#5683be"/><stop offset=".1845" stop-color="#799ccb"/><stop offset=".5074" stop-color="#afc4df"/><stop offset=".5627" stop-color="#c5d4e7"/><stop offset=".5812" stop-color="#d5e0ec"/><stop offset=".6827" stop-color="#dce4ee"/><stop offset=".7288" stop-color="#ccdaea"/><stop offset=".8672" stop-color="#81a2ce"/><stop offset=".9502" stop-color="#7297c8"/><stop offset="1" stop-color="#7196c7"/></linearGradient><linearGradient id="gf145"><stop offset="0" stop-color="#5784be"/><stop offset=".2122" stop-color="#7e9fcc"/><stop offset=".5074" stop-color="#adc3de"/><stop offset=".5627" stop-color="#c2d2e6"/><stop offset=".5904" stop-color="#cfdbea"/><stop offset=".6827" stop-color="#d4deec"/><stop offset=".7565" stop-color="#bccee3"/><stop offset=".8672" stop-color="#81a2cd"/><stop offset=".9502" stop-color="#7297c8"/><stop offset="1" stop-color="#7196c7"/></linearGradient><linearGradient id="gf146"><stop offset="0" stop-color="#5884bf"/><stop offset=".2399" stop-color="#82a2ce"/><stop offset=".5074" stop-color="#abc1dd"/><stop offset=".5627" stop-color="#bed0e5"/><stop offset=".5904" stop-color="#c8d7e8"/><stop offset=".6919" stop-color="#cbd8e9"/><stop offset=".7565" stop-color="#b8cbe2"/><stop offset=".8672" stop-color="#80a1cd"/><stop offset=".9502" stop-color="#7297c8"/><stop offset="1" stop-color="#7196c7"/></linearGradient><linearGradient id="gf147"><stop offset="0" stop-color="#5985bf"/><stop offset=".2583" stop-color="#84a4cf"/><stop offset=".5074" stop-color="#a9c0dc"/><stop offset=".5535" stop-color="#b5c9e1"/><stop offset=".5812" stop-color="#c4d4e7"/><stop offset=".7103" stop-color="#c4d4e7"/><stop offset=".7841" stop-color="#a8bfdc"/><stop offset=".8764" stop-color="#7d9fcc"/><stop offset=".9686" stop-color="#7197c8"/><stop offset="1" stop-color="#7196c7"/></linearGradient><linearGradient id="gf148"><stop offset="0" stop-color="#5a86bf"/><stop offset=".2675" stop-color="#85a4cf"/><stop offset=".5166" stop-color="#a9c0dc"/><stop offset=".5627" stop-color="#b8cbe2"/><stop offset=".5904" stop-color="#c0d1e5"/><stop offset=".7103" stop-color="#c0d1e5"/><stop offset=".7934" stop-color="#a1bada"/><stop offset=".8764" stop-color="#7d9fcc"/><stop offset=".9686" stop-color="#7197c8"/><stop offset="1" stop-color="#7196c7"/></linearGradient><linearGradient id="gf149"><stop offset="0" stop-color="#5a86c0"/><stop offset=".286" stop-color="#86a5d0"/><stop offset=".5166" stop-color="#a7bedc"/><stop offset=".5627" stop-color="#b4c8e1"/><stop offset=".5996" stop-color="#bdcee4"/><stop offset=".7103" stop-color="#bccee4"/><stop offset=".8026" stop-color="#9bb5d7"/><stop offset=".8856" stop-color="#7a9dcb"/><stop offset="1" stop-color="#7196c7"/></linearGradient><linearGradient id="gf150"><stop offset="0" stop-color="#5b87c0"/><stop offset=".3044" stop-color="#88a6d0"/><stop offset=".5258" stop-color="#a7bedc"/><stop offset=".5904" stop-color="#b8cbe2"/><stop offset=".7103" stop-color="#b8cbe2"/><stop offset=".8026" stop-color="#9ab4d7"/><stop offset=".8856" stop-color="#7a9dcb"/><stop offset="1" stop-color="#7196c7"/></linearGradient><linearGradient id="gf151"><stop offset="0" stop-color="#5c88c0"/><stop offset=".3044" stop-color="#87a6d0"/><stop offset=".5258" stop-color="#a4bcdb"/><stop offset=".5904" stop-color="#b4c8e1"/><stop offset=".7196" stop-color="#b2c7e0"/><stop offset=".8026" stop-color="#98b3d6"/><stop offset=".8948" stop-color="#789bca"/><stop offset="1" stop-color="#7196c7"/></linearGradient><linearGradient id="gf152"><stop offset="0" stop-color="#5d88c1"/><stop offset=".3044" stop-color="#86a5d0"/><stop offset=".5258" stop-color="#a2bada"/><stop offset=".5904" stop-color="#b0c5df"/><stop offset=".7196" stop-color="#afc4df"/><stop offset=".8026" stop-color="#96b1d6"/><stop offset=".8948" stop-color="#789bca"/><stop offset="1" stop-color="#7196c7"/></linearGradient><linearGradient id="gf153"><stop offset="0" stop-color="#5e89c1"/><stop offset=".2952" stop-color="#85a4cf"/><stop offset=".5258" stop-color="#a0b9d9"/><stop offset=".5904" stop-color="#adc3de"/><stop offset=".7288" stop-color="#abc1dd"/><stop offset=".821" stop-color="#8daad2"/><stop offset=".9133" stop-color="#7599c9"/><stop offset="1" stop-color="#7196c7"/></linearGradient><linearGradient id="gf154"><stop offset="0" stop-color="#5f89c1"/><stop offset=".2952" stop-color="#84a4cf"/><stop offset=".5351" stop-color="#9fb8d9"/><stop offset=".5904" stop-color="#aac0dd"/><stop offset=".7288" stop-color="#a8bfdc"/><stop offset=".9041" stop-color="#769ac9"/><stop offset="1" stop-color="#7196c7"/></linearGradient><linearGradient id="gf155"><stop offset="0" stop-color="#608bc2"/><stop offset=".2952" stop-color="#82a3ce"/><stop offset=".5351" stop-color="#9bb5d7"/><stop offset=".5904" stop-color="#a5bcdb"/><stop offset=".738" stop-color="#a2bada"/><stop offset=".9041" stop-color="#759ac9"/><stop offset="1" stop-color="#7096c7"/></linearGradient><linearGradient id="gf156"><stop offset="0" stop-color="#618bc2"/><stop offset=".2952" stop-color="#81a2ce"/><stop offset=".5258" stop-color="#97b2d6"/><stop offset=".5904" stop-color="#a2bada"/><stop offset=".738" stop-color="#9fb8d9"/><stop offset=".9041" stop-color="#759ac9"/><stop offset="1" stop-color="#7096c7"/></linearGradient><linearGradient id="gf157"><stop offset="0" stop-color="#628cc2"/><stop offset=".286" stop-color="#7fa1cd"/><stop offset=".5258" stop-color="#93afd4"/><stop offset=".5996" stop-color="#9eb7d8"/><stop offset=".738" stop-color="#9cb6d8"/><stop offset=".9133" stop-color="#7399c9"/><stop offset="1" stop-color="#7096c7"/></linearGradient><linearGradient id="gf158"><stop offset="0" stop-color="#628cc2"/><stop offset=".286" stop-color="#7d9fcc"/><stop offset=".5351" stop-color="#90add3"/><stop offset=".5996" stop-color="#9ab4d7"/><stop offset=".7472" stop-color="#97b2d6"/><stop offset=".9133" stop-color="#7398c8"/><stop offset="1" stop-color="#7096c7"/></linearGradient><linearGradient id="gf159"><stop offset="0" stop-color="#638cc2"/><stop offset=".2768" stop-color="#7a9dcb"/><stop offset=".5351" stop-color="#8ba9d1"/><stop offset=".6089" stop-color="#94b0d5"/><stop offset=".7472" stop-color="#93afd4"/><stop offset=".9225" stop-color="#7197c8"/><stop offset="1" stop-color="#7096c7"/></linearGradient><linearGradient id="gf160"><stop offset="0" stop-color="#638dc3"/><stop offset=".2675" stop-color="#779bca"/><stop offset=".5351" stop-color="#86a5cf"/><stop offset=".6273" stop-color="#8facd3"/><stop offset=".7565" stop-color="#8daad2"/><stop offset=".9225" stop-color="#7197c7"/><stop offset="1" stop-color="#6f96c7"/></linearGradient><linearGradient id="gf161"><stop offset="0" stop-color="#638dc3"/><stop offset=".2491" stop-color="#7499c9"/><stop offset=".5166" stop-color="#7ea0cc"/><stop offset=".655" stop-color="#8aa8d1"/><stop offset=".7749" stop-color="#86a5d0"/><stop offset=".9317" stop-color="#6f96c7"/><stop offset="1" stop-color="#6f95c7"/></linearGradient><linearGradient id="gf162"><stop offset="0" stop-color="#648dc3"/><stop offset=".2399" stop-color="#7197c8"/><stop offset=".5074" stop-color="#779bca"/><stop offset=".6827" stop-color="#85a5cf"/><stop offset=".8026" stop-color="#7ea0cd"/><stop offset=".941" stop-color="#6e95c7"/><stop offset="1" stop-color="#6e95c7"/></linearGradient><linearGradient id="gf163"><stop offset="0" stop-color="#648ec3"/><stop offset=".2306" stop-color="#6e95c7"/><stop offset=".4982" stop-color="#7096c7"/><stop offset=".7103" stop-color="#81a2ce"/><stop offset=".8395" stop-color="#769ac9"/><stop offset=".9779" stop-color="#6d94c6"/><stop offset="1" stop-color="#6e95c6"/></linearGradient><linearGradient id="gf164"><stop offset="0" stop-color="#658ec3"/><stop offset=".2306" stop-color="#6c93c6"/><stop offset=".4982" stop-color="#6c93c6"/><stop offset=".738" stop-color="#7d9fcc"/><stop offset=".9594" stop-color="#6d94c6"/><stop offset="1" stop-color="#6d94c6"/></linearGradient><linearGradient id="gf165"><stop offset="0" stop-color="#658ec3"/><stop offset=".2306" stop-color="#6b93c5"/><stop offset=".4889" stop-color="#6991c5"/><stop offset=".7565" stop-color="#7b9dcb"/><stop offset=".9594" stop-color="#6c94c6"/><stop offset="1" stop-color="#6d94c6"/></linearGradient><linearGradient id="gf166"><stop offset="0" stop-color="#7096c7"/><stop offset=".1578" stop-color="#799ccb"/><stop offset=".2498" stop-color="#7fa1cd"/><stop offset=".4032" stop-color="#7197c8"/><stop offset=".6617" stop-color="#779bca"/><stop offset=".745" stop-color="#81a2cd"/><stop offset=".9553" stop-color="#648dc3"/><stop offset="1" stop-color="#6790c4"/></linearGradient><linearGradient id="gf167"><stop offset="0" stop-color="#7096c7"/><stop offset=".1578" stop-color="#799cca"/><stop offset=".2498" stop-color="#7fa1cd"/><stop offset=".4032" stop-color="#7197c8"/><stop offset=".6529" stop-color="#789bca"/><stop offset=".7406" stop-color="#85a4cf"/><stop offset=".9465" stop-color="#648ec3"/><stop offset="1" stop-color="#6790c4"/></linearGradient><linearGradient id="gf168"><stop offset="0" stop-color="#7096c7"/><stop offset=".1578" stop-color="#799cca"/><stop offset=".2498" stop-color="#7fa0cd"/><stop offset=".4075" stop-color="#7197c7"/><stop offset=".6442" stop-color="#789bca"/><stop offset=".7406" stop-color="#88a7d0"/><stop offset=".9202" stop-color="#668fc4"/><stop offset="1" stop-color="#6790c4"/></linearGradient><linearGradient id="gf169"><stop offset="0" stop-color="#7096c7"/><stop offset=".1578" stop-color="#789cca"/><stop offset=".2498" stop-color="#7fa0cd"/><stop offset=".4075" stop-color="#7197c7"/><stop offset=".6398" stop-color="#789cca"/><stop offset=".7362" stop-color="#8daad2"/><stop offset=".8983" stop-color="#6991c5"/><stop offset=".9947" stop-color="#668fc4"/><stop offset="1" stop-color="#6790c4"/></linearGradient><linearGradient id="gf170"><stop offset="0" stop-color="#7096c7"/><stop offset=".1578" stop-color="#789cca"/><stop offset=".2542" stop-color="#7ea0cd"/><stop offset=".4075" stop-color="#7197c7"/><stop offset=".631" stop-color="#789bca"/><stop offset=".7362" stop-color="#91aed4"/><stop offset=".8677" stop-color="#6f95c7"/><stop offset=".9728" stop-color="#658ec3"/><stop offset="1" stop-color="#6790c4"/></linearGradient><linearGradient id="gf171"><stop offset="0" stop-color="#7096c7"/><stop offset=".1578" stop-color="#789cca"/><stop offset=".2542" stop-color="#7ea0cd"/><stop offset=".4075" stop-color="#7197c7"/><stop offset=".6266" stop-color="#789cca"/><stop offset=".7011" stop-color="#8eabd3"/><stop offset=".7406" stop-color="#95b0d5"/><stop offset=".8457" stop-color="#7398c8"/><stop offset=".9597" stop-color="#648ec3"/><stop offset="1" stop-color="#6790c4"/></linearGradient><linearGradient id="gf172"><stop offset="0" stop-color="#7096c7"/><stop offset=".1578" stop-color="#789cca"/><stop offset=".2542" stop-color="#7ea0cd"/><stop offset=".4075" stop-color="#7197c7"/><stop offset=".6223" stop-color="#789cca"/><stop offset=".6924" stop-color="#8daad2"/><stop offset=".7362" stop-color="#99b4d7"/><stop offset=".8457" stop-color="#7499c9"/><stop offset=".9597" stop-color="#648ec3"/><stop offset="1" stop-color="#6790c4"/></linearGradient><linearGradient id="gf173"><stop offset="0" stop-color="#7096c7"/><stop offset=".1621" stop-color="#799ccb"/><stop offset=".2542" stop-color="#7ea0cc"/><stop offset=".4119" stop-color="#7197c7"/><stop offset=".6223" stop-color="#789cca"/><stop offset=".688" stop-color="#8caad2"/><stop offset=".7318" stop-color="#9cb6d8"/><stop offset=".78" stop-color="#8aa8d1"/><stop offset=".872" stop-color="#6f95c7"/><stop offset=".9728" stop-color="#658ec3"/><stop offset="1" stop-color="#6790c4"/></linearGradient><linearGradient id="gf174"><stop offset="0" stop-color="#7096c7"/><stop offset=".1621" stop-color="#799cca"/><stop offset=".2585" stop-color="#7d9fcc"/><stop offset=".4119" stop-color="#7197c7"/><stop offset=".6179" stop-color="#789cca"/><stop offset=".6836" stop-color="#8ca9d2"/><stop offset=".7274" stop-color="#9eb8d8"/><stop offset=".7669" stop-color="#93afd4"/><stop offset=".837" stop-color="#779bca"/><stop offset=".9553" stop-color="#648ec3"/><stop offset="1" stop-color="#6790c4"/></linearGradient><linearGradient id="gf175"><stop offset="0" stop-color="#7096c7"/><stop offset=".1621" stop-color="#789cca"/><stop offset=".2585" stop-color="#7d9fcc"/><stop offset=".4163" stop-color="#7197c7"/><stop offset=".6179" stop-color="#799cca"/><stop offset=".6836" stop-color="#8daad2"/><stop offset=".7274" stop-color="#a1b9d9"/><stop offset=".7625" stop-color="#97b2d6"/><stop offset=".8282" stop-color="#799dcb"/><stop offset=".9509" stop-color="#648ec3"/><stop offset="1" stop-color="#6790c4"/></linearGradient><linearGradient id="gf176"><stop offset="0" stop-color="#7096c7"/><stop offset=".1665" stop-color="#799ccb"/><stop offset=".2629" stop-color="#7c9ecc"/><stop offset=".4207" stop-color="#7196c7"/><stop offset=".6135" stop-color="#789cca"/><stop offset=".6792" stop-color="#8caad2"/><stop offset=".7274" stop-color="#a3bbda"/><stop offset=".7625" stop-color="#99b4d7"/><stop offset=".8238" stop-color="#7b9ecb"/><stop offset=".9465" stop-color="#658ec3"/><stop offset="1" stop-color="#6790c4"/></linearGradient><linearGradient id="gf177"><stop offset="0" stop-color="#7096c7"/><stop offset=".1665" stop-color="#799cca"/><stop offset=".2629" stop-color="#7c9ecc"/><stop offset=".4207" stop-color="#7196c7"/><stop offset=".6135" stop-color="#799cca"/><stop offset=".6748" stop-color="#8ba9d1"/><stop offset=".723" stop-color="#a5bddb"/><stop offset=".7537" stop-color="#a0b9d9"/><stop offset=".8195" stop-color="#7d9fcc"/><stop offset=".9422" stop-color="#658ec3"/><stop offset="1" stop-color="#6790c4"/></linearGradient><linearGradient id="gf178"><stop offset="0" stop-color="#7096c7"/><stop offset=".1665" stop-color="#789cca"/><stop offset=".2629" stop-color="#7c9ecc"/><stop offset=".4251" stop-color="#7196c7"/><stop offset=".6135" stop-color="#799ccb"/><stop offset=".6748" stop-color="#8caad2"/><stop offset=".723" stop-color="#a7bedc"/><stop offset=".7537" stop-color="#a2bada"/><stop offset=".8151" stop-color="#80a1cd"/><stop offset=".9378" stop-color="#6891c4"/><stop offset="1" stop-color="#6992c5"/></linearGradient><linearGradient id="gf179"><stop offset="0" stop-color="#7096c7"/><stop offset=".1709" stop-color="#799ccb"/><stop offset=".2673" stop-color="#7b9ecb"/><stop offset=".4294" stop-color="#7196c7"/><stop offset=".6135" stop-color="#799ccb"/><stop offset=".6748" stop-color="#8daad2"/><stop offset=".723" stop-color="#a9c0dc"/><stop offset=".7537" stop-color="#a4bcda"/><stop offset=".8151" stop-color="#80a1cd"/><stop offset=".9378" stop-color="#6b93c5"/><stop offset="1" stop-color="#6c93c6"/></linearGradient><linearGradient id="gf180"><stop offset="0" stop-color="#7096c7"/><stop offset=".1709" stop-color="#799ccb"/><stop offset=".2673" stop-color="#7b9ecb"/><stop offset=".4294" stop-color="#7196c7"/><stop offset=".6091" stop-color="#799ccb"/><stop offset=".6705" stop-color="#8ba9d1"/><stop offset=".723" stop-color="#abc1dd"/><stop offset=".7537" stop-color="#a6bddb"/><stop offset=".8151" stop-color="#81a2ce"/><stop offset=".929" stop-color="#6f95c7"/><stop offset="1" stop-color="#6e95c6"/></linearGradient><linearGradient id="gf181"><stop offset="0" stop-color="#7096c7"/><stop offset=".184" stop-color="#799ccb"/><stop offset=".2892" stop-color="#779bca"/><stop offset=".4864" stop-color="#7197c8"/><stop offset=".631" stop-color="#7d9fcc"/><stop offset=".6792" stop-color="#91aed4"/><stop offset=".723" stop-color="#acc2dd"/><stop offset=".7537" stop-color="#a6bedb"/><stop offset=".8151" stop-color="#82a2ce"/><stop offset=".9246" stop-color="#7297c8"/><stop offset="1" stop-color="#7096c7"/></linearGradient><linearGradient id="gf182"><stop offset="0" stop-color="#7096c7"/><stop offset=".2717" stop-color="#779bca"/><stop offset=".4952" stop-color="#7197c8"/><stop offset=".631" stop-color="#7d9fcc"/><stop offset=".6792" stop-color="#92aed4"/><stop offset=".723" stop-color="#adc2de"/><stop offset=".7537" stop-color="#a7bedc"/><stop offset=".8151" stop-color="#82a3ce"/><stop offset=".9246" stop-color="#7298c8"/><stop offset="1" stop-color="#7197c7"/></linearGradient><linearGradient id="gf183"><stop offset="0" stop-color="#7096c7"/><stop offset=".2936" stop-color="#7499c9"/><stop offset=".5653" stop-color="#7499c9"/><stop offset=".6529" stop-color="#84a4cf"/><stop offset=".723" stop-color="#adc3de"/><stop offset=".7537" stop-color="#a8bfdc"/><stop offset=".8151" stop-color="#82a3ce"/><stop offset=".9202" stop-color="#7398c8"/><stop offset="1" stop-color="#7197c7"/></linearGradient><linearGradient id="gf184"><stop offset="0" stop-color="#7096c7"/><stop offset=".5741" stop-color="#759ac9"/><stop offset=".6573" stop-color="#86a5d0"/><stop offset=".723" stop-color="#aec4de"/><stop offset=".7537" stop-color="#a9c0dc"/><stop offset=".8151" stop-color="#83a3ce"/><stop offset=".9202" stop-color="#7398c8"/><stop offset="1" stop-color="#7197c7"/></linearGradient><linearGradient id="gf185"><stop offset="0" stop-color="#7096c7"/><stop offset=".5741" stop-color="#759ac9"/><stop offset=".6573" stop-color="#86a6d0"/><stop offset=".723" stop-color="#afc4df"/><stop offset=".7537" stop-color="#aac0dd"/><stop offset=".8151" stop-color="#83a3ce"/><stop offset=".9202" stop-color="#7398c8"/><stop offset="1" stop-color="#7197c7"/></linearGradient><linearGradient id="gf186"><stop offset="0" stop-color="#6f96c7"/><stop offset=".5741" stop-color="#759ac9"/><stop offset=".6573" stop-color="#87a6d0"/><stop offset=".723" stop-color="#b1c6df"/><stop offset=".7493" stop-color="#adc3de"/><stop offset=".8151" stop-color="#83a3ce"/><stop offset=".9159" stop-color="#7398c8"/><stop offset="1" stop-color="#7197c7"/></linearGradient><linearGradient id="gf187"><stop offset="0" stop-color="#6f95c7"/><stop offset=".1052" stop-color="#6d94c6"/><stop offset=".5828" stop-color="#769aca"/><stop offset=".6573" stop-color="#87a6d0"/><stop offset=".7274" stop-color="#b4c8e1"/><stop offset=".7581" stop-color="#a9c0dd"/><stop offset=".8151" stop-color="#84a4cf"/><stop offset=".9159" stop-color="#7398c8"/><stop offset="1" stop-color="#7197c7"/></linearGradient><linearGradient id="gf188"><stop offset="0" stop-color="#6e95c6"/><stop offset=".0876" stop-color="#6a92c5"/><stop offset=".2454" stop-color="#7096c7"/><stop offset=".5784" stop-color="#769ac9"/><stop offset=".6573" stop-color="#87a6d0"/><stop offset=".7274" stop-color="#b5c8e1"/><stop offset=".7581" stop-color="#aac0dd"/><stop offset=".8151" stop-color="#84a4cf"/><stop offset=".9159" stop-color="#7398c8"/><stop offset="1" stop-color="#7197c7"/></linearGradient><linearGradient id="gf189"><stop offset="0" stop-color="#6d94c6"/><stop offset=".0789" stop-color="#668fc4"/><stop offset=".1972" stop-color="#7096c7"/><stop offset=".5741" stop-color="#759ac9"/><stop offset=".6573" stop-color="#87a6d0"/><stop offset=".7274" stop-color="#b5c8e1"/><stop offset=".7581" stop-color="#aac0dd"/><stop offset=".8151" stop-color="#84a4cf"/><stop offset=".9159" stop-color="#7398c8"/><stop offset="1" stop-color="#7197c7"/></linearGradient><linearGradient id="gf190"><stop offset="0" stop-color="#6c94c6"/><stop offset=".0745" stop-color="#638dc3"/><stop offset=".184" stop-color="#7096c7"/><stop offset=".5741" stop-color="#759ac9"/><stop offset=".6573" stop-color="#87a6d0"/><stop offset=".7274" stop-color="#b5c8e1"/><stop offset=".7581" stop-color="#aac0dd"/><stop offset=".8151" stop-color="#84a4cf"/><stop offset=".9159" stop-color="#7398c8"/><stop offset="1" stop-color="#7197c7"/></linearGradient><linearGradient id="gf191"><stop offset="0" stop-color="#6c93c6"/><stop offset=".0745" stop-color="#638dc3"/><stop offset=".1797" stop-color="#7096c7"/><stop offset=".5784" stop-color="#769ac9"/><stop offset=".6573" stop-color="#87a6d0"/><stop offset=".723" stop-color="#b1c6df"/><stop offset=".7493" stop-color="#adc3de"/><stop offset=".8151" stop-color="#83a3ce"/><stop offset=".9159" stop-color="#7398c8"/><stop offset="1" stop-color="#7197c7"/></linearGradient><linearGradient id="gf192"><stop offset="0" stop-color="#6c93c6"/><stop offset=".0745" stop-color="#638dc3"/><stop offset=".1797" stop-color="#7096c7"/><stop offset=".5784" stop-color="#759ac9"/><stop offset=".6573" stop-color="#86a5d0"/><stop offset=".723" stop-color="#afc4df"/><stop offset=".7537" stop-color="#a9c0dd"/><stop offset=".8151" stop-color="#83a3ce"/><stop offset=".9202" stop-color="#7398c8"/><stop offset="1" stop-color="#7197c7"/></linearGradient><linearGradient id="gf193"><stop offset="0" stop-color="#6c93c6"/><stop offset=".0745" stop-color="#638dc3"/><stop offset=".1797" stop-color="#7096c7"/><stop offset=".5784" stop-color="#759ac9"/><stop offset=".6573" stop-color="#85a5cf"/><stop offset=".723" stop-color="#acc2de"/><stop offset=".7537" stop-color="#a7bedc"/><stop offset=".8151" stop-color="#82a3ce"/><stop offset=".9246" stop-color="#7298c8"/><stop offset="1" stop-color="#7197c7"/></linearGradient><linearGradient id="gf194"><stop offset="0" stop-color="#6c93c6"/><stop offset=".0745" stop-color="#638dc3"/><stop offset=".1797" stop-color="#7096c7"/><stop offset=".5828" stop-color="#759ac9"/><stop offset=".6617" stop-color="#86a6d0"/><stop offset=".723" stop-color="#aac0dd"/><stop offset=".7537" stop-color="#a5bcdb"/><stop offset=".8151" stop-color="#81a2ce"/><stop offset=".929" stop-color="#7298c8"/><stop offset="1" stop-color="#7197c7"/></linearGradient><linearGradient id="gf195"><stop offset="0" stop-color="#6d94c6"/><stop offset=".0789" stop-color="#668fc4"/><stop offset=".1928" stop-color="#7096c7"/><stop offset=".5828" stop-color="#759ac9"/><stop offset=".6617" stop-color="#86a5cf"/><stop offset=".723" stop-color="#a8bfdc"/><stop offset=".7537" stop-color="#a3bbda"/><stop offset=".8151" stop-color="#81a2ce"/><stop offset=".929" stop-color="#7298c8"/><stop offset="1" stop-color="#7197c7"/></linearGradient><linearGradient id="gf196"><stop offset="0" stop-color="#6d94c6"/><stop offset=".0833" stop-color="#6790c4"/><stop offset=".206" stop-color="#7096c7"/><stop offset=".5872" stop-color="#759ac9"/><stop offset=".6661" stop-color="#86a6d0"/><stop offset=".7274" stop-color="#a5bddb"/><stop offset=".7625" stop-color="#9bb5d7"/><stop offset=".8195" stop-color="#7fa0cd"/><stop offset=".9509" stop-color="#7197c8"/><stop offset="1" stop-color="#7197c7"/></linearGradient><linearGradient id="gf197"><stop offset="0" stop-color="#6e95c6"/><stop offset=".0876" stop-color="#6991c5"/><stop offset=".2323" stop-color="#7096c7"/><stop offset=".5916" stop-color="#769ac9"/><stop offset=".6705" stop-color="#87a6d0"/><stop offset=".7274" stop-color="#a2bada"/><stop offset=".7625" stop-color="#98b3d6"/><stop offset=".8195" stop-color="#7ea0cc"/><stop offset=".9553" stop-color="#7197c8"/><stop offset="1" stop-color="#7197c7"/></linearGradient><linearGradient id="gf198"><stop offset="0" stop-color="#6e95c7"/><stop offset=".092" stop-color="#6b93c5"/><stop offset=".2805" stop-color="#7297c8"/><stop offset=".5916" stop-color="#759ac9"/><stop offset=".6705" stop-color="#86a5cf"/><stop offset=".7274" stop-color="#9eb8d9"/><stop offset=".7669" stop-color="#93afd4"/><stop offset=".8282" stop-color="#7b9ecb"/><stop offset=".9947" stop-color="#7197c7"/><stop offset="1" stop-color="#7197c7"/></linearGradient><linearGradient id="gf199"><stop offset="0" stop-color="#6e95c7"/><stop offset=".0964" stop-color="#6c94c6"/><stop offset=".2936" stop-color="#7499c9"/><stop offset=".5784" stop-color="#7499c9"/><stop offset=".6661" stop-color="#83a3ce"/><stop offset=".7274" stop-color="#9bb5d7"/><stop offset=".7669" stop-color="#90add3"/><stop offset=".8326" stop-color="#7a9dcb"/><stop offset="1" stop-color="#7197c7"/></linearGradient><linearGradient id="gf200"><stop offset="0" stop-color="#6f95c7"/><stop offset=".1052" stop-color="#6e95c7"/><stop offset=".2848" stop-color="#779bca"/><stop offset=".539" stop-color="#7297c8"/><stop offset=".6573" stop-color="#7fa0cd"/><stop offset=".7318" stop-color="#98b3d6"/><stop offset=".8414" stop-color="#789bca"/><stop offset="1" stop-color="#7196c7"/></linearGradient><linearGradient id="gf201"><stop offset="0" stop-color="#6f96c7"/><stop offset=".1183" stop-color="#7197c8"/><stop offset=".2805" stop-color="#7a9dcb"/><stop offset=".4952" stop-color="#7197c8"/><stop offset=".6486" stop-color="#7b9ecc"/><stop offset=".7318" stop-color="#94b0d5"/><stop offset=".8457" stop-color="#779bca"/><stop offset="1" stop-color="#7196c7"/></linearGradient><linearGradient id="gf202"><stop offset="0" stop-color="#7096c7"/><stop offset=".1358" stop-color="#7399c9"/><stop offset=".2761" stop-color="#7d9fcc"/><stop offset=".4689" stop-color="#7197c7"/><stop offset=".6486" stop-color="#7a9dcb"/><stop offset=".7362" stop-color="#91add3"/><stop offset=".8457" stop-color="#769aca"/><stop offset="1" stop-color="#7196c7"/></linearGradient><linearGradient id="gf203"><stop offset="0" stop-color="#7096c7"/><stop offset=".149" stop-color="#769ac9"/><stop offset=".2717" stop-color="#7fa0cd"/><stop offset=".4557" stop-color="#7197c8"/><stop offset=".6486" stop-color="#799dcb"/><stop offset=".7362" stop-color="#8daad2"/><stop offset=".8501" stop-color="#759ac9"/><stop offset="1" stop-color="#7196c7"/></linearGradient><linearGradient id="gf204"><stop offset="0" stop-color="#7096c7"/><stop offset=".1578" stop-color="#789bca"/><stop offset=".2673" stop-color="#81a2ce"/><stop offset=".447" stop-color="#7197c8"/><stop offset=".6486" stop-color="#799cca"/><stop offset=".7362" stop-color="#8aa8d1"/><stop offset=".8589" stop-color="#7499c9"/><stop offset="1" stop-color="#7096c7"/></linearGradient><linearGradient id="gf205"><stop offset="0" stop-color="#7096c7"/><stop offset=".1578" stop-color="#789cca"/><stop offset=".2673" stop-color="#83a3ce"/><stop offset=".4382" stop-color="#7197c8"/><stop offset=".6529" stop-color="#789cca"/><stop offset=".7406" stop-color="#87a6d0"/><stop offset=".8633" stop-color="#7398c9"/><stop offset="1" stop-color="#7096c7"/></linearGradient><linearGradient id="gf206"><stop offset="0" stop-color="#7096c7"/><stop offset=".1578" stop-color="#799cca"/><stop offset=".2673" stop-color="#83a3ce"/><stop offset=".4382" stop-color="#7197c8"/><stop offset=".6573" stop-color="#789cca"/><stop offset=".745" stop-color="#83a3cf"/><stop offset=".872" stop-color="#7398c8"/><stop offset="1" stop-color="#7096c7"/></linearGradient><linearGradient id="gf207"><stop offset="0" stop-color="#7196c7"/><stop offset=".1578" stop-color="#799cca"/><stop offset=".2673" stop-color="#83a3ce"/><stop offset=".4382" stop-color="#7197c8"/><stop offset=".6661" stop-color="#789cca"/><stop offset=".7493" stop-color="#80a1cd"/><stop offset=".8852" stop-color="#7297c8"/><stop offset="1" stop-color="#7096c7"/></linearGradient><linearGradient id="gf208"><stop offset="0" stop-color="#7196c7"/><stop offset=".1578" stop-color="#799cca"/><stop offset=".2673" stop-color="#83a3ce"/><stop offset=".4382" stop-color="#7197c8"/><stop offset=".6748" stop-color="#789cca"/><stop offset=".7537" stop-color="#7d9fcc"/><stop offset=".9071" stop-color="#7197c8"/><stop offset="1" stop-color="#7096c7"/></linearGradient><linearGradient id="gf209"><stop offset="0" stop-color="#7196c7"/><stop offset=".1578" stop-color="#799cca"/><stop offset=".2673" stop-color="#83a3ce"/><stop offset=".4382" stop-color="#7197c8"/><stop offset=".6836" stop-color="#779bca"/><stop offset=".7669" stop-color="#799ccb"/><stop offset=".9772" stop-color="#7096c7"/><stop offset="1" stop-color="#7096c7"/></linearGradient><linearGradient id="gf210"><stop offset="0" stop-color="#7196c7"/><stop offset=".1578" stop-color="#799cca"/><stop offset=".2673" stop-color="#83a3ce"/><stop offset=".4382" stop-color="#7197c8"/><stop offset=".7011" stop-color="#779bca"/><stop offset="1" stop-color="#7096c7"/></linearGradient><linearGradient id="gf211"><stop offset="0" stop-color="#6e95c6"/><stop offset=".1753" stop-color="#7b9ecb"/><stop offset=".2717" stop-color="#83a3ce"/><stop offset=".4382" stop-color="#7197c8"/><stop offset=".7888" stop-color="#7499c9"/><stop offset="1" stop-color="#7096c7"/></linearGradient></defs>
<rect x="1439.6" y="924.0" width="109.0" height="6.6" fill="url(#gf0)"/><rect x="1439.6" y="930.0" width="109.0" height="6.6" fill="url(#gf1)"/><rect x="1439.6" y="936.0" width="109.0" height="6.6" fill="url(#gf2)"/><rect x="1439.6" y="942.0" width="109.0" height="6.6" fill="url(#gf3)"/><rect x="1439.6" y="948.0" width="109.0" height="6.6" fill="url(#gf4)"/><rect x="1439.6" y="954.0" width="109.0" height="6.6" fill="url(#gf5)"/><rect x="1439.6" y="960.0" width="109.0" height="6.6" fill="url(#gf6)"/><rect x="1439.6" y="966.0" width="109.0" height="6.6" fill="url(#gf7)"/><rect x="1439.6" y="972.0" width="109.0" height="6.6" fill="url(#gf8)"/><rect x="1439.6" y="978.0" width="109.0" height="6.6" fill="url(#gf9)"/><rect x="1439.6" y="984.0" width="109.0" height="6.6" fill="url(#gf10)"/><rect x="1439.6" y="990.0" width="109.0" height="6.6" fill="url(#gf11)"/><rect x="1439.6" y="996.0" width="109.0" height="6.6" fill="url(#gf12)"/><rect x="1439.6" y="1002.0" width="109.0" height="3.6" fill="url(#gf13)"/><rect x="1439.6" y="1005.0" width="109.0" height="3.6" fill="url(#gf14)"/><rect x="1439.6" y="1008.0" width="109.0" height="3.6" fill="url(#gf15)"/><rect x="1439.6" y="1011.0" width="109.0" height="3.6" fill="url(#gf16)"/><rect x="1439.6" y="1014.0" width="109.0" height="3.6" fill="url(#gf17)"/><rect x="1439.6" y="1017.0" width="109.0" height="3.6" fill="url(#gf18)"/><rect x="1439.6" y="1020.0" width="109.0" height="3.6" fill="url(#gf19)"/><rect x="1439.6" y="1023.0" width="109.0" height="3.6" fill="url(#gf20)"/><rect x="1439.6" y="1026.0" width="109.0" height="3.6" fill="url(#gf21)"/><rect x="1439.6" y="1029.0" width="109.0" height="3.6" fill="url(#gf22)"/><rect x="1439.6" y="1032.0" width="109.0" height="3.6" fill="url(#gf23)"/><rect x="1439.6" y="1035.0" width="109.0" height="3.6" fill="url(#gf24)"/><rect x="1439.6" y="1038.0" width="109.0" height="3.6" fill="url(#gf25)"/><rect x="1439.6" y="1041.0" width="109.0" height="3.6" fill="url(#gf26)"/><rect x="1439.6" y="1044.0" width="109.0" height="3.6" fill="url(#gf27)"/><rect x="1439.6" y="1047.0" width="109.0" height="6.6" fill="url(#gf28)"/><rect x="1439.6" y="1053.0" width="109.0" height="3.6" fill="url(#gf29)"/><rect x="1439.6" y="1056.0" width="109.0" height="3.6" fill="url(#gf30)"/><rect x="1439.6" y="1059.0" width="109.0" height="3.6" fill="url(#gf31)"/><rect x="1439.6" y="1062.0" width="109.0" height="3.6" fill="url(#gf32)"/><rect x="1439.6" y="1065.0" width="109.0" height="3.6" fill="url(#gf33)"/><rect x="1439.6" y="1068.0" width="109.0" height="3.6" fill="url(#gf34)"/><rect x="1439.6" y="1071.0" width="109.0" height="3.6" fill="url(#gf35)"/><rect x="1439.6" y="1074.0" width="109.0" height="3.6" fill="url(#gf36)"/><rect x="1439.6" y="1077.0" width="109.0" height="3.6" fill="url(#gf37)"/><rect x="1439.6" y="1080.0" width="109.0" height="3.6" fill="url(#gf38)"/><rect x="1439.6" y="1083.0" width="109.0" height="3.6" fill="url(#gf39)"/><rect x="1439.6" y="1086.0" width="109.0" height="3.6" fill="url(#gf40)"/><rect x="1439.6" y="1089.0" width="109.0" height="45.6" fill="url(#gf41)"/><rect x="1439.6" y="1134.0" width="109.0" height="48.6" fill="url(#gf42)"/><rect x="1439.6" y="1182.0" width="109.0" height="48.6" fill="url(#gf43)"/><rect x="1439.6" y="1230.0" width="109.0" height="51.6" fill="url(#gf44)"/><rect x="1439.6" y="1281.0" width="109.0" height="51.6" fill="url(#gf45)"/><rect x="1439.6" y="1332.0" width="109.0" height="54.6" fill="url(#gf46)"/><rect x="1439.6" y="1386.0" width="109.0" height="54.6" fill="url(#gf47)"/><rect x="1439.6" y="1440.0" width="109.0" height="21.6" fill="url(#gf48)"/><rect x="1439.6" y="1461.0" width="109.0" height="3.6" fill="url(#gf49)"/><rect x="1439.6" y="1464.0" width="109.0" height="3.6" fill="url(#gf50)"/><rect x="1439.6" y="1467.0" width="109.0" height="3.6" fill="url(#gf51)"/><rect x="1439.6" y="1470.0" width="109.0" height="3.6" fill="url(#gf52)"/><rect x="1439.6" y="1473.0" width="109.0" height="3.6" fill="url(#gf53)"/><rect x="1439.6" y="1476.0" width="109.0" height="3.6" fill="url(#gf54)"/><rect x="1439.6" y="1479.0" width="109.0" height="3.6" fill="url(#gf55)"/><rect x="1439.6" y="1482.0" width="109.0" height="3.6" fill="url(#gf56)"/><rect x="1439.6" y="1485.0" width="109.0" height="3.6" fill="url(#gf57)"/><rect x="1439.6" y="1488.0" width="109.0" height="3.6" fill="url(#gf58)"/><rect x="1439.6" y="1491.0" width="109.0" height="3.6" fill="url(#gf59)"/><rect x="1439.6" y="1494.0" width="109.0" height="3.6" fill="url(#gf60)"/><rect x="1439.6" y="1497.0" width="109.0" height="3.6" fill="url(#gf61)"/><rect x="1439.6" y="1500.0" width="109.0" height="3.6" fill="url(#gf62)"/><rect x="1439.6" y="1503.0" width="109.0" height="3.6" fill="url(#gf63)"/><rect x="1439.6" y="1506.0" width="109.0" height="3.6" fill="url(#gf64)"/><rect x="1439.6" y="1509.0" width="109.0" height="3.6" fill="url(#gf65)"/><rect x="1439.6" y="1512.0" width="109.0" height="3.6" fill="url(#gf66)"/><rect x="1439.6" y="1515.0" width="109.0" height="3.6" fill="url(#gf67)"/><rect x="1439.6" y="1518.0" width="109.0" height="3.6" fill="url(#gf68)"/><rect x="1439.6" y="1521.0" width="109.0" height="3.6" fill="url(#gf69)"/><rect x="1439.6" y="1524.0" width="109.0" height="3.6" fill="url(#gf70)"/><rect x="1439.6" y="1527.0" width="109.0" height="3.6" fill="url(#gf71)"/><rect x="1439.6" y="1530.0" width="109.0" height="3.6" fill="url(#gf72)"/><rect x="1439.6" y="1533.0" width="109.0" height="3.6" fill="url(#gf73)"/><rect x="1439.6" y="1536.0" width="109.0" height="3.6" fill="url(#gf74)"/><rect x="1439.6" y="1539.0" width="109.0" height="3.6" fill="url(#gf75)"/><rect x="1439.6" y="1542.0" width="109.0" height="3.6" fill="url(#gf76)"/><rect x="1439.6" y="1545.0" width="109.0" height="3.6" fill="url(#gf77)"/><rect x="1439.6" y="1548.0" width="109.0" height="3.6" fill="url(#gf78)"/><rect x="1439.6" y="1551.0" width="109.0" height="3.6" fill="url(#gf79)"/><rect x="1439.6" y="1554.0" width="109.0" height="3.6" fill="url(#gf80)"/><rect x="1439.6" y="1557.0" width="109.0" height="3.6" fill="url(#gf81)"/><rect x="1439.6" y="1560.0" width="109.0" height="3.6" fill="url(#gf82)"/><rect x="1439.6" y="1563.0" width="109.0" height="3.6" fill="url(#gf83)"/><rect x="1439.6" y="1566.0" width="109.0" height="3.6" fill="url(#gf84)"/><rect x="1439.6" y="1569.0" width="109.0" height="3.6" fill="url(#gf85)"/><rect x="1439.6" y="1572.0" width="109.0" height="3.6" fill="url(#gf86)"/><rect x="1439.6" y="1575.0" width="109.0" height="3.6" fill="url(#gf87)"/><rect x="1439.6" y="1578.0" width="109.0" height="3.6" fill="url(#gf88)"/><rect x="1439.6" y="1581.0" width="109.0" height="3.6" fill="url(#gf89)"/><rect x="1439.6" y="1584.0" width="109.0" height="3.6" fill="url(#gf90)"/><rect x="1439.6" y="1587.0" width="109.0" height="3.6" fill="url(#gf91)"/><rect x="1439.6" y="1590.0" width="109.0" height="3.6" fill="url(#gf92)"/><rect x="1439.6" y="1593.0" width="109.0" height="3.6" fill="url(#gf93)"/><rect x="1439.6" y="1596.0" width="109.0" height="3.6" fill="url(#gf94)"/><rect x="1439.6" y="1599.0" width="109.0" height="3.6" fill="url(#gf95)"/><rect x="1439.6" y="1602.0" width="109.0" height="3.6" fill="url(#gf96)"/><rect x="1439.6" y="1605.0" width="109.0" height="3.6" fill="url(#gf97)"/><rect x="1439.6" y="1608.0" width="109.0" height="3.6" fill="url(#gf98)"/><rect x="1439.6" y="1611.0" width="109.0" height="3.6" fill="url(#gf99)"/><rect x="1439.6" y="1614.0" width="109.0" height="3.6" fill="url(#gf100)"/><rect x="1439.6" y="1617.0" width="109.0" height="3.6" fill="url(#gf101)"/><rect x="1439.6" y="1620.0" width="109.0" height="3.6" fill="url(#gf102)"/><rect x="1439.6" y="1623.0" width="109.0" height="3.6" fill="url(#gf103)"/><rect x="1439.6" y="1626.0" width="109.0" height="3.6" fill="url(#gf104)"/><rect x="1439.6" y="1629.0" width="109.0" height="3.6" fill="url(#gf105)"/><rect x="1439.6" y="1632.0" width="109.0" height="3.6" fill="url(#gf106)"/><rect x="1439.6" y="1635.0" width="109.0" height="6.6" fill="url(#gf107)"/><rect x="1439.6" y="1641.0" width="109.0" height="3.6" fill="url(#gf108)"/><rect x="1439.6" y="1644.0" width="109.0" height="3.6" fill="url(#gf109)"/><rect x="1439.6" y="1647.0" width="109.0" height="3.6" fill="url(#gf110)"/><rect x="1439.6" y="1650.0" width="109.0" height="3.6" fill="url(#gf111)"/><rect x="1439.6" y="1653.0" width="109.0" height="3.6" fill="url(#gf112)"/><rect x="1439.6" y="1656.0" width="109.0" height="3.6" fill="url(#gf113)"/><rect x="1439.6" y="1659.0" width="109.0" height="3.6" fill="url(#gf114)"/><rect x="1439.6" y="1662.0" width="109.0" height="3.6" fill="url(#gf115)"/><rect x="1439.6" y="1665.0" width="109.0" height="3.6" fill="url(#gf116)"/><rect x="1439.6" y="1668.0" width="109.0" height="3.6" fill="url(#gf117)"/><rect x="1439.6" y="1671.0" width="109.0" height="3.6" fill="url(#gf118)"/><rect x="1439.6" y="1674.0" width="109.0" height="3.6" fill="url(#gf119)"/><rect x="1439.6" y="1677.0" width="109.0" height="3.6" fill="url(#gf120)"/><rect x="1439.6" y="1680.0" width="109.0" height="3.6" fill="url(#gf121)"/><rect x="1439.6" y="1683.0" width="109.0" height="3.6" fill="url(#gf122)"/><rect x="1439.6" y="1686.0" width="109.0" height="3.6" fill="url(#gf123)"/><rect x="1439.6" y="1689.0" width="109.0" height="3.6" fill="url(#gf124)"/><rect x="1439.6" y="1692.0" width="109.0" height="3.6" fill="url(#gf125)"/><rect x="1439.6" y="1695.0" width="109.0" height="3.6" fill="url(#gf126)"/><rect x="1439.6" y="1698.0" width="109.0" height="3.6" fill="url(#gf127)"/><rect x="1439.6" y="1701.0" width="109.0" height="3.6" fill="url(#gf128)"/><rect x="1439.6" y="1704.0" width="109.0" height="3.6" fill="url(#gf129)"/><rect x="1439.6" y="1707.0" width="109.0" height="3.6" fill="url(#gf130)"/><rect x="1439.6" y="1710.0" width="109.0" height="3.6" fill="url(#gf131)"/><rect x="1439.6" y="1713.0" width="109.0" height="3.6" fill="url(#gf132)"/><rect x="1439.6" y="1716.0" width="109.0" height="3.6" fill="url(#gf133)"/><rect x="1439.6" y="1719.0" width="109.0" height="3.6" fill="url(#gf134)"/><rect x="1439.6" y="1722.0" width="109.0" height="3.6" fill="url(#gf135)"/><rect x="1439.6" y="1725.0" width="109.0" height="3.6" fill="url(#gf136)"/><rect x="1439.6" y="1728.0" width="109.0" height="3.6" fill="url(#gf137)"/><rect x="1439.6" y="1731.0" width="109.0" height="3.6" fill="url(#gf138)"/><rect x="1439.6" y="1734.0" width="109.0" height="3.6" fill="url(#gf139)"/><rect x="1439.6" y="1737.0" width="109.0" height="3.6" fill="url(#gf140)"/><rect x="1439.6" y="1740.0" width="109.0" height="3.6" fill="url(#gf141)"/><rect x="1439.6" y="1743.0" width="109.0" height="3.6" fill="url(#gf142)"/><rect x="1439.6" y="1746.0" width="109.0" height="3.6" fill="url(#gf143)"/><rect x="1439.6" y="1749.0" width="109.0" height="3.6" fill="url(#gf144)"/><rect x="1439.6" y="1752.0" width="109.0" height="3.6" fill="url(#gf145)"/><rect x="1439.6" y="1755.0" width="109.0" height="3.6" fill="url(#gf146)"/><rect x="1439.6" y="1758.0" width="109.0" height="3.6" fill="url(#gf147)"/><rect x="1439.6" y="1761.0" width="109.0" height="3.6" fill="url(#gf148)"/><rect x="1439.6" y="1764.0" width="109.0" height="3.6" fill="url(#gf149)"/><rect x="1439.6" y="1767.0" width="109.0" height="3.6" fill="url(#gf150)"/><rect x="1439.6" y="1770.0" width="109.0" height="3.6" fill="url(#gf151)"/><rect x="1439.6" y="1773.0" width="109.0" height="3.6" fill="url(#gf152)"/><rect x="1439.6" y="1776.0" width="109.0" height="3.6" fill="url(#gf153)"/><rect x="1439.6" y="1779.0" width="109.0" height="6.6" fill="url(#gf154)"/><rect x="1439.6" y="1785.0" width="109.0" height="3.6" fill="url(#gf155)"/><rect x="1439.6" y="1788.0" width="109.0" height="3.6" fill="url(#gf156)"/><rect x="1439.6" y="1791.0" width="109.0" height="3.6" fill="url(#gf157)"/><rect x="1439.6" y="1794.0" width="109.0" height="3.6" fill="url(#gf158)"/><rect x="1439.6" y="1797.0" width="109.0" height="3.6" fill="url(#gf159)"/><rect x="1439.6" y="1800.0" width="109.0" height="3.6" fill="url(#gf160)"/><rect x="1439.6" y="1803.0" width="109.0" height="3.6" fill="url(#gf161)"/><rect x="1439.6" y="1806.0" width="109.0" height="3.6" fill="url(#gf162)"/><rect x="1439.6" y="1809.0" width="109.0" height="3.6" fill="url(#gf163)"/><rect x="1439.6" y="1812.0" width="109.0" height="3.6" fill="url(#gf164)"/><rect x="1439.6" y="1815.0" width="109.0" height="1.0" fill="url(#gf165)"/><rect x="1548" y="924.0" width="228.2" height="6.6" fill="url(#gf166)"/><rect x="1548" y="930.0" width="228.2" height="6.6" fill="url(#gf167)"/><rect x="1548" y="936.0" width="228.2" height="6.6" fill="url(#gf168)"/><rect x="1548" y="942.0" width="228.2" height="6.6" fill="url(#gf169)"/><rect x="1548" y="948.0" width="228.2" height="6.6" fill="url(#gf170)"/><rect x="1548" y="954.0" width="228.2" height="6.6" fill="url(#gf171)"/><rect x="1548" y="960.0" width="228.2" height="12.6" fill="url(#gf172)"/><rect x="1548" y="972.0" width="228.2" height="12.6" fill="url(#gf173)"/><rect x="1548" y="984.0" width="228.2" height="12.6" fill="url(#gf174)"/><rect x="1548" y="996.0" width="228.2" height="12.6" fill="url(#gf175)"/><rect x="1548" y="1008.0" width="228.2" height="12.6" fill="url(#gf176)"/><rect x="1548" y="1020.0" width="228.2" height="9.6" fill="url(#gf177)"/><rect x="1548" y="1029.0" width="228.2" height="9.6" fill="url(#gf178)"/><rect x="1548" y="1038.0" width="228.2" height="9.6" fill="url(#gf179)"/><rect x="1548" y="1047.0" width="228.2" height="9.6" fill="url(#gf180)"/><rect x="1548" y="1056.0" width="228.2" height="12.6" fill="url(#gf181)"/><rect x="1548" y="1068.0" width="228.2" height="12.6" fill="url(#gf182)"/><rect x="1548" y="1080.0" width="228.2" height="12.6" fill="url(#gf183)"/><rect x="1548" y="1092.0" width="228.2" height="12.6" fill="url(#gf184)"/><rect x="1548" y="1104.0" width="228.2" height="18.6" fill="url(#gf185)"/><rect x="1548" y="1122.0" width="228.2" height="18.6" fill="url(#gf186)"/><rect x="1548" y="1140.0" width="228.2" height="18.6" fill="url(#gf187)"/><rect x="1548" y="1158.0" width="228.2" height="18.6" fill="url(#gf188)"/><rect x="1548" y="1176.0" width="228.2" height="18.6" fill="url(#gf189)"/><rect x="1548" y="1194.0" width="228.2" height="324.6" fill="url(#gf190)"/><rect x="1548" y="1518.0" width="228.2" height="21.6" fill="url(#gf191)"/><rect x="1548" y="1539.0" width="228.2" height="27.6" fill="url(#gf192)"/><rect x="1548" y="1566.0" width="228.2" height="27.6" fill="url(#gf193)"/><rect x="1548" y="1593.0" width="228.2" height="24.6" fill="url(#gf194)"/><rect x="1548" y="1617.0" width="228.2" height="9.6" fill="url(#gf195)"/><rect x="1548" y="1626.0" width="228.2" height="9.6" fill="url(#gf196)"/><rect x="1548" y="1635.0" width="228.2" height="9.6" fill="url(#gf197)"/><rect x="1548" y="1644.0" width="228.2" height="9.6" fill="url(#gf198)"/><rect x="1548" y="1653.0" width="228.2" height="9.6" fill="url(#gf199)"/><rect x="1548" y="1662.0" width="228.2" height="9.6" fill="url(#gf200)"/><rect x="1548" y="1671.0" width="228.2" height="9.6" fill="url(#gf201)"/><rect x="1548" y="1680.0" width="228.2" height="6.6" fill="url(#gf202)"/><rect x="1548" y="1686.0" width="228.2" height="6.6" fill="url(#gf203)"/><rect x="1548" y="1692.0" width="228.2" height="6.6" fill="url(#gf204)"/><rect x="1548" y="1698.0" width="228.2" height="6.6" fill="url(#gf205)"/><rect x="1548" y="1704.0" width="228.2" height="6.6" fill="url(#gf206)"/><rect x="1548" y="1710.0" width="228.2" height="6.6" fill="url(#gf207)"/><rect x="1548" y="1716.0" width="228.2" height="12.6" fill="url(#gf208)"/><rect x="1548" y="1728.0" width="228.2" height="18.6" fill="url(#gf209)"/><rect x="1548" y="1746.0" width="228.2" height="63.6" fill="url(#gf210)"/><rect x="1548" y="1809.0" width="228.2" height="7.0" fill="url(#gf211)"/>
<text x="1680" y="1789.6" font-size="30" fill="#ffffff" stroke="#ffffff" stroke-width="0.5">Cu<tspan dy="7" font-size="19">3</tspan><tspan dy="-7">N</tspan></text>
<rect x="1439.6" y="924" width="336.6" height="892" fill="none" stroke="#000" stroke-width="3.2"/>
<line x1="1439.6" y1="1816" x2="1439.6" y2="1820" stroke="#231f20" stroke-width="3"/>
<line x1="1491.2" y1="1816" x2="1491.2" y2="1822" stroke="#231f20" stroke-width="3"/>
<text x="1491.2" y="1853.1" font-size="30.5" text-anchor="middle" fill="#231f20" stroke="#231f20" stroke-width="0.5">1200</text>
<line x1="1542.9" y1="1816" x2="1542.9" y2="1820" stroke="#231f20" stroke-width="3"/>
<line x1="1594.5" y1="1816" x2="1594.5" y2="1822" stroke="#231f20" stroke-width="3"/>
<text x="1594.5" y="1853.1" font-size="30.5" text-anchor="middle" fill="#231f20" stroke="#231f20" stroke-width="0.5">1400</text>
<line x1="1646.2" y1="1816" x2="1646.2" y2="1820" stroke="#231f20" stroke-width="3"/>
<line x1="1697.8" y1="1816" x2="1697.8" y2="1822" stroke="#231f20" stroke-width="3"/>
<text x="1697.8" y="1853.1" font-size="30.5" text-anchor="middle" fill="#231f20" stroke="#231f20" stroke-width="0.5">1600</text>
<line x1="1749.5" y1="1816" x2="1749.5" y2="1820" stroke="#231f20" stroke-width="3"/>
<text x="1608" y="1897.3" font-size="32.4" text-anchor="middle" fill="#231f20" stroke="#231f20" stroke-width="0.5">Wavenumber (cm<tspan dy="-13" font-size="21">-1</tspan><tspan dy="13">)</tspan></text>
<rect x="1793.8" y="1800.1" width="58.8" height="18.9" fill="#2e68b1"/>
<rect x="1793.8" y="1781.5" width="58.8" height="18.9" fill="#356cb3"/>
<rect x="1793.8" y="1762.9" width="58.8" height="18.9" fill="#3b70b5"/>
<rect x="1793.8" y="1744.3" width="58.8" height="18.9" fill="#4275b7"/>
<rect x="1793.8" y="1725.8" width="58.8" height="18.9" fill="#4879b9"/>
<rect x="1793.8" y="1707.2" width="58.8" height="18.9" fill="#4f7ebc"/>
<rect x="1793.8" y="1688.6" width="58.8" height="18.9" fill="#5582be"/>
<rect x="1793.8" y="1670" width="58.8" height="18.9" fill="#5c88c0"/>
<rect x="1793.8" y="1651.4" width="58.8" height="18.9" fill="#638cc2"/>
<rect x="1793.8" y="1632.9" width="58.8" height="18.9" fill="#6992c5"/>
<rect x="1793.8" y="1614.3" width="58.8" height="18.9" fill="#7096c7"/>
<rect x="1793.8" y="1595.7" width="58.8" height="18.9" fill="#779bca"/>
<rect x="1793.8" y="1577.1" width="58.8" height="18.9" fill="#7d9fcc"/>
<rect x="1793.8" y="1558.5" width="58.8" height="18.9" fill="#84a4cf"/>
<rect x="1793.8" y="1540" width="58.8" height="18.9" fill="#8ba9d1"/>
<rect x="1793.8" y="1521.4" width="58.8" height="18.9" fill="#93afd4"/>
<rect x="1793.8" y="1502.8" width="58.8" height="18.9" fill="#9bb5d7"/>
<rect x="1793.8" y="1484.2" width="58.8" height="18.9" fill="#a3bbda"/>
<rect x="1793.8" y="1465.6" width="58.8" height="18.9" fill="#aac1dd"/>
<rect x="1793.8" y="1447.1" width="58.8" height="18.9" fill="#b3c7e0"/>
<rect x="1793.8" y="1428.5" width="58.8" height="18.9" fill="#becfe4"/>
<rect x="1793.8" y="1409.9" width="58.8" height="18.9" fill="#c9d7e9"/>
<rect x="1793.8" y="1391.3" width="58.8" height="18.9" fill="#dde4ef"/>
<rect x="1793.8" y="1372.8" width="58.8" height="18.9" fill="#f1f3f7"/>
<rect x="1793.8" y="1354.2" width="58.8" height="18.9" fill="#ffffff"/>
<rect x="1793.8" y="1335.6" width="58.8" height="18.9" fill="#f8f4f7"/>
<rect x="1793.8" y="1317" width="58.8" height="18.9" fill="#f2e8ef"/>
<rect x="1793.8" y="1298.4" width="58.8" height="18.9" fill="#ebdee8"/>
<rect x="1793.8" y="1279.9" width="58.8" height="18.9" fill="#e4d3e1"/>
<rect x="1793.8" y="1261.3" width="58.8" height="18.9" fill="#dec9da"/>
<rect x="1793.8" y="1242.7" width="58.8" height="18.9" fill="#d8bfd3"/>
<rect x="1793.8" y="1224.1" width="58.8" height="18.9" fill="#d3b6cd"/>
<rect x="1793.8" y="1205.5" width="58.8" height="18.9" fill="#ceadc7"/>
<rect x="1793.8" y="1187" width="58.8" height="18.9" fill="#c9a4c1"/>
<rect x="1793.8" y="1168.4" width="58.8" height="18.9" fill="#c49cbb"/>
<rect x="1793.8" y="1149.8" width="58.8" height="18.9" fill="#bf95b6"/>
<rect x="1793.8" y="1131.2" width="58.8" height="18.9" fill="#bb8db1"/>
<rect x="1793.8" y="1112.6" width="58.8" height="18.9" fill="#b686ac"/>
<rect x="1793.8" y="1094.1" width="58.8" height="18.9" fill="#b27ea7"/>
<rect x="1793.8" y="1075.5" width="58.8" height="18.9" fill="#ad78a2"/>
<rect x="1793.8" y="1056.9" width="58.8" height="18.9" fill="#a9719d"/>
<rect x="1793.8" y="1038.3" width="58.8" height="18.9" fill="#a46a98"/>
<rect x="1793.8" y="1019.7" width="58.8" height="18.9" fill="#a06493"/>
<rect x="1793.8" y="1001.2" width="58.8" height="18.9" fill="#9c5d8e"/>
<rect x="1793.8" y="982.6" width="58.8" height="18.9" fill="#98558a"/>
<rect x="1793.8" y="964" width="58.8" height="18.9" fill="#944e84"/>
<rect x="1793.8" y="945.4" width="58.8" height="18.9" fill="#904680"/>
<rect x="1793.8" y="926.9" width="58.8" height="18.9" fill="#8c3f7a"/>
<rect x="1793.8" y="927" width="58.8" height="891.8" fill="none" stroke="#000" stroke-width="3.4"/>
<line x1="1852.6" y1="1044" x2="1860" y2="1044" stroke="#000" stroke-width="3"/>
<text x="1876.3" y="1055.5" font-size="28.2" fill="#231f20" stroke="#231f20" stroke-width="0.5">4.4&#215;10<tspan dy="-12" font-size="20">-2</tspan></text>
<line x1="1852.6" y1="1184.8" x2="1860" y2="1184.8" stroke="#000" stroke-width="3"/>
<text x="1876.3" y="1196.3" font-size="28.2" fill="#231f20" stroke="#231f20" stroke-width="0.5">3.4&#215;10<tspan dy="-12" font-size="20">-2</tspan></text>
<line x1="1852.6" y1="1325.7" x2="1860" y2="1325.7" stroke="#000" stroke-width="3"/>
<text x="1876.3" y="1337.2" font-size="28.2" fill="#231f20" stroke="#231f20" stroke-width="0.5">2.4&#215;10<tspan dy="-12" font-size="20">-2</tspan></text>
<line x1="1852.6" y1="1466.5" x2="1860" y2="1466.5" stroke="#000" stroke-width="3"/>
<text x="1876.3" y="1478" font-size="28.2" fill="#231f20" stroke="#231f20" stroke-width="0.5">1.4&#215;10<tspan dy="-12" font-size="20">-2</tspan></text>
<line x1="1852.6" y1="1607.4" x2="1860" y2="1607.4" stroke="#000" stroke-width="3"/>
<text x="1876.3" y="1618.9" font-size="28.2" fill="#231f20" stroke="#231f20" stroke-width="0.5">3.6&#215;10<tspan dy="-12" font-size="20">-3</tspan></text>
<line x1="1852.6" y1="1748.2" x2="1860" y2="1748.2" stroke="#000" stroke-width="3"/>
<text x="1876.3" y="1759.8" font-size="28.2" fill="#231f20" stroke="#231f20" stroke-width="0.5">-6.4&#215;10<tspan dy="-12" font-size="20">-3</tspan></text>
</svg>
</body></html>
